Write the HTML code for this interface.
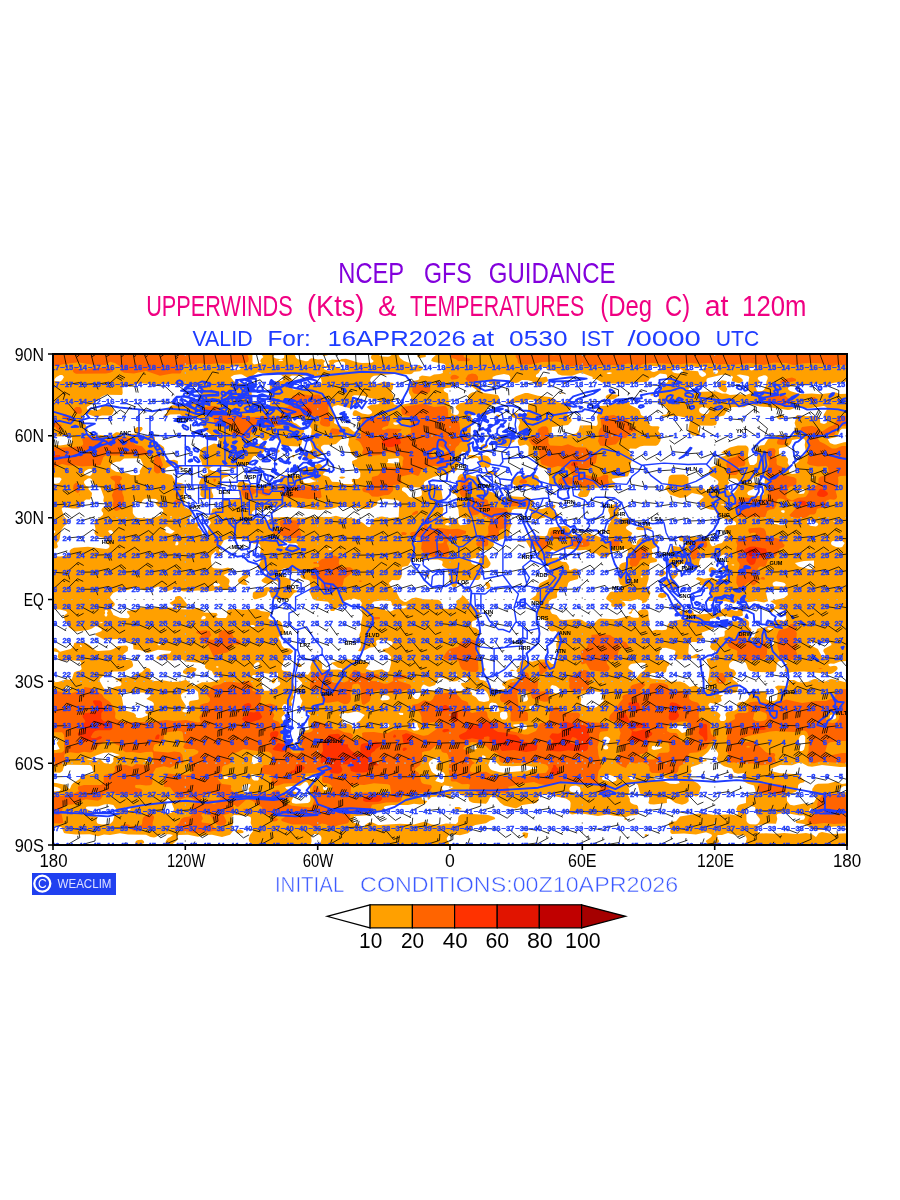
<!DOCTYPE html><html><head><meta charset="utf-8"><title>NCEP GFS GUIDANCE</title><style>html,body{margin:0;padding:0;background:#fff;width:900px;height:1200px;overflow:hidden}svg{display:block}text{font-family:"Liberation Sans",sans-serif}.n text{font-weight:bold}</style></head><body>
<svg width="900" height="1200" viewBox="0 0 900 1200">
<rect width="900" height="1200" fill="#fff"/>
<defs><clipPath id="mc"><rect x="53.0" y="354.0" width="794.0" height="491.0"/></clipPath></defs>
<g clip-path="url(#mc)">
<rect x="53.0" y="354.0" width="794.0" height="491.0" fill="#ffa000"/>
<path fill="#ffffff" d="M254 352l7.8 0 0 3 1.6 2-2.3 2-.9 2 1.1 2-7.3 1.4-1.5-1.4-.1-11 1.6 0zM282 352l2.9 0-.9 5.8-2 1-2 .1-4-.5-2.9-1.4 .9-1.7 6.6-.3 0-3 1.4 0zM296 352l26.4 0 0 3 1.6 .9 4.5-.9 0-3 43.3 0 0 3-1 2 .6 2 2.4 2-1.8 1.7-10 .3-4-.5-12-3.8-4.6 .3-1.4 1.1-8-.6-3.9 1.5 1.8 2-3.9 3.2-2-.5-.1-.7-.3-2 1.7-2-3.3-1.9-4 .3-6-1.2-2 .6-1.9 2.2-2.1 .3-8-2-2-1.6-1.1-2.7 0-3 1.1 0zM380 352l11.6 0 0 3-1.6 1.3-2 .4-6-.2-3.3-1.5 0-3 1.3 0zM400 352l17.6 0-.2 5 2.6 1 5.7-1 .2-5 9.9 0 0 3-3.8 3.6-.8 2.4 2.8 1.1 10 1.6 1.6 1.3-.1 2-2.8 4 .2 2-2.9 1-6 .5-4 2-8-1-2.9 1.5 .2 2-1.3 1.1-6 1.1-3.3 1.8-.9 2 1.1 4 0 4 2.3 4-.7 6-12.5 2.6-4-1.3-1.3-3.3 .9-6-1.9-2-.6-2 1.6-2 .8-6-9.5-1.4-8 2.6-4-1-1.8-2.2 .1-2 1.5-2 2.2-1.3 20-1.7 16 .3 2-.6 2-1.9 6-.6 3-2.2-.6-2-2.4-1.7-2-.3-6 2.4-2-2.4-.2-2-5.8-2.1-4-2.8-1.4-3.1 0-3 1.4 0zM278 360.9l2-1.3 2-.1 1.2 1.5-5.2-.1zM336 362.2l4-1 4 .5 1.1 1.3-.1 2 1 1.2 2.3 .8 .3 2-.6 1.5-2 0-10-3.6-2.6-1.9 .8-2 1.8-.8zM232 366.7l6-.4 3.2 .7-1.2 2.4-6 1.2-3.5-1.6 .5-2 1-.3zM542 367l5 0-.9 2 1.9 1.3 6.6 .7 1.4 .5 2 2.7 4 1.4 10 .2 8-2.7 4 .6 8.6 3.3 .1 2 3.3 .1 6 3.3 4 1.1 22 .2 6-1.1 12-.5 2.1-1.1 1.9-2.5 2-1 2 .1 6-4 6 .6 .8 .8 1.2 6.5-2 2.1-4 0-2 .9-.5 .5 .5 .5 2.9 1.5-1.4 2-5.4 4 1.9 1.3 .8 2.7-.4 6 1.6 1.8 6 1.9 2.1 4.3-.5 2-1.6 1.4-4.5 .6 .5 1.4 16-.4 10 1.9 1.5 1.1 .5 2-1.9 10 1.9 2.7 2 1.3 4 .9 2 0 1.5-.9 .1-2-1.8-4 .4-2 1.8-1.6 12 .4 4-.7 .8-2.1-.6-4 1.5-2 6.3-1.4 4-6.1 2-1.6 2.7-.9 11.3 .3 4-2.1 4-.5 8 1.9 8.1 .4 19.9 2.9 2-.1 8-2.8 10 1.5 16-2.4 2.2 .9 1 2-3.7 6 .6 2 2.2 2 .9 2-.7 2-2.5 1-3.6-1-.6-4-.7-2-1.1-.5-2-.6-10 .3-8.9-1.2-1.5 2 .2 2-1.2 4 1.2 4-2 4 .2 4.5-2 1.9-6-2.6-6-.4-8 3.7-2-.4-2 1.4-3.7 5.9-4.3 .6-3.9 3.4-1 2 2.1 4-.1 6-.6 2-2.5 1.9-4.1 .1-1.4-4-.5-6 .7-6-.7-2-2-1.4-8-.1-8 1.9-6.5 3.6-2.6 2 3.1 .5 2 1.5-2 1.2-4 .5-2 2.4-2 6.5-4.2 1.4-1.8 1.8-1.2 4.2 1.2 2.6 6 3.3 2.2 2.1 .2 2-2.4 3.4-6.3 .6-1.7 3-2 1.6-1.3-2.6-2.7-1.4-10 .5-2-1.9-1.5-3.2-.1-6-4.4-2.6-12 .4-2 .7-1.2 1.5-1.1 8-1.9 2-.7 2 .9 .3 4 5.1 10 3.5 6-.7 6-4.2 9.5 2 2.4 2-4.5 4-.8 2 1.4 2.8 10 3.6 4 .5 1.7 1.1 .4 2 1.9 2.8 7 3.2 5 3.6 1.8-1.6 2.2-.2 2.3 2.2-.5 2-7.8 .6-2 1.3-1.5 2.1 .5 2 2.9 4-.6 2-2.5 2-2.8 4-4 1-4 2.1-2 .2-2-3.1-.7-4.2-1.3-1.7-2-.7-10 .4-14-1.2-2 .8-1.2 2.4 1.1 2 6.1 1 .7 3-.7 1.4-6 .6-8-1.2-2.2 5.2-.1 2 1.5 2 .3 2-3.1 4 .2 2 2 4 3.4 1.2 2-.2 4-3.6 2-.9 2 .1 6 3.8 6 1.2 2.7-1.6 .8-6 1-2 1.5-1 8-.4 6 1.3 6.5-3.9 1.5-.6 2 .7 1.2 1.9-.1 8-4.5 2-1.3 2 4 2 1.7 2-1 4.9-1.3 1.1-8.7 .3-4-1.9-8 1.4-6-1.9-2.3 2.1 4.2 2 .6 4 5.5 1.3 2.9 2.7 2.1 6-3.6 4 1.8 2 16.8 .3 8 2.2 3.3-2.5 2.7-.8 8 2.1 8-1.2 8 1.3 4.6-1.4-.6 0-.6-2-1.3-6 .9-2 3-2.2 2-.4 6 1.2 6-.5 2 1.2 1.8 2.7 0 2-3.8 3-13.9 3 5.9 4-2 3.5-4-.3-2.5 .8 2.5 3.8 2-.4 2-2.9 2-.5 6 .4 2 1.2 2.1 6.4 .1 2-2.2 1.9-6-1.5-10 5-.8 .6 0 2-9.2 1.6-.8 .4-3.1 8-2.1 .6-2.2-.6 .1-4 1.5-2-.2-2-2.4-2 .4-4-.8-2-4.4-3.3-4.9 3.3-7.1 .5-3.6 1.5-1.1 2 1.6 2-1 2-3.3 2 .1 4-.7 1.4-4 .6-8.1 4-1.9 6.1 2 2.7 4 1.2 .3 2-1.5 4-8.5 2 3.4 10-.9 8-1.2 4 1.3 4-.9 4.4-2 .9-4-.6-6-4.2-6.2 1.5-5.1-4-4.7-1.5-10 .2-4-1.8-14-1.2-3.1-1.7 .3-2 2.8-2 6.2 0 1.8-1.4 2 0 2 1.1 2-.6 1-5.1 2.2-2 0-2-1.2-1.1-7.6-2.9-1.6-2 1.8-8 1.4-1.1 4-.1 8 2.1 1.6 1.1-1 4 .7 4 .7 .3 10 .2 6-1.3 6 .1 1.9-1.3-.4-2-1.5-1.1-2 .2-4 2-2.7-1.1-1-2 .6-8 1.1-2 2-.9 6-.1 5.4-3 .2-2-1.9-2-.3-2 .6-.6 12-4.1 .5-1.3-2.5-.4-2.6-1.6 .6-6 14-3.2 8 1.7 10-1.6 1-.9-.5-2 .4-2 7.1-4-2-1.4-4-.4-5.1 1.8-.9 3.3-1 .7-3-.4-6-2.7-2-.1-3.8 1.2-2.2 2.9-2 .8-6-.3-6 1.7-10 .4-2-.6-1.1-2.9-2.9-1-10 1.1-1.3 1.9 1.3 1.5 2 1.5 4.4 1-.4 .4-2.7 1.6-13.3 2.7-2.5 3.3-.7 4-.8 .7-4 .6-6-.6-4 1.4-3.8-6.1 1.4-4-1.1-4 0-4-.5-2.2-2-1.6-4 .2-3.7 1.6-.4 2 1.2 4-1.1 .8-4 0-3-.8-1-1.2-14 3.5-16-.7-2 .9-4 4.1-2 .6-6-1.7-4-2.4-4-1.1-14 1-4-.6-3.5-4.4-4.5-1.3-1.6-2.7 0-2-1.9-6 .5-2 3-2.1 4-.7 1.2-1.2-.4-4 1.3-2 1.9-1.4 6-1.3 1.1-1.3 1.1-4 1.8-1.7 8-2.3 1.2-6-1.2-3.6-2-1-2 .1-4 1.7-1.1-1.2 .3-2-.8-2-1.5-2-.9-.9-4-.3-1.4-.8-2.6-3.6-6 .5-2-.8 0-5.3 2-2.1 6 2.2 .7-.9 7.3-2.3 5.9 .3 6.1 1.4 8-.6 3.4 1.2 .6 2 2 .6 4-.3 4 3.2 6 .8 2-.5 3.8-5.8 6.2 .1 6-2 2.7-.1 1.5 2-1.1 4 .1 4-1.2 3.1-4 .9-2.5 2-1.1 14 1.6 5.2 4.1 2.8-6.1 4.6-2 .6-4-.7-2 .7-3.4 4.8-.5 2 5.4 4-.4 2 .9 1.5 2 .5 10-.5 1.8-1.5-1.8-3-2.6-1 .6-.3 8 .5 8-2.1 4.2 1.9-.2 2.3 4-1.1 2-2.4 2.5-6.8-.7-2-2.7-2-.9-2 2.4-8 .1-4-.8-2 1.6-6-.4-2 1.3-2 5.6-1.1 1.2-.9-.6-2-4.6-2 0-2.9 1.2-1.1-1.2-1.4-.2-2.6 4.2-1.8 2.7-6.2-1.3-2-1.4-.5-14-.6-2 .4-2.8 2.7-.9 4-2.3 .1-2-.9-.7-1.2-.8-6 1.8-4-6-4-.3-2 5.7-4 0-2-3.7-3.1-8 .9-3.2-1.8-.6-2 2-2 .6-6-.8-2.3-2-.7-4.2 1-2.6 2-.9 2 0 2 1.7 4-.6 4 1.7 2-2.7 4-1.1 4-.2 2 2.2 4-.5 2-2.8 2.2-2-.2-8-3.4-10-2.6-8.1 2-5.9 .1-2.2-6.1-1.8-2.1-2-1-2 0-14 1.9-1.1 1.2-1.8 6-1.1 1.2-14-1-2 .6-3.2 3.2-.8 1.8-6-.9-3 1.1 1 1.1 8-.9 4 6.9 7.7 2.9 .9 2-.9 4 2.3 2.2 6 1.8-1.2 2 4.1 4 .6 2-1.7 4 .7 6-8.5 4.3-1.1 1.7-2.9 10.2-5.2 3.8 7.2 3 1.5 3-.6 4-3.2 4 6.3 6 4.8 2 .4 2-1 2 3.8 5.8 2 .7 4-.4 1.3 1.9-1.8 4 2.7 4-1.8 2-.2 2 1.8 14-2 3.6-2 1.3-2 .2-4-3.9-2-.8-6 0-8 2.3-10-1.8-2 2.9-.5 4.2-2.3 2-.9 2 2 2-.1 2-1.1 2-1.1 1.2-6 1.1-7.5 3.7-.3 2 2.9 2 0 2-7.1 1.1-6-1.8-2.3-1.3-3.7-5.3-2-1.2-4-.8-1.7-2.7 2.5-4 3.5-2 1.4-2-3.7-2-.3-2 1-4-2.1-4-1.1-6 .7-8-1.6-6 1.2-6-3.8-3.1-4.1-.9-.5-4 1.3-2 3.3-1 2-1.7 1.7-5.3-1.7-3.4-8-5.8-2-3.3-4-4.2-2-1.2-.4 1.9-5.5 4 .7 4-.8 2.3-4 1.6-8-.2-1.9-1.7-.5-4-1.2-2-2.4-1.2-14-.6-8-1.8-4 .9-6 3.7-2-.2-4-2.7-3.1-6.1-.1-2-.8-.9-2 0-4.2-5.1-.9-2 3.1-2.9 6 .1 2-.7 1.4-2.5 .8-4-.6-4 .8-2 5.6-1.3 4-6.4 2-.7 6 .9 18-.1 4.4 1.6 .3 2-.8 2 1.9 2 4.1 2 .3 4 1.4 4-.2 4 2.6 5.2 2 1.2 2-.7 2.4-5.7 1.6-.8 18-.2 1.6-1 1-2 0-6 1.3-2 6.1-1.2 2.3-2.8 .3-2-4.6-8-6 1.8-1-3.8 1-2 2-.7 6-.2 2-1.2 4.1-3.9-1.2-4 5.1-.6 10-3.5 1.3-1.9 .5-6 1.5-4 0-2-1.5-4 2.2-9 2.3-1 3.7-.3 12 .7 1 1.6-.1 6 3.1 1.9 4 0 8-1.7 10 2.6 2-1.1 .8-3.7-2.8-2.8-2.4-1.2-.1-2 1.8-2 0-2-3.3-.6-2 .5-4 2.8-4 1.4-4 .1-6-1.5 .3-2.7 1.8-2-.2-2-3.9-2.8-2-.8-16-1.1-6 1.5-4.9-.8-5.1-1.9-1.8-2.1-12.2-4.2-1.1-1.8 .5-4-3.4-5.5-2-1.1-4-.5-4-2-4-.4-4 1.1-2.1 2.4-1.9 11.1-4 2.1-.3 .8 1.5 2 2.8 1.9 1.2 2.1 .4 2-1.6 6 2.4 4 .7 8 6.9 1.5 1.3 2.5 .3 2-1.6 1.7-6 .5-1.6-2.2-.4-4-2-.5-6 .4-7.1-1.9-.7-2 1.4-6-2.4-6 1.5-4-1.5-10-3.2-2.5-4-1.1-4-.8-4 .7-2.4-.3 .4-2.4 1.5-1.6 7.8-4 6.7-1.9 7.1-.1 4.9-3.5 4-.6 1.5-1.9-.3-2 2.3-4 .1-4 1.2-2 .4-4 .8-1.6 6 1.4 2-.6 1.2-1.2-1.2-6 .3-4 1-2-.8-6 .4-6 .4-2 2.5-2 .9-2-3.8-4 .8-2 2.3-.6 13.8 .6 2-2-3.6-2 .3-2 3.5-3.5 2-1 6-.6 2-.9-.9-6-1.4-2-13.8-2-3.9-2 2.7-2-2.7-2-.8-2 1-2 3.8-2.8 2-.3 2 .2 .9 .9 0 2 3.1 1.5 4 .2 2-.6 2.1-1.1 .1-2-7.6-2 0-2 3.4-1.6 8-1.5 4.8 1.1 1.5 2-.3 4 2 1.6 4 .5 2-.5 4-2.6 6 .3 4 1 6 5.3 3.2 .4 3.3-4 3.8-2-1.5-4-.8-.3-6 1.1-4-.8 0-2 2.7-2 3.3-6zM563.8 381l.2 2.3 2 .5 1.2-.8 .3-2-1.5-.6-2.2 .6zM593.8 391l.8 0-.8 0zM525 393l-9 3.3-4 2.9-7.4 3.8 17.4-.5 2-.4 2-1.5 4-1 4 .4 2.3 1-2.3 2-4 .4-2 1.5 .1 6.1-2.1 3.4-2 .3-10-1.9-2 .7-.2 3.5 6.2 2.2 1.7 1.8 .1 2-1.4 4 1.3 10-2.1 4 1.1 4 1.3 1 6-1.4 2 1.5 .6 .9-.3 8 1.7 1.8 6 1.6 1.2 2.6 .4 4 2.4 2 5.9 2 2 2 1.4 8-.7 6 1.4 1.2 8 .1 8 1.7 8-1 4 .8 1.9 1.2 .3 2-2.6 4 2.4 2.3 6-.2 2-1.3 2.8-6.8 1.2-.7 8-.9 10 .6 3.9-1 1.8-4-3.2-2-.5-2.3 16-2.5 3-7.2-.9-4 1.6-4 .6-4-.7-2-3.3-4 1.7-2.5 6 .2 4-2.3 4-.7 12 .1 2-1.1 2.4-3.7 .9-6-3.1-4 1.4-4-1.6-.8-6 0-2-.6-1.6-2.6-.4-4.4-7-3.6-1.2-4-1.4-2-8.4-4-.9-4-3.1-.9-6 1.3-4 1.9-8 2.1-8 .6-1.9 1-1.4 2 1.8 4-1.7 4 1 6-.5 2-1.3 1-6-.7-10 .2-1.5 5.5-2.5 2.5-8 1.8-14 1.6-2.4-1.9 .3-8 16.1-1.9 3.7-4.1-.3-2-3.7-4-.8-2 4.1-4-.4-4 1.9-2-.3-2-4.2-.6-6 2.3-2 .1-2-.8-4-3.4-4.5-1.6-11.5-1.2-10-2.9-3 .1zM560.8 393l1.2 .7 2.4-.7-3.6 0zM653.9 393l-4 2 2.1 .7 2.3-.7 1.1-2-1.5 0zM559.1 395l1 0-1 0zM606.9 395l-1.4 2 .5 .9 2 1.5 2 .3 4-.8 6.1-3.9-10.1-1.1-3.1 1.1zM581.4 407l-3 2 3.9 0 1.7-2-2.6 0zM495.7 415l2.1 2 1.9 0-.5-2-1.2-.5-2.3 .5zM779.5 415l-3 2 1.5 2.1 2 .6 2-.6 2.3-2.1-2.3-1.9-2.5-.1zM499.8 435l-2.2 2-3.9 6 6.3 2.5 6 1.2 2-.5 2-2.3 5-2.9-1.7-2-7.3-4.6-6.2 .6zM481.6 445l-1 2 1.4 1 4 .5 1.9-1.5 .1-2.1-4-.8-2.4 .9zM468.9 455l-2 2 3.1 1.2 2 .4 4-1.1 2 .5 1.1 3 .7 6 8.2 .8 2-1.2 1-5.6-.5-2-2.5-2.8-4-.9-6 1.1-4-1.5-5.1 .1zM521.7 457l1.1 0-1.1 0zM487.8 471l-2.7 2 2.9 1.5 8 1.1 1.7-2.6-3.7-2-6.2 0zM531.9 475l-13.9 .8-6.5 3.2 .1 4 4.4 3 4 1.2 18-1.2 .8-1 .2-4-.6-4-2.4-2-2-.6-2.1 .6zM659.9 489l.6 0-.6 0zM504.1 493l4.6 0-.7-.9-3.9 .9zM659.8 497l.2 .7 .5-.7-.7 0zM637.1 527l-1.4 2 2.3 1 8 .2 5.9-1.2-.7-2-5.2-1.3-8.9 1.3zM515.4 543l.8 0-.8 0zM708.9 569l-.3 2 1.4 1.6 2 .8 2-.6 2-1.8 0-2-4-2-2 .5-1.1 1.5zM661.1 571l-2.5 4 1.4 1.6 2 .2 5.2-3.8-3.2-2.6-2-.8-.9 1.4zM425.9 573l-2.7 2 2.5 2 2.3-.3 1.6-1.7-1.3-2-2.4 0zM672 573l-1.2 2-.1 2 1.1 2-9.8 1.3-.5 .7 7.5 8 3 1.2 2 0 2.1-1.2 .9-2 0-2-1-2.4-3.7-3.6 1.7-.3 3.9-3.7 .1-2-2-1-4 1zM485.3 583l.7 2.8 1.7 1.2-2.3 2 2.9 0 2.5-2-1.6-4-1.2-1.1-2 .2-.7 .9zM465.9 589l-.9 2 3.2 0 .1-2-2.4 0zM660 593l-1.8 2-.1 2 3.9 1.2 4-1.2 .6-2-1.7-2-4.9 0zM637.3 605l1.3 0-1.3 0zM672.2 605l-1.5 2 1.3 1.8 2 .9 6 .5 1.6-3.2-.5-2-1.1-.6-4-.4-3.8 1zM752.8 607l5.2 .8 3.9-.8-3.9-.8-5.2 .8zM631.1 609l.6 2-3.3 2 1.6 1.1 1.8-1.1 .4-2 2.2-2-.4-.6-2.9 .6zM509.7 671l5.4 0-3.1-1.6-2.3 1.6zM650 366.5l2-.4 10.4 .9-5.1 4-3.3 1-2-.3-2-1.5-.9-1.2 .1-2 .8-.5zM688 366.8l4-.6 8 1.4 4-.9 4.2 .3-6.1 2 .3 2 3.2 2 .6 2-2.2 1.6-2 .3-2.5-1.9-1.5-3.8-8-.6-2.5-1.6-.1-2 .6-.2zM750 367l4.9 0-.1 2-2.8 1.5-2-.4-.5-1.1 .5-2zM324 368l2-.4 6.1 1.4-2.1 1.8-2-.1-4-1.5 0-1.2zM674 368.3l4-.2 2.8 .9 2.5 2-1.3 2.1-4 .4-4-.7-2.1-1.8 2.1-2.7zM714 369.6l2-.1 2.1 1.5-.4 2-1.7 1.1-2-.7-.9-2.4 .9-1.4zM258 371.9l4 1.3 16 .9 3.1 .9 2.6 2 .1 2-1.8 1.8-10 .9-2.4 1.3 .4 8-1.1 4 .7 6 .8 2-.9 2-1.5 .8-4-.4-6-4-4 .5-2-1-.6-13.9-.4-2-1-1-13.2-1-3.1-2-3.1-4 3.4-2.1 6-.7 2 .2 6 3.6 2 .5 2-.5 1.7-3 4.3-3.1zM608 372.5l2-.2 2.4 .7-2.4 1-2-.1-1.6-.9 1.6-.5zM60 375l2.3 0 1.7 2-2 3.2-2 1.3-5.5-.5 .1-2 1.9-2 3.5-2zM306 374.9l4-1 6 2.8 4 .9 1.2 1.4 .5 4-1.7 1.3-2 .3-6-.9-8 5.1-10 1-1.6-.8-.3-6 1.2-2-1.3-2-2.8-2 2.8-1.5 10 .6 4-1.2zM722 374.7l6 .1 4 1.3 1.2 .9-1.2 2-.1 2 6.1 2.1 2-.2 2.9-1.9-.6-2-5.8-4 3.5-.4 8 1.3 1.3 1.1-1.8 10 1.3 4 1.2 1.6 1.2 .4-5.2 1.9-6-.6-10 .7-4-1.6-4 .1-6-2.3-14 .5-10 1.9-2.2-.6-1.2-2-.1-2 1.5-2.1 12-1.7 4-1.7 .7-4.5 1.3-1.1 14-3.2zM720 381l-1.4 2-.8 4 2.2 2.7 4 2.5 2 .1 1.3-3.3-2-4 1.5-4-4.8-.8-2 .8zM760 376.5l4-1.3 2 .3 1.7 1.5-.1 2-1 2-1 6-1.6 2.8-2 1.2-4 .2-1-.2-1.5-4 1-2 3.4-2-.1-2-2.2-2 .8-2 1.6-.5zM834 382.7l15-1.5 0 12.3-9 .6-4-1.5-2-.1-14 1.8-8-.8-12 .6-9.9-3.1-2.2-2 .6-2 9.5-2.2 18-1.2 10 1.5 8-2.4zM134 384.9l6-1.6 16 1.2 10-.5 16 1.1 10 1.6 6-.3 1.2 .6 1.4 4 0 4-.8 2-1.8 1.8-8 4.3-8 2.4-10-.2-5.9 3.7 1.4 4-3.7 2 2.2 1.4 4-1.8 10-.4 3 2.8 .4 2 2.6 .5 8-.2 4-1.7 2 1.3 2.1 4.1 1.9 6.2 8 6.4 5.4 1.4 1.6 2 1 4.1-2 1.1-4-.6-6 2.7-4 .8-2.9 1.9-.9 2-1.2 6 2.3 4 .9 4 1.8 2 3.5 2 .7 4-6.2 3.3-3 6.7 1.6 8-.3 4 1.4 2 2.3 1.2 6 1 2-.3 1.3-1.9-.1-2-1.7-4 .3-2 8.2-2.3 2.5-1.7-.9-4 .7-2 1.7-1.6 4-1 1.5-1.4-1.7-2-1.8-.5-14-1.7-3-1.8 2.1-2 2.9-1.2 4-.3 10 1.7 6 1.8 4-2.1 10-1.8 4.8-8.1 1.2-1 6-.8 2.6-2.2 2.9-4 .2-2-.8-2-.9-1.4-2-.3-4 .8-4-.2-2.5-2.9 .5-2 2-1.5 6 .5 4 2.7 2-.3 4-2.8 6 .5 3.7 2.9 2 4 2.3 .8 14 .7 3.1-1.5 1.4-6-.1-4 2-4-1.3-2-3.1-2.6-4-2.8-2-.6-2-1.9-.3-2.1 2.3-1.1 8 1.8 6 .4 1.3 .9-.9 2 .4 2 2.9 4-.6 6-1.6 4 2.9 10-2.4 2.8-4 .7-2 1-1.2 1.5 1.5 2 5.7 2.4 6-1.2 4-2.2 3.5-3-.6-2-1.7-2-.3-2 1.1-1.3 2-.9 8-.1 4-.8 7.4-6.9 4.6-.5 1 2.5-.9 6 1.9 3.2 .9 4.8 1.1 1.8 2 1.3 3.3 .9-.1 2-5 2-.2 2 2 3.1 4 2.1 2.4 4.8-.2 4-2.2 1.9-6.2 .1 .2 2.8 1.9 1.2-1.9 1.2-8-.2-6-2-6-.3-3.1-4.7-6.2-2 1.3-2.3 3-1.7-1.2-2-5.8-5.2-2 .2-8 3.1-8 .7-2 1.2-.8 2 1 2-.2 2.1-2 .5-12-.3-4 .8-1.4 .9-.7 2 .1 4-4 2-20 .4-10-2.3-4-2.1-2 .2-1.9 1.8-.7 2 2.5 12-1.9 1.8-2 .5-6 .4-6-1.1-1.4 .4-1.3 2 .2 6-1.5 1.4-6-.1-1.8 .7-.9 4-3.5 6 2.3 2 .8 2-3 4 .7 2-1.9 6-2.7 1.3-2.1-1.3-.3-4-4.2-4 1.8-2 .7-2-1.9-1-4 1.2-2-.1-3.5-2.1 .3-2 2.9-4 .3-2-.6-2-1.4-1.4-5.6-2.6 .1-6-.9-6 .9-10-2.5-1.7-6-1.1-4.2-7.2-5.8-1.2-.9-.8-.4-2 1.3-2.8 2-1.2 10-3.2-.2-2.8-3.8-1.2-8 1-1.2-1.8-.9-4-.1-4 .7-2-.7-2-3.8-2.8-4.6-1.2-.7-6-2.7-1.6-2-.3-8 1.4-3.8-1.5-.2-1.5-14 .8-6-2.1-2 .1-4.1 2.7-5.9 .7-21.3-2.7 2.9-2 0-2-4.9-10-.2-2 1.5-1.7 2-1.2 2 .1 8 2.8 6-1.6 8 0 2-.6 1.9-3.8-.3-2-1.6-1.6-4-1.8-4-.1-2 .8-2 2.9-4 1.4-8-.9-1.1-.7 0-2 9.8-6 4.3-4 3-1.6 2-.6 16 .2 .7-2-.4-6 1.7-1.6 6 1.3 4-1.8zM137 427l-2.3 2-.6 2 1.9 1.8 2 .2 2-.8 2.8-3.2-.9-2-4.9 0zM187.9 433l2.3 0-2.3 0zM273.2 449l-1.2 2 4 1.9 2-.1 2.2-1.8-2.2-1.7-4.8-.3zM292.4 455l.1 2 1.5 .5 .8-2.5-2.4 0zM177.6 467l2.4 1.4 2-.6 .6-.8-2.6-1.2-2 .3-.4 .9zM247.9 473l2.1 .6 1.4-.6-1.4-.7-2.1 .7zM339.3 477l.7 1.2 2 .5 2-.4 1.5-1.3-3.5-.5-2.7 .5zM458 384.8l4-.6 5.3 .8 5.3 2 5.4 3.9 1.7 .1-7.7 1.6-2 1.1-1.6 1.3-.5 2 .6 2-1 2-1.5 1.1-6 1.2-2.7 1.7-1.9 2 .9 2 2.4 2 .2 2-.9 1.5-2 .5-2-.2-2.7-1.8 .4-4-2.7-6-1-9.5-4-2.2-.4-2.3 2.4-1 4-.3 8-2.9zM352 396.5l2-1.2 2-.1 8 .6 6 2.1 8 1.6 1.7 3.5-1.7 1.3-6 .2-5.4 2.5 5 4 .5 2-2.1 1.3-2 .3-6-1-6-3.4-2 .2-1.3 2.6 0 2 1.3 1.1 4-.2 .6 1.1-.4 6 .7 6-.9 1.5-2 1.1-2 .1-6-4.7-6-.6-4.5-1.4-3.5-2 .6-4-2.3-10 .3-2 1.4-1 4-.9 12 3.2 2-.9 .7-2.4 1.3-1.6 4.4-.4 5.5-2-1.9-1.1-8 .2-2-2.2 0-1.4zM700 408l2-1 4 .6 2.8 1.4 .7 2-1.5 2.4-2 .8-4-.4-2-1.2-.9-1.6 .1-2 .8-1zM394 422.2l8.3 .8-6.3 1.9-2-.3-.9-1.6 .9-.8zM842 428.8l7-.2 0 13.4-5 .2-8 2.2-2 .1-4-1.5-2.3-4 8.7-2 1.6-2 2-4.8 2-1.4zM54 436.4l16-.2 2 1.6 0 5.2-2 1.1-10 1.4-9-1.2 0-7.9 3 0zM798 439l4-.6 2.3 .6 1 2-.6 4 1.4 8-2.1 2.7-5.7 1.3 1.2 2-.4 2-4.8 4 .7 2 2.7 2 .3 2-2 2.5-4 .4-2.4-.9-.8-2 1-4-2.1-4 .4-4-2.1-2.7-6.8-1.3-.4-6 1.2-1.1 6-1 3.5-1.9 1.5-2 1-3.1 6-.9zM124 458.6l14-.4 2.6 .8 2.8 6-3.7 6 .3 2.7-2 1.4-7.1-.1-2.9-1.4-12-1.8-4.5-2.8-1.1-2 .5-2 1.7-2 3.4-1.2 4-.2 4-3zM388 459l10-.9 1.2 .9-.4 4-.8 .7-10.9-.7 1.1-2-.2-2zM90 468.8l2 .6 .9 1.6-.9 3.1-2 2-4.8-1.1-1.5-2 1.3-2 3-1.8 2-.4zM754 477l6-.6 4 1.3 1 1.3-1 8 .2 6-1.1 2-5.1 .9-8-.5-1.8-.4-1.1-2 1.6-2 4.7-2 5.8-4-3.2-2.2-2-.4-5.1 .6 5.1-6zM812 476.4l2 .6-2 1.8-1.2-1.8 1.2-.6zM54 477.6l6-.2 1.7 1.6-2.4 4-3.3 .7-5-.3 0-5.8 3 0zM88 478.6l2-.4 1.6 .8 2.4 5.2 6.3 2.8 3.6 10-.6 4 2.4 4-4.1 4 0 2 1.6 2-.3 2-7.5 6-1.2 2 1.3 6-1.1 4 1.6 2.7 11.7 3.3 .2 2-2.1 2 3.5 2 .2 2-1.5 1.5-2 .6-18-2.4-14 1-2.7 1.3-1.9 2 .8 2-.6 2-9.6 1.6-9-.3 0-7.6 5-.2 2-1.4-1.1-4.1 2-2 .8-2 1.1-8 3.2-4.7 4-3.3 .2-2-4.2-4.8-2.4-7.2 .4-.7 2-1.4 8 1.7 6 0 2.9-1.6 3.2-6 1.9-1.4 4 0 1.5-2.6 .5-4.1-3.6-3.9 .4-2-2.8-1-2-3 .3-2 3.7-2.4zM304 477.8l6 .5 4 2.2 2.8 .5-7.6 2-4.7 0-1.5-2-.1-2 1.1-1.2zM728 478.9l4-.7 4 .3 1.1 .5 2.7 4-2.8 6-3 4.2-2 .3-2-.8-2.7-3.7-.6-2 1.3-2.7 1.6-1.3-1.6-2 0-2.1zM404 486.9l4 1.3 6-1 6 .4 1.8 3.4 0 4-1.8 1.4-2.4 .6-5.6 .6-2.9-.6-3.4-4-3.7-2.5 0-2.2 2-1.4zM330 489l-.7 0 .7 0zM804 488.9l1 2.1-1 2.6-4 .4-2-1 2-2.7 2-1.2 2-.2zM146 498.6l9.7 .4 2.6 2-3.1 2 2.8 3.4 4.8 2.6 .6 2-2.5 4-4.9 2.3-6 1.2-12-.5-2-.7-2-2-1.2-2.3-.1-6 1.9-4-.6-2.5 2-.2 1.2 2.7 2.8 .8 1.5-.8 .7-2 1.8-1.9 2-.5zM384 498.7l12 1.1 3.1 1.2 .8 2-.8 4-.4 10-8.7 .9-8-1.5-4 .7-4.4 1.9-1.5 2-2.1 6.1-2.1-.1-4.7-4-9.2-4.7-12-.7-6-1.8-5.3 1.2-20.7-.2-8 1-18-.9-12 .5-4 2.9-2 .2-8-2.2-4 .6-2.2-1.9 .2-4.9 2-1.9 24-3.2 14 .2 28 2.7 10-.8 8-2.1 10 0 18 1.9 4-.1 6.8-3.8 .8-4 6.4-2.3zM846 501.9l3 0 0 1.2-3 0 0-1.2zM722 504.2l2 .1 .5 .7-.5 .5-3.8-.5 1.8-.8zM782 510.3l2-.1 .8 .8-.6 2-2.2-.4-1.2-1.6 1.2-.7zM170 516.6l2 0 0 1.6-2 .3 0-1.9zM808 520.6l2-.4 3.6 .8 4 2 .7 2-2.3 1.5-6-.7-2.8-2.8 .1-2 .7-.4zM834 520.7l1.8 .3-1.8 .8-1.3-.8 1.3-.3zM448 522.7l2 .8 1 1.5-3 .6-3.2-.6 1.2-1.5 2-.8zM772 522.1l6 .8 4-1.5 2 0 1 1.6-.2 2-4.8 .3-4-1.4-4 .6-1.8-1.5 1.8-.9zM166 526.5l2 .2 4 3.3 2.8 1-2.8 2.4-2 .3-4-1.3-2.2-3.4 2.2-2.5zM54 530.3l1.3 .7-.5 2-3.8 .3 0-3 3 0zM108 530.9l2-1 2 .5 1.5 2.6-1.5 .9-2-.2-2-2.8zM228 538.9l16 .4 4 1.2 6 3.2 4-.4 2 1.4 1 4.3-.9 4 .6 8-3.1 6 .9 2 1.5 1.1 4 1.1 4-.7 1.3 .5-3.3 4-.7 2-3.3 2.4-.6 1.6 2.8 2 3.8 1 2-.5 4-3 2.9 .5 1.1 1.5 0 4.6-4 .8-8-.8-6 3.1-6 1.5-1.1 1.3-.3 4 1.4 2.2 2 .1 8-2.6 2.7-1.7 1.3-3.9 2 1.6 1 4.3 2.6 2 12.4 .8 4-1.9 4-4.8 4-1.4 .6-.7-4.6-1.2-2.5-2.8-1-2 .3-4-.8-1.9-6-2-2-2.9-1.2-3.2 1.2-1.8 2-.8 2 .2 6 2.6 6-.5 2 .9 .8 1.4-.4 4 2.7 2 4.9 1 1.7 1 .8 6-1.3 4 3.6 8 3.2 1.5 12 1.2 2.6 3.3 .3 2-.8 2 .6 2 3.3 0 2-2.2 6.7-3.8 1.9-4 1.4-.8 8-1.8 6 1.8 1.9 2.8-1.1 4 1.9 8-1.6 8-.3 8-1.5 4 1.7 10-.4 2-2.6 4 4 .4 8-3.8 5.1-.6 1.6-2-.8-4 2.1-1.3 13.1 1.3 1.8 2-1 2-3.9 3-5 1-.3 2 5.3 2.6 3.3 3.4-.7 2 .6 4-2 8-1.2 1.1-2-.3-4-2.6-10 1.5-6.4-1.7 3-4-.6-2.6-14-2.8-10-.3-2 .1-10.9 3.6 6.9 4.8 4 .8 .5 .4-.5 1-4-.5-14 .3-2-.8 .3-4-1.5-4-2.8-1.8-2-.4-2 .3-1.7 1.9-2 6 .4 4-2.7 3.8-8-1-6 .4-4-2.6-6-.6-2-1-.5-3 3.7-10 6.7-4 1.3-2-3.2-2.4-6-.7-2-2.2-1.5-4.7-1.5-2-.5-2 6.1-4 .2-2-1.6-2-1.6-6-1.6-2-2-.6-6-.2-3.5-1.2 .1-2 1.5-2-.1-2-2-1.1-7-.9-5-2.4-12 1.4-8-1-6 .3-3.4 1.7 1.1 4-1.7 2.9-8 .2-2.2-1.1 1.9-2-1.2-2-12.5-.6-4-3.6-2-.9-8 1.7-14.3-.6 .3-1.1 8 .4 3.7-3.3-5.7-7.5-2-1.5-2-.1-2.9 1.1-.1 2-1 1.2-4.6 2.8 4.6 3.6 1.6 .4-1.6 .8-18-.6-6 1.4-8-1.1-6 2.2-9 1.3 .4 2 1.9 2 .4 2-1.7 1.2-8-.4-6.5-2.8-3-6 4.3-4-.3-2-3.7-4-.8-2 3-4 5-2.1 10-1 8-2.4 2 .2 6 2.5 4 .1 10-3.9 2.3 .6 3.7 4.5 2 .3 8-2.9 10 2.5 14-1 12 .8 6-1 10-.2 3.5-1 1-2-1.9-2 1.1-4-.8-2-5.5-4 8.7-4-.5-2-3.6-1.5-6 1.2-8-.5-2.1-1.2-1.2-8 .9-4 4.4-4 .8 4 1.2 1.4 4.7-1.4-.7-2-3.2-2 1.4-4 3.8-6.7 4-1.4zM243.9 571l-1.1 2 1.2 2-5.4 4-.8 2 1.2 2 3 1.5 4 .8 1.8-.3-2.5-4 .3-2 2.8-2 0-2-4.5-4zM117.3 605l2.7 .5 1.9-.5-1.9-1-2.7 1zM296 663l-.6 2 2.3 2 3.9 0-.3-2-1.3-1.3-2-1.4-2 .7zM284 541l6 2.5 6-.4 2.1 1.9-2.1 1.7-6-.5-6.5 .8-1.6-2 2.1-4zM414 540.6l2-.4 2.1 .8-2.1 1.7-2-1 0-1.1zM834 540.8l8 0 2.7 2.2-2.5 4-2.2 .5-4-.4-4.3-2.1-.8-2 1.1-1.7 2-.5zM176 541.4l2 .4 .5 1.2-.5 2.1-2 .5-.8-.6 .8-3.6zM328 548.9l2-.6 2.3 .7-2.3 1-2-1.1zM454 558.7l3 .3-3 .3 0-.6zM472 558.5l6-.9 2 .6-2 5.9-2 1.2-4-1.4-1.5-2.9 .3-2 1.2-.5zM804 560.9l10-.4-.1 6.5-1.9 1.9-2 .3-10-2.1-2-1.1-3.1-3 9.1-2.1zM732 564.5l2-.1 .3 .6-.3 .6-2-.3-.6-.3 .6-.5zM642 575.6l.8 1.4-.8 .8-1.6-.8 1.6-1.4zM632 578.7l2.1 .3-2.1 .4 0-.7zM214 582.7l4 .1 2.4 2.2-2.4 1.2-4 .1-.8-1.3 .8-2.3zM774 581.9l2-.7 6 1.1 2.5 .7 1.5 2-2 1.5-10-.3-1.3-1.2 0-2 1.3-1.1zM382 600.5l8.6 .5 1.2 2-.1 2 2.3 1.4 12-1 .9 1.6-2.9 1.6-6-.6-8 3.7-2-.4-5.7-2.3-2.3-1.7-2-.5-4 .7-2-.7-.7-1.8 .8-2 1.9-1.4 8-1.1zM804 606.7l0 .5-.6-.2 .6-.3zM54 609.5l6-.1 6 1.6 1.5 2-2.8 2-.9 2 1.3 4 3.2 4 .3 2 5.4 3.9 2 .5 12-1.5 4-1.4 4-2.8 5.6 3.3 .1 2-5.7 2.3-.8 1.7 8.8 4.4 16-.4 6 2.4 4 .4 2.2 1.2 1 2 .2 4 .6 .5 6 .5 8 3 10-3.3 13.4 1.3-1.4 2.5-6 .5-4 1.1-3.4 1.9-.2 2 3.6 1.2 4-.7 8 1.1 10-1 4 1.9 16.1 1.5 3.2 2-.5 2 1.6 2 5.4 2 2.2 4.2 4 .6 2.1 3.2-2.1 1.7-8 1.5-8 0-8 3.7-8-6.2-6 1.7-8 .6-8-1.5-10 .4-4.5-1.9-.1-2 1.1-2 .2-4-.7-2-2-1.1-2 .2-4 3.9-7.2 3-2.8 2.5-6-.3-11.3 1.8 5.3 2.7 1.4 1.3-.1 2-1.3 1-4 .4-4 1.9-6 1.2-2-1.1-1-1.4-3.3-6-.1-2 6.8-6 7.6-1.6 10 .2 8.4-4.6 .8-2-1.2-4.1-2-.9-4 .1-3.1-3.1 0-2 1.1-1.5 3.7-2.5 .5-4-2.2-1.5-8 .5-4.5 3-3.5 1.2-12 .7-2-.3-2-1.3-4-3.8-4-2.5-8-1.1-3.7 1.1-1.3 4-2.4 2-8.6 2.2-2 .5-4-3.4-5 0 0-38.8 3 0zM192 667l-6 1-3 3 0 2 3 1.5 2 .1 7.7-3.6 1-2-.7-.8-4-1.2zM106 609.5l2 1.5-1.1 2 .7 2-1.6 2.1-1.7-2.1 .9-2-.5-2 1.3-1.5zM202 616.8l2-1.1 2 1.3-.9 2-3.1 .6-.9-.6 .9-2.2zM100 622.6l2-.6 .9 1-2.9 .3-1-.3 1-.4zM164 624.6l2-.3 2.8 .7-4.8 .5-1.3-.5 1.3-.4zM252 624.9l2.1 .1 1.1 2-5 0 .6-2 1.2-.1zM768 627.4l4 .3 2 1.3-4 1.2-2.9-1.2 .9-1.6zM770 640.5l4 .3 0 3.5-2 .8-2-1.2-.5-2.9 .5-.5zM158 642.9l3.6 .1-1.6 2.5-2.5-.5 .5-2.1zM808 642.8l2-1.1 4 .9 14-.6 3.1 1 .4 2-7.6 4-.7 2 2.3 4-.6 2-.9 .3-2-.5-4.1-7.8-7.9-4-2-2.2zM80 644.9l1.2 .1 .9 2-2.1-.6 0-1.5zM54 651.5l4 .8 .5 .7-.9 4 2.4 3 2 .8 10-.5 8 .7 1.4 2-.6 2 .9 4-1.7 1.6-4 .8-2 1.1-2 6.2-2 1.1-4-.3-8 2.4-7 .4 0-30.8 3 0zM734 660.7l10 1.1 1.9 1.2 2.2 6 1.9 1.8 4 .9 14 .7 6-.5 2-.9 .8-8 2.3-2 2.9-.1 4.9 2.1-2.4 8 3.5 1.9 4-.8 12-.5 26 2.3 2-.3 3.9-2.6 1.7-2-.3-2-1.3-1.1-2-.2-4 .7-2-1.7 2-1.1 4 .2 6-2.3 9-.7 0 21.4-3 0-14-3.2-2 .2-4 2-4 .6-6-2.7-2-.2-6 2.8-6 .8-4-.5-4-1.9-4-.1-2 1 .5 4-.5 .3-2 .7-8-.6-3.1 1.6 3.1 4-.9 8-1.1 1.2-2 .9-4 .1-4-2.2 1.7-6-1.7-1.1-8-.4-7 1.5-2 2 .2 2-1.2 2-2 1.8-2 1.1-4 .2-2.3 .9-.6 2 .2 4-3.3 1.7-6 .7-2.2 1.6-.5 2 .8 2-.1 2.5-2 1.6-3.4-.1-1.3-2 1.3-4-1.7-2-2.9-1.7-4-.6-2-1.9-1.8-3.8 1.8-2.2 6 1.1 5.7-2.9-.9-4 2.4-2-3.2-.1-4.2-1.9 1.8-2 2.4-.3 2 .3 2 1.6 8 .7 4-.8 1.2-1.5 1.5-6-1.1-2-5.4-4 3.3-4 .7-2-2.2-3.2-4-1.3-1-1.5 0-2 .9-2 2.6-2 1.5-.3zM256 662.7l2-.7 1.8 1-1.8 6-2 .5-2-.4-.6-2.1 .6-2.6 2-1.7zM642 662.6l3.6 .4-.2 6-1.4 1.8-3.5 2.2-4.5 5.5-4 1.1-1.7-.6 .1-2 2.8-4-.6-2-3.8-2-.5-2 1.7-2.2 2-1 10-1.2zM216 666.5l2-.3 .6 .8-.6 .8-2-.5 0-.8zM562 668.9l4.3 .1-4.3-.1zM662 668.9l0 .7 0-.7zM264 672.9l8 1 4-1.2 2 .2 0 5.6-1.6 .5 1.6 .2 .5 1.8 1.9 2-.6 2-9.8 5.7-6 .1-2.6-5.8 .3-4-.6-2-1.1-1.2-6 .5-2.4-1.3 1.2-2 3.1 0 2.1 .8 4-2.6 2-.3zM272.6 679l-1.1 2 .5 2 2 .6 1.7-2.6 .2-2-1.9-1.2-1.4 1.2zM454 673.8l2 .2 1.4 1-1.4 1.1-2-.1-2-1 2-1.2zM294 677.4l2 0 2 1.1 4 4.1 .2 2.4-2.2 2.5-2 .9-2-.7-2-1.9-1.4-4.8 1.4-3.6zM438 678.5l2-1.1 2 .3 4.4 1.3 3 2 4.6 .4 3.1-.4 4.9-3.3 4-.5 2.2 1.8 0 2-2.2 1.4-4.8 .6 .1 2 3.9 4-5.2 2.2-14-2.1-6 1.9-6 0-6-1.1-6 1.5-1.2-.4 .7-4 1.4-2 1.1-.5 4 2 2 .2 5.1-1.7 2.9-6.5zM552 684.9l4 1.1 3.8 3 1.3 2-3.1 2.3-2 .3-4-1.6-1.7-5 1.7-2.1zM66 685.9l4 0 1.3 1.1-.6 2-5.1 0-.9-2 1.3-1.1zM192 688.6l2 .2 4 3.2 .8 7-.8 .7-8.1 1.3-1.2 2 1.4 8-4.1 1.6-2-.4-2-1.2 3.6-4-.1-2-3.9-6-.8-4 1.9-2 5.8-2 3.5-2.4zM468 688.5l4-.2 2.4 .7 1.6 2.7 4-2 4 .6 2 1.3 2 2.8 1.5 4.6-.8 2-4.7 1.1-5.1-1.1-2.9-3.8-4-2.2 .2-2-4.2-3.6-1.4-.4 1.4-.5zM120 692.5l4-.8 8 1.1 10-.3 5.3 .5 2.7 1.3 .8 .7-.8 1.1-3.7 2.9 5.7 2.5 1.6 1.5 .3 2-1.9 3.7-2 1.5-4.4 .8-.2 2 3 2-6.4 2.8-4 .3-2.2-1.1 .2-2-2.1-2-7.9-2.2-2-1.4-2.2-12.4-2.5-4 .7-.5zM282 693l.6 0-.6 0zM294 692.7l4-1.6 2 1.9 .1 4 2.3 4-2.1 6 3.7 3.7 4 2 2.2 2.3-.2 2-1.8 2 .1 6 1.1 4-1.4 1-6 1.1-1.8 1.9-3.2 8 1 2 0 3.9-2 1.7-2-.4-.6-5.2-1.4-1.8-2-1.3-6.2-.9-.5-2 .7-4.7 1.8-3.3-1.8-1.8-1-6.2-1.4-2 .1-2 4-4-3.7-3.9 0-2.3 2-2.7 2 .2 4 2.5 3-1.8-1.5-2-.2-2 3-4-1.5-2 1.2-2.3zM300.9 717l1.1 .8 .9-.8-2 0zM414 692.2l6-.7 .6 1.5-.6 3.1-2 2.9-2.8 0-2.2-2-1-2 .2-2 1.8-.8zM588 693l6-1.7 13.3 1.7-1.3 1.9-4-.8-.2 2.9 1.7 2 .2 2-7.1 6-2.6 .9-5.7-.9-6.3-1.9-1.4-2.1 .7-4-1.4-4 8.1-2zM522 694l4 .2 1 .8 1.1 4-1.1 2-3 .7-2-.7-1-6 1-1zM382 695.9l2-.9 4 .8 1.5 1.2 .1 2-1.6 1.1-6 .3-1.9-1.4 .3-2 1.6-1.1zM492 702.4l4 .9 1.5 1.7 2.1 6-1.6 .8-4 .2-2-.3-2-2-.9-2.7 .2-2 .7-1.7 2-.9zM530 706.1l4-.8 1.6 1.7-.4 2-3.2 1.4-2-.9-.9-2.5 .9-.9zM176 708.5l2 .5-2 .3-.7-.3 .7-.5zM342 712.8l6 .4 8-1.7 4 .9 4.8 2.6-4.8 5.8-3.8 2.2 1.8 1.1 1 2.9-1 1.9-4 .5-.9-.4-1.1-3.3-2-1.3-2-.6-4 .2-2.2-1 .9-2-.5-2-2.9-4 2.7-2.2zM400 712.7l3.2 .3-.1 2-3.1-.1-1.5-1.9 1.5-.3zM502 711.8l4-.4 1.1 1.6 .6 4-1.7 2.6-4-.2-2-2.3 .1-4.1 1.9-1.2zM832 714.4l3.5 .6 .8 2-1 2-3.3 .7-2.3-.7 .3-3.6 2-1zM414 722.2l3.1 .8 1 4 1.5 2-1.6 1.3-4 .5-2.5-1.8 .5-4.5 .6-1.5 1.4-.8zM384 724.2l2-.6 2 .2 1.6 1.2-.7 2-2.9 .7-2.9-.7 0-2 .9-.8zM514 724.6l6-.5 6 .7 .6 .2 .5 2-.5 2-2.6 .7-3.1-.7-6.9-2.9-1.2-1.1 1.2-.4zM680 725l4-.2 2 .7 1.3 3.5-1.3 3.1-4 .9-4-3.7-2-.9-4 .6-1-2 1-1 6-.3 2-.7zM802 734.9l2 .1 1.3 2-.2 8-1.1 4.6-1.8 1.4-2.2 0-1.3-12 1.3-3.1 2-1zM606 736.6l2 .4 2.4 2-2.4 5.2-1.8 .8 2.2 2-.5 2-1.9 .4-2.4-.4-.3-2 2.4-2-1.7-1.2-.7-4.8 .7-1.6 2-.8zM54 737.7l4.4 1.3-.1 2-1.7 2 3.1 6-3.7 1-5 0 0-12.3 3 0zM472 744.8l4 .9 .9 1.3-.2 2-2.7 .8-2.9-.8-1.3-2 2.2-2.2zM714 744.9l1.3 4.1 2.8 4 .1 2-1.4 4 2.1 4 5.1 3.3 8 2.2 2 3.9 4 1.4 6-.8 1.2 2-.4 2-1.7 2-.2 2 5.1 2.7 6 1.8 1.5 5.5-.4 2-1.1 1-6 1.2-1.9 1.8-.2 6-5.9 1.4-2 1.2-1.7 3.4 1.8 4-.9 2-1.2 .5-6-1.2-16 .8-12-2-22 3.3-4 4.9-4 .4-3.1 1.3-.2 2 2.1 4-.6 2 .4 2 1.4 .9 12-.4 12 .9 10-2.2 4 1.5 2.1 1.3-.8 2-5.7 4 2.4 3.7 .1 2.3-258.7 0-.4-4-2.4-4 .8-2 2.6-2.9 10 1.2 8-2.1 2.6-2.2 1.4-4.4 3.4-1.6 10.6-1.7 4-2.5 5.3-1.8-1-2-6.3-1.9-16-1.2-10 .4-2 .7-1.6 2-.4 4.9-2 2.1-10-.5-8 1.7-6-.7-8-2.7-10 2.6-14-.7-20 1.4-2-.2-6-2.7-4 .8-2.9 2-.1 2-3 .4-1.2-.4-.6-2-2.2-1.6-4-.6-1.2-1.8 1.2-4.7 14-1 2-.6 4-3.7 4 .9 4.7-.9 2-2-1-2 2.3-1.1 6-.8 16-.2 6-1.1 6 .7 4-.8 1.9-.7 1.5-2-3.4-.6-2-1.2-.5-2.2 .5-.3 2-.4 3.4 .7 .6 3 3.6-3 12.4-.9 6 2.8 2.2-1.9-1.3-2 1.2-2 3.9-1.7 6 4.3 4 .1 2 1 1.2 4.3 2.8 1.6 2 .3 12 .8 2-2.2 2-4.2 2-.8 2 .2 2 .8 4 5 4 3 12 2.9 6.3-3.4 13.8-2 1.8-2 .9-4 1.2-1.3 2-1 6-.5 8 2.4 10 1.8 3.9 2.6 .7 2-.2 4-1.4 6 3 1.5 8-1.2 18 2.6 10-1.4 6 1.3 12 1.1 4-1.5 6-.3 2-.8 .9-1.3-.9-6.6-1.2-1.4-2.8-.5-3-1.5-1.2-2 .1-2-2.1-4 1.7-4-1-4 .9-2 2.6-1.1 4-.3 2 1.3 2 8.7 9 3.4 .3 2-.9 4 1.6 1.3 4 .2 12.9-1.5 0-4 3.1-.1 5.6 4.1 6.4 1.7 4-1.2 2-1.4 .8-1.1-.5-4 1.7-1.6 2-.3 4 1.5 2-.9 3-8.7-3-3.6-4.4-2.4-.9-2-4-2 3-6-1.1-2 .5-2 6.9-2.2 3.7-1.8 .3-1 4.8-1-.8-2-4 1.6-2.5-1.6 8.5-7.1 4-5.8 2-1.2zM728.3 775l.7 2 1 .4 3.5-.4-.3-2-1.2-1.5-3.7 1.5zM726.9 793l3.3 0-2.2-1.5-1.1 1.5zM454.9 807l-.1 2 1.2 .6 2 .3 3.9-.9-2.5-2-4.5 0zM377.8 817l.2 .5 2-.5-2.2 0zM623.8 819l2.2 1 1-1-1-1.6-2.2 1.6zM522.2 833l1.8 4.3 2 1.3 1.6-1.6 .7-4-4.3-.8-1.8 .8zM644.3 835l1.7 1.7 2.3-1.7-2.3-1-1.7 1zM652 746.3l2-.6 8.4 1.3-2.7 2-5.7 .9-2.4-.9 .4-2.7zM104 752.8l8-.3 8.1 2.5-2.1 .8-2-.1-2 1.1-.9 2.2 .5 2-1.6 2.3-2 .6-5.9-.9-4.1-4-4 1.9-10-1.9 4-.6 6-2.9 8-2.7zM254 755.1l4 .4 1.9 1.5 .5 2-.4 2-2 1.7-4 1.5-2-.6-.2-.6 .5-6 1.7-1.9zM482 755.4l2 .1 2.1 1.5-2.1 1.9-2-.2 0-3.3zM434 758.3l4-1 2.2 1.7-.3 2-3.4 4-.5 4 8 3.7 1.1 2.3-.8 2-.3 4.4-2 1.6-6.8-2 2.8-4-2-2.4-2.8-1.6-1.8-2-2.3-6-.5-2 1.4-2 4-2.7zM490 758.9l4 .2 1 1.9 5 4.8 12 .4 14-.7 10 1.8 1.6 1.7-5.6 0-6 2.3-6-.1-16 1.5-4-.4-8-2.1-2-1.4-1.8-3.8 1.7-4-.4-2 .5-.1zM146 760.1l2.4 .9-3.7 0 1.3-.9zM798 762.9l4 .2 6 3.1 4 .6 10-1.8 18 1.9 9-.3 0 16.3-7 1-6-2.4-8 2-10 .3-3.1 1.2-2.6 4-.1 4 1.8 .9 2.2 3.1-.3 2-1.9 3.1-4 2.8-6-1.5-10 2.2-4-.9-3-3.7-.2-4 1.2-2 2-1.3 6-2 1.8-2.7 .4-4 1.8-1.8 4-1 .8-1.2-6.8-6.7-18-1.1-9.1-2.2-.6-2 9.7-3.9 12 .1 6-2.3zM823.2 773l1.7 0-1.7 0zM68 764.8l22 .2 2.4 2 0 2 1.7 4-2.1 .9-7 1.1-4.6 2-.7 2-6.4 4-1.8 2-1.6 4-1.9-.9-1.9-3.1-10.1-2.1-5-.1 0-10.5 9 .5 2.5-1.8 1.5-4.4 2-1.4 2-.4zM252 774.2l3.8 .8 2.2 1.5 1 2.5-1 1.5-4 0-1.8-1.5-1.6-4 1.4-.8zM606 774.9l4.1 .1 5.2 2 1.7 2-1 1.8-4 1.4-6-2-2 0-2-.9 0-1.3 2-2.2 2-.9zM224 776.5l2-.3 2.6 .8-1.2 2-2.6 0-.8-.3-.5-1.7 .5-.5zM306 776.7l10-1.4 2 .6 .7 1.1-.7 2.3-2 .5-10-1.4-.9-1.4 .9-.3zM630 776l2-.4 2 1 2.4 2.4-2.4 1.1-4-1-1.1-2.1 1.1-1zM652 776.9l10-.5 8 3.2 8 1 .9 .4 .8 2-3.7 1.1-6-.4-6-2.5-8-1.2-4-3.1zM304 782.5l2-.7 1.8 1.2 2.2 5.9-.7 4.1 1.2 6-.5 2.6-2 1.4-12 .7-3.7-.7-.8-2 2.5-5.2 2.2-.8 2.1-2-12-4-1.2-2 6.9-1.1 8-.1 4-3.3zM244 784.8l6-.8 .8 1-2.3 4 .8 2-1 2-2.6 0-3.1-2-.7-2 .2-2 1.9-2.2zM54 786.5l4 1 2.9 1.5-1.3 2-8.6 .7 0-5.2 3 0zM324 786.6l3.4 .4 .6 2.2-2 .9-2-.2-.9-.9 .1-2 .8-.4zM444 785.2l9.5 1.8-7.5 4-2 .1-2.2-2.1 .4-2 1.8-1.8zM570 786.9l2-.9 4-.5 3.7 1.5 1 4-.7 2.8-2 1.3-8-3.9-.7-2.2 .7-2.1zM842 786.9l2-.8 5 .1 0 5.8-7 .2-3.8-1.2 1.8-2.6 2-1.5zM168 798.8l2 .3 4.1 9.9-.8 2-2.1 2-7.2 .4-1.1-2.4 .3-2 1.8-4 .5-4 2.5-2.2zM104 804.6l4-.7 5.3 1.1 4.4 6-3.1 4-1.6 6-3 3.1-8 .5-4-.9-.9-.7-.6-2 .7-4-1.2-.6-4-4.8-5.7-2.6-.3-2 2-.6 10 .1 6-1.9zM126 807l4 .2 .8 1.8-.8 1-2 .4-2-.5-1.5-.9 1.5-2zM750 805.8l5 1.2 1.7 8 3.2 4-.2 2-1.7 2.4-2 1-6-.2-2.2-1.2-1.3-2-.2-10 1.7-4 2-1.2zM810 808l2.3 1 .7 2-3.9 0 .9-3zM234 815l12 .5 4.6 1.5 .5 2-.5 4 2.4 6 .1 2-3.1 4-1.3 4 .3 2 2.5 4 0 2-80.7 0 0-2 1.2-.3 6.4-5.7-1.9-2 1.9-2 9.6-.3 10 2.1 8.6-1.8 5.4-.3 10 2.3 8-2.3 3-3.7-1.1-4 1.3-4-.1-2-1.6-4 2.5-2zM235.8 831l.9 2 1.3 .4 5.2-.4 .3-2-3.5-1.6-2 .3-2.2 1.3zM778 813.7l8-.7 14 2.5 4-.3 1.2 1.8-1.2 2.6-8 1.3 .2 2.1 7.8 .9 8 4.5 4 1.5 10-1 4.5-1.9 3.5-.4 15-.1 0 6.8-17 .6-10-2-3.2 1.1-2.8 4-4-2.7-6-1.3-10 .9-12-.9-8 .8-10-.6-6 .3-2-1.4-1.4-3.1 1.4-3.9 10-1.5 8 .1 1.3-4.7-.8-4 1.5-1.3zM54 826.3l7.4 .7 2.6 6 2 .6 10 1 14-.3 8 2 6-1.7 6 .5 10-1.9 8 1.2 18 .3 4.5 2.3 3.5 .5 2-.5 2.8-2 3.2-.8 8 0 3 .8-2.5 2-2.5 .9-2.2 3.1-.3 2 3 2 0 2-117.5 0 0-20.7 3 0zM135.9 841l-.7 2 .8 1 2 .5 4-.5 2.2-1-.4-2-1.8-1.2-4 .1-2.1 1.1zM728 832.9l10 2.7 6-.3 2 1.2 .8 2.5-1.2 4 .3 4-7.1 0 0-2-2.8-.8-2.1 .8 0 2-17.1 0 0-2 2.5-4-2.7-4 1.1-2 4.3 .1 6-2.2zM314 834.1l4 .1 1.9 .8 1.4 2 .2 2-1.2 4 .3 4-10.2 0 1.2-6-.4-4 .8-2 2-.9z"/>
<path fill="#ff6400" d="M54 352l193.6 0 0 3 1.2 4-.8 3-2 .7-18 1.1-10-.5-10 .9-8-.9-14 1.4-3.5 2.3-1.5 6-1 .6-8 0-12 2.2-14-4.8-12 2.6-10-.9-3.1-1.7-.9-4.8-5.1-3.2-4.9-1.2-4 3.1-14-.1-14-2.6-16 2.3-6 1.6-5 0 0-14.1 3 0zM452 352l11.9 0-.2 5 6.8 2-1.4 2-1.1 .3-9.9-.3-2.1-1.7-4-1.2-1-1.1 .3-5 .7 0zM516 352l34.4 0 0 3 3.6 .6 2.9-.6 0-3 292.1 0 0 13.8-11-1-2.4 .2-3.6 1.7-10-3.2-12-.6-8 .5-8 1.8-8-2.2-12-.5-10 2.5-14-2-16 1.8-8-.8-8 .5-10-1.4-8 .6-10-.6-10 1.1-28-1.2-8 .9-3.1 1.1-.9 2.6-2.9-2.6-9.1-1.5-10 2.2-12-1.3-18 2.1-10-1.2-8 1.3-2-.3-8-4.4-4-.5-14 .5-12 2.9-10-.6-2-1.2-.6-4-1.8-2 .4-5zM486 360.7l1.2 .3-1.2 .2 0-.5zM74 368.4l2-.4 6 2.4 2 0 10-2.8 6 .3 8-.7 2 .5 3.5 3.3-3.5 1.8-4 .7-30 .3-2-1.1-1.3-1.7 1.3-2.6zM638 368.2l.9 .8-1.3 0 .4-.8zM454 374.8l2 .3 3.4 1.9-2.1 2-5.3 .8-1.1-.8-.5-2 1.6-1.7 2-.5zM468 374.7l4-1.2 4 .7 2 2.5 0 3.2-2 1.7-2 .3-4 0-2.5-.9-2.1-2 2.6-4.3zM786 378.8l6-1.2 4 1.4-.2 2-9.7 2-4.1 .2-1.4-.2-.6-2 6-2.2zM438 382.7l3.1 .3-1.1 2.2-2 .7-1.4-.9 .4-2 1-.3zM414 384.6l8-.1 6 1.3 2.2 1.2-.2 4.2-2 1.9-10 1.2-4-.7-1.9-2.6 .5-4 1.4-2.4zM674 388.7l2.6 .3-.5 2-2.1-.3-.6-1.7 .6-.3zM296 394.7l6-.6 8 1.5 6-1.1 4 .3 4 5.5 7 2.7-2.8 4 .6 8 1.7 4-.5 7.1-2 .7-4-.5-3-1.3-1.3-2 1.2-4-.9-2.5-4-.6-12 .8-6-1.3-8-.2-6.7 1.8-.5 2 .6 4-3.4 2.7-10 1-10-.3-6 .6-2 2.5-2.6 7.5-1.4 1.1-4 .2-6-2.6-4 0-2-1.2-1.1-1.5 3-4-3-2-2.9-.6-6 .3-8-3-.8-.7 1.5-2-1.4-2-3.3-3-8-2.5-1.4-2.5 .7-2 2.7-1.7 8-1.2 4 .1 2 .4 2 1.7 2 5.1 5.2 1.6 6.8 .6 8-.5 8 2.1 16-1.2 10 1.3 4-1.2 1.1-1.1 1.2-4 1.7-2.6 2-1.2 2.2-.2 3.8-10.3 2-1.5 2-.5zM770 394.2l4-.7 10 1.3 6 5.1 3.1 1.1-1.7 2-5.4 2.5-8-.3-10-1.7-1.2-.5-.7-2 .4-2 1.5-3 2-1.8zM812 397l3 0 1.2 2-2.2 2.6-2 .4-1.5-1 .1-2 1.4-2zM418 404.5l4-1.1 12 3.5 10-1 2 .4 1.8 2.7 .5 8 1.2 2 6.5 1 2.2 1 1.2 2 .7 6-.4 4 2.3 .3 2-.7 2 .8 1.4 3.6 0 2-1.4 1.9-2 1.2-2-.4-2 .9-1.3 2.4-2.4 2-1.2 2 .2 2-1 2-2.3 2.3-2 3.5-1.3 6.2-.7 .8-4 1.4-10-1.4-4 .6-8 2.4-2.9 6.2-1.1 1-6-1.9-10 2.1-1 .8-.2 2 .8 2-.2 2-3.4 1.6-4.6 .4-.9 2 1 2-.8 2-2.7 3-2 1.1-4 .1-6 1.6-6-.3-3.5-3.5-4.5-1-1.2-1-.7-2 1.9-1.7 4-.1 2-.8 .9-1.4 1.1-8 6-1.6 2.1-2.4 1-4 2.9-1.9 14 .7 3.8-.8 .9-2 0-4 .9-2-.4-2-3.2-1.7-10-3.1-4 .3-6 2.5-10 .8-6.6-.8-1.4-2 1.5-4-1.9-4-1.6-2.8-2-1.7-2-.4-.8-1.1 2.8-.3 2-1.4 1-2.3 1.1-8-.4-4 .9-4 1.4-1.3 6 .1 10-1.3 8 .4 2 2.1-2 6.8-4.2 1.2-1.8 1.3 0 1.2 2 .4 4-1.3 13.8 .4-1.2 2-4 2 5.4 2.1 5.4-.1 3.4-2 0-8 1.1-6-1.9-2.8-6-.9-2-1-.9-5.3 2.9-2.2 14-2.3zM437.5 447l-4.9 4-1.2 2-.5 2 3.1 1.9 4-.8 10.6-5.1-8.6-4.7-2.5 .7zM78 406.9l2 .2 1.5 1.9 .5 2-.5 2-1.5 .9-5-.9-1.3-2 .3-2.3 2-1.6 2-.2zM64 414.5l2-.4 6 3.7 1.2 1.2-.5 2-2.7 .6-6-2.8-2.2-1.8 2.2-2.5zM602 416.6l12-1.5 4 2 8 .8 2 2.2 2.3 4.9 1.7 1.9 4.5 2.1 .3 2-.8 .6-4 .2-6 5.9-4 .7-2 1.4-4 4.4-12 2-4-.8-2-4.4 1-4-.7-4 1.4-4 1.9-2-.9-8 1.3-2.4zM838 416.8l4-1.1 7 .2 0 9.4-11 .9-1.3 .8-1.3 6-1.4 1.9-6 .6-6-1.4-3.5 2.9-.4 2 1.9 2.7 4 1.7 8 5.1 4 .1 6-2.5 7-.1 0 29.7-9 .2-2 1.1 .4 4-.5 4-2.2 6 1.5 6-1.2 1.9-2 .8-4-.5-4.3 1.8 1.6 4-.9 2-8.4 1.4-1.1 .6-1 4-1.9 1.6-4-.1-3.1 2.5-2.9 1-6 .3-6.5-1.3-1.5-.9-.5-1.1 5.7-6 .8-2-.2-2-1.8-3.4-6.8-.6-4.1-2-3.1-.6-2.3 .6-1.1 2 .2 2-.8 3.1-2 2.8-4 .6-2.7 1.5-2.1 6-19.2 .3-6-.4-2-.8-.9-1.1-.1-4-1.7-8 2.8-4 1.9-1.1 4-.4 20 1.9 2.1-.4 1.9-2 .5-4-.7-8 1.3-6-2.5-4-.4-2 .2-2 2.7-6 .1-2-3.4-10 2.2-3.8 2-1 4 0 .8 .8 .9 2-.9 4 1.9 4-.2 4 .8 2 5.2 2 .8 2 .2 2-3.5 2.4-.7 1.6 2.7 .1 2-.9 4 1.9 6 1.1 2.4 1.8 .1 4-1.1 2-1.4 .9-4 .6-2 1.4-1.8 9.1 1.8 1.8 4 1.8 6-2.9 6-.5 2-.8 2.4-3.4 .8-4 6.8-2.9 2.6-3.1-.2-4 1.3-2 6.3-2.1 2-1.9 .7-2-1-4-1.7-1.1-8 .6-8.8-1.5-2.3-2 .9-2 .1-4 1.6-4-1.5-8 .7-4-3.4-8-1.3-1.4-2 .3-1.2-.9-.1-2 1.3-2.1 10-1.1 4 1.4 2.6 1.8 1.4 2 2 .4 7-4.4 5-2.1 4-8.1zM54 418.6l3.8 4.4 3.7 2-.2 4-1.3 2.1-2-.1-2.7-4-4.3-.5 0-7.9 3 0zM554 420.7l-.4 .3 .4-.3zM542 426.5l4-.2 2 1.7 .6 3-.2 12 1.6 2.5 12 .4 6-1.7 8 3.1 10 .1 4 3.6 6.9 2 .3 2-1.4 8-7.8 5.5-6.8 .5-2.4 2 3.2 2.7 14 3.8 3.9-.5 4.1-2.2 3.9 .2 .5 2-.5 2 1 4-.9 1.9-2 .6-12-1.2-10 2.2-8-2.6-10 .9-7.5-1.8-.4-2 1.9-2.9 2-1 6-.4 6 1.2 2.1-.9-4.1-2.2-1.3-3.8-2.7-2.6-2-1-8-1.3-6 1.6-10-3.3-1.2-1.4-2.2-14-1.5-2-5.1-1.9-2.9-4.1 .1-2 1.3-2 1.5-.9 5.8-1.1 .4-2-.8-2 .7-2 3.9-2.5zM332 428.2l6.3 .8 2.6 2 .2 2-3.1 1.8-6-.4-1.9-1.4-.3-2 2.2-2.8zM88 437l12 .3 4.4 1.7 1.6 1.3 4-.5 6-2.5 14 .6 2.1 1.1 1.9 4.5 1.7 1.5 6.3 1.3 4 4.5 2 .5 4-.5 1.5 2.2-1.5 1.1-10 1.3-18-.5-8 .7-10-.3-2.6 1.7-2.8 8-.6 .3-18 1.1-6-.9-8 .1-6-1.6-4 1.5-4 2.6-3 0 0-21.1 9 .7 20-1.1 2.9-1.6 .3-2-1.1-4 1.9-1.4 4-.6zM780 437.9l4-.4 2 1.3 0 4.3-2 1.6-1.5 .3-4.5-.6-1.2-1.4 .5-2 1-2 1.7-1.1zM248 444.8l0 3.8-2.2 .4 2.2-4.2zM740 452.6l2.2 .4 1.8 3 1.4 7-.4 2-1 1-5.8 1-.1 2 .8 2-.6 2-2.3 2-8.1 0-1.5-2 1.1-4-1.3-4 1.4-6 8.4-2.6 4-3.8zM156 455l2 .3 2 1.4 2.9 8.3-2.9 7.7-2 .7-2-.2-2.1-2.2 0-12 2.1-4zM750 470.9l4-.9 2.8 1-4.8 1-2-1.1zM112 475.9l4-.3 4 .5 1.6 .9 .4 2-2.1 2 .5 2 2 2 .4 2-.5 6 1.5 4 .3 6-3.6 6-2.5 1.6-2 .3-2-1.1-1.3-4.8 .8-4-1.7-6 2.9-6-.1-4 .6-2-.8-2-3.1-2-1.2-2 1.9-1.1zM462 476.9l4-.3 3 2.4-.4 6 .9 4-3.5 7.8-2 .5-2-.4-2.5-3.9 1.1-8 0-6 1.4-2.1zM214 478.7l2.1 .3-.4 2-1.7 1.4-.7-3.4 .7-.3zM522 478.8l2.2 .2 3 2-.7 2-4.5 .8-2.5-.8-.3-2 2.8-2.2zM76 482.4l2 .8 2.2 3.8-.2 3.5-2 2.7-2-1.1-2.9-3.1 .5-4 2.4-2.6zM296 484.9l2-.1 6 1.4 14 .9 2.5 1.9 1.1 8-1.6 1.3-2 .4-10 .3-8-1.3-16-.8-2.2-1.9-1.1-6 .4-2 2.9-1.6 8 .2 4-.7zM242 486.9l2-.8 6 .6 8 3.9 5.8-1.6 4.2-.1 3 2.1 .3 2-1.9 2-3.4 .9-10-3.4-3.2 2.5 .1 2-.9 .7-4 1.8-2-.3-2-1-2.5-5.2-.2-4 .7-2.1zM80 494.3l0 .9-1.1-.2 1.1-.7zM176 493.2l2 .6 .5 1.2-.5 2.3-2-.9-.5-1.4 .5-1.8zM468 498.8l6-.7 8 1.2 4-.2 2 1.7 .2 2.2 2.5 4 15.3 1.4 2 3.2 0 3.4-1.3 4 1.2 6-.8 2-1.1 1.1-4.6 .9-2.6 2 .5 4-1.3 1.4-2 .8-6 .4-1.9 1.4 .1 6-2.2 1.5-8 0-1.5-1.5-.3-2 4.5-4 1.1-2 4.2-1.1 2-1.6 .5-1.3-.4-6 2-6-.9-2-5.4-2-1.6-2-.2-5-4 4.4-6 1.3-2-1.3-1-1.4-.7-6-1.1-2 .8-6.2zM481.9 507l.1 .5 .9-.5-1 0zM176 499.6l2-.4 2 1.4 0 2.5-2 1.2-2 .3-2-.7-1-.9 3-3.4zM510 500.3l4-.8 12 .3 2 1 .8 2.2-.8 2.5-2 1-8-.4-8 .5-3.8-1.6 .5-2 3.3-2.7zM420 502.7l-1.7 .3 1.7-.3zM366 503.6l2.1 1.4-3.6 0 1.5-1.4zM416 510.8l2 .2 0 2.3-4 1.9-2.2-.2 .7-2 3.5-2.2zM114 516.7l1.2 .3-1.2 .5-.8-.5 .8-.3zM426 518.6l4-.2 1.4 .6 .1 2-3.5 3.3-1.7 .7 1.7 2 4 1.3 8-.2 10 1.1 8-.5 8.1 2.3-.1 2.4-4 1.7-2 2.3-4 1.1-6-.1-1 .6-2.1 4 2.4 6-.4 4-.9 3-2 1.7-12.5-.7-5.5-1.7-5-.3 .6-2-2.5-4 .8-8-.5-2-1.4-1.6-2-.7-6-.8-1.9-.9 .2-2 1.7-1 8.3-1 3.6-4-.1-2-2.1-2 0-2 2.3-1.8 2-.6zM439.7 539l-1.7 .8-.8 1.2 .7 2 2.1 .5 3.1-.5 .9-2.3-2-1.7-2.3 0zM282 520l4-.6 14.4 1.6 .2 2-2 4 2.9 8-.9 2-4.6 .9-6 .1-6-1.1-6-3.6-4 .9-1.2-1.2 1.2-1.8 4-.6 2-1.6 1-2-1.5-4 .8-2 1.7-1zM750 528.3l10-.8 4 1.1 1.6 2.4 .8 4 1.6 1.9 2 .9 6 .2 3.8 1 2.5 2 .3 2 2 2-.6 2-4.4 2-3.6 7-6 2.8-2.6 2.2-1.4 4.5-2 1.3-4-.2-2 1.7-.9 2.7 .2 2 .9 4 1.7 2-3.1 4-2.8 2.2-2 .1-2-2.7-2 0-4.8 4.4-1.2 2.8-2 .8-1.7-1.6 0-2-2-4 .3-6 3.2-12-.6-2-1.7-2-.4-2 .6-4-.9-2-.3-4 .8-4-1.5-4 2.2-2 8-1.2 2.6-.8 1.4-1.6 4 .5 2-.8-.1-2.1-1.9-.6-2.8 .6-1.2 1.1-1.7-3.1 .2-2 1.5-.7zM552 530.5l14-.7 1.9 3.2 .1 4.4-1.8 1.6-4.2 .9-10-2.3-1.6-2.6-.1-2 1.7-2.5zM402 532.3l2-.3 2.9 1-1 2-3.9 .2-.9-2.2 .9-.7zM540 538.8l6 .9 2.2 1.3 .4 4-.8 2-1.8 1.5-4 .3-7.5-3.8-1.6-2-.9-2 8-2.2zM574 538.8l10-.4 3.2 .6 2.4 4 0 2-1.6 1.2-4 .8-8 0-4-.7-2.2-1.3 0-4 2.2-2 2-.2zM614 538.4l4 .6 1.3 2 .4 4-1.6 2-4.8 0-4.8-2-.1-2 1.4-2 4.2-2.6zM216 539.2l2 .2 0 2.3-1.8 1.3-2.2 .1 .3-2.1 1.7-1.8zM644 541l.3 2-1.8 0 1.5-2zM690 541l2-1.1 12 .4 2.1 .7 1.3 4-1.4 2.8-6-.2-3.8 1.4 1.8 1.1 1.7 2.9-.6 2-3.1 3.5-2 1.2-2-.4-2.2-6.3 .3-2 2.4-2-2.4-4-.1-4zM644 547l2 .6 1.6 3.4 .6 4-.6 2-1.6 1.8-4 .5-2 1.2-2 4-2 2.1-4 0-2-1.5-.6-2.1 2.6-10.7 8-4.4 4-.9zM330 556.3l4-.7 4.4 1.4 1 2-.7 4 1.3 2.8 2 1.8 8-.4 2.8 1.8 .4 2-1.3 2-7.9 5.7-1.2 6.3-2.8 3.6-2 1.2-10 .6-4-.4-2-1.2-.8-1.8 .2-6-3.4-1.8-4.4-.2-2.1-2-.3-6 .8-2 2-1.7 4.8-.3 .7-2-1.5-1.5-4 .2-.9-.7 .9-.9 4-.2 4-2.9 4-.9 4-1.8zM842 564.9l2.6 .1-2.6-.1zM764 576.9l1.2 2.1-1.2 .8-3.8-.8 1.8-2 2-.1zM360 580.6l2.5 .4-2.5 1.1-1.3-1.1 1.3-.4zM374 616.9l5.8 .1 .2 2-10 .9-.5-.9 4.5-2.1zM790 624.5l4-1.1 2.4 1.6-1.3 4 1.7 4-.5 6 .5 6-.8 6 1.4 4-.2 2-1.2 1.5-2 1-4 .5-11.1-3 .5-4-1.8-6 .1-6-1.3-4 2.1-6 1.5-1.2 6-1.4 2.6-1.4 1.4-2.5zM198 630.9l8-.7 4 .8 .2 2 1.2 2-3.5 4 2.1 .8 6-.1 2.1-.7 1-6 2-2 2.9-.7 6 .2 1.4 .5 1.4 2-.4 2 1.6 2.8 6 2.9 1.2 2.3-3.2 1.9-4-.8-1.2 .9-4.8 7.2-10 2.3-1.2 .5-.4 2-2.4 .5-6-12.4-9.2-6.1 1.2-2.2 2.2-1.8-5.8-2 .6-2 1-.1zM740 632l4 .3 2.5 6.7 1.5 1.5 2 .7 6 .7 6-1.8 2 .1 2 2.3 1.5 4.5-.7 8-.8 2.1-2 1.8-2 .6-6-.1-6 1.3-9.2-1.7-4-2 .6-6-1.4-1.1-6-1.9-2-2.3-.5-2.7 .4-2 2.1-1.5 4-.3 2-.9 2.1-3.3 .4-2 1.5-1zM592 634.8l8-.6 10 .8 2.8 2 13.2 5.3 3 4.7-.3 2-.7 .2-2.5-.2-3.5-1.7-2 .6-2 5.1 0 5.2-2 1.3-6 .3-2.5 1.2-.8 2 2.8 4 .1 2-1.6 2.1-4 .8-14-2-4-6.7-4 1.4-1.1-1.6 .7-6-1-6 5.4-2.5 1.2-1.5 1.8-6 2.6-4-.2-2 .6-.2zM618.6 645l1.4 1.4 2 0 1.5-1.4-1.5-1.3-3.4 1.3zM462 640.7l8-1.4 6.3 1.7 .7 2-1.2 8 2.2 11 .5 7-.8 2-1.7 1-6-.2-8-2.4-2-3.4-1.3-5-2.7-.9-8 .3-3.8-1.4-1.2-2 4.4-6 2.6-2.3 8-1.9 1.4-1.8 .6-2.4 2-1.9zM540 662.8l2-.6 4 .4 2 2.4-1.1 6-3.6 2-1.3 1.8-2-.5-.8-1.3 .4-4-1.2-4 1.6-2.2zM118 663.9l2.2 1.1-3.6 0 1.4-1.1zM820 668l3 1-4.8 0 1.8-1zM354 670.1l2-.1 6 3.2 8 0 8 1.2 1.1 .6 .4 2-1.5 1.4-4-.2-3 .8 .3 2 6.7 .3 6 2.4 4-.1 5.2-2.6-.2-4 1-.6 8-1.7 3.8 .3 1.1 2-.9 .8-4 1.2-4.6 0 1.3 2 11.3 3.4 1.3 2.6-1.3 2-6 1.2-6 3.6-4 .1-10-4.5-2-.1-10 2.9-1.1 .8-.6 2 .4 2-1 4-5.7 4-2-1.1-1.3-6.9 .5-6-1.5-6-1.7-1.4-4 .4-1.6 1-.5 4-1.5 4 .7 6-1.1 2.8-2 1.9-4 .5-6-2.9-10 1.4-4-.2-2.4-1.5 .2-6-1.4-4-2.4-1.1-6-.1-2-2.6-.1-2.2 2.3-10 1.8-1.9 2-.5 12 .6 2.9 1.8 .4 6 .7 .8 2 1.2 2 .1 4-1.3 4 .6 4.1-1.4 1.9-6 4-4.9zM580 670.5l2-.7 4 .5 2.1 .7 1.3 2 .7 6-.9 2-.3 6-.7 2-2.2 1.1-10 1.6-4-.2-2-2.4-.8-2.1 .3-4-.9-4 1.4-2.4 6-3 4-3.1zM524 672.6l2-.4 2 .9 2 5.8 2 2.1 6.2 0-.7 8-.9 2 3.4 .6 6-.3 2 2.1 1.5 5.6-1.5 2.6-4 .2-10-2.8-2-1.1-1.5-4.9-2.5-1.8-6-.8-2.6 .6-2.3 2 2 16 2.6 2 4.3 .6 1.9 1.4 .1 6.4-.6 1.6-1.4 .3-14 .1-1.2-.4-.4-2 .4-6-1.2-4-3.5-6-4.1-1-1.2-1-.9-2 .5-4 1.6-1.9 6-1 1.2-1.1 .5-2-.6-4 .9-1.9 8-1.4 4-7.7 2-1.4zM720 672.7l3.1 .3 2.7 6-.1 2-1.4 2-2.3 .8-4-.3-1.6-2.5 .1-2 3.5-6.3zM286 675.4l2.1 1.6-2.1 2.7-.9-.7-.2-2 1.1-1.6zM246 680.9l2-.2 2.8 2.3 2.5 4-.9 2 .3 2 5.3 .9 2.7 3.1 .7 2-1.3 6 1.9 1.9 2 .2 6-1.5 5.1 1.4 .8 2-3.8 4 2.3 4-1.7 4 1.3 1.2 4 1.2 1.6 1.6 1.6 10-.3 6 1.1 2.1 7.8 1.9 1 2-.1 6 1.3 1.6 4 .9 4-.8 1-1.7 .7-4-.5-6 1.2-6 1.6-2.1 6-.6 2.4-1.3 .5-2-.9-4.8 2-2.7 2-.4 4 .9 4 1.8 4-.2 2 .7 1.7 4.7 2.3 1.1 4-1 6 3.2 6.2 .7 3.1 2-.9 2 .1 2 1.5 1.1 4-.8 4.4-2.3-.4-4 2-.7 10-.4 10 1.6 4-.8 6-2.7 12 .1 8 3.2 8 2.2 2 .3 4-.9 8.7-5.9 1.8-2 1.7-4-2.2-1.2-8 1-2 .6-2 1.8-2 .3-2.5-4.5 0-4-1.5-4.3-2-1.9-5.2-1.8-1-4 6.2-1.2 6-3.5 6 1.3 3-2.6 1-2.8 1.1-1.2 10.9-2.3 6 .1 4 1.2 1.6 1 4.4 5 4 1.2 2 1.3 2 9.6 2 .9 10-2 4 .3 1.2 1.7 .5 4 2.3 2.9 2 .6 4-.4 4 2 6.2 .9 1.8 2 1.2 4 1.5 2 7.3 1.4 6 2.2 4-.2 8-3.4 4-7.8 6-.8 3-1.4 .2-6 .8-2.9 6-5.8 1.5 .7 2.5 3.7 2 .7 8 1.2 8-.2 1.1 .6 1.1 2-1.1 4 2.9 1.5 10 1.8 14 .9 2 .8 .7 1-.9 6-5.8 .5-2 .8-1 2.7 0 6-1.4 6 .9 8 2.9 10-.1 2-2.8 4-1.1 8 .6 2.4 2 2.9 3.8 .7 4.2 2 1.7 4 .1 2-1.8 1.6-2 .5-6-1.2-1.5-.9 .3-2 1.8-2-.2-2-2.4-1.9-2-.6-34-3.2-2 .2-1.6 1.5-2.4 .9-10 1-6-.6-6-2.3-12 1.5-14.2 3.5 1.7 2 .2 2-3.7 1.9-12-.9-8 2.3-6 .2-2.9-1.5-1.3-2-1.8-.9-4-.3-1.1-.8 1.1-4.2-2-.9-6 .3-6-2.6-4 0-1-.6-2.2-10 .6-10-1.5-6-1.4-2-2.5-.2-2-.9-2.5-4.9-1.5-1.3-2-.2-6 5.1-6 1-2 1 .3 4.4-2.1 8-5.5 4 .9 2 2.4 1.3 1.8 2.7 1.1 6 1.1 1.9 2 1 7 1.1 .9 2-1.9 4.1-2 1-6 .7-14 4-4-1.1-2 .1-.9 5.2-3.1 1.2-12 .2-6 1.4-8 .9-1.5 4.3-2.5 2.9-4 .7-12-.4-1.3 .8-1.4 8-1.3 2.2-8.9 1.8-5.1 2-4-.6-4-2.1-4-.9-4.1 1.6-1.9 3.6-5.7-3.6-2.3-.6-16 .1-10.3-3.5-.5-2 3.8-2 .2-2-1.2-.5-5.4 .5-4.6 1.8-4-1.8-9.3-2-1.4-2 2.7-2-.2-2-5.8-3.2-3.1-2.8-4.9-1.8-2 .6-8 7.3-2-.6-1.1-1.5-3.3 0 2.2 2 .1 2-3.9 4-2 1.1-4.6 .9 3 6-.3 2-2.1 2.4-4 .4-4-1.9-6-8.9-6-1.3-2 .2-.8 1.1 1.3 2 .3 2-1.5 2 .7 1.5 8 1.1 2 1.2 3.7 4.2 .3 1.5 6-1.4 2 .7 .4 1.2-4.4 .8-6-1-6 1.5-10 .9-4-.1-6-1.5-12-.5-1.1-2.1 .5-2 3.7-4 2.1-4 2.8-1.8 6-.7 1.5-1.5-.2-8 .7-1.9 3.4-2.1 1.5-2-6.9-3.8-4 .4-6 2-2-.6-1.9-2-.2-2-5.9-7.8-6.1-.2 .1-9.4 2-3.2 2-.9 8 1.1 10 .4 4-.8 1.5-1.2 .5-2-3-10 .3-2 1.5-2 7.2-3.8 .5-2.2-4.5-1.9-8-.1-2-.8-.8-1.2 1.8-4-1.2-2-1-8-.8-1.6-4-.7-12 1.8-2 3-.8 5.5-1.2 1.8-6 1.1-1.8 1.1-1.1 4 .9 2.3 14 1.2 6-.9 6 .6 2.3 2.8 1.2 8-7.5 1.8-6 3-6-1.5-8 1.8-4.2 6.9-.2 2 1 4-.6 3.3-2 .9-4 .3-6-.8-4.6 .3-.4 2 1 1 4 .6 2 1.1 .6 1.3-2.6 2.2-8 1.4-14-.2-6-2.5-4-.7-3.3 1.8-3.8 6-2.9 1.7-12-1.4-5.8 1.7-1.9 2-4.3 1.3-9.1 .7-1.8 2-1.8 6 2.2 10-3.5 .6-9-.5 0-27.8 11 .7 4-1.4 8-1.2 5-2.4-1.2-2 .2-2.5 6-1.4 16-.1 2-.6 1.8-3.4-.2-4 .9-2 8.6-2 1.5-2 .5-2-.6-2 1.5-1.4 10-.7 6 1.8 4-2.7 10 1.1 4-.4 2-.5 1.3-1.2 .2-2-.6-8-.9-1.2-6 .1-6 1.2-8-1-6 .1-2.4-1.2-3.6-5-4-1.5-4-3.3-4-.5-4 1.3-7.4 5-.6 2-4 3.1-2 .4-6-.8-6 1.6-8-1-4 .8-1.7 1.9 .1 2 1.6 3.5 1 .5-7.3 4-8.7 .9 0-12.5 11-.9 1.8-1.5 .7-2-.5-4.8 .7-3.2-.7-6-2-2.7-11-.1 0-43 3 0 2.8 1.8 9.2 2.5 4 .3 6-2 6 0 1.3-.8 1.2-4 7.5 1.3 10 5.9 2 3.6 6 4.1 3.2 5.1 2.3 6-.5 4 .9 2 8.1 2.9 26 .3 16-2.1 8 .8 12-1 12 2.5 2-.4 .5-1-1.1-4 4.2-6-4.3-4 .9-2 3.8-1.6 4-.7 1.8-1.7 .2-2.7-3-3.3-.3-2 3.3-2.5 1.5-3.5 2.5-1.5 6-1.1 4-2.1 6-.5 10 1 6-1.9zM571.5 717l.5 .6 .6-.6-.6-.6-.5 .6zM203.2 723l.8 1.4 2 .7 1.2-2.1-4 0zM468.9 743l-4.9 4-.8 2 4.9 2 1.1 2 .6 4 2.2 4.1 3 1.9-3 1.4-2 4-.2 2.6 2.2 1.5 14-.8 6 3.1 4 .9 10 0 8 1.1 8-.8 6 .5 6-2.5 12-1.2 2.6-3.8-.6-2.8-2-1.8-10-2.1-10 1-24-.6-2.4-1.7-1.1-6-1.2-2-7.3-2.7-4-4.4-10-3.5-4-.3-3.1 .9zM243.5 749l-5.5 2.9-6 1.5-2.4 1.6-.5 2 1.3 2 0 4-2.4 1.4-4 1-1.7 1.6-.5 4-4.1 8 4.3 5 8.8 1 .5 2-.6 2 1.5 2 1.8 1.3 6 2.3 4 3.1 4 .8 .7-1.5 3.3-2 4-1.2 14 .3 4-3.4 4-.9 1.2 1.2 .3 2 2.5 1.7 6 .7 .9 1.6-.9 2-3.7 2 1 2 6.7 2.7 18 1.7 2-1.2 2-5.2-1.8-8 .9-6 .9-2 2 .4 2 1.4 2.1 4.2 1.9 2.1 2 .8 5.8-.9 1.9-2 .3-4-1-2-3-1.6-4.7-.4-1.5-2 .5-4-.4-2-1.9-1.8-2-.7-14 1-2 .8-1.6 2.7 .3 4-2.7 2.1-14 .4-6 2.1-6 .4-1.6-1 1.4-6-1-4-8.8-1.5-1.5-2.5 .3-2 3.1-4 4.1-.1 2-.6 .8-1.3 1.3-8-1.1-2-3-1.4-6 .1-18.5-2.7zM352.8 785l-1.7 2-.4 4 .6 2 2.7 1.4 4 0 6-1.8 12 0 12 2.4 2-.3 1.1-1.7-1.1-7.7-2-1-14-1.1-10 1.9-8-.7-3.2 .6zM203.9 795l-1.9 1.5-1.1 2.5 .1 2 1 .2 8-1.2 8 .2 2.1-1.2 .5-2-2.6-2.3-4-1.2-10.1 1.5zM209.8 803l4.2 1.3 2.8-1.3-.8-.9-2-.3-4.2 1.2zM640 682.8l4.1 .2 1.3 2-5.9 6 2.5 .8 3.9-.8 3.2-4 .9-2.7 2-.9 8-.3 4 .4 3.6 1.5 1.2 4 1.2 .8 16 1.7 2 1.1 1 2.4 .2 4 2.8 2.1 6 1.6 1.5 2.3 .3 2-1.1 8 .1 2 1 2 2.2 1 4 .1 2 .7 2.4 4.2-.2 4 .8 4 1 1.9 4.3 2.1-.6 2-3.7 1.4-2 1.9-4 6.3-4 1.3-4 2.3-8.2 .8-1.4 2-.4 2.7-2.2 5.3-5.8 2.7-1.2 1.3-.8 4.8-2 1.5-6 .8-6-1-12-.2-2.4-1.9-.2-4-1.4-2.4-6-2.7-6 1.7-6-1.2-2.7 2.6-1.3 2.9-4-1.4-5.3-3.5-.1-2 4.1-10 .2-2-1.5-4 .1-8 1.1-4-3.8-10-.8-.9-6-1.6-.8-1.5 .1-2 .8-2 3.9-4 .6-2 1.4-.8 4-6.2 2.9-3-.8-2 1.6-2 4.3-1.6 3.6-2.4-1.4-4 2-2 7.8-2.2zM671.4 723l-3.3 2-1 2-.2 4 3.1 1.7 6.3 .3 1.6 2 2.1 5.2 2 1.5 4 .3 2-1.1 1.6-1.9 .5-2-.8-4 .9-4-.8-4-1.4-2.6-2-.8-4-.2-10.6 1.6zM662.7 733l1.3 .5 1-.5-2.3 0zM649.6 743l-1.8 4 .2 4-2 2-6 1.2-.9 .8 .9 2.6 10 2 4-.2 2-1.4 1.4-3 2-2 8.6-.4 1.6-1.6-.3-6-1.3-2.5-16-.9-2.4 1.4zM846 688.9l3 0 0 52.1-7-.1-12 1.4-2 1.2-.8 1.5-1.9 6 .7 2.2 4 2.2 12-2.5 7 0 0 10.8-29-2.2-6 1.7-4.6-.2-1.6-2-.5-6 1.3-4 .2-14-1.4-4-1.4-1.8-2-.6-10 1.4-18-.9-6 .5-22 4.4-7 3-.4 2 3.4 1.5 10.1-1.5 3.1 2 1.2 2 7.6 7.2 2 .7 6.1 .1 1.3 2-1 2 1.3 4-.5 2-1.2 .6-12 1.7-4-.2-6-1.9-10 1.2-8-2.2-4 .7-2-.8-.8-1.1 .2-2 1.8-2-.1-2-2.9-4 .2-2 1.9-4-1.6-6 .6-4-1.2-2 1.2-4-.8-4 1.5-2.2 7.1-3.8-.6-4 3.2-2 8.3 0 2-1.1 .6-.9-1.4-6 1.5-2 1.3-.7 6-.7 18 1.6 6-1.2 6-2.4 16 3.3 14-1.8 10 0 4-1.9 4-.2 1.4-4 2.6-3.2 4-2.3 4-.6zM755.8 711l-1.5 2-1.3 6 1 1 2 1.1 4 .2 4-.6 2.7-1.7 .2-4-1.3-2-5.6-2.1-4.2 .1zM825.6 713l.6 2-.5 4 2.3 3.3 4 .8 4-.7 3.1-3.4 .4-4-1.5-2-2-1.1-8-.6-2.4 1.7zM745.6 747l2.4 .8 3.4-.8-3.4-1.3-2.4 1.3zM162 690.6l2-.3 2.8 .7-.8 1.7-5.2-1.7 1.2-.4zM364 706.4l.5 2.6-1.6 0 1.1-2.6zM760 783.8l20 .5 4 1.5 1.1 1.2 1 4-2.1 2.4-6 1.2-18-1.6-1.4-2-.9-4 .7-2 1.6-1.2zM824 794.5l8-.7 17 1.3 0 28.1-15 .7-10-.9-10 1.2-5.6-1.2-1-2 2.6-4.3 6.6-3.7 1-2-.6-6 1-3.9 4-5.9 2-.7zM244 808.7l6 .2 3.5 2.1-1.5 .5-5.8-.5-3.7-2 1.5-.3zM148 814.3l2-.9 2 .4 2.2 3.2-1.6 6 .2 4-.8 .6-2 .6-6-.3-6 3-3.9 .1-2.1-1-2-2.7-4.4-.3-2.7-2 3.1-1 3.6 1 .4 1.4 10-.9 2-1.3 .6-5.2 .9-2 4.5-2.7zM274 817.4l4.4 1.6-1.5 2-2.9 .6-1.3-.6-.2-2 1.5-1.6z"/>
<path fill="#ff3200" d="M754 358.4l1.5 .6-3.2 0 1.7-.6zM304 407.9l4-.4 2 1 2 2.5-.5 2-3.5 1-5.1-1-1.3-2 .9-2 1.5-1.1zM384 438.7l12-1.5 3.9 1.8 1.2 4-2.7 2-6.4 2.1-4 .2-4-1.7-1.8-2.6-.2-2 2-2.3zM56 454.9l4 .1 0 2-4 1.1-5-.1 0-2 3 0 2-1.1zM572 462.8l4-.7 1.5 .9 0 2-3.5 1.2-2-.4-1.2-.8 1.2-2.2zM820 488.7l2 .1 4 2.1 1.9 2.1-.3 2-3.6 1.9-4-.2-2-.8-.9-.9 .1-2 2.8-4.3zM800 500.6l5.2 .4 1 2-.2 2-2 .8-3.2-.8-1.6-2 .1-2 .7-.4zM750 546.8l4-.4 12 2.4 1.8 6.2-1.8 2.4-8 .3-1.8 1.3-1.1 4-1.1 1.2-2 .8-2-.2-3.3-3.8-.7-6.6-1.9-3.4 .8-2 5.1-2.2zM94 700.3l6 .3 2 1.9 .3 4.5 1.3 2-.5 2-1.8 2 0 6 2.7 2.4 6 .4 1.9 1.2 .8 2-.4 4-2.3 1.2-12 .1-3 .7-2.1 2-2.2 4 1.3 1 4 .1 4-2.1 2.1 1-1.2 2-6.4 2-10.5 .4-.9-.4-1.6-4-3.5-2-.2-2 4.2-2.5 1-5.5 2.4-4-2.8-4 .1-2 2.8-2 6.5-.5 4-1.5-.1-4-2.5-4-.4-2 1-.7zM630 702.2l6-.1 2.7 .9 1.8 6-2.5 2.4-5-.4-1.7-2-.6-2-2.2-2 0-2 1.5-.8zM672 702.2l4 .8 6 3.7 4-.3 1.2 2.6-1.2 .8-2-.6-2-1.6-5.1 1.4 .1 2 2.1 4-.5 2-2.6 2.8-4 .7-2-.4-1.1-1.1-.2-2 .7-4-.5-2 1.3-4-.7-2 .8-2 1.7-.8zM244 704.4l4-1.4 2 .5 1.2 1.5 .1 2-3.3 2.9-5.1-2.9 1.1-2.6zM442 707l2-1.9 2 0 2.9 1.9 .2 2-2.4 2-4.7 .5-.9-.5 .9-4zM250 711.9l4 .7 4-1.3 2 1.2 2.3 4.5-2.3 2.6-8 2.3-4 .2-4-.9-2-2.2 1.4-2 4.4-2 .8-2 1.4-1.1zM452 712.5l4-1 2 .8 0 8.9-2 .5-2-.4-2.5-2.3-1.3-2-.2-2 2-2.5zM622 712.7l2.3 .3 1.7 1.2 4 7.3 8 1.3 9.3 .2 1.1 2-2.4 2.6-2 .6-8-.4-4 3.2 4 .5 8-2.2 2 0 3.7 1.7 2.6 2-.4 2-2.8 2-3.1 4.3-14 .8-2.8-1.1-.2-2 2.3-4 .7-4-2.2-2-.7-6-1.1-.8-6-1-1.7-2.2-.8-2 .4-2 2.1-2.3zM482 722.6l4-.3 10 2.3 .5 .4-1.1 2-2.5 2 5.1 2.9 8 .8 4 1.6 6 .7 2.7 2 3.3 4.3 8 2 6 .5 1.5 1.2-.6 4-.9 1.5-10 1.6-12-2.1-12 1.1-1.8-2.1 .1-2-2.3-2.7-6-1-2.8-2.3 .4-4-1.6-.8-4 .8-.2 2-3.8 .8-8-1.6-8 1.7-3.5-.9-1.5-2 .3-2 6.7-3.2 4-6.3 2-1.6 1.2 1.1 2.8 .8 6-3.2zM562 722.4l2-.9 2 .2 6 1.7 10.9 1.6 3.1 1.1 2 1.9 1.9 11-1.4 4-.5 6.1-2 1.6-4 1.1-14-1.6-8 1.3-10-.6-1.6-1.9-.3-2 .9-2 4.7-4-3.7-3.2-.5-.8 .5-1.3 2-2.4 6 .4 2.3-.7 1.2-2 0-8 .5-.6zM572.9 737l-.9 .4-2 3.4 0 2.2 4 .9 3-.9 1.7-2-2.7-3.1-3.1-.9zM700 724.2l4-.5 2 .3 1 1 .5 14-1.5 2.4-1.3-.4-1.7-4-3-2-1.3-2 .9-4-.6-4 1-.8zM750 726.9l12-1.4 2 .5 1.9 3-1.9 .8-10 .4-4.3-1.2 .3-2.1zM444 729l4.4 0 1 2-5.4 1.4-2-1.4 2-2zM276 730.9l2 .7 .6 1.4-.6 2.6-1.2 1.4 .8 4-1.6 1.2-4.1-1.2-2-6 .4-2 1.7-1.3 4-.8zM158 734.3l1.7 .7-.7 4-3 .6-1-.6 .5-2 .5-1.2 2-1.5zM330 734.4l8-.7 2 1 .8 2.3-.6 4 1.8 2 2 1.1 4 .4 .1 2.5 3.4 4 6.5 3.7 2-.7 .6-1-.4-4 .7-4 1.1-1.1 2-.7 6-.1 6-1.7 5.3 1.6 0 2-1.3 1.6-4.1 2.4-1.2 2-3.3 2-.9 4 .6 2 2.9 3.3 3.5 .7 1 2-.5 .6-6-.1-3 1.5 1.6 2-.4 2-2.2 .8-4 .7-8 0-5.1-1.5-1.6-6-1.3-.7-6 0-1.7 .7 2 4-.2 2-1.6 2-2.5 .8-6.9-.8-1.9-2 1.6-4-.5-2-2.3-1.2-6-.3-1-.5-.5-2 .6-4-.7-2 2.6-4-.5-8 1.5-3 3.5-3 .9-2 1.6-.6zM394 734.5l1.7 .5 .5 2-2.2 .8-1-.8 1-2.5zM402 735l4-1.8 2 .2 3.4 1.6 .8 2-4.2 6.9-2 .2-2.5-1.1-1.5-8zM278 743l10 2 0 2.6-4 3.8-2 .3-8-1.5-1.6-1.2 5.6-6zM404 747.5l2 .2 1.2 1.3-2.9 2-1.1 0-.7-2 1.5-1.5zM460 760.9l2.3 .1-2.3 2 0-2.1zM290 764.8l-1.6 .2 1.6-.2zM298 764.2l2 0 4.6 2.8-.3 2-7.6 4-6.5 0 .2-2 3.6-.9 1-1.1 1-3.9 2-.9zM554 764.7l2 .8 .4 1.5 1.6 1.3 1.4 2.7-1.4 2.5-2 .8-4 .2-1.6-1.5 1.6-4.6 1.2-1.4-.1-2 .9-.3zM482 776.5l4.2 .5-2.2 1.4-2-.4-.8-1 .8-.5zM366 796.8l6-1.3 6-.2 3.7 1.7 .5 2-1.6 2-2.6 .7-12 .3-2.7-1-.2-2 .9-1.8 2-.4z"/>
<path fill="#e11400" d="M752 548.9l4 .6 1.2 1.5 .3 2-.9 2-4.6 1.3-2-.1-1-1.2-1-4 2-1.6 2-.5z"/>
<path d="M53.0 435.8H847.0M53.0 517.7H847.0M53.0 599.5H847.0M53.0 681.3H847.0M53.0 763.2H847.0M185.3 354.0V845.0M317.7 354.0V845.0M450.0 354.0V845.0M582.3 354.0V845.0M714.7 354.0V845.0" stroke="#aaaaaa" stroke-width="1.2" stroke-dasharray="2 7" fill="none"/>
<path d="M178.7 465.8 240.0 465.8 240.0 464.7 252.6 468.6 263.6 472.7 268.0 475.9 268.0 483.6 275.8 482.2 281.3 479.5 285.2 476.8 292.3 476.8 295.6 472.7 297.8 470.2 300.5 471.0 300.5 475.9 302.2 477.3M139.0 409.4 139.0 435.0 147.8 438.6 152.2 436.7 156.7 445.4 163.3 449.5M191.7 510.8 197.0 510.3 205.2 514.1 211.4 514.1 215.1 512.8 219.5 518.8 222.8 520.4 226.4 518.2 230.5 524.5 235.6 528.9M191.9 465.8 191.9 474.0 176.5 473.5M191.9 474.0 191.9 484.9 175.8 484.9M185.3 484.9 185.3 493.1 197.2 504.0M191.9 484.9 205.2 484.9 205.2 487.7 220.6 487.7M198.6 465.8 198.6 476.8 205.2 478.1 205.2 484.9M198.6 484.9 198.6 504.0M205.2 476.8 220.6 476.8M205.2 487.7 205.2 498.6 198.6 498.6M209.6 487.7 209.6 514.1M220.6 465.8 220.6 487.7 225.0 487.7 225.0 490.4 239.8 490.4M222.8 487.7 222.8 512.2 214.9 512.2M209.6 498.6 241.4 498.6M222.8 499.9 229.4 499.9 229.4 505.4M220.6 474.3 237.2 474.3M220.6 482.2 237.2 482.2 237.2 465.8M237.2 480.8 248.9 480.8 250.4 483.6 257.0 483.6M239.8 490.4 241.4 499.9 241.8 507.8 242.7 518.5M241.8 507.8 249.3 509.5 249.3 499.9 252.6 499.9 269.1 499.7 282.8 499.7M249.3 509.5 249.3 514.9 252.6 514.9 255.9 516.3M255.9 504.0 255.9 516.3M262.5 504.0 262.5 514.9 257.0 514.9 257.0 516.6M262.5 514.9 269.1 516.0 270.2 515.8M255.9 504.0 268.0 504.0 271.4 505.4 275.8 507.0M264.1 504.0 271.4 499.7M257.0 485.8 263.0 485.8 272.5 484.9M272.5 484.9 272.5 491.2 282.8 491.2M274.0 484.9 284.6 484.9 287.9 487.7M263.0 485.8 263.0 492.8 269.1 494.5 272.5 490.4M257.0 485.8 257.0 496.4 255.5 497.2M250.4 483.6 249.3 489.0 252.6 499.9M247.1 472.1 246.4 474.0 249.3 480.8M287.9 476.8 288.3 484.9 291.6 486.8M292.3 476.8 293.8 482.2 293.4 483.0 288.3 483.0M185.3 435.8 185.3 465.8M207.4 435.8 207.4 465.8M225.0 435.8 225.0 465.8M240.0 435.8 253.7 444.6M150.0 435.8 240.0 435.8M150.0 435.8 150.0 415.4M225.0 435.8 225.0 424.9 207.4 422.2 185.3 414.0M274.7 459.0 274.7 472.7 282.4 475.4 285.7 476.8M308.8 435.0 304.4 449.5 308.8 452.2 317.7 457.7 324.3 459.0M247.1 550.4 248.4 552.6 250.4 550.9 253.3 550.9 253.3 556.1M253.0 559.9 255.9 561.6 262.5 558.9 266.5 558.6M261.0 569.2 265.4 569.8M267.2 573.3 267.8 576.9M279.7 578.0 278.2 579.9M291.2 566.8 290.1 579.0 301.1 583.1 301.1 594.0 311.1 588.6 317.7 585.9 317.7 576.3M317.7 585.9 324.3 594.0 330.9 593.5 336.4 587.8M324.3 583.1 326.5 594.0M330.9 584.0 330.5 594.0M301.1 594.0 295.6 596.8 295.6 610.4 289.0 613.1 289.0 624.0 295.6 629.5 297.8 629.5M272.9 609.0 278.0 607.7 284.6 602.2 289.0 605.0 295.6 610.4M275.8 595.4 280.2 598.1 284.6 600.0M297.8 629.5 306.6 626.8 313.3 637.7 317.7 643.1 322.1 648.6 322.1 654.1 312.2 659.5 303.3 659.5 300.0 656.8 297.8 650.0 297.8 640.4 297.8 629.5M294.7 649.7 297.8 650.0M298.9 659.5 295.6 673.2 295.6 689.5 292.3 708.6 292.3 725.0 290.1 733.2 292.3 741.3M312.2 659.5 322.1 674.5 329.8 669.1 328.7 663.6 322.1 654.1M329.8 669.1 323.2 681.3 333.1 691.7M323.2 681.3 321.0 692.2M505.1 513.3 505.1 539.5 531.6 539.5M472.1 517.7 476.5 535.4 483.1 536.8 502.9 546.3 505.1 539.5M430.8 523.9 430.8 528.6 439.4 531.3 452.2 542.2 458.8 547.1 463.2 546.3 476.5 535.4M446.5 504.0 446.7 512.2 430.8 521.8 421.3 523.9M468.7 498.8 468.3 508.1 472.1 517.7M412.5 541.4 421.3 541.4 421.3 536.8 430.8 525.0M439.4 531.3 436.8 542.2 437.9 557.2 423.5 559.9 423.1 565.4M458.8 547.1 458.8 557.2 452.2 558.6 437.9 557.2M458.8 557.2 480.9 564.0 484.2 579.0 502.9 575.0 511.8 587.2 527.2 585.9M483.1 536.8 483.1 564.0 480.9 564.0M502.9 546.3 502.9 575.0M531.6 539.5 530.5 560.5 522.8 566.8 525.0 576.3 527.2 585.9M527.2 585.9 540.4 588.6 540.4 603.6M476.5 613.1 485.3 613.1 489.7 621.3 498.5 629.5 502.9 629.5 509.5 632.2 516.2 621.3 514.0 607.7 518.4 594.0 511.8 587.2M485.3 594.0 489.7 590.0 498.5 587.2 510.7 585.9M485.3 594.0 471.6 593.5M480.9 594.0 480.9 611.8M474.7 593.5 475.4 606.3 480.9 605.0M516.2 602.2 525.0 602.2 533.8 610.4 536.7 612.3M516.2 621.3 527.2 630.9 539.3 628.1M498.5 648.6 505.1 647.2 522.8 645.9M494.1 659.5 494.1 675.9 505.1 669.1 514.0 659.5 520.6 659.5M476.0 646.4 494.1 648.6 502.9 647.2M494.1 659.5 494.1 648.6M486.4 677.5 494.1 675.9M522.8 645.9 522.8 659.5 520.6 672.6M514.0 659.5 522.8 659.5M505.1 647.2 511.8 643.1 516.2 641.8 522.8 637.7 522.8 625.4M527.2 630.9 527.2 639.1 522.8 637.7M423.5 565.4 432.4 572.2 443.4 569.5 454.4 569.5 458.2 568.1 458.8 562.7M431.3 587.2 432.4 576.3 439.0 571.4M443.4 585.9 443.8 569.5M452.2 583.1 451.1 569.5M456.0 582.3 458.2 568.1M469.9 587.2 482.0 565.4M424.6 580.4 426.8 575.0 420.7 574.4M416.9 569.5 419.8 564.9 412.9 564.0M544.8 569.5 555.9 577.7 549.2 585.9 540.4 588.6M530.5 560.5 544.2 565.4M522.8 566.8 529.4 577.7 525.0 587.2M514.0 607.7 517.3 606.3 517.9 602.2M446.7 481.1 456.6 483.6M455.5 460.1 463.2 464.5 467.6 465.8 466.5 469.9 463.2 473.2 465.4 479.5M481.3 452.5 482.2 460.4 477.6 462.3 480.4 466.4 472.1 469.9 466.5 469.7M463.2 458.2 463.2 464.5M465.4 453.6 465.4 458.2 463.2 458.2M501.8 452.2 502.9 461.7 499.6 465.8 491.5 464.5 483.1 460.9M499.6 465.8 508.7 467.7 511.8 475.4M499.6 468.6 494.1 474.0 499.6 478.7 512.9 480.3M499.6 478.7 500.7 484.9 499.6 487.7M507.3 485.5 511.8 484.9M485.3 466.7 487.5 472.7 491.9 474.6M480.2 472.7 486.4 472.7M465.4 479.5 465.4 474.3 473.2 472.7 477.6 471.3 480.2 472.7M477.6 438.6 477.6 431.7 480.9 423.6 485.3 414.0 494.1 411.3M503.4 420.0 501.8 412.6 496.3 410.7M511.8 434.5 516.2 430.4 515.1 424.9 516.2 416.7 512.9 412.6 513.5 408.6M496.3 446.5 508.4 447.6 510.7 442.7 511.8 437.2M501.8 452.2 508.4 447.6 518.4 446.7 519.9 457.4 501.8 459.0M519.9 457.4 527.2 456.8 538.2 464.2 534.3 471.0M430.1 484.9 434.6 484.9 434.6 493.1 433.5 498.0M491.9 467.2 499.6 468.6M483.1 460.9 477.6 462.3M492.8 484.9 496.3 483.6 499.6 487.7 495.2 488.2M491.9 474.6 492.8 484.9M485.3 476.2 491.9 476.8M493.0 482.2 486.4 475.4M558.1 472.7 562.5 468.6 571.3 460.4 584.5 460.9 602.2 448.7 617.6 452.2 641.9 465.3M641.9 465.3 663.9 463.1 688.2 464.5 706.9 463.7 714.7 454.1 730.1 463.1 738.9 469.4 747.3 467.7 743.3 476.8 738.9 483.6M643.6 465.6 650.7 475.4 661.7 483.6 681.6 486.3 695.9 481.4 713.6 471.3 705.8 463.7M641.9 465.3 638.6 471.3 632.0 476.2 626.9 484.4M573.1 486.8 573.5 476.8 579.0 475.4M584.5 478.1 593.4 480.8 600.0 487.7 605.5 484.9 614.3 483.6 626.9 484.4M565.8 485.5 572.4 487.1 573.5 495.6 584.5 499.9 587.8 503.5 595.6 497.2 605.5 497.2 615.4 498.0M584.5 499.9 583.7 508.1 584.5 518.2 587.8 519.6 589.6 525.9 585.6 531.0M615.4 498.6 607.7 500.8 604.4 506.8 602.8 513.6 596.7 518.2 587.8 519.6M615.4 498.6 621.6 502.7 614.3 510.8 614.3 516.3 606.6 523.1 603.5 533.5 600.6 535.1M621.6 502.7 624.2 509.5 628.6 517.7 635.3 521.8 644.1 524.5 646.3 522.6 652.9 523.7 663.9 522.3M626.4 520.9 635.3 525.0 644.1 527.2M644.5 527.8 646.3 539.5M652.9 531.3 654.0 542.2M646.3 528.6 652.9 531.3M663.9 522.3 666.1 532.7 669.5 539.5 672.8 540.3 675.0 538.4 681.6 536.2 688.2 540.9M670.6 543.9 667.2 554.5 668.8 571.7M679.4 544.9 686.0 555.9 687.1 559.9 683.8 568.1M671.7 543.9 673.2 551.8 680.5 551.8 682.7 560.8 676.1 561.3 675.4 566.2M671.4 581.8 673.9 583.7 675.0 582.6M529.4 499.9 543.3 498.3 548.8 498.0 548.1 491.2 545.9 487.4 541.5 486.3M548.8 498.0 550.4 506.8 554.8 510.8 557.0 517.7M529.4 509.5 536.0 511.7 542.6 514.7 553.7 520.1 555.9 519.6M543.3 498.3 540.4 505.7 536.0 511.7M527.0 519.0 529.4 519.6 531.6 513.6 536.0 511.7M545.3 552.3 553.7 553.1 564.7 547.7 572.6 544.9 571.3 537.6 564.7 534.0M565.1 556.9 564.7 547.7M538.2 480.8 552.6 485.2 558.7 485.2M724.2 490.7 727.9 486.3 732.3 484.9 737.8 483.6M729.0 496.4 733.4 494.5M548.1 491.2 552.6 493.4 555.9 494.5M563.8 529.1 562.5 532.7M573.5 528.0 573.5 534.0M761.0 606.6 761.0 624.3M708.0 587.8 704.7 588.6 701.4 595.4 694.8 596.8 692.6 594.6" stroke="#1e3cff" stroke-width="1.4" fill="none" stroke-linejoin="round"/>
<path d="M86.1 414.0 90.5 408.6 105.9 405.0 119.2 407.5 139.0 409.4 152.2 411.3 167.7 408.6 185.3 409.9 196.4 414.0 211.8 414.0 229.4 414.6 240.5 412.6 251.5 411.8 262.5 409.9 269.1 418.1 260.3 424.9 251.5 426.3 242.7 435.8 242.7 439.4 246.0 444.0 255.9 446.7 269.1 449.5 269.1 456.3 275.8 459.0 276.9 449.5 280.2 441.3 278.0 435.8 278.0 429.6 286.8 429.6 295.6 433.1 297.8 439.9 306.6 435.8 313.3 442.7 315.5 448.1 324.3 454.9 326.5 459.0 317.7 462.6 303.3 462.6 293.4 471.8 306.6 466.7 307.7 474.0 315.5 475.4 304.4 478.1 295.6 480.8 294.5 485.5 286.8 489.0 282.4 495.8 282.4 504.0 278.0 506.8 271.4 513.6 273.6 525.9 272.7 530.8 269.6 528.6 267.4 523.1 264.7 517.7 255.9 516.6 252.6 519.8 249.3 519.6 242.7 518.8 235.6 523.9 235.0 531.3 234.3 538.1 238.3 547.7 241.6 549.9 249.3 548.5 250.4 542.2 258.1 540.9 255.9 549.0 254.8 555.9 264.7 556.4 266.3 566.8 265.8 569.5 270.2 575.0 274.7 573.6 279.1 576.0 282.4 573.6 283.5 570.3 289.0 568.7 292.3 565.7 295.6 568.1 300.0 570.6 308.8 570.3 315.5 571.9 317.7 576.3 324.3 583.1 333.1 584.5 337.5 588.6 339.7 594.6 343.0 602.2 351.9 606.3 361.8 607.1 368.4 612.6 372.8 617.2 372.8 624.0 367.3 632.2 364.0 647.2 360.7 655.4 357.4 662.2 350.8 664.4 343.0 670.4 342.4 677.2 337.5 684.1 333.1 691.7 328.7 694.4 323.2 693.6 321.0 692.2 324.3 699.1 323.2 703.7 313.3 705.9 312.8 710.8 306.6 711.3 306.6 715.4 308.8 716.2 305.5 722.2 301.1 726.3 304.4 730.4 298.9 737.3 298.9 742.2 295.6 743.5 298.9 748.2 303.3 749.5 293.4 749.5 285.7 743.5 283.5 731.8 286.8 725.0 287.2 716.8 287.9 708.6 287.9 700.4 292.3 689.5 292.5 678.6 294.5 667.7 295.4 650.0 292.3 647.2 281.9 637.7 278.0 628.1 274.0 618.6 270.9 615.9 272.9 609.0 272.9 602.2 273.6 598.1 276.2 595.4 279.1 588.6 279.5 580.4 277.3 576.9 274.7 579.6 272.5 579.0 269.1 577.1 265.6 575.5 261.0 571.7 261.0 569.2 257.0 564.0 248.2 561.3 242.7 555.9 237.2 556.7 231.7 554.2 226.1 550.9 217.3 544.9 218.0 540.6 216.2 536.8 210.7 530.5 205.2 523.1 201.2 514.1 196.8 513.6 198.6 519.0 203.0 525.9 207.4 534.0 208.5 536.5 206.7 535.9 203.0 531.3 198.6 524.5 196.4 519.0 193.1 513.0 191.5 510.6 188.6 506.8 184.0 505.1 181.1 499.7 179.8 496.4 177.0 491.8 175.8 484.9 176.5 473.5 175.0 467.5 178.7 466.4 174.3 463.1 168.8 460.9 163.3 452.2 156.7 442.7 150.0 439.9 141.2 436.4 132.4 435.8 124.7 433.7 115.9 438.0 110.3 442.7 101.5 445.4 92.7 449.5 87.2 450.8 97.1 445.4 103.7 439.9 92.7 439.4 87.2 434.5 85.2 429.0 87.2 427.1 94.9 423.6 83.9 423.3 79.5 420.6 89.4 417.8 86.1 414.0ZM289.0 386.7 304.4 378.6 328.7 375.0 361.8 371.7 394.9 373.1 405.9 375.8 410.3 381.3 408.1 389.5 403.7 397.6 401.5 404.5 394.9 408.6 379.4 414.0 366.2 420.8 359.6 427.6 354.1 435.8 344.1 433.1 338.6 424.9 335.3 416.7 332.0 409.9 328.7 403.1 322.1 393.6 313.3 390.8 302.2 389.5 289.0 386.7ZM313.3 417.8 308.8 426.3 300.0 429.0 290.1 423.6 280.2 421.4 287.9 414.0 295.6 411.8 284.6 408.6 273.6 407.2 253.7 405.8 266.9 399.0 284.6 401.7 295.6 404.5 308.8 414.0 313.3 417.8ZM189.7 405.8 203.0 412.6 227.2 413.2 219.5 408.6 227.2 407.2 218.4 400.4 207.4 400.4 189.7 400.9 189.7 405.8ZM255.9 390.8 273.6 391.4 284.6 385.4 291.2 384.0 306.6 379.9 313.3 375.8 295.6 373.1 262.5 374.5 247.1 378.6 240.5 381.3 255.9 390.8ZM273.6 396.3 249.3 396.3 247.1 391.6 273.6 391.4 273.6 396.3ZM174.3 403.4 185.3 404.5 194.2 399.0 183.1 396.3 176.5 397.6 174.3 403.4ZM194.2 396.3 218.4 395.5 218.4 392.2 200.8 390.8 191.9 392.2 194.2 396.3ZM227.2 403.1 238.3 403.1 240.5 398.2 229.4 398.2 227.2 403.1ZM240.5 403.1 251.5 403.1 251.5 397.6 240.5 397.6 240.5 403.1ZM236.1 386.7 255.9 386.7 255.9 378.6 236.1 379.9 236.1 386.7ZM258.1 424.9 273.6 426.3 269.1 420.8 258.1 420.8 258.1 424.9ZM319.2 469.7 326.5 464.2 327.6 459.0 333.1 465.3 333.8 469.9 331.6 472.1 327.6 470.7 319.2 469.7ZM167.0 460.9 174.3 466.9 178.1 467.5 174.3 463.1 167.0 460.9ZM262.5 539.8 268.0 537.6 273.6 536.5 280.2 540.3 286.3 544.4 279.1 545.2 276.9 540.9 270.2 540.6 262.5 539.8ZM289.4 545.2 295.8 546.0 299.1 548.8 292.5 551.5 285.9 549.3 289.4 545.2ZM277.3 549.3 281.7 549.9 280.6 550.7 277.3 549.3ZM301.8 549.0 305.3 549.3 304.9 550.4 301.8 550.4 301.8 549.0ZM314.8 739.4 322.5 740.0 321.0 741.9 315.5 741.6 314.8 739.4ZM401.5 424.9 397.1 420.8 401.5 418.4 414.7 418.1 419.1 420.8 418.0 423.8 410.3 426.6 401.5 424.9ZM437.4 463.1 443.4 461.5 452.9 460.1 453.7 455.7 450.7 454.1 448.9 450.8 446.5 447.8 445.1 445.4 446.0 442.4 442.7 439.7 439.0 439.7 437.6 442.7 437.2 447.3 439.4 450.0 442.9 451.9 443.4 454.1 440.1 455.5 440.1 458.5 443.4 459.0 437.4 463.1ZM436.8 457.4 436.8 452.5 437.9 448.9 433.5 448.7 431.3 450.6 427.9 451.7 428.2 457.7 431.3 458.7 436.8 457.4ZM474.3 385.4 485.3 390.8 498.5 388.1 509.5 381.3 494.1 380.2 474.3 382.1 474.3 385.4ZM564.7 404.5 573.5 406.9 576.8 406.6 569.1 400.4 573.5 396.3 586.7 392.2 600.0 389.5 593.4 393.6 577.9 399.0 573.5 403.1 564.7 404.5ZM659.5 384.0 670.6 385.4 681.6 382.6 670.6 378.6 659.5 379.9 659.5 384.0ZM752.2 394.9 763.2 397.6 778.6 394.9 763.2 392.2 752.2 394.9ZM549.2 381.3 571.3 381.3 586.7 378.6 571.3 377.2 549.2 379.9 549.2 381.3ZM763.2 474.0 766.5 465.8 765.4 457.7 765.4 452.2 764.3 451.4 762.5 457.7 763.2 465.8 763.2 474.0ZM758.8 486.3 762.1 483.6 766.1 484.9 770.9 481.4 762.7 475.7 759.4 481.7 758.8 486.3ZM738.7 506.8 742.2 502.9 748.9 502.4 751.7 498.0 755.5 497.2 758.8 491.8 758.8 487.1 762.1 486.8 763.2 491.8 761.0 495.8 760.5 501.3 758.3 504.0 755.9 505.1 752.2 505.1 748.2 507.6 747.8 505.1 742.2 506.2 738.7 506.8ZM736.1 508.7 738.9 507.0 741.1 509.5 739.4 514.1 737.2 514.1 736.1 508.7ZM742.2 509.5 746.6 507.3 746.0 505.9 743.3 506.5 742.2 509.5ZM714.9 536.8 716.9 530.8 719.1 531.3 718.0 536.8 716.4 539.8 714.9 536.8ZM689.5 547.1 693.7 544.7 694.8 546.0 691.5 549.9 689.5 547.1ZM714.7 555.9 715.8 549.0 719.5 549.0 719.7 554.5 718.2 556.1 719.1 561.3 723.5 561.6 723.5 565.4 718.0 561.9 716.0 559.9 714.7 555.9ZM719.1 579.6 722.4 577.7 725.3 575.0 729.0 574.1 729.0 582.3 726.6 584.0 723.5 581.8 719.1 579.6ZM719.1 569.5 723.5 565.9 727.9 569.5 724.6 572.2 721.3 574.4 719.1 569.5ZM690.4 595.4 691.5 602.2 693.1 607.7 702.5 610.1 706.9 609.0 705.8 602.2 709.2 597.6 712.0 596.8 709.8 593.5 712.9 585.0 708.9 580.7 705.8 582.3 703.6 585.9 700.3 590.8 695.9 592.4 691.7 594.0 690.4 595.4ZM660.2 584.2 665.0 585.3 671.2 593.5 678.7 602.2 683.8 607.7 683.3 615.6 680.5 615.6 675.6 610.4 671.2 602.2 667.7 594.9 661.7 589.7 660.2 584.2ZM682.0 618.0 684.9 615.9 689.3 617.5 694.8 617.0 698.8 618.3 702.5 620.5 702.3 623.2 694.8 621.9 688.2 620.8 682.7 618.6 682.0 618.0ZM703.6 621.9 714.7 622.1 725.7 622.1 730.1 622.4 725.7 624.9 714.7 626.8 705.8 624.0 703.6 621.9ZM713.6 614.5 713.6 607.7 712.2 606.6 714.2 599.5 715.1 597.6 721.3 597.0 724.8 595.1 725.7 596.0 722.2 599.0 716.9 598.1 715.8 602.2 718.2 602.2 722.2 602.0 719.1 605.0 720.2 611.8 718.0 612.0 715.5 607.1 715.5 614.5 713.6 614.5ZM731.2 594.6 733.4 595.4 732.3 599.5 733.4 601.7 731.2 600.9 731.2 594.6ZM738.9 603.0 745.5 601.7 748.9 608.5 754.4 604.1 761.0 606.6 768.7 609.9 772.0 614.5 775.8 616.7 774.7 620.0 778.0 625.4 781.9 628.1 775.3 627.1 772.0 621.9 767.6 620.5 766.1 624.6 761.0 624.3 756.6 621.6 754.4 622.4 753.7 614.0 746.6 610.4 742.9 610.4 741.1 607.1 743.3 605.8 738.9 603.0ZM777.5 614.5 780.8 613.1 785.2 611.0 785.2 614.5 780.8 616.4 777.5 614.5ZM626.0 577.7 626.9 572.8 630.4 579.0 629.1 582.6 626.4 583.1 626.0 577.7ZM558.7 632.2 561.4 641.2 559.6 645.9 557.0 655.4 553.9 667.4 549.7 669.1 546.4 663.6 545.5 658.1 547.9 652.7 547.0 645.9 551.5 642.6 555.9 636.3 558.7 632.2ZM700.3 659.5 701.4 670.4 703.6 681.3 703.6 690.9 706.9 695.0 710.3 695.0 722.4 691.7 727.9 687.6 734.5 685.7 739.4 685.4 745.5 689.0 749.3 694.4 753.9 690.1 753.9 696.6 757.7 697.2 759.9 703.2 766.5 705.3 772.7 706.2 776.4 702.6 780.8 701.8 783.0 693.1 786.3 687.3 788.6 677.2 787.5 669.1 782.6 660.9 779.1 658.1 772.7 651.3 770.5 643.1 769.8 639.1 766.5 637.7 764.3 628.7 762.3 635.0 762.1 643.1 760.3 647.2 757.2 646.7 752.2 642.6 748.6 639.9 751.7 633.1 748.9 632.0 742.5 630.9 738.9 632.8 735.6 639.9 732.3 640.1 729.0 637.4 725.7 641.8 722.4 645.6 719.5 648.1 716.9 652.7 712.0 654.9 707.6 655.7 702.8 659.0 700.3 659.5ZM769.1 710.5 777.1 711.1 776.4 717.3 774.0 718.4 770.5 714.9 769.1 710.5ZM830.9 693.3 834.9 699.1 837.7 701.8 843.7 702.3 840.4 706.7 839.7 709.2 836.4 713.0 835.1 711.9 836.4 709.4 833.3 706.4 835.1 705.3 835.5 702.6 833.8 699.1 830.9 693.3ZM830.9 710.0 834.2 713.2 831.8 718.2 827.6 720.9 826.3 724.7 823.4 726.6 817.2 725.0 818.3 722.2 821.2 719.5 826.9 715.4 829.6 711.3 830.9 710.0ZM521.2 514.4 516.2 514.1 505.1 513.3 494.1 514.9 491.9 516.8 484.2 513.6 475.4 508.9 472.1 506.2 474.3 503.5 472.5 498.0 468.7 498.8 456.6 499.1 447.8 502.7 437.0 501.8 435.0 506.8 428.6 516.3 424.6 523.1 420.9 525.9 416.9 532.7 413.6 539.5 412.5 543.6 414.3 547.7 413.6 554.5 411.4 559.4 412.9 564.0 416.9 569.5 420.7 574.4 424.6 580.4 432.4 587.2 439.0 585.6 445.6 586.4 452.2 583.1 456.6 582.3 461.0 584.5 464.3 587.8 468.7 587.2 471.4 591.3 471.0 596.8 470.5 603.6 476.0 611.8 477.1 615.9 479.3 624.0 480.2 632.2 476.5 641.8 476.0 648.6 482.0 660.9 483.5 673.2 486.4 677.5 490.1 686.8 490.6 692.2 494.1 694.4 499.6 692.2 506.5 692.2 510.7 690.1 516.2 684.1 521.7 677.2 522.6 670.4 528.3 665.0 527.9 658.1 526.5 653.5 530.5 650.0 538.2 643.1 539.5 633.6 538.9 628.1 536.7 621.3 536.7 613.1 539.3 606.3 542.6 601.7 547.0 594.6 553.7 587.2 559.2 579.0 562.9 570.9 562.9 567.3 558.1 568.7 549.2 571.1 545.7 568.1 543.7 564.0 540.9 559.7 537.1 557.2 534.9 550.4 532.0 542.2 528.5 534.3 526.1 528.6 523.9 523.7 521.9 517.9 521.2 514.4ZM525.4 514.1 527.2 509.5 529.2 504.0 529.4 499.9 526.1 499.1 521.7 501.0 517.3 500.5 512.9 499.7 510.7 498.6 508.4 495.3 507.8 491.8 508.4 489.8 507.3 488.2 502.9 488.2 499.6 489.0 502.9 495.3 500.7 495.8 499.6 499.9 496.3 494.5 492.8 490.4 493.0 486.3 490.8 483.6 486.4 480.8 483.1 478.1 480.0 475.1 477.1 475.7 477.6 478.9 480.9 483.6 485.3 486.3 490.8 490.1 487.7 489.0 487.5 493.1 485.3 495.8 484.4 490.4 480.9 487.7 476.5 484.9 472.5 479.8 468.7 478.4 464.3 481.9 459.9 480.8 456.6 481.7 457.1 485.2 450.4 490.4 450.0 494.5 445.6 499.4 437.9 501.3 436.8 500.8 430.6 498.6 429.0 493.7 430.6 486.3 429.0 481.7 432.4 480.3 441.2 481.1 446.7 481.1 447.4 474.0 444.5 470.5 439.6 468.0 446.7 466.7 447.1 463.9 450.4 464.5 453.3 462.6 455.5 460.1 458.8 459.0 460.6 454.9 465.4 453.6 468.7 452.5 469.0 448.1 468.1 444.6 473.2 442.1 472.7 446.2 474.0 450.8 477.6 451.1 481.3 452.5 486.4 450.8 491.2 450.8 496.3 448.1 496.3 444.6 501.8 444.0 503.6 440.5 501.8 438.0 511.8 437.2 515.7 435.8 508.4 434.7 500.3 436.1 497.0 433.7 497.4 429.0 505.1 422.2 506.0 420.8 499.6 420.0 496.3 423.6 491.9 426.3 488.6 429.0 487.9 433.1 490.8 435.8 486.4 441.8 486.0 445.4 481.3 448.4 478.2 447.8 477.6 445.4 475.6 440.5 473.2 437.2 468.1 441.0 463.2 440.7 461.0 437.2 461.0 431.7 463.2 429.0 468.7 426.3 473.2 423.6 478.7 418.1 483.1 413.5 487.5 411.3 494.1 408.6 502.9 405.8 511.8 405.6 518.4 407.7 522.8 410.5 529.4 411.0 540.4 415.4 540.9 418.6 533.8 419.5 526.1 418.1 522.8 418.1 526.8 423.6 532.7 424.9 538.2 423.0 547.0 418.9 547.0 413.2 551.5 414.0 553.7 415.1 568.0 412.6 575.7 412.1 582.3 411.3 584.5 409.1 591.2 410.5 597.8 412.6 601.1 413.5 602.2 409.9 597.8 407.2 597.3 404.5 602.2 400.4 609.9 400.9 609.9 404.5 615.4 402.3 614.3 400.6 619.8 402.0 626.4 402.3 628.6 398.5 641.9 398.2 640.8 395.2 648.5 393.6 659.5 392.2 670.6 390.8 680.5 387.6 683.8 388.6 686.0 390.8 697.0 391.1 700.3 393.6 698.6 397.6 710.3 399.0 721.3 400.4 730.1 399.0 734.5 402.3 738.9 406.4 747.8 404.2 758.8 401.7 772.0 402.3 780.8 404.2 785.2 406.1 796.3 405.8 802.9 407.7 807.3 409.6 820.5 408.8 827.1 408.6 838.2 409.4 847.0 411.6 847.0 422.2 842.6 423.6 838.2 429.0 831.6 431.7 824.9 435.8 816.1 435.8 810.6 436.4 807.3 441.3 809.5 445.4 807.3 450.0 802.9 454.9 799.6 457.7 795.6 460.4 794.1 454.9 793.0 446.7 795.2 442.7 798.5 441.3 802.9 437.2 806.2 434.5 800.7 431.2 794.1 431.7 789.7 437.2 783.0 438.6 776.4 437.7 765.4 437.7 759.9 441.3 752.2 449.5 753.3 452.2 759.9 453.6 761.6 457.7 759.9 463.1 758.8 468.6 755.5 471.8 750.0 479.5 743.3 482.8 740.0 483.0 738.3 484.1 736.1 487.7 732.3 490.9 731.2 492.3 735.4 498.6 735.2 503.5 730.1 505.1 728.6 504.8 729.0 499.1 728.3 496.7 725.7 496.1 725.0 491.5 719.1 493.1 718.0 487.9 713.6 490.9 710.3 492.6 709.4 494.2 712.2 497.5 716.2 496.4 720.2 498.6 715.3 501.3 712.9 504.0 716.4 510.8 718.6 513.6 717.5 516.8 719.1 518.2 718.0 522.3 713.6 529.9 710.3 532.7 706.9 537.0 701.4 538.7 694.8 541.1 693.3 544.1 691.9 540.9 688.2 540.9 684.9 544.1 683.1 548.2 685.1 551.8 690.0 557.8 691.1 565.4 690.4 568.4 685.3 571.1 681.6 576.0 681.1 571.4 677.2 569.5 675.4 566.2 672.5 562.7 669.9 564.0 668.8 571.7 671.4 579.0 673.4 580.7 678.1 586.4 678.1 591.9 680.0 595.7 678.3 596.0 673.4 591.9 671.2 585.9 666.8 577.7 667.0 565.4 665.3 554.5 660.2 556.4 657.8 555.6 658.4 547.7 653.8 543.0 652.5 538.7 649.6 539.5 646.1 540.6 641.7 542.8 637.5 546.9 631.3 553.9 626.9 557.8 627.1 564.0 626.0 571.4 622.5 575.2 620.9 577.7 618.9 575.2 617.2 568.1 614.8 564.0 612.1 555.9 610.6 547.7 610.6 542.2 609.9 541.7 605.5 542.8 602.2 538.7 605.1 537.0 600.6 535.1 598.4 531.9 596.7 530.2 591.2 530.5 585.6 531.0 579.0 529.7 576.4 529.1 574.4 525.6 570.6 527.2 564.7 523.7 560.7 517.1 557.6 516.8 555.9 517.9 556.7 521.8 558.7 525.9 560.7 528.0 562.0 532.1 563.8 533.2 563.8 529.1 563.8 533.5 566.0 533.5 569.3 533.8 573.5 528.0 574.4 531.6 576.6 534.3 579.7 535.4 581.9 538.7 579.0 543.6 577.3 547.7 574.6 550.4 572.0 552.6 565.1 556.9 559.2 559.7 555.6 561.3 550.6 563.2 547.0 565.1 545.5 564.9 544.4 559.1 544.0 554.5 540.9 548.2 536.2 541.4 534.9 534.9 532.7 531.3 527.4 522.8 527.0 519.0 525.4 514.1ZM53.0 411.6 64.0 414.8 75.1 418.9 70.6 423.6 59.6 420.8 53.0 422.2ZM511.8 487.1 514.0 487.4 518.8 487.4 523.9 484.9 527.6 484.9 534.5 487.9 541.5 486.3 541.8 483.3 537.1 479.5 532.7 477.6 534.3 472.1 530.7 475.7 528.3 475.9 523.9 478.1 521.7 475.7 523.9 474.0 519.9 472.4 517.9 472.7 515.3 475.7 513.1 478.7 511.5 483.0 511.8 487.1ZM560.3 472.7 566.9 471.3 567.3 475.9 562.9 478.1 566.5 484.9 569.1 488.2 567.6 491.8 568.9 497.8 562.5 499.4 558.1 496.9 557.6 493.7 558.7 489.6 560.9 489.6 558.1 486.3 554.8 482.2 554.3 478.1 553.0 477.3 557.0 473.2 560.3 472.7ZM579.0 472.7 584.5 472.7 584.5 478.1 579.0 479.5 579.0 472.7ZM612.1 472.7 624.2 473.5 624.2 475.4 613.2 474.0 612.1 472.7ZM679.4 458.5 683.8 456.3 689.3 450.8 691.5 448.1 690.4 447.6 684.9 454.9 679.4 458.5ZM247.1 472.1 255.9 467.2 263.6 471.8 258.1 472.7 247.1 472.1ZM257.0 485.8 257.7 475.4 261.4 474.6 259.2 482.2 257.0 485.8ZM263.6 474.0 273.6 476.8 269.8 481.7 265.8 479.5 263.6 474.0ZM265.8 485.8 275.8 482.8 273.6 483.6 266.9 484.9 265.8 485.8ZM274.0 481.4 282.4 479.5 281.3 481.4 274.0 481.4ZM231.7 461.7 236.1 452.2 237.2 453.6 236.1 461.7 231.7 461.7ZM174.3 420.8 189.7 416.7 185.3 422.2 174.3 420.8ZM191.9 433.1 207.4 429.0 198.6 430.4 191.9 433.1ZM520.6 600.0 525.0 599.0 525.0 605.0 520.6 606.3 519.9 602.2 520.6 600.0ZM53.0 812.3 86.1 813.6 108.1 812.3 119.2 809.5 141.2 805.4 163.3 802.7 185.3 800.8 207.4 802.7 229.4 800.0 251.5 798.1 273.6 798.6 284.6 793.2 300.0 782.3 313.3 775.4 324.3 772.2 317.7 776.8 313.3 782.3 306.6 790.4 315.5 798.6 317.7 804.1 339.7 812.3 361.8 813.6 383.8 810.9 394.9 806.8 405.9 800.0 427.9 794.5 450.0 790.4 472.1 790.4 494.1 790.4 516.2 789.1 538.2 787.7 560.3 782.3 582.3 783.6 604.4 785.0 615.4 789.1 626.4 783.6 648.5 781.4 670.6 779.5 692.6 780.4 714.7 781.7 736.7 780.1 758.8 781.7 780.8 786.4 802.9 790.4 824.9 794.5 824.9 809.5 847.0 812.3M173.2 403.4 178.7 405.8 185.3 404.7 190.8 401.7 194.2 398.7 187.5 396.8 176.5 396.8 173.2 400.4 173.2 403.4ZM189.7 407.2 196.4 409.9 205.2 410.5 216.2 411.6 225.0 411.8 227.2 409.1 223.9 407.2 227.2 405.8 222.8 401.7 217.3 399.8 211.8 399.0 207.4 400.9 200.8 400.6 197.5 399.6 190.8 400.9 187.5 404.2 189.7 407.2ZM180.9 390.8 190.8 391.6 194.2 388.9 187.5 388.4 180.9 390.8ZM193.1 395.5 203.0 395.5 209.6 394.9 216.2 394.4 217.3 392.2 211.8 390.8 205.2 391.6 198.6 390.8 191.9 391.6 189.7 393.6 193.1 395.5ZM227.2 393.6 236.1 393.3 235.0 390.6 229.4 390.6 227.2 393.6ZM238.3 396.0 244.9 395.7 243.8 394.1 238.3 394.1 238.3 396.0ZM246.0 395.5 262.5 396.3 273.6 396.0 273.6 392.7 262.5 390.8 251.5 390.6 246.0 392.7 246.0 395.5ZM251.5 390.8 264.7 391.4 275.8 389.5 282.4 385.9 289.0 382.6 300.0 379.9 313.3 375.8 306.6 373.6 295.6 373.1 278.0 373.1 262.5 374.5 249.3 377.2 244.9 379.9 251.5 382.6 255.9 385.4 253.7 388.1 251.5 390.8ZM236.1 386.7 247.1 385.4 251.5 381.3 247.1 378.6 238.3 379.9 236.1 382.6 236.1 386.7ZM239.4 403.1 244.9 403.4 250.4 401.7 251.5 398.7 244.9 397.6 239.4 399.0 239.4 403.1ZM226.1 403.6 233.9 404.2 237.2 401.7 236.1 397.9 229.4 398.2 225.0 400.4 226.1 403.6ZM230.5 411.8 238.3 411.6 239.4 409.4 235.0 408.8 230.5 411.8ZM314.4 417.8 311.1 422.2 305.5 424.4 307.7 427.6 303.3 429.0 298.9 428.2 293.4 426.8 289.0 424.4 284.6 423.8 278.0 423.6 279.1 421.1 286.8 420.6 287.9 417.6 290.1 415.4 285.7 413.5 281.3 411.8 276.9 408.6 271.4 408.0 262.5 408.0 255.9 406.6 252.6 404.5 259.2 402.6 262.5 399.8 271.4 398.5 280.2 400.9 284.6 402.3 291.2 404.5 294.5 406.9 300.0 408.3 302.2 411.0 304.4 414.0 309.9 415.9 314.4 417.8ZM259.2 425.7 263.6 427.1 271.4 425.5 271.4 423.6 266.9 421.6 261.4 419.5 258.1 421.4 259.2 425.7ZM266.9 429.8 270.2 429.0 268.0 427.6 266.9 429.8ZM273.6 429.8 275.8 429.3 274.7 431.5 273.6 429.8ZM206.3 438.0 216.2 437.7 216.2 439.7 207.4 439.1 206.3 438.0ZM223.9 443.2 225.0 440.5 226.1 443.5 223.9 443.2ZM229.4 456.3 230.5 453.6 229.0 457.7 229.4 456.3ZM232.3 462.3 233.9 459.6 233.2 462.6 232.3 462.3ZM254.1 464.2 255.5 462.6 254.8 464.7 254.1 464.2ZM286.8 460.4 289.0 458.7 288.1 460.9 286.8 460.4ZM293.4 418.1 297.8 417.3 294.5 419.7 293.4 418.1ZM226.1 427.6 228.3 426.0 227.7 428.2 226.1 427.6ZM175.4 419.5 183.1 416.7 189.7 418.1 185.3 421.4 178.7 422.2 175.4 419.5ZM191.9 433.1 198.6 431.5 206.3 428.7 205.2 430.4 198.6 432.8 191.9 433.1ZM282.4 445.4 285.7 448.1 291.2 450.6 287.9 446.7 282.4 445.4ZM303.3 453.6 307.7 452.2 306.6 456.0 303.3 453.6ZM298.9 457.7 300.9 456.6 300.0 459.0 298.9 457.7ZM97.1 439.1 112.5 437.2 114.8 442.4 109.2 444.3 105.9 441.3 97.1 439.1ZM110.3 441.8 114.1 441.3 114.1 443.2 110.3 443.5 110.3 441.8ZM150.0 442.7 153.4 440.7 154.5 445.4 151.1 446.7 150.0 442.7ZM154.9 447.3 158.9 445.4 160.0 448.9 156.7 450.0 154.9 447.3ZM157.1 452.2 159.7 453.0 159.3 455.7 157.1 452.2ZM75.1 425.5 78.1 426.8 71.7 427.1 75.1 425.5ZM83.9 435.0 86.1 434.2 82.1 436.1 83.9 435.0ZM59.6 457.7 66.2 457.1 75.1 456.0 86.1 452.2 88.3 450.6 79.5 453.8 70.6 456.8 59.6 457.7ZM53.0 458.7 57.4 458.2 61.8 457.9 55.2 459.3 53.0 458.7ZM829.4 455.2 836.0 456.6 842.6 458.5 847.0 459.0 838.2 457.7 829.4 455.2ZM350.8 408.6 357.4 403.1 361.8 408.6 366.2 401.7 353.0 397.6 350.8 408.6ZM494.1 411.8 502.9 408.8 489.7 409.9 494.1 411.8ZM505.1 430.4 511.8 431.7 514.0 429.0 509.5 427.6 505.1 430.4ZM511.8 433.1 516.2 431.7 514.0 434.2 511.8 433.1ZM502.9 431.7 507.3 432.3 506.2 429.6 502.9 431.7ZM518.4 433.1 522.8 430.9 527.2 428.5 528.3 431.7 522.8 433.9 518.4 433.1ZM526.1 430.4 529.4 429.6 528.3 433.1 526.1 430.4ZM478.7 438.6 483.1 438.0 480.9 439.9 478.7 438.6ZM480.9 441.3 483.1 439.9 482.0 441.8 480.9 441.3ZM580.1 408.6 582.3 407.2 579.0 406.4 580.1 408.6ZM615.4 399.8 626.4 399.0 622.0 401.7 615.4 399.8ZM754.4 392.2 763.2 393.6 758.8 396.3 754.4 392.2ZM780.8 394.4 785.2 393.6 780.8 395.5 780.8 394.4ZM758.8 397.6 765.4 399.0 761.0 400.4 758.8 397.6ZM794.1 461.7 796.3 460.4 793.0 463.1 794.1 461.7ZM780.8 474.0 785.2 471.3 789.7 467.2 791.9 465.0 787.5 468.6 783.0 472.7 780.8 474.0ZM769.8 479.5 774.2 476.8 778.6 474.8 775.3 478.1 769.8 479.5ZM293.4 745.4 295.6 747.3 291.2 748.2 287.9 744.6 293.4 745.4ZM286.8 733.2 284.6 737.3 286.1 740.0 283.5 738.6 284.6 733.2 286.8 733.2ZM286.8 725.0 284.6 729.1 286.8 730.4 283.5 731.8 285.7 722.2 286.8 725.0ZM287.9 714.1 286.3 718.2 287.9 717.9 289.0 714.9 287.9 714.1ZM317.7 768.6 326.5 765.9 330.9 768.6 322.1 771.3 317.7 768.6ZM350.8 764.5 353.0 765.3 348.5 765.6 350.8 764.5ZM366.2 746.8 370.6 747.3 368.4 749.0 366.2 746.8ZM300.0 790.4 295.6 795.9 289.0 793.2 295.6 787.7 300.0 790.4ZM284.6 798.6 273.6 800.0 251.5 798.6 229.4 797.3 240.5 795.9 273.6 798.1 284.6 798.6ZM328.7 809.5 350.8 811.7 372.8 809.5 350.8 808.2 328.7 809.5ZM284.6 812.3 306.6 813.6 317.7 815.0 295.6 816.4 273.6 815.0 284.6 812.3ZM813.9 810.9 824.9 809.5 836.0 813.6 820.5 813.6 813.9 810.9ZM86.1 815.0 108.1 816.4 119.2 813.6 97.1 813.1 86.1 815.0ZM608.8 790.4 615.4 793.2 604.4 795.9 600.0 793.2 608.8 790.4ZM709.2 622.7 712.5 623.5 710.3 624.3 709.2 622.7ZM713.6 626.2 716.4 626.8 713.6 625.4 713.6 626.2ZM723.5 624.9 730.1 622.4 725.7 626.8 723.5 624.9ZM727.9 608.2 730.1 609.0 727.9 609.9 727.9 608.2ZM732.3 608.2 737.8 607.7 734.5 609.0 732.3 608.2ZM746.6 614.5 747.8 618.0 745.5 617.2 746.6 614.5ZM737.8 601.7 739.6 602.5 737.4 603.0 737.8 601.7ZM716.9 618.0 719.1 619.1 718.0 617.2 716.9 618.0ZM719.1 572.2 721.3 570.9 721.9 574.4 719.1 572.2ZM710.3 575.0 713.6 570.9 714.7 572.2 711.4 576.3 710.3 575.0ZM725.7 568.1 727.2 565.7 726.8 571.4 725.7 568.1ZM716.9 565.4 718.0 562.7 717.3 566.2 716.9 565.4ZM791.9 615.9 793.6 618.0 792.5 618.3 791.9 615.9ZM800.7 621.3 805.1 624.6 804.0 625.7 800.7 621.3ZM813.9 656.8 818.3 660.3 817.2 660.9 812.2 654.9 813.9 656.8ZM818.3 640.4 819.4 644.5 820.5 641.8 818.3 640.4ZM841.5 647.2 843.7 646.7 842.6 649.1 841.5 647.2ZM502.9 498.6 505.1 497.2 507.3 503.5 502.9 503.2 502.9 498.6ZM501.8 503.2 508.0 503.8 504.0 504.3 501.8 503.2ZM521.2 504.0 525.0 502.7 523.9 505.1 521.2 504.0ZM468.7 487.7 471.4 487.1 471.0 493.1 468.5 493.1 468.7 487.7ZM469.0 483.6 471.0 482.2 470.7 486.6 469.0 483.6ZM477.3 495.8 484.4 495.3 483.1 499.4 477.3 495.8ZM455.3 491.5 457.5 490.9 457.1 492.3 455.3 491.5ZM473.6 447.8 477.6 446.7 476.9 449.5 473.6 447.8ZM489.7 444.0 491.9 441.6 491.2 444.3 489.7 444.0ZM498.5 440.5 500.7 439.7 499.6 441.3 498.5 440.5ZM761.0 475.7 761.6 478.1 760.5 476.8 761.0 475.7ZM727.9 508.1 729.9 508.1 729.0 508.9 727.9 508.1ZM307.7 463.1 314.4 463.7 312.2 465.6 307.7 463.1ZM309.9 472.7 313.3 472.9 309.7 473.5 309.9 472.7ZM314.4 471.3 317.7 471.3 317.7 475.1 314.6 475.1 314.4 471.3ZM279.1 532.7 278.4 530.8 279.5 531.3 279.1 532.7ZM276.9 526.7 278.4 526.9 276.4 527.2 276.9 526.7ZM314.8 570.0 313.5 570.9 315.5 571.9 314.8 570.0ZM243.2 395.6 240.1 394.5 235.9 393.9 231.6 394.9 231.2 396.7 236.2 397.1 240.4 396.9 243.2 395.6ZM191.9 383.5 189.2 384.6 185.5 387.4 183.8 389.6 184.4 390.0 186.4 389.1 189.1 386.5 191.9 383.5ZM203.2 406.3 202.2 404.8 200.3 404.2 198.9 405.1 198.6 406.8 200.2 407.8 201.8 407.4 203.2 406.3ZM317.4 382.7 316.1 380.7 312.3 379.5 307.7 378.8 308.3 381.1 311.1 383.6 315.7 383.9 317.4 382.7ZM309.2 385.1 308.3 384.2 306.6 385.4 306.0 386.7 306.0 387.9 307.5 387.9 308.7 386.4 309.2 385.1ZM191.0 405.9 189.5 403.4 186.1 401.0 181.3 398.7 182.2 401.5 184.4 404.5 189.0 406.7 191.0 405.9ZM203.0 391.4 202.5 389.5 201.0 388.1 198.7 387.5 198.0 389.6 199.7 391.4 201.8 392.9 203.0 391.4ZM209.7 405.0 206.7 401.5 203.3 398.9 199.0 397.0 199.3 399.3 201.9 402.1 205.4 403.8 209.7 405.0ZM189.7 395.5 189.4 393.4 186.4 392.8 184.2 393.5 183.5 395.4 186.1 396.5 188.2 396.5 189.7 395.5ZM304.1 385.9 301.9 385.9 299.4 386.0 297.2 387.7 297.9 388.8 300.2 388.6 302.1 387.5 304.1 385.9ZM183.0 383.7 182.0 381.4 179.6 380.4 177.7 380.9 176.6 382.5 178.8 383.9 180.9 384.5 183.0 383.7ZM255.3 383.9 253.5 384.1 250.8 385.5 248.3 387.9 249.5 388.4 251.8 387.6 254.7 385.5 255.3 383.9ZM257.0 407.2 254.8 406.2 252.0 408.0 251.3 410.6 252.2 412.0 254.2 411.7 257.1 410.0 257.0 407.2ZM274.1 382.6 272.9 381.0 271.2 379.9 270.3 381.7 269.8 383.4 271.1 384.8 273.3 384.5 274.1 382.6ZM282.3 392.2 280.9 389.4 275.8 387.6 272.5 388.9 271.2 391.1 274.9 393.7 279.7 393.8 282.3 392.2ZM265.2 404.3 264.9 401.8 261.1 398.7 257.7 398.0 257.6 400.0 259.3 402.8 263.0 404.7 265.2 404.3ZM237.6 388.2 237.5 386.0 236.0 384.6 234.0 384.1 233.3 386.0 234.0 388.2 236.1 389.6 237.6 388.2ZM212.3 414.8 212.7 412.7 209.8 411.1 207.5 411.6 206.2 413.2 208.7 415.2 211.4 416.3 212.3 414.8ZM206.3 397.2 204.2 396.1 200.1 398.4 198.1 401.2 198.1 403.5 201.7 403.4 206.2 400.0 206.3 397.2ZM275.9 383.1 274.8 382.2 272.5 381.7 270.2 382.1 270.3 383.2 272.4 384.0 275.4 384.2 275.9 383.1ZM312.3 398.3 311.9 397.6 309.9 398.6 308.9 399.9 308.8 400.9 310.7 400.1 312.0 399.1 312.3 398.3ZM241.2 415.3 241.1 414.0 236.9 411.4 233.0 410.0 232.6 411.1 235.7 413.9 240.8 416.6 241.2 415.3ZM272.6 410.1 272.2 408.4 269.3 406.1 267.0 405.0 266.5 405.7 268.0 408.0 271.0 410.0 272.6 410.1ZM262.2 387.6 261.2 385.6 257.9 387.5 257.1 390.0 257.3 392.0 259.9 392.0 263.0 389.7 262.2 387.6ZM231.3 392.0 229.0 391.3 224.9 394.3 221.4 397.9 222.1 400.1 226.6 398.4 230.8 394.8 231.3 392.0ZM210.8 384.2 207.2 382.4 202.2 381.4 197.5 383.5 199.0 385.9 203.0 386.7 207.6 386.4 210.8 384.2ZM253.6 387.5 253.2 386.7 249.9 388.5 247.6 390.0 247.1 391.2 250.3 389.9 252.8 388.5 253.6 387.5ZM250.7 386.9 248.8 385.9 244.6 389.5 242.2 392.2 242.2 394.3 246.0 392.7 250.1 389.6 250.7 386.9ZM268.0 398.3 267.3 396.2 262.1 394.2 259.2 395.0 257.3 396.3 261.2 398.8 266.1 399.4 268.0 398.3ZM257.0 406.9 257.0 405.1 252.8 405.8 250.3 407.2 249.7 409.0 253.2 409.5 256.6 408.5 257.0 406.9ZM274.7 408.6 271.8 409.4 268.8 411.0 267.5 413.3 267.5 414.8 270.2 414.2 273.7 411.2 274.7 408.6ZM242.5 402.3 241.5 400.8 239.5 402.6 238.4 404.2 239.0 405.6 240.8 406.0 242.5 404.0 242.5 402.3ZM225.9 395.0 225.4 393.0 223.9 391.8 222.0 391.6 221.4 393.4 222.5 395.3 224.4 396.0 225.9 395.0ZM250.7 408.2 249.7 406.4 246.9 406.8 244.7 408.3 245.8 410.0 247.5 411.2 250.1 410.3 250.7 408.2ZM303.6 405.4 302.7 402.3 299.7 401.5 297.6 401.7 296.3 403.5 298.5 405.5 300.8 405.9 303.6 405.4ZM295.6 401.0 292.4 399.9 289.1 399.1 284.9 398.9 284.2 400.0 288.4 401.4 292.4 401.3 295.6 401.0ZM247.5 390.6 246.8 388.8 244.4 387.4 241.4 386.6 240.9 388.4 243.0 390.9 246.1 391.4 247.5 390.6ZM203.6 404.8 201.5 404.3 197.3 405.3 195.3 409.2 195.7 411.9 200.0 410.1 203.7 407.2 203.6 404.8ZM256.9 443.3 254.9 443.5 252.8 443.9 250.6 444.9 251.1 445.3 253.1 445.0 255.1 444.3 256.9 443.3ZM257.5 461.1 255.3 460.4 252.1 461.2 249.6 462.8 250.0 464.1 252.5 464.7 256.1 463.1 257.5 461.1ZM222.5 421.9 221.4 420.8 218.1 422.0 216.2 424.1 216.6 425.6 219.3 425.4 221.7 423.5 222.5 421.9ZM282.7 461.5 282.7 460.2 281.1 458.6 279.7 458.5 278.6 458.8 279.9 460.7 281.6 461.6 282.7 461.5ZM275.1 436.2 273.8 436.1 271.5 437.7 269.8 439.9 271.3 439.9 272.6 439.7 274.7 437.7 275.1 436.2ZM220.4 445.8 220.2 445.2 219.0 444.5 218.0 445.0 217.9 445.7 218.8 446.5 220.2 446.5 220.4 445.8ZM321.0 434.7 318.6 434.6 316.0 434.6 314.4 435.4 314.0 436.0 316.4 435.9 319.2 435.5 321.0 434.7ZM270.3 460.4 268.4 459.6 265.4 459.6 262.4 460.2 262.6 461.2 265.5 461.6 268.9 461.4 270.3 460.4ZM226.6 463.6 225.7 462.6 224.3 461.5 222.8 461.2 223.2 462.0 223.7 463.0 225.7 463.9 226.6 463.6ZM196.9 422.2 196.0 421.7 193.9 422.8 192.7 424.8 193.4 425.5 195.1 425.3 197.1 423.3 196.9 422.2ZM267.4 459.1 267.3 458.0 265.0 457.0 262.9 456.5 262.3 457.3 264.3 458.9 266.5 459.6 267.4 459.1ZM265.9 441.8 263.9 442.2 261.3 444.4 260.1 446.1 259.6 447.9 262.3 446.6 264.8 444.1 265.9 441.8ZM236.2 450.8 235.0 449.8 232.2 450.3 230.4 451.1 229.4 452.5 232.1 452.9 235.3 452.2 236.2 450.8ZM192.2 460.2 191.8 459.3 190.1 459.7 189.1 460.3 188.6 461.4 190.2 461.7 192.0 461.2 192.2 460.2ZM236.9 441.4 235.5 441.3 234.2 441.6 232.7 442.4 233.1 443.3 234.5 443.5 235.8 442.5 236.9 441.4ZM245.8 450.8 243.3 450.6 240.5 451.0 237.9 452.1 237.8 453.3 240.9 453.0 243.6 452.2 245.8 450.8ZM199.7 424.8 199.2 424.2 197.8 424.3 196.6 424.7 197.1 425.3 197.9 425.5 199.3 425.4 199.7 424.8ZM198.7 450.7 198.2 449.4 195.7 448.0 193.6 448.4 193.8 449.6 195.0 451.1 197.9 451.7 198.7 450.7ZM310.1 420.6 308.6 420.4 305.8 421.4 302.8 423.4 303.2 424.5 306.5 423.3 309.2 421.9 310.1 420.6ZM236.0 448.4 235.6 447.1 233.5 446.0 231.5 445.6 231.5 446.7 233.0 447.9 235.0 448.9 236.0 448.4ZM303.4 450.7 302.9 449.5 301.5 449.5 300.4 450.3 301.0 451.3 301.6 452.1 303.0 451.9 303.4 450.7ZM199.6 461.6 198.4 459.6 196.5 457.4 193.9 456.9 193.9 458.6 195.3 460.4 197.9 462.3 199.6 461.6ZM256.6 428.0 255.3 428.1 253.4 429.2 252.1 430.9 252.5 431.7 254.3 431.2 255.9 429.5 256.6 428.0ZM298.7 431.9 296.8 431.2 293.3 432.9 291.4 435.0 291.6 436.5 294.4 436.2 297.1 434.1 298.7 431.9ZM243.7 457.2 242.9 455.8 240.5 454.9 238.4 455.5 237.2 457.0 240.2 458.0 242.7 458.4 243.7 457.2ZM203.4 436.9 202.7 435.6 200.1 433.4 198.6 433.1 198.3 433.6 199.7 435.0 201.9 436.4 203.4 436.9ZM218.9 433.0 218.1 432.0 216.1 430.5 214.4 430.4 213.8 430.9 215.5 432.4 218.0 433.3 218.9 433.0ZM224.5 424.0 222.1 423.4 219.0 423.6 217.2 424.2 215.6 425.2 218.9 425.6 222.1 425.0 224.5 424.0ZM256.9 440.2 255.9 439.3 254.4 439.0 253.3 440.3 253.2 442.0 255.0 442.7 256.7 441.8 256.9 440.2ZM208.2 455.1 207.2 454.8 205.2 455.5 204.4 456.9 204.5 457.7 206.0 457.2 207.9 456.2 208.2 455.1ZM188.3 429.1 188.3 427.5 185.4 425.8 183.0 424.7 182.4 426.0 183.9 428.4 187.1 429.8 188.3 429.1ZM301.2 448.3 300.6 447.4 297.9 449.4 295.8 451.3 296.2 452.2 298.6 451.0 301.4 449.3 301.2 448.3ZM228.3 449.6 227.5 448.9 226.2 448.5 225.5 449.2 225.2 449.9 226.2 450.5 227.7 450.6 228.3 449.6ZM296.3 434.2 295.8 433.4 294.6 433.7 294.2 434.5 293.7 435.6 295.0 435.9 296.0 435.0 296.3 434.2ZM268.9 451.1 268.4 449.9 266.6 448.9 265.2 449.4 265.0 450.4 266.0 451.6 268.0 451.7 268.9 451.1ZM312.8 437.3 311.7 437.2 309.6 438.1 307.3 439.6 307.5 440.6 310.1 439.6 312.4 438.3 312.8 437.3ZM297.2 437.9 297.2 437.1 296.1 436.5 294.6 435.9 294.7 436.9 295.5 437.9 296.8 438.5 297.2 437.9ZM288.6 427.5 288.3 426.7 286.3 426.1 284.2 426.4 284.3 427.5 286.2 428.3 288.3 428.3 288.6 427.5ZM189.7 449.9 189.5 448.5 187.9 446.9 185.9 446.7 185.6 448.0 187.0 449.5 188.7 450.7 189.7 449.9ZM307.1 440.5 306.9 439.0 304.8 437.8 302.9 437.5 302.4 438.5 304.1 439.9 306.0 441.2 307.1 440.5ZM270.0 454.3 269.2 453.7 267.8 453.4 267.0 454.3 267.0 455.0 268.1 455.2 269.6 455.2 270.0 454.3ZM205.7 423.4 205.3 422.2 202.4 422.1 200.3 423.3 200.7 424.5 202.8 424.7 205.4 424.7 205.7 423.4ZM225.1 423.2 224.4 422.4 222.9 423.2 222.1 424.2 222.3 425.1 223.5 425.7 225.3 424.4 225.1 423.2ZM275.7 450.3 274.9 448.7 272.1 448.5 270.2 448.7 269.6 449.8 271.8 450.8 274.2 451.1 275.7 450.3ZM263.2 455.3 262.5 454.6 260.2 454.9 258.0 455.4 258.7 456.1 260.0 456.8 262.5 456.1 263.2 455.3ZM250.8 443.9 249.0 443.4 246.3 443.7 244.3 445.6 244.6 447.1 247.2 446.7 249.5 445.5 250.8 443.9ZM263.6 423.9 261.8 422.9 259.8 422.6 257.5 422.7 257.2 424.0 259.5 424.9 262.0 424.8 263.6 423.9ZM287.4 451.3 286.7 450.3 284.5 448.9 283.1 448.5 282.1 448.5 284.0 450.1 286.1 451.1 287.4 451.3ZM228.0 444.4 226.8 444.5 225.1 445.4 224.3 446.6 224.2 447.4 225.8 446.6 227.3 445.6 228.0 444.4ZM261.8 424.6 262.0 423.0 260.5 422.5 259.4 422.5 259.0 423.5 259.5 424.8 260.7 425.0 261.8 424.6ZM521.7 414.9 521.1 414.5 519.7 414.2 518.7 415.0 518.6 415.7 519.8 416.2 521.8 415.7 521.7 414.9ZM493.6 435.9 492.9 434.8 491.5 435.7 490.7 437.0 491.4 437.9 492.5 438.5 494.0 437.2 493.6 435.9ZM475.4 422.3 475.8 421.2 474.7 420.3 473.3 419.9 472.7 421.2 473.4 422.7 474.6 422.8 475.4 422.3ZM508.8 411.5 508.5 410.9 506.8 410.2 505.7 410.0 505.5 410.3 506.5 411.1 508.3 411.8 508.8 411.5ZM488.3 421.6 488.2 420.5 485.3 419.1 483.5 419.2 482.7 419.9 484.9 421.1 487.7 422.5 488.3 421.6ZM492.1 425.0 491.3 424.8 489.5 424.8 488.6 425.3 488.4 425.7 489.7 425.9 491.4 425.4 492.1 425.0ZM480.4 423.8 479.7 423.1 478.5 423.5 478.2 424.9 478.5 426.3 479.9 426.0 480.5 424.9 480.4 423.8ZM499.6 420.4 498.7 419.8 497.0 420.1 495.9 421.4 496.4 422.3 497.7 422.7 498.9 421.5 499.6 420.4ZM515.4 438.4 514.4 437.7 512.0 437.3 510.7 437.7 510.4 438.3 512.1 438.7 514.2 438.9 515.4 438.4ZM496.9 442.5 495.2 441.8 493.5 441.8 492.4 442.5 491.9 443.5 493.6 444.0 495.6 443.5 496.9 442.5ZM479.6 415.6 479.2 414.3 478.1 414.5 477.5 415.3 477.5 416.4 478.3 416.8 479.2 416.7 479.6 415.6ZM503.8 426.5 503.1 425.2 502.2 424.4 501.2 424.3 500.5 424.9 501.3 426.3 502.8 426.9 503.8 426.5ZM466.3 428.5 465.8 428.2 464.3 429.1 463.1 430.5 464.0 430.6 465.0 430.3 466.4 429.1 466.3 428.5ZM466.4 435.9 465.5 435.3 463.1 434.9 461.6 434.9 460.1 435.3 462.8 436.0 465.7 436.4 466.4 435.9ZM479.1 435.2 477.6 434.6 475.8 434.4 473.7 434.5 474.0 435.2 475.8 435.6 477.6 435.7 479.1 435.2ZM505.7 440.9 504.9 440.2 503.3 441.1 502.5 442.3 502.5 443.5 504.1 443.2 505.6 442.3 505.7 440.9ZM476.4 432.3 476.2 431.4 475.3 430.6 474.3 430.8 474.0 431.5 474.5 432.7 475.9 433.0 476.4 432.3ZM519.8 436.3 519.1 436.1 517.7 436.5 516.7 437.0 516.7 437.4 517.8 437.4 519.6 436.9 519.8 436.3ZM509.8 433.4 509.3 433.2 507.7 434.2 506.5 435.5 507.4 435.4 508.3 435.2 509.5 434.2 509.8 433.4ZM467.9 412.7 467.6 411.7 466.2 411.6 465.3 412.3 465.2 413.2 466.1 414.1 467.4 413.5 467.9 412.7ZM483.6 428.4 483.1 428.0 481.0 428.5 480.0 429.3 480.1 429.7 481.4 429.6 483.3 429.0 483.6 428.4ZM490.5 431.2 489.5 430.3 487.5 429.6 485.9 429.5 484.9 429.7 487.0 430.8 489.9 431.6 490.5 431.2ZM528.3 434.6 527.6 433.0 525.4 431.5 523.2 431.6 523.5 433.1 524.6 434.6 526.5 434.8 528.3 434.6ZM490.4 430.4 490.0 429.7 489.2 429.4 488.4 429.5 488.3 430.2 489.0 430.7 490.0 431.0 490.4 430.4ZM478.6 441.7 478.3 440.6 476.8 439.7 475.4 439.4 475.7 440.4 476.3 441.3 477.6 441.9 478.6 441.7ZM466.3 429.5 465.8 428.9 464.9 428.9 464.4 429.4 464.3 430.2 465.0 430.9 466.0 430.4 466.3 429.5ZM480.1 420.0 479.1 419.5 477.9 419.4 476.7 420.1 476.9 421.1 478.1 421.4 479.4 421.0 480.1 420.0ZM489.6 428.4 488.9 427.4 487.6 428.5 487.0 429.5 487.1 430.6 488.3 430.5 489.4 429.7 489.6 428.4ZM526.9 438.4 526.3 438.1 525.2 438.1 524.4 438.7 524.6 439.3 525.5 439.5 526.7 439.0 526.9 438.4ZM499.1 420.5 498.0 420.2 496.1 420.9 495.5 422.7 495.6 424.0 497.4 423.5 499.1 421.8 499.1 420.5ZM526.2 414.8 525.6 414.0 524.5 413.8 523.4 414.2 523.5 415.3 524.5 415.7 525.5 415.6 526.2 414.8ZM484.0 438.8 483.6 438.1 482.3 436.8 481.2 436.5 480.7 436.7 481.8 437.9 483.5 439.0 484.0 438.8ZM474.7 414.4 474.0 413.6 471.3 412.6 468.9 412.0 469.5 412.6 470.9 413.6 473.3 414.3 474.7 414.4ZM486.0 416.8 485.1 415.7 482.3 415.7 479.9 416.7 480.1 418.1 482.7 418.2 484.9 417.9 486.0 416.8ZM507.1 435.6 506.4 435.2 505.0 435.5 503.9 435.8 504.1 436.2 505.0 436.4 506.2 436.1 507.1 435.6ZM152.7 433.8 152.8 432.9 152.2 431.9 151.1 432.0 151.1 433.3 151.4 434.2 152.2 434.3 152.7 433.8ZM126.5 442.0 125.2 442.0 123.8 442.5 122.6 443.4 122.7 444.2 124.2 444.1 125.6 443.0 126.5 442.0ZM137.2 442.9 137.3 442.3 134.7 441.0 132.8 440.3 133.1 441.0 134.4 442.0 136.2 442.7 137.2 442.9ZM128.3 450.4 127.5 449.5 125.7 448.6 124.5 448.5 124.3 449.0 125.2 450.0 127.2 450.5 128.3 450.4ZM94.0 449.8 93.2 448.2 91.6 447.2 89.7 447.0 89.7 448.5 90.9 449.6 92.5 450.5 94.0 449.8ZM134.3 439.2 133.0 438.8 131.5 439.0 130.7 440.5 131.5 441.4 132.6 441.4 133.5 440.7 134.3 439.2ZM96.3 451.3 95.4 450.3 94.3 449.6 92.6 449.5 93.2 450.8 93.8 451.9 95.6 452.3 96.3 451.3ZM144.0 437.1 143.0 436.2 141.4 437.4 139.8 438.5 140.6 439.5 142.0 439.7 143.3 438.5 144.0 437.1ZM152.5 452.1 151.9 451.4 149.8 450.8 148.4 451.1 148.0 451.7 149.7 452.3 151.5 452.5 152.5 452.1ZM151.0 445.7 150.6 445.1 149.5 445.4 148.7 446.1 149.2 446.7 149.9 446.8 150.7 446.3 151.0 445.7ZM111.7 444.1 111.5 443.3 110.6 442.7 110.1 443.5 109.7 444.3 110.5 444.8 111.4 445.0 111.7 444.1ZM95.5 434.1 95.4 432.7 93.7 432.0 92.4 432.1 91.7 433.2 92.7 434.8 94.5 434.8 95.5 434.1ZM102.1 444.8 101.2 444.4 98.3 445.0 95.9 445.7 95.5 446.4 98.3 446.3 101.3 445.5 102.1 444.8ZM122.9 441.0 122.3 440.0 121.2 440.2 120.6 441.1 120.8 442.1 121.7 442.8 122.7 442.2 122.9 441.0ZM722.6 407.3 721.4 406.0 717.9 406.8 715.3 407.7 714.5 409.2 717.9 409.6 720.9 408.6 722.6 407.3ZM780.8 389.0 779.6 386.5 777.4 385.0 774.8 384.3 774.3 386.3 775.7 388.8 778.6 389.9 780.8 389.0ZM798.5 394.4 795.7 395.4 791.9 397.2 789.3 399.4 789.4 400.2 792.6 399.0 796.0 396.5 798.5 394.4ZM658.1 393.7 657.0 393.0 655.4 393.0 654.2 394.6 654.7 396.1 656.4 396.2 658.1 395.4 658.1 393.7ZM795.5 407.0 795.4 405.9 793.0 403.8 791.6 403.6 791.2 404.1 792.3 405.6 794.7 407.4 795.5 407.0ZM747.6 389.7 747.6 387.5 745.9 386.3 744.5 387.5 743.6 389.1 744.7 390.7 746.1 390.5 747.6 389.7ZM676.4 401.0 674.1 400.6 671.4 400.8 668.4 401.7 668.9 402.7 671.6 402.7 674.2 402.1 676.4 401.0ZM834.0 393.1 832.6 393.1 830.5 394.8 829.3 396.5 829.6 397.3 831.3 396.3 833.4 394.7 834.0 393.1ZM698.5 390.6 696.5 389.6 694.0 389.1 692.4 390.1 691.9 391.4 694.1 391.9 697.0 392.0 698.5 390.6ZM661.4 387.6 660.0 387.1 656.7 389.2 654.9 391.5 656.0 392.0 658.0 391.6 660.5 389.5 661.4 387.6ZM701.3 387.1 700.3 386.0 698.3 386.4 696.0 387.5 697.1 388.9 698.8 389.6 700.7 388.6 701.3 387.1ZM803.4 392.5 801.5 390.1 799.4 388.3 797.0 387.7 795.9 388.6 798.1 391.0 800.9 392.2 803.4 392.5ZM821.6 387.9 821.1 386.5 819.7 386.3 818.3 386.9 818.3 388.6 819.4 390.0 821.3 389.6 821.6 387.9ZM850.5 398.3 846.9 398.3 843.8 398.6 841.2 400.3 841.0 402.0 844.5 401.6 848.8 400.6 850.5 398.3ZM639.4 399.9 638.6 399.2 636.9 399.3 635.6 400.6 635.8 401.9 637.6 401.8 639.6 401.1 639.4 399.9ZM777.8 393.3 777.8 391.5 776.1 389.8 774.8 390.3 774.1 391.0 774.7 392.6 776.3 393.5 777.8 393.3ZM614.3 392.8 613.3 391.2 611.8 390.0 609.8 389.4 609.6 390.7 610.5 392.5 612.7 393.1 614.3 392.8ZM694.2 407.2 693.6 405.9 691.4 406.3 689.3 406.8 690.1 408.0 691.3 409.2 693.5 408.4 694.2 407.2ZM693.3 395.6 692.3 394.0 688.9 392.5 685.4 393.5 685.3 395.7 688.9 396.9 692.6 397.4 693.3 395.6ZM593.0 405.5 591.0 404.5 589.0 404.2 587.9 405.8 587.9 407.4 589.7 408.0 592.2 407.9 593.0 405.5ZM672.8 395.4 670.7 394.9 667.4 396.4 666.2 399.2 667.0 400.6 669.5 400.5 671.8 397.8 672.8 395.4ZM682.9 399.5 681.3 398.6 678.9 397.6 677.5 398.5 676.7 399.5 678.9 400.4 681.6 400.4 682.9 399.5ZM643.8 406.5 643.3 405.3 640.6 405.1 639.3 405.9 638.8 406.9 640.4 407.9 642.6 407.2 643.8 406.5ZM741.9 388.1 741.4 386.6 738.9 385.7 737.1 386.5 736.7 387.8 738.5 389.1 741.2 389.5 741.9 388.1ZM598.6 405.5 597.8 404.7 595.6 405.7 594.4 407.0 594.2 408.1 596.2 407.6 598.6 406.8 598.6 405.5ZM744.0 599.0 742.7 598.6 741.1 598.4 740.6 600.0 740.5 601.4 742.1 601.6 743.9 600.7 744.0 599.0ZM725.7 624.6 725.5 623.3 722.0 623.6 719.1 624.7 718.7 626.3 722.0 626.9 724.8 625.6 725.7 624.6ZM740.2 591.0 738.7 590.2 736.5 589.8 733.8 590.0 734.8 590.9 736.5 591.5 739.4 591.8 740.2 591.0ZM727.3 582.4 726.6 581.7 725.4 581.1 724.7 581.4 724.5 581.9 725.2 582.4 726.5 582.8 727.3 582.4ZM674.0 555.5 673.4 555.0 671.2 554.6 669.6 554.8 669.4 555.3 671.2 555.7 673.5 555.9 674.0 555.5ZM671.3 566.6 670.9 565.6 670.0 564.8 668.8 564.9 668.5 566.0 669.3 567.0 670.6 567.4 671.3 566.6ZM745.2 595.8 744.3 595.4 742.3 597.0 741.1 598.6 741.0 599.8 743.1 598.9 744.7 597.1 745.2 595.8ZM668.2 559.5 667.3 558.2 665.4 557.4 663.6 558.3 664.0 559.7 665.3 560.6 667.0 560.4 668.2 559.5ZM736.1 619.8 735.9 618.1 734.6 616.7 733.2 616.8 732.8 618.0 733.0 619.7 734.8 620.6 736.1 619.8ZM742.7 620.3 741.8 619.2 739.1 618.0 736.4 616.9 736.4 617.7 738.4 619.2 741.7 620.6 742.7 620.3ZM732.4 598.4 730.8 596.6 727.5 595.5 725.1 595.5 725.3 596.6 726.8 598.1 729.8 598.6 732.4 598.4ZM689.8 606.5 689.5 605.6 688.6 604.9 687.3 605.0 687.5 606.1 688.0 607.2 689.4 607.5 689.8 606.5ZM723.9 581.4 722.1 580.7 719.2 581.4 717.8 582.4 716.6 583.8 719.5 583.5 722.4 582.8 723.9 581.4ZM684.5 588.4 683.4 587.8 681.8 588.8 681.1 590.3 681.0 591.9 682.8 590.9 684.7 589.9 684.5 588.4ZM727.7 620.6 727.6 620.0 724.0 620.4 720.7 621.0 722.2 621.4 723.9 621.6 726.6 621.1 727.7 620.6ZM666.6 577.7 664.4 577.8 661.5 579.4 659.0 581.3 659.9 582.1 662.1 581.8 664.9 579.8 666.6 577.7ZM711.5 610.7 711.0 609.8 708.3 609.5 705.5 610.0 706.1 611.0 708.5 611.4 710.8 611.4 711.5 610.7ZM696.9 566.3 694.6 566.1 691.0 568.1 690.4 570.5 690.2 572.2 692.8 571.5 695.7 569.0 696.9 566.3ZM725.1 576.5 722.1 576.2 719.7 576.2 716.2 576.4 716.1 577.0 719.7 577.0 722.1 576.9 725.1 576.5ZM744.7 569.3 742.8 569.3 741.2 569.7 739.2 570.8 739.3 572.2 741.6 572.1 743.6 570.8 744.7 569.3ZM693.9 598.8 693.7 597.5 692.9 597.0 692.0 597.3 691.8 598.7 692.3 599.6 693.3 600.1 693.9 598.8ZM678.5 613.8 677.7 613.4 676.2 613.6 675.5 614.7 675.6 615.6 676.9 615.6 678.5 615.0 678.5 613.8ZM679.9 607.1 679.0 606.5 677.2 607.0 676.5 607.9 676.0 608.9 677.7 608.7 679.0 608.0 679.9 607.1ZM703.0 544.2 701.5 544.4 700.0 545.3 698.5 546.6 698.9 547.5 700.6 546.8 702.3 545.7 703.0 544.2ZM700.5 603.4 698.5 602.5 696.6 601.8 694.8 602.6 695.2 603.7 696.4 605.0 698.6 604.3 700.5 603.4ZM684.6 556.0 682.0 554.3 679.3 552.8 675.8 553.0 676.9 554.9 679.0 556.1 682.3 557.0 684.6 556.0ZM750.2 567.9 749.3 567.0 746.2 565.8 744.5 566.5 744.2 567.2 746.2 568.2 748.9 568.3 750.2 567.9ZM691.4 611.7 690.9 610.7 689.6 610.6 688.4 611.3 689.0 612.3 689.8 612.8 690.7 612.5 691.4 611.7ZM693.4 566.2 692.8 564.9 689.9 563.2 686.8 562.1 686.1 563.0 689.1 565.2 692.2 566.6 693.4 566.2ZM744.5 587.9 743.7 586.6 742.5 587.6 742.3 589.0 742.8 590.0 743.9 590.1 745.1 589.3 744.5 587.9ZM285.7 748.8 285.1 748.0 284.0 747.9 283.3 748.5 283.1 749.3 284.0 749.6 285.0 749.6 285.7 748.8ZM289.5 736.9 289.3 735.9 287.6 735.4 286.4 735.6 286.1 736.4 287.3 737.2 288.7 737.4 289.5 736.9ZM292.3 740.1 291.6 739.6 289.3 740.4 288.4 742.0 288.9 742.7 290.3 742.7 291.9 741.2 292.3 740.1ZM290.0 745.6 289.0 744.4 287.3 743.0 285.6 742.3 284.9 742.6 286.8 744.2 288.7 745.3 290.0 745.6ZM283.8 731.6 283.0 731.2 282.0 731.1 281.1 731.8 281.1 732.6 282.1 733.1 283.3 732.4 283.8 731.6ZM288.8 745.2 287.3 745.5 285.5 746.1 284.2 747.3 284.5 747.7 286.0 747.4 288.1 746.2 288.8 745.2ZM288.1 732.4 287.5 731.7 286.4 731.5 285.1 731.9 285.1 733.0 286.3 733.8 287.8 733.5 288.1 732.4ZM290.1 720.5 289.6 719.6 287.7 720.5 286.7 721.6 286.3 722.9 288.3 722.2 290.0 721.5 290.1 720.5ZM287.3 720.1 286.0 720.2 284.5 720.7 284.0 722.0 283.7 723.4 285.5 723.0 286.7 721.5 287.3 720.1ZM285.8 724.6 285.5 723.6 283.5 724.1 281.5 724.7 281.8 725.9 283.6 726.4 285.8 725.7 285.8 724.6ZM289.3 716.4 288.4 715.7 287.1 715.3 285.3 715.3 285.8 716.1 286.8 716.9 288.8 717.1 289.3 716.4ZM290.0 732.0 289.7 731.2 288.4 730.3 287.4 730.4 286.8 730.8 287.9 731.8 289.2 732.1 290.0 732.0ZM293.0 728.1 292.5 727.1 290.4 726.4 289.1 726.8 287.9 727.4 290.0 728.5 292.2 728.8 293.0 728.1ZM290.1 741.1 289.7 740.4 288.9 739.9 288.0 739.9 287.7 740.6 288.3 741.6 289.6 741.7 290.1 741.1ZM292.8 469.9 292.3 469.5 291.2 470.1 290.4 471.2 290.9 471.8 291.9 471.6 293.1 470.6 292.8 469.9ZM315.0 473.9 314.7 472.8 313.0 473.1 312.0 473.6 311.6 474.6 313.0 475.1 314.7 475.0 315.0 473.9ZM307.8 471.8 306.8 471.4 305.1 471.9 303.6 472.7 303.2 473.8 305.2 473.8 306.8 472.7 307.8 471.8ZM278.6 474.7 278.2 473.8 276.5 472.5 275.1 472.3 274.7 472.8 275.9 474.1 277.8 475.0 278.6 474.7ZM276.5 464.0 276.2 463.7 275.4 463.5 274.5 463.7 274.7 464.1 275.3 464.6 276.5 464.5 276.5 464.0ZM296.3 467.4 296.0 466.4 295.2 465.1 294.0 465.4 293.7 466.4 294.3 467.5 295.6 468.3 296.3 467.4ZM287.0 462.6 286.3 461.9 284.6 461.4 282.9 461.4 283.0 462.2 284.4 462.8 286.4 463.2 287.0 462.6ZM296.6 469.7 295.6 468.7 293.1 468.1 291.6 468.4 291.2 469.1 292.9 469.9 294.9 470.0 296.6 469.7ZM307.8 459.0 306.7 458.2 305.0 457.6 303.6 458.1 303.1 459.1 305.0 459.6 306.9 459.7 307.8 459.0ZM276.2 470.1 275.6 469.7 273.6 469.7 272.5 470.4 271.8 471.2 274.0 471.0 275.8 470.7 276.2 470.1ZM311.6 460.6 310.7 460.0 309.2 460.4 308.5 461.3 308.3 462.2 309.6 462.2 311.0 461.6 311.6 460.6ZM319.9 475.5 318.2 475.6 316.4 476.0 315.0 476.9 315.2 477.5 316.8 477.2 318.7 476.6 319.9 475.5ZM314.2 465.1 314.0 464.2 312.7 463.9 311.6 464.4 311.2 465.4 312.5 466.1 314.0 466.2 314.2 465.1ZM290.3 462.6 289.8 462.1 288.8 462.4 288.2 462.9 288.2 463.5 289.0 463.7 289.7 463.2 290.3 462.6ZM346.6 404.5 345.7 404.6 344.8 405.0 344.3 405.6 344.5 406.0 345.2 406.2 346.2 405.4 346.6 404.5ZM344.7 412.0 343.3 412.3 341.7 412.9 340.2 413.9 340.7 414.2 341.9 413.9 343.5 412.9 344.7 412.0ZM349.7 421.1 349.1 420.1 347.5 420.4 346.5 421.0 346.2 422.0 347.6 422.2 349.3 422.2 349.7 421.1ZM346.0 414.3 344.8 414.3 343.6 414.8 342.6 416.0 343.3 416.6 344.4 416.8 345.9 415.6 346.0 414.3ZM342.6 419.9 342.1 418.8 341.5 417.7 340.4 417.7 340.0 418.5 340.8 419.5 341.6 419.9 342.6 419.9ZM346.0 391.2 345.7 390.2 344.7 388.8 343.5 388.9 343.1 389.6 343.7 390.9 345.5 391.9 346.0 391.2ZM345.2 414.5 344.7 413.7 343.7 413.3 342.7 413.6 342.8 414.2 343.4 414.9 344.7 415.1 345.2 414.5ZM344.6 430.6 344.2 429.8 341.8 429.7 340.1 430.3 340.1 431.0 341.8 431.5 343.9 431.2 344.6 430.6ZM348.1 417.7 347.6 416.9 345.7 416.8 344.8 417.5 345.0 418.1 345.9 418.5 347.1 418.2 348.1 417.7ZM358.0 406.1 357.1 406.1 355.8 406.7 354.9 407.6 355.3 408.0 356.3 407.7 357.4 407.0 358.0 406.1Z" stroke="#1e3cff" stroke-width="1.9" fill="none" stroke-linejoin="round"/>
<path d="M53.0 367.6 L48.1 353.4M48.1 353.4 l5.0 -4.0M48.8 355.3 l2.0 -1.8M66.8 367.6 L63.7 353.0M63.7 353.0 l5.4 -3.4M80.6 367.6 L74.9 353.8M74.9 353.8 l4.7 -4.3M75.7 355.6 l4.7 -4.3M76.4 357.5 l4.7 -4.3M94.4 367.6 L90.8 353.1M90.8 353.1 l5.3 -3.6M91.3 355.0 l5.3 -3.6M91.7 357.0 l5.3 -3.6M108.1 367.6 L105.3 352.9M105.3 352.9 l5.5 -3.3M105.7 354.9 l5.5 -3.3M106.1 356.8 l5.5 -3.3M121.9 367.6 L120.9 352.7M120.9 352.7 l5.8 -2.6M121.0 354.7 l5.8 -2.6M121.2 356.7 l2.4 -1.2M135.7 367.6 L133.1 352.9M133.1 352.9 l5.5 -3.2M133.5 354.8 l5.5 -3.2M133.8 356.8 l2.3 -1.4M149.5 367.6 L144.1 353.6M144.1 353.6 l4.8 -4.2M144.8 355.5 l4.8 -4.2M145.6 357.4 l2.0 -1.8M163.3 367.6 L159.2 353.2M159.2 353.2 l5.2 -3.8M159.7 355.1 l5.2 -3.8M160.3 357.1 l5.2 -3.8M177.1 367.6 L174.8 352.8M174.8 352.8 l5.6 -3.1M175.1 354.8 l5.6 -3.1M175.4 356.8 l5.6 -3.1M175.7 358.7 l2.3 -1.4M190.8 367.6 L188.7 352.8M188.7 352.8 l5.6 -3.0M189.0 354.8 l5.6 -3.0M204.6 367.6 L203.7 352.7M203.7 352.7 l5.8 -2.6M203.8 354.7 l2.4 -1.2M218.4 367.6 L214.5 353.2M214.5 353.2 l5.2 -3.7M215.0 355.1 l2.2 -1.6M232.2 367.6 L230.5 352.7M230.5 352.7 l5.7 -2.9M230.7 354.7 l2.4 -1.3M246.0 367.6 L242.2 353.1M242.2 353.1 l5.2 -3.7M242.7 355.1 l2.2 -1.6M259.8 367.6 L256.1 353.1M256.1 353.1 l5.3 -3.6M273.6 367.6 L272.8 352.7M272.8 352.7 l5.9 -2.5M272.9 354.7 l2.4 -1.1M287.3 367.6 L286.2 352.7M286.2 352.7 l5.8 -2.6M301.1 367.6 L298.8 352.8M298.8 352.8 l5.6 -3.1M299.1 354.8 l2.3 -1.4M314.9 367.6 L312.7 352.8M312.7 352.8 l5.6 -3.1M328.7 367.6 L323.2 353.7M323.2 353.7 l4.8 -4.2M342.5 367.6 L335.6 354.3M335.6 354.3 l4.3 -4.7M336.5 356.1 l1.8 -2.0M356.3 367.6 L355.5 352.7M355.5 352.7 l5.9 -2.5M355.6 354.7 l5.9 -2.5M370.0 367.6 L368.2 352.7M368.2 352.7 l5.7 -2.9M368.5 354.7 l5.7 -2.9M383.8 367.6 L380.8 353.0M380.8 353.0 l5.4 -3.4M397.6 367.6 L395.4 352.8M395.4 352.8 l5.6 -3.1M395.7 354.8 l5.6 -3.1M411.4 367.6 L407.6 353.1M407.6 353.1 l5.2 -3.7M425.2 367.6 L417.7 354.6M418.6 356.2 l1.7 -2.1M439.0 367.6 L438.6 352.6M438.6 354.4 l2.5 -1.1M452.8 367.6 L449.7 352.9M449.7 352.9 l5.4 -3.4M450.1 354.9 l2.2 -1.5M466.5 367.6 L466.4 352.6M466.4 352.6 l6.0 -2.3M480.3 367.6 L480.0 352.6M480.0 352.6 l6.0 -2.3M480.0 354.6 l2.5 -1.1M494.1 367.6 L489.3 353.4M489.3 353.4 l5.0 -4.0M489.9 355.3 l5.0 -4.0M507.9 367.6 L505.1 352.9M505.1 352.9 l5.5 -3.3M505.5 354.9 l5.5 -3.3M521.7 367.6 L518.7 352.9M518.7 352.9 l5.4 -3.3M535.5 367.6 L531.1 353.3M531.1 353.3 l5.1 -3.9M531.7 355.2 l2.1 -1.7M549.2 367.6 L548.8 352.6M548.8 352.6 l5.9 -2.4M563.0 367.6 L559.3 353.1M559.3 353.1 l5.3 -3.6M559.8 355.0 l2.2 -1.6M576.8 367.6 L575.2 352.7M575.2 352.7 l5.7 -2.8M590.6 367.6 L583.2 354.6M583.2 354.6 l4.1 -4.9M584.2 356.3 l1.7 -2.1M604.4 367.6 L597.3 354.4M597.3 354.4 l4.2 -4.8M598.2 356.2 l1.7 -2.1M618.2 367.6 L613.2 353.5M613.2 353.5 l4.9 -4.1M613.9 355.4 l4.9 -4.1M632.0 367.6 L629.9 352.8M629.9 352.8 l5.6 -3.0M630.2 354.8 l2.3 -1.3M645.7 367.6 L645.4 352.6M645.4 352.6 l5.9 -2.3M659.5 367.6 L653.8 353.8M653.8 353.8 l4.7 -4.3M673.3 367.6 L667.0 354.0M667.0 354.0 l4.5 -4.5M687.1 367.6 L685.9 352.7M685.9 352.7 l5.8 -2.7M700.9 367.6 L694.1 354.3M694.1 354.3 l4.4 -4.7M695.0 356.0 l1.8 -2.0M714.7 367.6 L709.4 353.6M709.4 353.6 l4.8 -4.2M728.5 367.6 L722.6 353.8M722.6 353.8 l4.7 -4.4M723.4 355.7 l1.9 -1.9M742.2 367.6 L739.5 352.9M739.5 352.9 l5.5 -3.3M739.9 354.9 l5.5 -3.3M756.0 367.6 L755.6 352.6M755.6 352.6 l5.9 -2.4M769.8 367.6 L765.5 353.3M765.5 353.3 l5.1 -3.8M766.0 355.2 l2.1 -1.7M783.6 367.6 L776.6 354.3M776.6 354.3 l4.3 -4.7M777.6 356.1 l1.8 -2.0M797.4 367.6 L796.5 352.7M796.5 352.7 l5.9 -2.6M796.6 354.7 l2.4 -1.1M811.2 367.6 L809.5 352.7M809.5 352.7 l5.7 -2.9M809.7 354.7 l2.4 -1.3M824.9 367.6 L819.7 353.6M819.7 353.6 l4.8 -4.2M820.4 355.5 l2.0 -1.8M838.7 367.6 L837.7 352.7M837.7 352.7 l5.8 -2.6M837.8 354.7 l2.4 -1.2M53.0 384.7 L65.0 393.7M65.0 393.7 l-1.8 6.1M66.8 384.7 L81.6 382.2M81.6 382.2 l3.2 5.6M79.6 382.6 l1.4 2.3M80.6 384.7 L95.5 383.6M95.5 383.6 l2.6 5.8M93.5 383.7 l1.2 2.4M94.4 384.7 L109.1 382.2M109.1 382.2 l3.2 5.5M107.2 382.5 l3.2 5.5M105.2 382.8 l1.4 2.3M108.1 384.7 L119.4 374.8M119.4 374.8 l5.6 3.1M117.9 376.1 l5.6 3.1M116.4 377.4 l5.6 3.1M121.9 384.7 L136.8 386.5M136.8 386.5 l1.4 6.2M134.8 386.3 l1.4 6.2M135.7 384.7 L144.1 372.2M143.1 373.7 l2.6 0.6M149.5 384.7 L164.4 386.1M162.6 385.9 l0.8 2.6M163.3 384.7 L174.3 394.9M172.9 393.7 l-1.0 2.5M177.1 384.7 L189.0 393.8M187.6 392.7 l-0.7 2.6M190.8 384.7 L201.0 395.8M201.0 395.8 l-2.9 5.7M204.6 384.7 L212.5 371.9M212.5 371.9 l6.3 1.3M218.4 384.7 L233.4 384.8M233.4 384.8 l2.2 6.0M231.4 384.8 l1.0 2.5M232.2 384.7 L247.2 385.5M247.2 385.5 l1.9 6.1M246.0 384.7 L260.2 379.8M260.2 379.8 l4.0 5.0M259.8 384.7 L271.7 393.8M271.7 393.8 l-1.9 6.1M270.1 392.6 l-0.7 2.6M273.6 384.7 L285.6 375.8M285.6 375.8 l5.3 3.5M284.0 377.0 l5.3 3.5M282.4 378.2 l2.3 1.4M287.3 384.7 L298.9 375.2M298.9 375.2 l5.5 3.2M301.1 384.7 L312.8 394.1M312.8 394.1 l-2.0 6.1M314.9 384.7 L323.7 372.6M323.7 372.6 l6.1 1.7M322.5 374.2 l6.1 1.7M328.7 384.7 L343.2 388.4M343.2 388.4 l0.7 6.4M341.3 387.9 l0.4 2.7M342.5 384.7 L357.5 383.8M357.5 383.8 l2.5 5.9M356.3 384.7 L367.3 394.9M367.3 394.9 l-2.5 5.9M370.0 384.7 L380.6 374.1M380.6 374.1 l5.8 2.7M383.8 384.7 L394.9 394.8M394.9 394.8 l-2.4 5.9M397.6 384.7 L411.5 379.0M411.5 379.0 l4.3 4.7M409.7 379.8 l1.9 1.9M411.4 384.7 L426.0 381.1M426.0 381.1 l3.6 5.3M424.0 381.6 l3.6 5.3M422.1 382.1 l3.6 5.3M425.2 384.7 L439.6 380.4M439.6 380.4 l3.8 5.1M437.6 381.0 l3.8 5.1M435.7 381.5 l3.8 5.1M439.0 384.7 L453.8 382.5M453.8 382.5 l3.1 5.6M451.8 382.8 l3.1 5.6M449.8 383.1 l1.4 2.3M452.8 384.7 L466.2 391.2M464.6 390.5 l-0.2 2.7M466.5 384.7 L481.4 386.8M479.6 386.5 l0.6 2.6M480.3 384.7 L495.0 387.9M495.0 387.9 l0.8 6.3M493.0 387.5 l0.4 2.7M494.1 384.7 L508.5 388.9M508.5 388.9 l0.4 6.4M506.6 388.4 l0.3 2.7M507.9 384.7 L516.8 372.6M516.8 372.6 l6.1 1.8M521.7 384.7 L536.5 382.2M534.7 382.5 l1.4 2.3M535.5 384.7 L543.4 372.0M543.4 372.0 l6.3 1.3M549.2 384.7 L563.0 390.6M561.4 389.9 l-0.1 2.7M563.0 384.7 L575.6 376.5M575.6 376.5 l5.1 3.8M573.9 377.6 l2.2 1.5M576.8 384.7 L586.0 396.6M584.9 395.1 l-1.4 2.3M590.6 384.7 L601.1 374.0M599.9 375.3 l2.5 1.0M604.4 384.7 L618.5 389.8M618.5 389.8 l0.0 6.4M618.2 384.7 L630.1 393.8M628.7 392.7 l-0.7 2.6M632.0 384.7 L643.0 374.5M643.0 374.5 l5.7 2.9M645.7 384.7 L660.7 385.5M658.9 385.4 l0.9 2.6M659.5 384.7 L671.3 375.3M671.3 375.3 l5.5 3.3M669.7 376.6 l2.3 1.3M673.3 384.7 L681.5 372.1M681.5 372.1 l6.2 1.4M680.4 373.8 l6.2 1.4M687.1 384.7 L698.5 394.4M698.5 394.4 l-2.2 6.0M697.0 393.1 l-2.2 6.0M700.9 384.7 L713.0 393.5M713.0 393.5 l-1.7 6.2M714.7 384.7 L724.9 373.7M724.9 373.7 l5.9 2.5M728.5 384.7 L743.4 386.3M741.6 386.1 l0.7 2.6M742.2 384.7 L753.8 394.2M752.4 393.1 l-0.8 2.6M756.0 384.7 L770.3 389.2M770.3 389.2 l0.3 6.4M769.8 384.7 L782.8 377.3M782.8 377.3 l4.9 4.1M781.1 378.3 l4.9 4.1M783.6 384.7 L798.5 386.5M798.5 386.5 l1.5 6.2M796.5 386.2 l0.7 2.6M797.4 384.7 L812.4 384.7M812.4 384.7 l2.2 6.0M811.2 384.7 L822.4 394.6M822.4 394.6 l-2.3 6.0M824.9 384.7 L838.8 390.5M838.8 390.5 l-0.3 6.4M838.7 384.7 L850.0 374.8M850.0 374.8 l5.6 3.1M53.0 401.7 L64.4 392.0M64.4 392.0 l5.6 3.1M62.9 393.3 l2.4 1.3M66.8 401.7 L76.4 413.2M76.4 413.2 l-3.2 5.5M75.1 411.7 l-3.2 5.5M80.6 401.7 L95.3 404.4M95.3 404.4 l1.1 6.3M93.4 404.1 l1.1 6.3M94.4 401.7 L107.6 394.7M107.6 394.7 l4.8 4.3M108.1 401.7 L117.3 413.6M116.2 412.2 l-1.4 2.3M121.9 401.7 L136.0 407.0M134.3 406.4 l0.1 2.7M135.7 401.7 L146.0 412.7M144.8 411.3 l-1.1 2.4M149.5 401.7 L164.5 401.1M162.7 401.2 l1.1 2.5M163.3 401.7 L178.1 403.9M178.1 403.9 l1.3 6.3M177.1 401.7 L189.7 409.9M189.7 409.9 l-1.4 6.2M188.0 408.8 l-0.5 2.6M190.8 401.7 L204.5 407.9M204.5 407.9 l-0.5 6.4M202.7 407.1 l-0.1 2.7M204.6 401.7 L219.6 401.1M219.6 401.1 l2.4 5.9M218.4 401.7 L230.9 410.1M230.9 410.1 l-1.5 6.2M229.2 409.0 l-1.5 6.2M232.2 401.7 L247.2 400.7M247.2 400.7 l2.6 5.8M246.0 401.7 L260.3 406.3M260.3 406.3 l0.3 6.4M258.4 405.7 l0.2 2.7M259.8 401.7 L268.4 414.0M267.3 412.6 l-1.5 2.3M273.6 401.7 L283.8 412.7M283.8 412.7 l-2.9 5.7M282.5 411.2 l-1.1 2.4M287.3 401.7 L299.2 392.6M299.2 392.6 l5.4 3.4M297.6 393.8 l2.3 1.4M301.1 401.7 L311.2 412.9M311.2 412.9 l-3.0 5.7M309.8 411.4 l-3.0 5.7M308.5 409.9 l-1.2 2.4M314.9 401.7 L328.8 396.0M328.8 396.0 l4.3 4.7M326.9 396.8 l4.3 4.7M325.1 397.5 l1.9 1.9M328.7 401.7 L339.1 391.0M339.1 391.0 l5.8 2.6M337.8 392.4 l5.8 2.6M342.5 401.7 L350.9 389.3M350.9 389.3 l6.2 1.6M349.8 391.0 l2.6 0.6M356.3 401.7 L364.0 388.9M364.0 388.9 l6.3 1.2M370.0 401.7 L384.6 398.0M384.6 398.0 l3.6 5.3M382.6 398.5 l1.6 2.2M383.8 401.7 L398.4 398.3M398.4 398.3 l3.5 5.3M396.5 398.8 l3.5 5.3M397.6 401.7 L408.0 412.5M406.8 411.2 l-1.1 2.5M411.4 401.7 L421.7 390.9M421.7 390.9 l5.9 2.5M420.4 392.3 l5.9 2.5M425.2 401.7 L435.2 390.5M435.2 390.5 l5.9 2.3M433.8 392.0 l2.5 0.9M439.0 401.7 L452.9 407.2M452.9 407.2 l-0.1 6.4M451.1 406.5 l0.0 2.7M452.8 401.7 L466.4 395.5M466.4 395.5 l4.5 4.5M466.5 401.7 L476.7 390.7M476.7 390.7 l5.9 2.5M480.3 401.7 L494.4 407.0M494.4 407.0 l-0.1 6.4M492.5 406.3 l0.0 2.7M494.1 401.7 L508.2 406.9M508.2 406.9 l0.0 6.4M507.9 401.7 L521.4 408.4M519.7 407.6 l-0.2 2.7M521.7 401.7 L536.0 406.2M536.0 406.2 l0.3 6.4M535.5 401.7 L547.2 392.4M547.2 392.4 l5.5 3.3M549.2 401.7 L559.8 391.1M559.8 391.1 l5.8 2.7M558.4 392.5 l2.5 1.1M563.0 401.7 L572.6 413.3M572.6 413.3 l-3.2 5.5M576.8 401.7 L591.7 403.5M591.7 403.5 l1.5 6.2M589.7 403.2 l0.7 2.6M590.6 401.7 L605.6 401.2M605.6 401.2 l2.4 5.9M604.4 401.7 L614.6 390.7M613.4 392.1 l2.5 1.0M618.2 401.7 L632.5 397.4M632.5 397.4 l3.8 5.1M630.6 398.0 l1.7 2.1M632.0 401.7 L640.9 389.7M640.9 389.7 l6.1 1.8M639.7 391.3 l2.6 0.7M645.7 401.7 L660.7 401.9M660.7 401.9 l2.1 6.0M658.7 401.9 l1.0 2.5M659.5 401.7 L670.1 412.3M670.1 412.3 l-2.7 5.8M668.7 410.9 l-1.1 2.5M673.3 401.7 L688.3 403.0M688.3 403.0 l1.7 6.2M686.3 402.9 l1.7 6.2M687.1 401.7 L702.1 401.7M702.1 401.7 l2.2 6.0M700.1 401.7 l1.0 2.5M700.9 401.7 L714.2 394.8M714.2 394.8 l4.7 4.3M712.4 395.7 l2.0 1.8M714.7 401.7 L729.5 403.8M729.5 403.8 l1.4 6.2M728.5 401.7 L740.3 392.5M740.3 392.5 l5.4 3.4M742.2 401.7 L756.3 407.0M756.3 407.0 l-0.0 6.4M754.4 406.3 l-0.0 6.4M756.0 401.7 L770.7 404.6M770.7 404.6 l1.0 6.3M768.8 404.2 l0.5 2.6M769.8 401.7 L782.0 410.5M782.0 410.5 l-1.7 6.2M780.4 409.3 l-1.7 6.2M778.7 408.2 l-1.7 6.2M777.1 407.0 l-0.7 2.6M783.6 401.7 L798.4 403.9M798.4 403.9 l1.3 6.3M796.5 403.6 l1.3 6.3M794.5 403.3 l1.3 6.3M797.4 401.7 L811.8 397.7M811.8 397.7 l3.7 5.2M809.9 398.2 l3.7 5.2M808.0 398.8 l1.6 2.1M811.2 401.7 L821.4 412.7M821.4 412.7 l-2.9 5.7M820.0 411.2 l-2.9 5.7M818.7 409.8 l-2.9 5.7M824.9 401.7 L838.8 396.1M838.8 396.1 l4.3 4.7M837.0 396.8 l4.3 4.7M838.7 401.7 L853.1 405.9M853.1 405.9 l0.5 6.4M851.2 405.3 l0.3 2.7M53.0 418.8 L63.1 429.8M63.1 429.8 l-2.9 5.7M61.8 428.4 l-2.9 5.7M60.4 426.9 l-1.2 2.4M66.8 418.8 L81.4 421.9M81.4 421.9 l0.9 6.3M79.5 421.5 l0.9 6.3M80.6 418.8 L90.8 407.8M90.8 407.8 l5.9 2.5M94.4 418.8 L109.4 418.5M109.4 418.5 l2.3 6.0M108.1 418.8 L120.3 409.9M120.3 409.9 l5.3 3.5M121.9 418.8 L130.4 406.4M129.4 407.9 l2.6 0.6M135.7 418.8 L146.0 407.9M146.0 407.9 l5.9 2.5M149.5 418.8 L160.3 408.4M159.0 409.7 l2.5 1.1M163.3 418.8 L171.5 406.2M170.5 407.7 l2.6 0.5M177.1 418.8 L192.1 418.7M190.3 418.7 l1.0 2.5M190.8 418.8 L204.8 413.4M203.2 414.0 l1.8 2.0M204.6 418.8 L214.2 407.2M214.2 407.2 l6.0 2.1M212.9 408.8 l2.6 0.8M218.4 418.8 L231.9 425.3M231.9 425.3 l-0.6 6.4M230.1 424.5 l-0.6 6.4M232.2 418.8 L239.8 431.7M239.8 431.7 l-4.1 4.9M238.8 430.0 l-4.1 4.9M237.7 428.3 l-4.1 4.9M246.0 418.8 L256.9 429.1M256.9 429.1 l-2.5 5.9M255.4 427.7 l-2.5 5.9M254.0 426.3 l-1.0 2.5M259.8 418.8 L274.8 418.3M274.8 418.3 l2.4 5.9M272.8 418.4 l2.4 5.9M270.8 418.4 l2.4 5.9M273.6 418.8 L288.3 415.9M288.3 415.9 l3.3 5.5M286.3 416.3 l3.3 5.5M284.4 416.7 l1.5 2.3M287.3 418.8 L302.0 415.4M302.0 415.4 l3.5 5.4M300.0 415.9 l3.5 5.4M298.1 416.3 l1.5 2.2M301.1 418.8 L316.1 420.0M314.3 419.8 l0.8 2.6M314.9 418.8 L328.7 412.8M328.7 412.8 l4.4 4.6M326.8 413.6 l4.4 4.6M328.7 418.8 L343.6 416.9M343.6 416.9 l3.0 5.7M341.6 417.1 l3.0 5.7M339.6 417.4 l3.0 5.7M337.6 417.6 l1.3 2.4M342.5 418.8 L355.9 425.4M354.3 424.6 l-0.2 2.7M356.3 418.8 L371.2 417.1M371.2 417.1 l2.8 5.7M370.0 418.8 L382.6 410.6M382.6 410.6 l5.1 3.8M380.9 411.7 l5.1 3.8M379.3 412.8 l5.1 3.8M377.6 413.9 l2.2 1.5M383.8 418.8 L397.0 411.5M397.0 411.5 l4.8 4.2M395.2 412.5 l4.8 4.2M393.5 413.5 l4.8 4.2M397.6 418.8 L412.6 419.8M412.6 419.8 l1.8 6.1M410.6 419.7 l0.8 2.6M411.4 418.8 L423.0 409.2M423.0 409.2 l5.5 3.2M421.4 410.5 l5.5 3.2M419.9 411.8 l2.4 1.3M425.2 418.8 L439.6 423.0M439.6 423.0 l0.4 6.4M437.7 422.5 l0.4 6.4M435.7 421.9 l0.4 6.4M439.0 418.8 L453.9 417.0M453.9 417.0 l2.9 5.7M451.9 417.2 l2.9 5.7M449.9 417.5 l2.9 5.7M452.8 418.8 L467.4 415.8M467.4 415.8 l3.4 5.4M465.5 416.2 l3.4 5.4M463.5 416.6 l1.5 2.2M466.5 418.8 L480.2 425.0M480.2 425.0 l-0.5 6.4M480.3 418.8 L488.9 406.5M488.9 406.5 l6.2 1.6M487.7 408.1 l2.6 0.6M494.1 418.8 L507.0 411.1M507.0 411.1 l5.0 4.0M507.9 418.8 L519.3 409.1M519.3 409.1 l5.6 3.2M521.7 418.8 L531.4 430.2M531.4 430.2 l-3.1 5.6M530.1 428.7 l-1.3 2.4M535.5 418.8 L548.8 412.0M548.8 412.0 l4.7 4.3M547.0 412.9 l2.0 1.8M549.2 418.8 L561.6 427.3M561.6 427.3 l-1.6 6.2M559.9 426.2 l-1.6 6.2M563.0 418.8 L576.0 411.3M576.0 411.3 l4.9 4.1M574.3 412.3 l4.9 4.1M576.8 418.8 L591.3 422.8M591.3 422.8 l0.5 6.4M590.6 418.8 L599.6 406.8M598.5 408.2 l2.6 0.7M604.4 418.8 L619.1 421.7M619.1 421.7 l1.0 6.3M617.1 421.3 l1.0 6.3M615.2 420.9 l0.5 2.6M618.2 418.8 L632.1 424.3M632.1 424.3 l-0.2 6.4M630.3 423.6 l-0.2 6.4M628.4 422.9 l0.0 2.7M632.0 418.8 L646.9 418.2M646.9 418.2 l2.4 5.9M645.7 418.8 L657.9 410.0M657.9 410.0 l5.3 3.6M656.3 411.2 l2.3 1.4M659.5 418.8 L673.7 413.9M673.7 413.9 l4.1 4.9M673.3 418.8 L682.4 430.7M681.3 429.3 l-1.4 2.3M687.1 418.8 L700.1 426.3M700.1 426.3 l-1.1 6.3M700.9 418.8 L710.6 407.4M710.6 407.4 l6.0 2.2M709.3 408.9 l6.0 2.2M714.7 418.8 L725.0 408.0M725.0 408.0 l5.9 2.6M723.7 409.4 l5.9 2.6M728.5 418.8 L743.4 419.9M741.6 419.8 l0.8 2.6M742.2 418.8 L753.9 409.3M753.9 409.3 l5.5 3.3M756.0 418.8 L767.5 428.5M767.5 428.5 l-2.2 6.0M769.8 418.8 L784.2 414.5M782.5 415.0 l1.7 2.1M783.6 418.8 L798.5 417.0M798.5 417.0 l2.9 5.7M797.4 418.8 L810.7 411.8M810.7 411.8 l4.7 4.3M808.9 412.7 l2.0 1.7M811.2 418.8 L820.0 430.9M820.0 430.9 l-3.6 5.3M818.8 429.3 l-3.6 5.3M824.9 418.8 L838.5 425.2M838.5 425.2 l-0.6 6.4M838.7 418.8 L848.6 407.5M848.6 407.5 l6.0 2.3M847.3 409.0 l6.0 2.3M846.0 410.5 l6.0 2.3M844.6 412.0 l2.5 0.9M53.0 435.8 L38.4 439.1M38.4 439.1 l-3.5 -5.4M40.3 438.7 l-3.5 -5.4M66.8 435.8 L53.4 429.1M53.4 429.1 l0.7 -6.4M80.6 435.8 L65.6 436.4M65.6 436.4 l-2.4 -5.9M67.6 436.4 l-2.4 -5.9M94.4 435.8 L82.0 427.3M82.0 427.3 l1.6 -6.2M108.1 435.8 L93.3 437.7M93.3 437.7 l-2.9 -5.7M121.9 435.8 L107.2 438.8M109.0 438.4 l-1.5 -2.3M135.7 435.8 L122.6 443.2M122.6 443.2 l-4.9 -4.2M124.4 442.2 l-2.1 -1.7M149.5 435.8 L134.9 432.4M134.9 432.4 l-0.8 -6.3M163.3 435.8 L148.4 434.3M150.1 434.5 l-0.7 -2.6M177.1 435.8 L162.6 439.7M164.3 439.2 l-1.6 -2.2M190.8 435.8 L175.8 435.7M175.8 435.7 l-2.2 -6.0M177.8 435.8 l-1.0 -2.5M204.6 435.8 L190.6 430.7M190.6 430.7 l0.0 -6.4M218.4 435.8 L203.4 436.4M203.4 436.4 l-2.4 -5.9M205.4 436.3 l-1.1 -2.5M232.2 435.8 L218.4 430.0M218.4 430.0 l0.3 -6.4M220.2 430.8 l0.3 -6.4M246.0 435.8 L232.4 429.5M232.4 429.5 l0.6 -6.4M234.2 430.3 l0.6 -6.4M236.0 431.2 l0.2 -2.7M259.8 435.8 L246.7 443.1M246.7 443.1 l-4.8 -4.2M248.4 442.1 l-2.1 -1.7M273.6 435.8 L259.7 430.0M259.7 430.0 l0.3 -6.4M261.6 430.8 l0.0 -2.7M287.3 435.8 L272.6 433.2M272.6 433.2 l-1.1 -6.3M301.1 435.8 L286.2 437.6M286.2 437.6 l-2.9 -5.7M288.2 437.4 l-1.3 -2.4M314.9 435.8 L300.4 439.6M300.4 439.6 l-3.6 -5.3M328.7 435.8 L314.8 430.2M314.8 430.2 l0.2 -6.4M316.6 431.0 l0.2 -6.4M342.5 435.8 L327.5 436.5M327.5 436.5 l-2.5 -5.9M356.3 435.8 L341.5 438.7M343.3 438.4 l-1.5 -2.3M370.0 435.8 L357.0 428.4M357.0 428.4 l1.1 -6.3M358.8 429.4 l1.1 -6.3M360.5 430.4 l0.4 -2.7M383.8 435.8 L368.9 437.2M368.9 437.2 l-2.8 -5.8M370.9 437.1 l-2.8 -5.8M372.9 436.9 l-1.2 -2.4M397.6 435.8 L383.3 440.3M383.3 440.3 l-3.9 -5.1M385.2 439.7 l-3.9 -5.1M387.1 439.1 l-1.7 -2.1M411.4 435.8 L396.7 438.8M396.7 438.8 l-3.4 -5.4M398.7 438.4 l-3.4 -5.4M400.6 438.0 l-1.5 -2.2M425.2 435.8 L410.9 440.3M410.9 440.3 l-3.9 -5.1M412.8 439.7 l-3.9 -5.1M414.7 439.1 l-1.7 -2.1M439.0 435.8 L424.5 431.7M424.5 431.7 l-0.5 -6.4M426.5 432.3 l-0.5 -6.4M428.4 432.8 l-0.5 -6.4M452.8 435.8 L439.8 428.3M439.8 428.3 l1.1 -6.3M441.5 429.3 l1.1 -6.3M443.2 430.3 l1.1 -6.3M445.0 431.3 l0.4 -2.7M466.5 435.8 L451.7 438.2M451.7 438.2 l-3.1 -5.6M453.7 437.9 l-3.1 -5.6M455.7 437.6 l-3.1 -5.6M480.3 435.8 L465.3 436.1M465.3 436.1 l-2.3 -6.0M467.3 436.1 l-1.0 -2.5M494.1 435.8 L479.1 436.4M479.1 436.4 l-2.4 -5.9M507.9 435.8 L493.4 439.6M495.1 439.2 l-1.6 -2.2M521.7 435.8 L508.4 428.9M508.4 428.9 l0.8 -6.3M510.1 429.8 l0.3 -2.7M535.5 435.8 L520.9 439.6M520.9 439.6 l-3.6 -5.3M522.9 439.1 l-1.6 -2.2M549.2 435.8 L536.6 443.8M536.6 443.8 l-5.1 -3.9M538.2 442.8 l-5.1 -3.9M539.9 441.7 l-5.1 -3.9M541.6 440.6 l-2.2 -1.6M563.0 435.8 L548.0 436.0M549.8 436.0 l-1.0 -2.5M576.8 435.8 L562.5 431.5M562.5 431.5 l-0.4 -6.4M564.4 432.0 l-0.2 -2.7M590.6 435.8 L577.0 442.2M577.0 442.2 l-4.5 -4.5M578.8 441.3 l-2.0 -1.8M604.4 435.8 L589.4 436.9M589.4 436.9 l-2.6 -5.8M591.4 436.7 l-2.6 -5.8M593.4 436.6 l-2.6 -5.8M595.4 436.5 l-1.2 -2.4M618.2 435.8 L603.9 431.1M603.9 431.1 l-0.2 -6.4M605.8 431.7 l-0.2 -6.4M607.7 432.4 l-0.2 -6.4M609.6 433.0 l-0.2 -2.7M632.0 435.8 L619.5 427.5M619.5 427.5 l1.5 -6.2M621.1 428.6 l1.5 -6.2M622.8 429.7 l1.5 -6.2M645.7 435.8 L632.9 428.1M632.9 428.1 l1.2 -6.3M634.6 429.1 l0.4 -2.7M659.5 435.8 L644.5 436.3M644.5 436.3 l-2.4 -5.9M646.5 436.2 l-1.1 -2.5M673.3 435.8 L658.5 438.4M658.5 438.4 l-3.2 -5.5M687.1 435.8 L674.5 444.0M674.5 444.0 l-5.1 -3.8M700.9 435.8 L686.9 430.3M686.9 430.3 l0.2 -6.4M714.7 435.8 L701.7 428.3M703.2 429.2 l0.4 -2.7M728.5 435.8 L714.9 442.4M716.6 441.6 l-2.0 -1.8M742.2 435.8 L728.5 441.8M730.1 441.1 l-1.9 -1.9M756.0 435.8 L743.6 427.5M745.1 428.5 l0.6 -2.6M769.8 435.8 L757.3 427.5M758.8 428.5 l0.5 -2.6M783.6 435.8 L768.6 436.0M770.4 436.0 l-1.0 -2.5M797.4 435.8 L782.4 437.1M782.4 437.1 l-2.7 -5.8M784.4 436.9 l-2.7 -5.8M786.4 436.7 l-1.2 -2.4M811.2 435.8 L796.3 433.9M796.3 433.9 l-1.4 -6.2M798.3 434.2 l-1.4 -6.2M800.2 434.4 l-0.7 -2.6M824.9 435.8 L810.3 439.3M810.3 439.3 l-3.5 -5.3M812.3 438.8 l-3.5 -5.3M814.2 438.3 l-3.5 -5.3M838.7 435.8 L823.8 437.3M823.8 437.3 l-2.8 -5.8M825.8 437.1 l-1.2 -2.4M53.0 452.9 L40.4 461.0M40.4 461.0 l-5.1 -3.8M42.1 460.0 l-5.1 -3.8M43.8 458.9 l-2.2 -1.6M66.8 452.9 L53.7 445.6M53.7 445.6 l1.0 -6.3M55.4 446.6 l1.0 -6.3M57.2 447.6 l1.0 -6.3M80.6 452.9 L67.8 445.0M67.8 445.0 l1.3 -6.3M69.5 446.0 l1.3 -6.3M71.2 447.1 l1.3 -6.3M94.4 452.9 L79.4 452.7M79.4 452.7 l-2.1 -6.0M81.4 452.7 l-2.1 -6.0M83.4 452.8 l-2.1 -6.0M85.4 452.8 l-1.0 -2.5M108.1 452.9 L93.7 456.9M93.7 456.9 l-3.7 -5.2M95.6 456.3 l-3.7 -5.2M97.5 455.8 l-3.7 -5.2M121.9 452.9 L106.9 453.1M106.9 453.1 l-2.3 -6.0M108.9 453.1 l-2.3 -6.0M110.9 453.1 l-1.0 -2.5M135.7 452.9 L120.7 453.5M120.7 453.5 l-2.4 -5.9M122.7 453.4 l-2.4 -5.9M124.7 453.3 l-2.4 -5.9M126.7 453.2 l-1.1 -2.5M149.5 452.9 L134.7 455.2M134.7 455.2 l-3.1 -5.6M136.7 454.9 l-3.1 -5.6M138.6 454.6 l-3.1 -5.6M163.3 452.9 L149.4 458.5M149.4 458.5 l-4.3 -4.7M177.1 452.9 L162.2 454.6M163.9 454.4 l-1.3 -2.4M190.8 452.9 L176.4 456.9M176.4 456.9 l-3.7 -5.2M204.6 452.9 L191.9 444.9M191.9 444.9 l1.3 -6.3M193.6 446.0 l0.5 -2.6M218.4 452.9 L204.8 459.3M204.8 459.3 l-4.5 -4.5M206.7 458.4 l-2.0 -1.8M232.2 452.9 L218.6 446.6M218.6 446.6 l0.5 -6.4M220.4 447.5 l0.5 -6.4M246.0 452.9 L233.4 461.0M233.4 461.0 l-5.1 -3.8M235.1 459.9 l-5.1 -3.8M236.7 458.9 l-2.2 -1.6M259.8 452.9 L244.8 453.1M244.8 453.1 l-2.3 -6.0M273.6 452.9 L260.3 459.9M260.3 459.9 l-4.7 -4.3M287.3 452.9 L274.7 461.0M274.7 461.0 l-5.1 -3.9M301.1 452.9 L287.2 458.3M287.2 458.3 l-4.2 -4.8M289.0 457.6 l-1.8 -2.0M314.9 452.9 L300.2 450.1M300.2 450.1 l-1.0 -6.3M302.1 450.5 l-0.5 -2.6M328.7 452.9 L314.1 456.2M314.1 456.2 l-3.5 -5.4M342.5 452.9 L329.6 445.1M331.2 446.1 l0.4 -2.7M356.3 452.9 L341.3 451.9M341.3 451.9 l-1.8 -6.1M343.3 452.0 l-1.8 -6.1M370.0 452.9 L355.7 457.4M355.7 457.4 l-3.9 -5.1M357.6 456.8 l-3.9 -5.1M359.6 456.2 l-3.9 -5.1M361.5 455.6 l-1.7 -2.1M383.8 452.9 L368.8 453.0M368.8 453.0 l-2.2 -6.0M370.8 453.0 l-2.2 -6.0M372.8 452.9 l-1.0 -2.5M397.6 452.9 L383.1 449.3M383.1 449.3 l-0.7 -6.4M385.0 449.8 l-0.7 -6.4M386.9 450.2 l-0.4 -2.7M411.4 452.9 L396.6 450.5M396.6 450.5 l-1.2 -6.3M398.6 450.8 l-1.2 -6.3M400.5 451.1 l-0.6 -2.6M425.2 452.9 L412.3 445.2M412.3 445.2 l1.2 -6.3M414.0 446.2 l1.2 -6.3M415.8 447.2 l0.4 -2.7M439.0 452.9 L424.0 454.1M424.0 454.1 l-2.7 -5.8M426.0 454.0 l-2.7 -5.8M452.8 452.9 L438.4 457.1M438.4 457.1 l-3.8 -5.1M440.3 456.5 l-3.8 -5.1M442.2 456.0 l-3.8 -5.1M466.5 452.9 L452.7 458.7M454.4 458.0 l-1.9 -1.9M480.3 452.9 L466.7 459.2M466.7 459.2 l-4.5 -4.5M494.1 452.9 L479.5 449.4M481.3 449.8 l-0.4 -2.7M507.9 452.9 L493.1 450.2M493.1 450.2 l-1.1 -6.3M495.1 450.6 l-0.5 -2.6M521.7 452.9 L507.8 458.6M509.5 457.9 l-1.9 -1.9M535.5 452.9 L521.5 458.4M521.5 458.4 l-4.3 -4.8M523.4 457.7 l-4.3 -4.8M525.2 457.0 l-1.9 -2.0M549.2 452.9 L536.5 460.7M536.5 460.7 l-5.0 -4.0M538.2 459.7 l-5.0 -4.0M539.9 458.6 l-5.0 -4.0M563.0 452.9 L548.2 455.0M548.2 455.0 l-3.0 -5.6M550.2 454.7 l-3.0 -5.6M552.1 454.5 l-3.0 -5.6M576.8 452.9 L562.9 458.6M562.9 458.6 l-4.3 -4.7M564.8 457.8 l-4.3 -4.7M566.6 457.1 l-4.3 -4.7M568.5 456.3 l-1.9 -1.9M590.6 452.9 L577.1 459.4M577.1 459.4 l-4.6 -4.4M578.9 458.5 l-4.6 -4.4M604.4 452.9 L589.5 455.0M589.5 455.0 l-3.0 -5.6M591.5 454.7 l-1.3 -2.3M618.2 452.9 L605.2 445.3M605.2 445.3 l1.1 -6.3M632.0 452.9 L619.6 444.3M619.6 444.3 l1.6 -6.2M645.7 452.9 L632.8 460.5M634.4 459.6 l-2.1 -1.6M659.5 452.9 L646.3 459.9M646.3 459.9 l-4.7 -4.3M673.3 452.9 L660.8 461.2M660.8 461.2 l-5.1 -3.8M687.1 452.9 L672.2 451.6M672.2 451.6 l-1.7 -6.2M700.9 452.9 L685.9 453.9M687.7 453.8 l-1.2 -2.4M714.7 452.9 L700.7 458.2M700.7 458.2 l-4.2 -4.8M728.5 452.9 L713.9 456.5M713.9 456.5 l-3.6 -5.3M715.8 456.0 l-1.6 -2.2M742.2 452.9 L727.6 456.2M727.6 456.2 l-3.5 -5.4M729.6 455.8 l-3.5 -5.4M731.5 455.3 l-1.5 -2.2M756.0 452.9 L743.2 460.7M743.2 460.7 l-5.0 -4.0M769.8 452.9 L755.0 450.8M755.0 450.8 l-1.3 -6.2M756.9 451.1 l-1.3 -6.2M758.9 451.3 l-1.3 -6.2M760.9 451.6 l-0.6 -2.6M783.6 452.9 L769.9 459.0M771.5 458.2 l-1.9 -1.9M797.4 452.9 L785.0 444.4M785.0 444.4 l1.6 -6.2M786.6 445.5 l0.6 -2.6M811.2 452.9 L798.0 460.0M798.0 460.0 l-4.8 -4.2M799.7 459.1 l-4.8 -4.2M801.5 458.1 l-4.8 -4.2M824.9 452.9 L810.3 456.0M810.3 456.0 l-3.4 -5.4M812.2 455.6 l-3.4 -5.4M814.2 455.2 l-3.4 -5.4M816.1 454.8 l-1.5 -2.2M838.7 452.9 L824.1 456.1M824.1 456.1 l-3.4 -5.4M826.0 455.7 l-3.4 -5.4M828.0 455.2 l-3.4 -5.4M53.0 469.9 L38.2 467.4M38.2 467.4 l-1.2 -6.3M40.2 467.8 l-1.2 -6.3M42.2 468.1 l-0.6 -2.6M66.8 469.9 L53.2 463.5M53.2 463.5 l0.6 -6.4M55.0 464.4 l0.2 -2.7M80.6 469.9 L68.0 461.7M68.0 461.7 l1.5 -6.2M69.7 462.8 l0.5 -2.6M94.4 469.9 L80.9 476.6M80.9 476.6 l-4.6 -4.4M82.7 475.7 l-2.0 -1.8M108.1 469.9 L93.7 465.8M93.7 465.8 l-0.5 -6.4M95.6 466.3 l-0.3 -2.7M121.9 469.9 L109.3 461.8M109.3 461.8 l1.4 -6.2M111.0 462.9 l0.5 -2.6M135.7 469.9 L121.0 472.9M121.0 472.9 l-3.4 -5.4M123.0 472.5 l-1.5 -2.2M149.5 469.9 L137.1 461.5M137.1 461.5 l1.5 -6.2M138.7 462.7 l0.6 -2.6M163.3 469.9 L150.9 461.4M150.9 461.4 l1.6 -6.2M152.6 462.5 l0.6 -2.6M177.1 469.9 L162.1 471.3M162.1 471.3 l-2.7 -5.8M164.1 471.1 l-1.2 -2.4M190.8 469.9 L178.0 477.6M178.0 477.6 l-5.0 -4.0M204.6 469.9 L190.6 475.1M190.6 475.1 l-4.1 -4.9M192.4 474.4 l-1.8 -2.0M218.4 469.9 L205.6 477.7M205.6 477.7 l-5.0 -4.0M232.2 469.9 L217.3 471.2M219.0 471.0 l-1.2 -2.4M246.0 469.9 L233.6 478.4M233.6 478.4 l-5.2 -3.7M259.8 469.9 L244.9 471.8M244.9 471.8 l-2.9 -5.7M273.6 469.9 L258.6 468.4M260.4 468.6 l-0.7 -2.6M287.3 469.9 L275.1 478.5M275.1 478.5 l-5.2 -3.7M301.1 469.9 L287.6 476.3M289.2 475.6 l-2.0 -1.8M314.9 469.9 L300.0 471.1M300.0 471.1 l-2.7 -5.8M302.0 471.0 l-1.2 -2.4M328.7 469.9 L313.7 469.2M315.5 469.3 l-0.9 -2.5M342.5 469.9 L328.1 465.6M328.1 465.6 l-0.4 -6.4M356.3 469.9 L341.3 471.0M341.3 471.0 l-2.6 -5.8M370.0 469.9 L355.0 469.8M355.0 469.8 l-2.1 -6.0M383.8 469.9 L368.8 470.4M368.8 470.4 l-2.4 -5.9M370.8 470.3 l-2.4 -5.9M372.8 470.3 l-2.4 -5.9M397.6 469.9 L382.6 469.0M382.6 469.0 l-1.8 -6.1M384.6 469.1 l-1.8 -6.1M386.6 469.2 l-1.8 -6.1M411.4 469.9 L396.5 468.1M396.5 468.1 l-1.5 -6.2M398.5 468.4 l-1.5 -6.2M400.5 468.6 l-1.5 -6.2M425.2 469.9 L411.2 464.6M411.2 464.6 l0.1 -6.4M439.0 469.9 L425.2 464.0M425.2 464.0 l0.3 -6.4M427.0 464.8 l0.3 -6.4M452.8 469.9 L439.2 476.3M439.2 476.3 l-4.5 -4.5M466.5 469.9 L451.6 468.4M451.6 468.4 l-1.6 -6.2M453.6 468.6 l-0.7 -2.6M480.3 469.9 L465.4 471.1M465.4 471.1 l-2.7 -5.8M494.1 469.9 L481.2 477.5M482.7 476.6 l-2.1 -1.6M507.9 469.9 L495.0 477.5M496.5 476.6 l-2.1 -1.7M521.7 469.9 L508.5 462.7M508.5 462.7 l1.0 -6.3M535.5 469.9 L521.6 464.1M523.3 464.8 l0.0 -2.7M549.2 469.9 L535.9 463.2M535.9 463.2 l0.7 -6.3M537.6 464.1 l0.2 -2.7M563.0 469.9 L549.0 475.3M549.0 475.3 l-4.2 -4.8M550.9 474.6 l-1.8 -2.0M576.8 469.9 L564.0 477.7M564.0 477.7 l-5.0 -4.0M565.7 476.7 l-5.0 -4.0M567.4 475.7 l-2.2 -1.6M590.6 469.9 L575.7 468.6M575.7 468.6 l-1.7 -6.2M577.7 468.8 l-0.8 -2.6M604.4 469.9 L590.5 464.2M590.5 464.2 l0.3 -6.4M592.4 465.0 l0.0 -2.7M618.2 469.9 L603.7 473.8M603.7 473.8 l-3.7 -5.2M605.6 473.3 l-3.7 -5.2M632.0 469.9 L617.9 475.3M617.9 475.3 l-4.2 -4.8M645.7 469.9 L630.8 468.4M630.8 468.4 l-1.6 -6.2M659.5 469.9 L644.9 473.3M646.7 472.9 l-1.5 -2.2M673.3 469.9 L658.3 470.9M660.1 470.8 l-1.2 -2.4M687.1 469.9 L672.3 467.6M674.1 467.8 l-0.6 -2.6M700.9 469.9 L687.0 475.6M688.7 474.9 l-1.9 -1.9M714.7 469.9 L701.3 476.7M701.3 476.7 l-4.7 -4.4M703.0 475.8 l-4.7 -4.4M728.5 469.9 L714.7 463.8M714.7 463.8 l0.4 -6.4M716.6 464.7 l0.4 -6.4M718.4 465.5 l0.4 -6.4M720.2 466.3 l0.1 -2.7M742.2 469.9 L727.6 473.1M727.6 473.1 l-3.4 -5.4M756.0 469.9 L741.8 474.7M741.8 474.7 l-4.0 -5.0M769.8 469.9 L756.0 475.7M756.0 475.7 l-4.3 -4.7M757.8 474.9 l-4.3 -4.7M759.6 474.2 l-4.3 -4.7M783.6 469.9 L770.8 477.7M770.8 477.7 l-5.0 -4.0M772.5 476.7 l-5.0 -4.0M774.2 475.6 l-2.2 -1.6M797.4 469.9 L783.3 475.2M783.3 475.2 l-4.2 -4.9M811.2 469.9 L796.2 468.7M796.2 468.7 l-1.7 -6.2M824.9 469.9 L810.8 475.0M810.8 475.0 l-4.1 -4.9M812.7 474.4 l-1.8 -2.0M838.7 469.9 L824.9 475.7M824.9 475.7 l-4.3 -4.7M826.7 474.9 l-4.3 -4.7M828.6 474.2 l-4.3 -4.7M53.0 487.0 L38.1 485.2M38.1 485.2 l-1.5 -6.2M40.1 485.4 l-0.7 -2.6M66.8 487.0 L52.0 484.6M52.0 484.6 l-1.2 -6.3M53.9 485.0 l-0.6 -2.6M80.6 487.0 L67.5 494.4M67.5 494.4 l-4.9 -4.1M69.3 493.4 l-4.9 -4.1M94.4 487.0 L79.4 487.2M79.4 487.2 l-2.3 -6.0M81.4 487.1 l-1.0 -2.5M108.1 487.0 L93.1 486.6M93.1 486.6 l-2.1 -6.1M95.1 486.7 l-2.1 -6.1M97.1 486.7 l-0.9 -2.5M121.9 487.0 L107.8 492.0M107.8 492.0 l-4.1 -4.9M109.7 491.3 l-4.1 -4.9M111.6 490.6 l-4.1 -4.9M113.4 490.0 l-1.8 -2.0M135.7 487.0 L121.0 489.8M121.0 489.8 l-3.3 -5.5M122.9 489.4 l-3.3 -5.5M149.5 487.0 L135.2 482.3M135.2 482.3 l-0.2 -6.4M137.1 482.9 l-0.2 -2.7M163.3 487.0 L148.6 489.9M148.6 489.9 l-3.3 -5.5M150.5 489.5 l-3.3 -5.5M177.1 487.0 L163.8 493.9M163.8 493.9 l-4.7 -4.3M190.8 487.0 L175.9 487.4M175.9 487.4 l-2.4 -5.9M204.6 487.0 L189.8 489.3M189.8 489.3 l-3.1 -5.6M191.8 489.0 l-3.1 -5.6M218.4 487.0 L204.6 481.2M204.6 481.2 l0.3 -6.4M206.4 482.0 l0.3 -6.4M208.3 482.7 l0.0 -2.7M232.2 487.0 L217.7 483.3M219.4 483.8 l-0.4 -2.7M246.0 487.0 L231.1 485.4M231.1 485.4 l-1.6 -6.2M259.8 487.0 L244.8 486.2M244.8 486.2 l-1.9 -6.1M273.6 487.0 L260.5 479.6M260.5 479.6 l1.1 -6.3M287.3 487.0 L272.4 488.4M272.4 488.4 l-2.8 -5.8M274.4 488.2 l-1.2 -2.4M301.1 487.0 L286.8 491.5M286.8 491.5 l-3.9 -5.1M288.7 490.9 l-1.7 -2.1M314.9 487.0 L300.4 483.1M300.4 483.1 l-0.6 -6.4M302.3 483.6 l-0.3 -2.7M328.7 487.0 L314.1 490.3M314.1 490.3 l-3.5 -5.4M316.0 489.8 l-1.5 -2.2M342.5 487.0 L327.5 486.2M327.5 486.2 l-1.9 -6.1M356.3 487.0 L341.3 486.0M341.3 486.0 l-1.8 -6.1M343.3 486.1 l-0.8 -2.6M370.0 487.0 L355.2 485.0M355.2 485.0 l-1.4 -6.2M383.8 487.0 L368.8 486.9M368.8 486.9 l-2.2 -6.0M370.8 486.9 l-2.2 -6.0M372.8 486.9 l-2.2 -6.0M397.6 487.0 L382.6 486.0M382.6 486.0 l-1.8 -6.1M384.6 486.2 l-1.8 -6.1M386.6 486.3 l-0.8 -2.6M411.4 487.0 L397.9 480.5M397.9 480.5 l0.6 -6.4M399.7 481.3 l0.6 -6.4M425.2 487.0 L410.8 491.1M410.8 491.1 l-3.8 -5.2M412.7 490.5 l-1.6 -2.1M439.0 487.0 L424.8 491.8M424.8 491.8 l-4.0 -5.0M452.8 487.0 L439.9 479.2M439.9 479.2 l1.2 -6.3M466.5 487.0 L452.9 493.2M452.9 493.2 l-4.5 -4.5M454.7 492.4 l-4.5 -4.5M456.5 491.6 l-4.5 -4.5M458.4 490.7 l-2.0 -1.9M480.3 487.0 L465.9 491.2M465.9 491.2 l-3.8 -5.1M494.1 487.0 L479.4 483.9M479.4 483.9 l-0.9 -6.3M507.9 487.0 L493.8 481.8M495.5 482.4 l-0.1 -2.7M521.7 487.0 L508.4 494.0M508.4 494.0 l-4.8 -4.3M510.2 493.1 l-4.8 -4.3M535.5 487.0 L521.3 491.9M521.3 491.9 l-4.1 -4.9M549.2 487.0 L534.6 490.1M536.3 489.8 l-1.5 -2.2M563.0 487.0 L550.3 494.9M550.3 494.9 l-5.0 -3.9M552.0 493.9 l-5.0 -3.9M553.7 492.8 l-5.0 -3.9M576.8 487.0 L562.0 489.3M562.0 489.3 l-3.1 -5.6M564.0 489.0 l-3.1 -5.6M566.0 488.7 l-1.4 -2.3M590.6 487.0 L575.6 486.9M575.6 486.9 l-2.2 -6.0M577.6 486.9 l-2.2 -6.0M579.6 486.9 l-2.2 -6.0M581.6 486.9 l-1.0 -2.5M604.4 487.0 L591.9 478.7M591.9 478.7 l1.5 -6.2M593.5 479.8 l1.5 -6.2M595.2 480.9 l1.5 -6.2M596.9 482.0 l0.5 -2.6M618.2 487.0 L603.2 486.2M603.2 486.2 l-1.9 -6.1M632.0 487.0 L618.3 493.1M618.3 493.1 l-4.5 -4.6M645.7 487.0 L631.0 484.4M631.0 484.4 l-1.1 -6.3M659.5 487.0 L644.5 486.9M644.5 486.9 l-2.2 -6.0M673.3 487.0 L659.0 491.4M659.0 491.4 l-3.9 -5.1M660.9 490.8 l-1.7 -2.1M687.1 487.0 L673.1 492.3M673.1 492.3 l-4.2 -4.8M674.9 491.6 l-1.8 -2.0M700.9 487.0 L685.9 487.3M687.7 487.2 l-1.0 -2.5M714.7 487.0 L701.3 493.7M701.3 493.7 l-4.7 -4.4M728.5 487.0 L714.1 491.3M714.1 491.3 l-3.8 -5.1M742.2 487.0 L728.9 480.2M728.9 480.2 l0.8 -6.3M756.0 487.0 L741.5 483.4M743.2 483.8 l-0.4 -2.7M769.8 487.0 L755.3 483.2M755.3 483.2 l-0.6 -6.4M757.2 483.7 l-0.6 -6.4M759.2 484.2 l-0.6 -6.4M761.1 484.7 l-0.3 -2.7M783.6 487.0 L769.2 491.3M769.2 491.3 l-3.8 -5.1M771.1 490.7 l-3.8 -5.1M773.0 490.1 l-3.8 -5.1M775.0 489.5 l-1.7 -2.1M797.4 487.0 L784.4 494.5M784.4 494.5 l-4.9 -4.1M811.2 487.0 L797.4 492.9M797.4 492.9 l-4.4 -4.7M799.2 492.1 l-1.9 -1.9M824.9 487.0 L811.2 481.0M811.2 481.0 l0.4 -6.4M813.0 481.8 l0.4 -6.4M814.8 482.6 l0.4 -6.4M838.7 487.0 L824.7 481.6M824.7 481.6 l0.1 -6.4M53.0 504.0 L40.1 496.4M40.1 496.4 l1.1 -6.3M41.8 497.4 l1.1 -6.3M66.8 504.0 L51.8 505.1M51.8 505.1 l-2.6 -5.8M53.8 505.0 l-1.2 -2.4M80.6 504.0 L65.8 506.8M65.8 506.8 l-3.3 -5.5M94.4 504.0 L79.5 506.0M79.5 506.0 l-3.0 -5.7M108.1 504.0 L93.2 503.2M93.2 503.2 l-1.9 -6.1M121.9 504.0 L108.7 511.1M108.7 511.1 l-4.8 -4.2M110.5 510.2 l-4.8 -4.2M112.2 509.2 l-4.8 -4.2M135.7 504.0 L121.6 509.0M121.6 509.0 l-4.1 -4.9M149.5 504.0 L134.7 501.5M134.7 501.5 l-1.1 -6.3M163.3 504.0 L148.6 501.1M148.6 501.1 l-1.0 -6.3M150.5 501.5 l-1.0 -6.3M177.1 504.0 L162.3 501.5M162.3 501.5 l-1.2 -6.3M164.2 501.9 l-1.2 -6.3M166.2 502.2 l-1.2 -6.3M190.8 504.0 L176.8 498.7M176.8 498.7 l0.1 -6.4M204.6 504.0 L190.2 507.9M191.9 507.5 l-1.6 -2.2M218.4 504.0 L203.5 505.2M203.5 505.2 l-2.6 -5.8M232.2 504.0 L218.0 509.0M218.0 509.0 l-4.0 -4.9M219.9 508.3 l-1.8 -2.0M246.0 504.0 L232.6 510.7M232.6 510.7 l-4.6 -4.4M234.3 509.8 l-2.0 -1.8M259.8 504.0 L245.8 498.6M245.8 498.6 l0.1 -6.4M247.6 499.3 l0.1 -6.4M273.6 504.0 L261.1 512.3M261.1 512.3 l-5.2 -3.8M262.7 511.2 l-5.2 -3.8M287.3 504.0 L274.5 511.7M274.5 511.7 l-5.0 -4.0M301.1 504.0 L287.9 496.9M287.9 496.9 l0.9 -6.3M289.7 497.8 l0.9 -6.3M314.9 504.0 L300.3 507.6M300.3 507.6 l-3.6 -5.3M302.3 507.1 l-1.6 -2.2M328.7 504.0 L314.6 499.0M314.6 499.0 l-0.1 -6.4M316.4 499.7 l-0.1 -2.7M342.5 504.0 L327.7 501.7M327.7 501.7 l-1.3 -6.3M329.6 502.0 l-0.6 -2.6M356.3 504.0 L342.9 510.8M342.9 510.8 l-4.7 -4.3M370.0 504.0 L356.9 511.3M356.9 511.3 l-4.8 -4.2M358.7 510.4 l-2.1 -1.7M383.8 504.0 L369.0 501.6M370.8 501.9 l-0.6 -2.6M397.6 504.0 L382.6 503.8M382.6 503.8 l-2.1 -6.0M411.4 504.0 L396.4 504.1M396.4 504.1 l-2.2 -6.0M425.2 504.0 L412.2 496.6M412.2 496.6 l1.1 -6.3M413.9 497.6 l1.1 -6.3M439.0 504.0 L424.0 502.9M424.0 502.9 l-1.8 -6.1M426.0 503.1 l-0.8 -2.6M452.8 504.0 L438.0 506.9M438.0 506.9 l-3.3 -5.5M440.0 506.5 l-1.5 -2.3M466.5 504.0 L452.0 507.6M452.0 507.6 l-3.5 -5.3M453.9 507.1 l-1.6 -2.2M480.3 504.0 L466.2 498.9M466.2 498.9 l-0.0 -6.4M468.1 499.6 l-0.0 -6.4M470.0 500.3 l-0.0 -6.4M494.1 504.0 L479.3 506.6M479.3 506.6 l-3.2 -5.5M481.3 506.3 l-1.4 -2.3M507.9 504.0 L495.2 496.1M495.2 496.1 l1.3 -6.3M496.9 497.1 l1.3 -6.3M521.7 504.0 L507.2 500.0M507.2 500.0 l-0.5 -6.4M509.1 500.6 l-0.5 -6.4M511.1 501.1 l-0.5 -6.4M535.5 504.0 L523.2 495.5M523.2 495.5 l1.6 -6.2M549.2 504.0 L535.0 508.7M535.0 508.7 l-4.0 -5.0M563.0 504.0 L548.3 501.2M550.1 501.6 l-0.5 -2.6M576.8 504.0 L562.5 508.4M562.5 508.4 l-3.9 -5.1M590.6 504.0 L575.8 506.3M577.6 506.0 l-1.4 -2.3M604.4 504.0 L590.0 499.8M591.7 500.3 l-0.3 -2.7M618.2 504.0 L605.0 496.9M605.0 496.9 l0.9 -6.3M632.0 504.0 L618.4 510.4M620.0 509.7 l-2.0 -1.8M645.7 504.0 L631.0 501.4M632.7 501.7 l-0.6 -2.6M659.5 504.0 L644.6 502.1M646.4 502.3 l-0.7 -2.6M673.3 504.0 L658.5 506.2M658.5 506.2 l-3.1 -5.6M687.1 504.0 L672.2 502.0M672.2 502.0 l-1.4 -6.2M700.9 504.0 L686.1 501.4M686.1 501.4 l-1.1 -6.3M714.7 504.0 L700.7 509.5M700.7 509.5 l-4.2 -4.8M728.5 504.0 L716.0 495.7M716.0 495.7 l1.5 -6.2M717.6 496.8 l1.5 -6.2M742.2 504.0 L728.8 510.7M728.8 510.7 l-4.6 -4.4M730.6 509.8 l-4.6 -4.4M732.4 508.9 l-2.0 -1.8M756.0 504.0 L741.0 503.1M741.0 503.1 l-1.8 -6.1M743.0 503.2 l-1.8 -6.1M745.0 503.4 l-1.8 -6.1M769.8 504.0 L754.9 505.2M754.9 505.2 l-2.7 -5.8M756.8 505.1 l-2.7 -5.8M758.8 504.9 l-2.7 -5.8M760.8 504.7 l-1.2 -2.4M783.6 504.0 L769.0 500.6M769.0 500.6 l-0.8 -6.3M770.9 501.0 l-0.8 -6.3M772.9 501.5 l-0.4 -2.7M797.4 504.0 L782.8 507.4M782.8 507.4 l-3.5 -5.4M784.7 506.9 l-3.5 -5.4M786.7 506.5 l-3.5 -5.4M788.6 506.0 l-3.5 -5.4M790.6 505.6 l-3.5 -5.4M811.2 504.0 L796.8 508.5M796.8 508.5 l-3.9 -5.1M798.7 507.9 l-3.9 -5.1M800.7 507.3 l-1.7 -2.1M824.9 504.0 L810.3 507.4M810.3 507.4 l-3.5 -5.4M812.3 506.9 l-3.5 -5.4M814.2 506.5 l-3.5 -5.4M838.7 504.0 L824.3 508.0M824.3 508.0 l-3.7 -5.2M53.0 521.1 L65.6 512.9M65.6 512.9 l5.1 3.9M63.9 514.0 l5.1 3.9M66.8 521.1 L79.3 512.8M79.3 512.8 l5.1 3.8M80.6 521.1 L94.9 516.7M93.2 517.2 l1.7 2.1M94.4 521.1 L108.7 516.7M108.7 516.7 l3.9 5.1M108.1 521.1 L123.1 520.0M123.1 520.0 l2.6 5.8M121.1 520.1 l1.2 2.4M121.9 521.1 L136.8 519.2M136.8 519.2 l2.9 5.7M134.8 519.4 l1.3 2.4M135.7 521.1 L150.6 519.7M150.6 519.7 l2.8 5.8M149.5 521.1 L161.4 512.0M161.4 512.0 l5.4 3.4M159.8 513.2 l2.3 1.4M163.3 521.1 L178.3 521.3M178.3 521.3 l2.1 6.0M177.1 521.1 L190.9 515.4M190.9 515.4 l4.3 4.7M190.8 521.1 L203.6 513.2M203.6 513.2 l5.0 3.9M201.9 514.2 l5.0 3.9M204.6 521.1 L218.5 515.3M218.5 515.3 l4.3 4.7M218.4 521.1 L233.1 518.0M233.1 518.0 l3.4 5.4M231.1 518.4 l1.5 2.2M232.2 521.1 L247.0 518.7M247.0 518.7 l3.1 5.6M245.0 519.0 l3.1 5.6M246.0 521.1 L258.6 513.0M258.6 513.0 l5.1 3.9M257.0 514.1 l2.2 1.6M259.8 521.1 L270.6 510.7M269.3 511.9 l2.5 1.1M273.6 521.1 L288.0 517.2M288.0 517.2 l3.7 5.2M286.1 517.7 l1.6 2.2M287.3 521.1 L298.9 511.6M298.9 511.6 l5.5 3.2M297.4 512.8 l5.5 3.2M295.9 514.1 l2.4 1.3M301.1 521.1 L314.8 514.8M314.8 514.8 l4.5 4.5M312.9 515.7 l4.5 4.5M311.1 516.5 l2.0 1.9M314.9 521.1 L325.7 510.7M325.7 510.7 l5.8 2.8M324.3 512.0 l2.5 1.1M328.7 521.1 L343.6 522.4M343.6 522.4 l1.7 6.2M341.6 522.2 l1.7 6.2M342.5 521.1 L354.1 511.6M354.1 511.6 l5.5 3.3M356.3 521.1 L369.1 513.3M369.1 513.3 l5.0 4.0M367.4 514.4 l2.1 1.6M370.0 521.1 L385.0 520.4M385.0 520.4 l2.5 5.9M383.8 521.1 L398.6 518.4M398.6 518.4 l3.2 5.5M396.6 518.8 l1.4 2.3M397.6 521.1 L411.6 515.7M411.6 515.7 l4.2 4.8M409.8 516.4 l1.8 2.0M411.4 521.1 L422.1 510.6M422.1 510.6 l5.8 2.7M420.7 512.0 l5.8 2.7M425.2 521.1 L437.4 512.3M437.4 512.3 l5.3 3.6M435.7 513.5 l5.3 3.6M434.1 514.7 l2.3 1.4M439.0 521.1 L453.6 518.0M453.6 518.0 l3.4 5.4M452.8 521.1 L465.8 513.7M465.8 513.7 l4.9 4.2M464.1 514.7 l2.1 1.7M466.5 521.1 L481.5 520.3M479.7 520.4 l1.1 2.4M480.3 521.1 L495.3 522.1M495.3 522.1 l1.8 6.1M494.1 521.1 L506.1 512.1M506.1 512.1 l5.4 3.5M504.5 513.3 l5.4 3.5M502.9 514.5 l5.4 3.5M501.3 515.7 l2.3 1.4M507.9 521.1 L521.2 514.1M521.2 514.1 l4.7 4.3M519.4 515.1 l4.7 4.3M517.6 516.0 l4.7 4.3M515.9 516.9 l2.0 1.8M521.7 521.1 L536.6 522.4M534.8 522.2 l0.8 2.6M535.5 521.1 L547.0 511.5M545.6 512.7 l2.4 1.3M549.2 521.1 L561.5 512.5M560.1 513.5 l2.3 1.5M563.0 521.1 L577.7 518.0M576.0 518.4 l1.5 2.2M576.8 521.1 L587.9 510.9M586.5 512.2 l2.4 1.2M590.6 521.1 L604.7 516.1M603.0 516.7 l1.8 2.0M604.4 521.1 L617.5 513.9M616.0 514.7 l2.1 1.7M618.2 521.1 L633.1 519.3M633.1 519.3 l2.9 5.7M631.1 519.6 l1.3 2.4M632.0 521.1 L646.9 520.6M645.2 520.6 l1.1 2.5M645.7 521.1 L658.2 512.7M656.7 513.7 l2.2 1.5M659.5 521.1 L674.3 518.5M672.5 518.8 l1.4 2.3M673.3 521.1 L688.0 518.1M688.0 518.1 l3.4 5.4M687.1 521.1 L702.1 520.5M700.3 520.6 l1.1 2.5M700.9 521.1 L715.8 519.2M714.0 519.5 l1.3 2.4M714.7 521.1 L728.5 515.2M728.5 515.2 l4.4 4.7M728.5 521.1 L741.4 513.5M741.4 513.5 l4.9 4.1M742.2 521.1 L755.2 513.5M755.2 513.5 l4.9 4.1M753.5 514.5 l2.1 1.7M756.0 521.1 L770.9 518.9M770.9 518.9 l3.1 5.6M768.9 519.2 l3.1 5.6M769.8 521.1 L784.8 521.9M784.8 521.9 l1.9 6.1M782.8 521.8 l0.9 2.6M783.6 521.1 L798.6 521.4M798.6 521.4 l2.1 6.0M797.4 521.1 L811.9 517.2M811.9 517.2 l3.7 5.2M811.2 521.1 L825.8 517.8M824.0 518.2 l1.5 2.2M824.9 521.1 L839.5 517.4M839.5 517.4 l3.6 5.3M838.7 521.1 L853.6 519.5M853.6 519.5 l2.8 5.7M851.7 519.7 l2.8 5.7M53.0 538.1 L64.4 528.4M64.4 528.4 l5.6 3.1M66.8 538.1 L81.7 536.6M81.7 536.6 l2.8 5.7M79.7 536.8 l1.3 2.4M80.6 538.1 L92.9 529.5M92.9 529.5 l5.2 3.7M94.4 538.1 L109.3 538.9M107.5 538.8 l0.9 2.5M108.1 538.1 L118.8 527.5M118.8 527.5 l5.8 2.7M121.9 538.1 L136.5 534.6M136.5 534.6 l3.6 5.3M134.6 535.0 l1.6 2.2M135.7 538.1 L148.6 530.5M148.6 530.5 l4.9 4.1M149.5 538.1 L160.1 527.5M160.1 527.5 l5.8 2.7M163.3 538.1 L177.8 534.2M177.8 534.2 l3.7 5.2M175.8 534.7 l3.7 5.2M177.1 538.1 L192.0 536.6M192.0 536.6 l2.8 5.7M190.0 536.8 l1.2 2.4M190.8 538.1 L205.3 534.1M205.3 534.1 l3.7 5.2M203.4 534.6 l3.7 5.2M204.6 538.1 L217.9 531.1M217.9 531.1 l4.7 4.3M216.1 532.1 l4.7 4.3M218.4 538.1 L231.8 531.4M231.8 531.4 l4.7 4.4M230.0 532.3 l4.7 4.4M232.2 538.1 L247.2 537.1M247.2 537.1 l2.6 5.8M246.0 538.1 L257.9 529.1M257.9 529.1 l5.4 3.5M256.4 530.3 l2.3 1.4M259.8 538.1 L274.2 534.0M274.2 534.0 l3.8 5.2M272.3 534.5 l1.6 2.1M273.6 538.1 L284.3 527.6M284.3 527.6 l5.8 2.7M287.3 538.1 L299.2 528.9M299.2 528.9 l5.4 3.4M301.1 538.1 L314.4 531.2M314.4 531.2 l4.7 4.3M314.9 538.1 L329.3 534.0M329.3 534.0 l3.8 5.2M327.4 534.5 l1.7 2.1M328.7 538.1 L343.4 535.1M343.4 535.1 l3.4 5.4M341.4 535.5 l3.4 5.4M342.5 538.1 L357.5 538.4M357.5 538.4 l2.1 6.0M355.5 538.4 l2.1 6.0M356.3 538.1 L371.2 539.1M371.2 539.1 l1.8 6.1M370.0 538.1 L383.4 531.4M383.4 531.4 l4.7 4.4M381.7 532.3 l2.0 1.8M383.8 538.1 L397.5 531.9M397.5 531.9 l4.5 4.5M397.6 538.1 L412.5 536.3M412.5 536.3 l2.9 5.7M410.5 536.5 l2.9 5.7M411.4 538.1 L422.4 527.9M422.4 527.9 l5.7 2.9M420.9 529.3 l2.4 1.2M425.2 538.1 L437.4 529.3M437.4 529.3 l5.3 3.6M435.7 530.5 l5.3 3.6M434.1 531.7 l5.3 3.6M439.0 538.1 L454.0 537.9M454.0 537.9 l2.3 6.0M452.0 537.9 l2.3 6.0M450.0 537.9 l2.3 6.0M452.8 538.1 L467.5 535.5M467.5 535.5 l3.2 5.5M465.6 535.8 l1.4 2.3M466.5 538.1 L481.4 536.1M481.4 536.1 l3.0 5.7M479.4 536.4 l1.3 2.3M480.3 538.1 L495.1 535.4M495.1 535.4 l3.2 5.5M493.1 535.8 l3.2 5.5M491.1 536.2 l3.2 5.5M494.1 538.1 L506.6 529.8M506.6 529.8 l5.2 3.8M507.9 538.1 L520.5 530.0M519.0 531.0 l2.2 1.6M521.7 538.1 L533.9 529.5M533.9 529.5 l5.3 3.6M535.5 538.1 L550.4 539.2M550.4 539.2 l1.8 6.1M548.4 539.0 l1.8 6.1M546.4 538.9 l1.8 6.1M549.2 538.1 L564.2 537.9M564.2 537.9 l2.3 6.0M562.2 537.9 l2.3 6.0M560.2 538.0 l2.3 6.0M558.2 538.0 l1.0 2.5M563.0 538.1 L578.0 537.3M578.0 537.3 l2.5 5.9M576.0 537.4 l2.5 5.9M576.8 538.1 L588.2 528.4M588.2 528.4 l5.6 3.1M586.7 529.7 l5.6 3.1M585.2 531.0 l5.6 3.1M583.7 532.3 l2.4 1.3M590.6 538.1 L603.0 529.6M603.0 529.6 l5.2 3.7M604.4 538.1 L619.4 537.2M619.4 537.2 l2.6 5.8M617.4 537.3 l1.2 2.4M618.2 538.1 L633.2 537.3M633.2 537.3 l2.5 5.9M631.2 537.5 l2.5 5.9M629.2 537.6 l2.5 5.9M632.0 538.1 L646.6 534.8M646.6 534.8 l3.5 5.4M644.6 535.3 l1.5 2.2M645.7 538.1 L660.4 534.8M660.4 534.8 l3.5 5.4M658.4 535.2 l3.5 5.4M656.5 535.7 l1.5 2.2M659.5 538.1 L674.5 539.2M674.5 539.2 l1.7 6.1M673.3 538.1 L688.1 535.9M688.1 535.9 l3.1 5.6M687.1 538.1 L701.7 534.9M701.7 534.9 l3.4 5.4M699.8 535.3 l1.5 2.2M700.9 538.1 L715.1 533.3M715.1 533.3 l4.0 5.0M713.2 533.9 l4.0 5.0M711.3 534.6 l4.0 5.0M714.7 538.1 L728.5 532.4M728.5 532.4 l4.3 4.7M728.5 538.1 L743.4 539.2M743.4 539.2 l1.8 6.1M742.2 538.1 L756.9 535.0M756.9 535.0 l3.4 5.4M754.9 535.4 l3.4 5.4M753.0 535.8 l1.5 2.2M756.0 538.1 L771.0 538.8M771.0 538.8 l1.9 6.1M769.0 538.7 l1.9 6.1M767.0 538.6 l0.9 2.5M769.8 538.1 L782.9 530.8M782.9 530.8 l4.9 4.1M781.1 531.7 l4.9 4.1M779.4 532.7 l4.9 4.1M783.6 538.1 L796.3 530.2M796.3 530.2 l5.1 3.9M794.6 531.2 l5.1 3.9M792.9 532.3 l2.2 1.6M797.4 538.1 L812.3 536.4M812.3 536.4 l2.9 5.7M810.3 536.6 l2.9 5.7M811.2 538.1 L825.4 533.3M825.4 533.3 l4.0 5.0M823.5 533.9 l1.8 2.0M824.9 538.1 L836.3 528.3M836.3 528.3 l5.6 3.1M834.8 529.6 l5.6 3.1M838.7 538.1 L853.7 539.3M851.9 539.1 l0.8 2.6M53.0 555.2 L67.3 550.8M65.6 551.3 l1.7 2.1M66.8 555.2 L81.4 551.6M79.6 552.0 l1.6 2.2M80.6 555.2 L93.9 548.3M93.9 548.3 l4.7 4.3M92.1 549.2 l2.0 1.8M94.4 555.2 L109.3 554.6M109.3 554.6 l2.4 5.9M107.3 554.7 l2.4 5.9M108.1 555.2 L119.4 545.2M119.4 545.2 l5.6 3.0M117.9 546.6 l2.4 1.2M121.9 555.2 L134.7 547.3M134.7 547.3 l5.0 3.9M135.7 555.2 L150.2 551.2M150.2 551.2 l3.7 5.2M148.2 551.7 l1.6 2.1M149.5 555.2 L163.9 551.0M163.9 551.0 l3.8 5.2M162.0 551.6 l1.7 2.1M163.3 555.2 L178.3 554.7M178.3 554.7 l2.4 5.9M176.3 554.8 l1.1 2.5M177.1 555.2 L192.0 556.1M192.0 556.1 l1.8 6.1M190.8 555.2 L205.4 551.6M205.4 551.6 l3.6 5.3M203.5 552.1 l1.6 2.2M204.6 555.2 L216.9 546.6M216.9 546.6 l5.2 3.7M218.4 555.2 L230.5 546.2M229.0 547.3 l2.3 1.4M232.2 555.2 L243.0 544.8M243.0 544.8 l5.7 2.8M241.6 546.2 l2.5 1.1M246.0 555.2 L258.3 546.6M258.3 546.6 l5.2 3.7M259.8 555.2 L274.7 553.6M274.7 553.6 l2.8 5.7M272.7 553.8 l1.3 2.4M273.6 555.2 L288.3 552.6M288.3 552.6 l3.2 5.5M287.3 555.2 L302.0 552.2M302.0 552.2 l3.3 5.5M300.1 552.6 l1.5 2.3M301.1 555.2 L315.0 549.4M315.0 549.4 l4.4 4.7M313.1 550.1 l1.9 1.9M314.9 555.2 L326.2 545.3M326.2 545.3 l5.6 3.0M324.7 546.6 l2.4 1.2M328.7 555.2 L340.5 546.0M340.5 546.0 l5.4 3.4M339.0 547.2 l2.3 1.4M342.5 555.2 L355.3 547.4M355.3 547.4 l5.0 4.0M353.6 548.5 l5.0 4.0M356.3 555.2 L371.3 555.0M371.3 555.0 l2.3 6.0M370.0 555.2 L385.0 554.2M385.0 554.2 l2.6 5.8M383.0 554.3 l1.2 2.4M383.8 555.2 L398.5 551.8M398.5 551.8 l3.5 5.4M397.6 555.2 L411.5 549.4M411.5 549.4 l4.3 4.7M411.4 555.2 L426.4 554.9M426.4 554.9 l2.3 6.0M424.4 554.9 l1.0 2.5M425.2 555.2 L439.5 550.7M439.5 550.7 l3.9 5.1M437.6 551.3 l3.9 5.1M435.7 551.9 l1.7 2.1M439.0 555.2 L453.3 550.8M453.3 550.8 l3.9 5.1M451.4 551.3 l3.9 5.1M449.5 551.9 l3.9 5.1M452.8 555.2 L465.7 547.6M465.7 547.6 l4.9 4.1M466.5 555.2 L479.1 547.0M479.1 547.0 l5.1 3.8M477.4 548.1 l5.1 3.8M480.3 555.2 L492.8 546.9M492.8 546.9 l5.2 3.8M494.1 555.2 L505.6 545.5M505.6 545.5 l5.5 3.2M507.9 555.2 L518.7 544.8M518.7 544.8 l5.7 2.8M521.7 555.2 L536.0 550.6M534.2 551.1 l1.7 2.1M535.5 555.2 L546.9 545.4M546.9 545.4 l5.6 3.1M549.2 555.2 L564.2 554.0M564.2 554.0 l2.7 5.8M562.2 554.2 l2.7 5.8M563.0 555.2 L578.0 554.1M578.0 554.1 l2.6 5.8M576.8 555.2 L590.8 549.7M589.1 550.3 l1.8 2.0M590.6 555.2 L601.9 545.3M601.9 545.3 l5.6 3.1M604.4 555.2 L618.9 551.2M618.9 551.2 l3.7 5.2M616.9 551.7 l1.6 2.1M618.2 555.2 L631.3 547.9M631.3 547.9 l4.8 4.2M632.0 555.2 L643.6 545.7M643.6 545.7 l5.5 3.3M642.1 547.0 l5.5 3.3M640.5 548.2 l5.5 3.3M645.7 555.2 L660.3 551.7M660.3 551.7 l3.5 5.3M658.4 552.2 l3.5 5.3M656.4 552.6 l3.5 5.3M654.5 553.1 l1.6 2.2M659.5 555.2 L674.3 552.8M674.3 552.8 l3.1 5.6M672.4 553.1 l1.4 2.3M673.3 555.2 L686.6 548.2M686.6 548.2 l4.7 4.3M684.8 549.1 l2.1 1.7M687.1 555.2 L699.4 546.6M699.4 546.6 l5.2 3.7M697.8 547.8 l2.2 1.5M700.9 555.2 L715.8 553.6M715.8 553.6 l2.8 5.7M713.8 553.8 l1.3 2.4M714.7 555.2 L726.6 546.1M726.6 546.1 l5.4 3.4M725.0 547.3 l2.3 1.4M728.5 555.2 L742.5 549.9M742.5 549.9 l4.2 4.8M740.6 550.6 l1.8 2.0M742.2 555.2 L755.8 548.7M755.8 548.7 l4.6 4.5M754.0 549.6 l4.6 4.5M752.2 550.4 l2.0 1.8M756.0 555.2 L770.8 552.3M770.8 552.3 l3.3 5.5M768.8 552.7 l3.3 5.5M766.8 553.1 l3.3 5.5M764.9 553.5 l3.3 5.5M762.9 553.9 l3.3 5.5M760.9 554.2 l3.3 5.5M769.8 555.2 L783.7 549.6M783.7 549.6 l4.3 4.8M781.9 550.3 l4.3 4.8M780.0 551.1 l4.3 4.8M778.2 551.8 l1.9 1.9M783.6 555.2 L798.5 553.8M798.5 553.8 l2.7 5.8M796.5 554.0 l1.2 2.4M797.4 555.2 L809.3 546.1M809.3 546.1 l5.4 3.4M807.7 547.3 l2.3 1.4M811.2 555.2 L823.7 547.0M823.7 547.0 l5.1 3.8M824.9 555.2 L838.4 548.5M838.4 548.5 l4.6 4.4M836.6 549.4 l4.6 4.4M838.7 555.2 L853.6 553.1M853.6 553.1 l3.0 5.6M851.6 553.4 l3.0 5.6M53.0 572.2 L68.0 573.3M68.0 573.3 l1.7 6.1M66.0 573.2 l0.8 2.6M66.8 572.2 L78.1 562.4M78.1 562.4 l5.6 3.1M76.6 563.7 l2.4 1.2M80.6 572.2 L95.6 572.0M95.6 572.0 l2.3 6.0M93.6 572.0 l1.0 2.5M94.4 572.2 L108.9 568.5M108.9 568.5 l3.6 5.3M106.9 569.0 l3.6 5.3M108.1 572.2 L121.1 564.7M121.1 564.7 l4.9 4.1M119.4 565.7 l4.9 4.1M121.9 572.2 L136.9 571.4M136.9 571.4 l2.5 5.9M134.9 571.5 l2.5 5.9M135.7 572.2 L147.7 563.2M147.7 563.2 l5.4 3.5M146.1 564.4 l5.4 3.5M149.5 572.2 L164.3 569.8M164.3 569.8 l3.1 5.6M162.3 570.1 l3.1 5.6M163.3 572.2 L176.3 564.7M176.3 564.7 l4.9 4.1M174.5 565.7 l4.9 4.1M177.1 572.2 L191.8 569.3M191.8 569.3 l3.3 5.5M189.8 569.7 l1.5 2.3M190.8 572.2 L205.3 568.2M205.3 568.2 l3.7 5.2M203.4 568.8 l1.6 2.1M204.6 572.2 L215.6 562.0M215.6 562.0 l5.7 2.9M218.4 572.2 L232.9 568.5M232.9 568.5 l3.6 5.3M231.0 569.0 l3.6 5.3M232.2 572.2 L247.1 570.7M247.1 570.7 l2.8 5.7M245.1 570.9 l1.2 2.4M246.0 572.2 L259.4 565.6M257.8 566.4 l2.0 1.8M259.8 572.2 L271.3 562.6M271.3 562.6 l5.5 3.2M269.8 563.9 l2.4 1.3M273.6 572.2 L288.2 568.9M288.2 568.9 l3.5 5.4M286.2 569.3 l1.5 2.2M287.3 572.2 L302.3 572.3M302.3 572.3 l2.2 6.0M301.1 572.2 L315.7 568.7M315.7 568.7 l3.6 5.3M314.9 572.2 L329.6 569.0M329.6 569.0 l3.5 5.4M327.6 569.4 l3.5 5.4M325.6 569.8 l1.5 2.2M328.7 572.2 L341.9 565.1M341.9 565.1 l4.8 4.2M340.1 566.0 l4.8 4.2M338.4 567.0 l4.8 4.2M336.6 567.9 l2.1 1.7M342.5 572.2 L357.3 569.8M357.3 569.8 l3.1 5.6M355.3 570.1 l3.1 5.6M353.3 570.4 l3.1 5.6M351.4 570.8 l1.4 2.3M356.3 572.2 L371.3 572.0M371.3 572.0 l2.3 6.0M370.0 572.2 L381.4 562.4M381.4 562.4 l5.6 3.1M383.8 572.2 L395.1 562.3M395.1 562.3 l5.6 3.0M393.6 563.6 l5.6 3.0M397.6 572.2 L411.1 565.6M411.1 565.6 l4.6 4.4M411.4 572.2 L426.4 572.5M426.4 572.5 l2.1 6.0M425.2 572.2 L439.9 569.2M439.9 569.2 l3.4 5.4M439.0 572.2 L453.9 570.4M453.9 570.4 l2.9 5.7M451.9 570.6 l1.3 2.4M452.8 572.2 L467.8 571.8M467.8 571.8 l2.4 5.9M466.5 572.2 L479.2 564.1M479.2 564.1 l5.1 3.9M480.3 572.2 L495.3 570.8M495.3 570.8 l2.8 5.8M493.3 571.0 l1.2 2.4M494.1 572.2 L509.1 572.8M507.3 572.8 l0.9 2.5M507.9 572.2 L522.6 569.0M522.6 569.0 l3.4 5.4M521.7 572.2 L533.8 563.3M533.8 563.3 l5.3 3.5M532.2 564.5 l2.3 1.4M535.5 572.2 L547.5 563.3M546.1 564.4 l2.3 1.4M549.2 572.2 L562.7 565.6M561.1 566.4 l2.0 1.8M563.0 572.2 L578.0 572.3M578.0 572.3 l2.2 6.0M576.8 572.2 L590.1 565.2M590.1 565.2 l4.8 4.3M590.6 572.2 L602.0 562.5M600.7 563.7 l2.4 1.3M604.4 572.2 L618.7 567.8M618.7 567.8 l3.9 5.1M618.2 572.2 L632.3 567.1M630.6 567.7 l1.8 2.0M632.0 572.2 L643.5 562.6M643.5 562.6 l5.5 3.2M641.9 563.9 l2.4 1.3M645.7 572.2 L658.4 564.2M658.4 564.2 l5.1 3.9M659.5 572.2 L671.6 563.3M671.6 563.3 l5.3 3.5M673.3 572.2 L688.1 569.7M686.3 570.0 l1.4 2.3M687.1 572.2 L700.4 565.2M698.8 566.1 l2.1 1.7M700.9 572.2 L712.2 562.3M710.8 563.5 l2.4 1.2M714.7 572.2 L729.5 569.9M729.5 569.9 l3.1 5.6M727.5 570.2 l1.4 2.3M728.5 572.2 L743.4 572.6M743.4 572.6 l2.0 6.1M741.4 572.6 l0.9 2.5M742.2 572.2 L757.2 573.5M757.2 573.5 l1.7 6.2M755.2 573.3 l1.7 6.2M753.2 573.1 l1.7 6.2M751.2 573.0 l0.8 2.6M756.0 572.2 L769.2 565.1M769.2 565.1 l4.8 4.3M767.5 566.1 l4.8 4.3M765.7 567.0 l4.8 4.3M769.8 572.2 L784.8 571.7M784.8 571.7 l2.4 5.9M783.6 572.2 L798.4 569.6M798.4 569.6 l3.2 5.5M796.4 569.9 l1.4 2.3M797.4 572.2 L809.9 563.9M809.9 563.9 l5.2 3.8M808.2 565.0 l5.2 3.8M811.2 572.2 L825.9 569.5M825.9 569.5 l3.2 5.5M823.9 569.9 l1.4 2.3M824.9 572.2 L838.9 566.8M838.9 566.8 l4.2 4.8M838.7 572.2 L853.4 569.3M853.4 569.3 l3.3 5.5M851.5 569.7 l3.3 5.5M53.0 589.3 L64.1 579.1M64.1 579.1 l5.7 2.9M62.6 580.5 l2.4 1.2M66.8 589.3 L77.4 578.7M77.4 578.7 l5.8 2.7M76.0 580.1 l2.5 1.1M80.6 589.3 L95.6 589.2M95.6 589.2 l2.2 6.0M93.6 589.2 l1.0 2.5M94.4 589.3 L109.1 586.4M109.1 586.4 l3.3 5.5M107.1 586.8 l3.3 5.5M108.1 589.3 L122.3 584.4M122.3 584.4 l4.0 5.0M121.9 589.3 L136.7 586.7M134.9 587.0 l1.4 2.3M135.7 589.3 L150.7 589.2M150.7 589.2 l2.2 6.0M149.5 589.3 L162.0 581.0M162.0 581.0 l5.1 3.8M163.3 589.3 L176.0 581.3M174.4 582.2 l2.2 1.6M177.1 589.3 L192.0 588.6M190.2 588.6 l1.1 2.4M190.8 589.3 L204.7 583.4M204.7 583.4 l4.4 4.7M204.6 589.3 L217.0 580.8M215.5 581.8 l2.2 1.5M218.4 589.3 L233.4 589.3M231.6 589.3 l1.0 2.5M232.2 589.3 L243.6 579.5M243.6 579.5 l5.6 3.1M246.0 589.3 L260.8 587.0M259.0 587.2 l1.4 2.3M259.8 589.3 L272.4 581.1M272.4 581.1 l5.1 3.8M270.7 582.2 l2.2 1.6M273.6 589.3 L288.3 586.7M288.3 586.7 l3.2 5.5M286.4 587.0 l3.2 5.5M287.3 589.3 L298.0 578.8M298.0 578.8 l5.8 2.7M296.6 580.2 l2.5 1.1M301.1 589.3 L314.0 581.6M314.0 581.6 l5.0 4.0M314.9 589.3 L329.9 589.3M329.9 589.3 l2.2 6.0M327.9 589.3 l1.0 2.5M328.7 589.3 L343.5 587.2M343.5 587.2 l3.0 5.6M341.6 587.5 l1.3 2.3M342.5 589.3 L357.0 585.5M357.0 585.5 l3.6 5.3M355.1 586.0 l1.6 2.2M356.3 589.3 L370.1 583.4M370.1 583.4 l4.4 4.7M370.0 589.3 L382.6 581.1M382.6 581.1 l5.1 3.8M381.0 582.2 l5.1 3.8M383.8 589.3 L398.0 584.3M398.0 584.3 l4.1 4.9M396.1 585.0 l1.8 2.0M397.6 589.3 L412.0 584.9M412.0 584.9 l3.9 5.1M411.4 589.3 L425.9 585.4M425.9 585.4 l3.7 5.2M425.2 589.3 L440.1 587.3M438.3 587.5 l1.3 2.3M439.0 589.3 L451.0 580.3M449.6 581.4 l2.3 1.4M452.8 589.3 L466.1 582.3M464.5 583.2 l2.0 1.8M466.5 589.3 L480.8 584.5M480.8 584.5 l4.0 5.0M478.9 585.2 l1.7 2.1M480.3 589.3 L491.2 578.9M489.9 580.2 l2.4 1.1M494.1 589.3 L509.0 587.5M509.0 587.5 l2.9 5.7M507.9 589.3 L521.7 583.5M520.1 584.2 l1.9 1.9M521.7 589.3 L533.0 579.5M533.0 579.5 l5.6 3.1M531.5 580.8 l2.4 1.2M535.5 589.3 L548.8 582.4M547.2 583.3 l2.0 1.8M549.2 589.3 L564.2 589.8M564.2 589.8 l2.0 6.1M562.2 589.7 l0.9 2.5M563.0 589.3 L578.0 589.0M576.2 589.0 l1.0 2.5M576.8 589.3 L588.0 579.3M586.7 580.5 l2.4 1.2M590.6 589.3 L605.1 585.4M605.1 585.4 l3.7 5.2M604.4 589.3 L619.2 586.6M619.2 586.6 l3.2 5.5M618.2 589.3 L632.1 583.6M632.1 583.6 l4.3 4.7M630.2 584.3 l1.9 1.9M632.0 589.3 L646.9 588.4M646.9 588.4 l2.5 5.9M645.7 589.3 L657.9 580.5M657.9 580.5 l5.3 3.6M659.5 589.3 L672.8 582.3M672.8 582.3 l4.7 4.3M673.3 589.3 L687.4 584.2M687.4 584.2 l4.1 4.9M687.1 589.3 L700.4 582.4M698.8 583.2 l2.0 1.8M700.9 589.3 L711.6 578.7M711.6 578.7 l5.8 2.7M714.7 589.3 L726.1 579.5M726.1 579.5 l5.6 3.1M724.5 580.8 l2.4 1.2M728.5 589.3 L743.4 588.4M743.4 588.4 l2.6 5.9M741.4 588.5 l1.2 2.4M742.2 589.3 L754.0 579.9M754.0 579.9 l5.5 3.3M756.0 589.3 L771.0 588.3M771.0 588.3 l2.6 5.8M769.0 588.4 l1.2 2.4M769.8 589.3 L784.8 589.4M783.0 589.4 l1.0 2.5M783.6 589.3 L797.9 584.8M796.2 585.4 l1.7 2.1M797.4 589.3 L810.4 581.8M810.4 581.8 l4.9 4.1M808.7 582.8 l4.9 4.1M811.2 589.3 L825.6 585.3M825.6 585.3 l3.7 5.2M823.7 585.8 l1.6 2.1M824.9 589.3 L839.7 586.5M839.7 586.5 l3.3 5.5M837.7 586.9 l1.4 2.3M838.7 589.3 L852.2 582.6M852.2 582.6 l4.6 4.4M850.4 583.5 l2.0 1.8M53.0 606.3 L62.6 617.8M62.6 617.8 l6.0 -2.2M61.3 616.3 l2.6 -0.8M66.8 606.3 L78.0 616.3M78.0 616.3 l5.6 -3.0M76.5 615.0 l2.4 -1.2M80.6 606.3 L93.8 613.4M93.8 613.4 l4.8 -4.2M92.0 612.5 l2.1 -1.7M94.4 606.3 L109.2 608.7M109.2 608.7 l3.1 -5.6M108.1 606.3 L121.4 613.3M121.4 613.3 l4.7 -4.3M119.7 612.3 l2.0 -1.8M121.9 606.3 L135.7 612.1M135.7 612.1 l4.4 -4.7M135.7 606.3 L150.6 608.0M148.8 607.8 l1.3 -2.4M149.5 606.3 L164.4 608.3M162.6 608.0 l1.3 -2.3M163.3 606.3 L177.0 612.3M177.0 612.3 l4.4 -4.6M177.1 606.3 L192.0 607.7M192.0 607.7 l2.7 -5.8M190.8 606.3 L204.9 611.6M204.9 611.6 l4.2 -4.8M204.6 606.3 L214.1 618.0M213.0 616.6 l2.6 -0.8M218.4 606.3 L230.7 614.9M229.2 613.9 l2.3 -1.5M232.2 606.3 L243.0 616.7M241.7 615.5 l2.5 -1.1M246.0 606.3 L255.2 618.2M255.2 618.2 l6.1 -1.9M259.8 606.3 L272.7 613.9M271.2 612.9 l2.1 -1.7M273.6 606.3 L288.3 609.3M286.5 608.9 l1.5 -2.3M287.3 606.3 L298.5 616.3M297.2 615.1 l2.4 -1.2M301.1 606.3 L314.1 613.9M312.5 613.0 l2.1 -1.6M314.9 606.3 L328.4 612.9M326.8 612.1 l2.0 -1.8M328.7 606.3 L342.8 611.3M342.8 611.3 l4.1 -4.9M340.9 610.7 l1.8 -2.0M342.5 606.3 L352.2 617.7M351.0 616.4 l2.6 -0.9M356.3 606.3 L367.4 616.4M367.4 616.4 l5.7 -3.0M370.0 606.3 L384.7 609.4M384.7 609.4 l3.4 -5.4M382.8 609.0 l3.4 -5.4M383.8 606.3 L394.3 617.1M393.0 615.8 l2.5 -1.0M397.6 606.3 L407.1 617.9M407.1 617.9 l6.0 -2.1M405.8 616.4 l2.6 -0.8M411.4 606.3 L423.7 614.9M423.7 614.9 l5.2 -3.7M425.2 606.3 L437.3 615.2M437.3 615.2 l5.3 -3.5M435.6 614.0 l2.3 -1.4M439.0 606.3 L450.6 615.8M450.6 615.8 l5.5 -3.3M449.1 614.5 l2.4 -1.3M452.8 606.3 L465.9 613.5M464.3 612.7 l2.1 -1.7M466.5 606.3 L475.9 618.1M475.9 618.1 l6.1 -2.0M474.6 616.5 l6.1 -2.0M480.3 606.3 L490.8 617.1M489.5 615.8 l2.5 -1.0M494.1 606.3 L508.1 611.8M506.4 611.2 l1.9 -2.0M507.9 606.3 L520.2 614.9M520.2 614.9 l5.2 -3.7M521.7 606.3 L535.9 611.2M534.2 610.6 l1.8 -2.0M535.5 606.3 L550.2 609.1M550.2 609.1 l3.3 -5.5M549.2 606.3 L563.0 612.3M563.0 612.3 l4.4 -4.6M561.2 611.5 l1.9 -1.9M563.0 606.3 L573.6 616.9M572.4 615.7 l2.5 -1.1M576.8 606.3 L589.6 614.2M588.1 613.2 l2.2 -1.6M590.6 606.3 L601.5 616.6M600.2 615.4 l2.4 -1.1M604.4 606.3 L617.1 614.3M617.1 614.3 l5.0 -3.9M618.2 606.3 L626.8 618.6M625.7 617.1 l2.6 -0.6M632.0 606.3 L642.1 617.4M642.1 617.4 l5.9 -2.4M640.7 615.9 l2.5 -1.0M645.7 606.3 L659.5 612.2M659.5 612.2 l4.4 -4.6M659.5 606.3 L674.4 608.6M674.4 608.6 l3.1 -5.6M673.3 606.3 L687.0 612.4M687.0 612.4 l4.4 -4.6M685.2 611.6 l1.9 -1.9M687.1 606.3 L700.3 613.5M700.3 613.5 l4.8 -4.2M698.5 612.6 l2.1 -1.7M700.9 606.3 L712.2 616.2M712.2 616.2 l5.6 -3.1M714.7 606.3 L725.5 616.7M724.2 615.5 l2.5 -1.1M728.5 606.3 L742.9 610.3M741.2 609.8 l1.6 -2.1M742.2 606.3 L756.5 611.1M756.5 611.1 l4.0 -5.0M756.0 606.3 L769.9 612.0M769.9 612.0 l4.3 -4.7M769.8 606.3 L781.6 615.6M781.6 615.6 l5.4 -3.4M780.0 614.4 l2.3 -1.3M783.6 606.3 L792.6 618.3M792.6 618.3 l6.1 -1.8M791.4 616.7 l6.1 -1.8M797.4 606.3 L808.4 616.5M808.4 616.5 l5.7 -2.9M811.2 606.3 L822.7 616.0M822.7 616.0 l5.5 -3.2M821.1 614.7 l5.5 -3.2M824.9 606.3 L839.8 608.6M839.8 608.6 l3.1 -5.6M838.7 606.3 L853.5 608.9M853.5 608.9 l3.2 -5.5M53.0 623.4 L66.1 630.8M64.5 629.9 l2.1 -1.7M66.8 623.4 L77.3 634.1M77.3 634.1 l5.8 -2.6M80.6 623.4 L89.4 635.5M89.4 635.5 l6.1 -1.7M94.4 623.4 L107.1 631.4M107.1 631.4 l5.1 -3.9M105.4 630.3 l2.2 -1.6M108.1 623.4 L119.5 633.2M119.5 633.2 l5.6 -3.1M121.9 623.4 L136.9 624.8M135.1 624.6 l1.2 -2.4M135.7 623.4 L149.5 629.3M149.5 629.3 l4.4 -4.6M147.6 628.5 l4.4 -4.6M149.5 623.4 L161.0 633.0M161.0 633.0 l5.5 -3.2M159.5 631.7 l5.5 -3.2M163.3 623.4 L174.7 633.1M174.7 633.1 l5.6 -3.1M173.2 631.8 l2.4 -1.3M177.1 623.4 L191.3 628.1M191.3 628.1 l4.0 -5.0M189.4 627.4 l1.7 -2.1M190.8 623.4 L201.1 634.3M201.1 634.3 l5.9 -2.5M204.6 623.4 L215.9 633.3M215.9 633.3 l5.6 -3.0M214.4 632.0 l5.6 -3.0M218.4 623.4 L228.9 634.1M228.9 634.1 l5.8 -2.6M227.5 632.6 l5.8 -2.6M232.2 623.4 L243.7 633.0M243.7 633.0 l5.5 -3.2M242.1 631.7 l2.4 -1.3M246.0 623.4 L258.2 632.1M258.2 632.1 l5.3 -3.6M259.8 623.4 L274.6 625.7M274.6 625.7 l3.1 -5.6M273.6 623.4 L288.0 627.4M288.0 627.4 l3.7 -5.2M286.1 626.9 l1.6 -2.1M287.3 623.4 L298.0 633.9M296.7 632.6 l2.5 -1.1M301.1 623.4 L311.3 634.4M310.1 633.0 l2.5 -1.0M314.9 623.4 L327.6 631.3M326.1 630.3 l2.2 -1.6M328.7 623.4 L337.4 635.6M336.3 634.1 l2.6 -0.6M342.5 623.4 L356.2 629.5M354.5 628.8 l1.9 -1.9M356.3 623.4 L370.7 627.6M370.7 627.6 l3.8 -5.1M368.7 627.0 l1.7 -2.1M370.0 623.4 L381.8 632.7M381.8 632.7 l5.4 -3.3M380.3 631.4 l5.4 -3.3M378.7 630.2 l2.3 -1.3M383.8 623.4 L397.1 630.4M397.1 630.4 l4.7 -4.3M395.3 629.4 l2.1 -1.7M397.6 623.4 L406.3 635.6M406.3 635.6 l6.2 -1.7M405.1 634.0 l2.6 -0.6M411.4 623.4 L425.0 629.7M425.0 629.7 l4.5 -4.5M425.2 623.4 L435.3 634.5M435.3 634.5 l5.9 -2.4M439.0 623.4 L453.9 625.0M453.9 625.0 l2.8 -5.7M451.9 624.8 l1.3 -2.4M452.8 623.4 L467.3 627.0M467.3 627.0 l3.6 -5.3M465.4 626.5 l1.6 -2.2M466.5 623.4 L475.5 635.4M475.5 635.4 l6.1 -1.8M474.3 633.8 l2.6 -0.7M480.3 623.4 L494.7 627.8M494.7 627.8 l3.9 -5.1M494.1 623.4 L508.8 626.3M507.1 625.9 l1.5 -2.3M507.9 623.4 L517.0 635.3M515.9 633.9 l2.6 -0.7M521.7 623.4 L532.0 634.3M530.7 633.0 l2.5 -1.0M535.5 623.4 L548.5 630.7M547.0 629.8 l2.1 -1.7M549.2 623.4 L562.9 629.6M562.9 629.6 l4.5 -4.5M563.0 623.4 L577.3 628.0M577.3 628.0 l3.9 -5.0M575.4 627.4 l1.7 -2.1M576.8 623.4 L590.9 628.4M590.9 628.4 l4.1 -4.9M589.1 627.8 l4.1 -4.9M590.6 623.4 L599.5 635.4M599.5 635.4 l6.1 -1.8M598.3 633.8 l2.6 -0.7M604.4 623.4 L619.1 626.2M619.1 626.2 l3.3 -5.5M617.2 625.8 l1.5 -2.3M618.2 623.4 L631.1 631.0M631.1 631.0 l5.0 -4.0M632.0 623.4 L641.4 635.1M641.4 635.1 l6.1 -2.0M640.1 633.5 l6.1 -2.0M645.7 623.4 L654.4 635.6M654.4 635.6 l6.2 -1.7M653.3 634.0 l2.6 -0.6M659.5 623.4 L673.6 628.6M671.9 628.0 l1.8 -2.0M673.3 623.4 L682.3 635.4M682.3 635.4 l6.1 -1.8M681.1 633.8 l2.6 -0.7M687.1 623.4 L695.9 635.5M695.9 635.5 l6.2 -1.7M700.9 623.4 L713.4 631.6M713.4 631.6 l5.1 -3.8M711.7 630.5 l2.2 -1.5M714.7 623.4 L728.4 629.4M728.4 629.4 l4.4 -4.6M728.5 623.4 L742.3 629.1M740.6 628.4 l1.9 -1.9M742.2 623.4 L752.7 634.1M752.7 634.1 l5.8 -2.6M751.3 632.6 l2.5 -1.0M756.0 623.4 L768.1 632.3M768.1 632.3 l5.3 -3.5M769.8 623.4 L784.6 625.7M784.6 625.7 l3.1 -5.6M783.6 623.4 L796.9 630.3M796.9 630.3 l4.7 -4.3M795.1 629.4 l2.0 -1.7M797.4 623.4 L812.1 626.0M812.1 626.0 l3.2 -5.5M810.2 625.6 l3.2 -5.5M811.2 623.4 L825.3 628.2M825.3 628.2 l4.0 -5.0M824.9 623.4 L837.3 631.9M837.3 631.9 l5.2 -3.7M835.6 630.8 l5.2 -3.7M838.7 623.4 L850.3 632.9M850.3 632.9 l5.5 -3.2M53.0 640.4 L66.2 647.5M66.2 647.5 l4.8 -4.3M66.8 640.4 L76.9 651.5M75.7 650.2 l2.5 -0.9M80.6 640.4 L92.8 649.1M92.8 649.1 l5.3 -3.6M94.4 640.4 L107.3 648.0M105.8 647.1 l2.1 -1.7M108.1 640.4 L119.7 650.0M118.3 648.9 l2.4 -1.3M121.9 640.4 L136.3 644.7M134.6 644.2 l1.7 -2.1M135.7 640.4 L145.0 652.2M145.0 652.2 l6.1 -2.0M143.8 650.6 l6.1 -2.0M149.5 640.4 L163.9 644.7M163.9 644.7 l3.8 -5.1M162.0 644.1 l1.7 -2.1M163.3 640.4 L177.4 645.5M177.4 645.5 l4.1 -4.9M175.5 644.8 l1.8 -2.0M177.1 640.4 L191.2 645.4M191.2 645.4 l4.1 -4.9M189.3 644.7 l1.8 -2.0M190.8 640.4 L203.7 648.1M203.7 648.1 l5.0 -4.0M202.0 647.1 l2.1 -1.6M204.6 640.4 L218.4 646.5M218.4 646.5 l4.4 -4.6M216.5 645.7 l4.4 -4.6M214.7 644.8 l4.4 -4.6M218.4 640.4 L229.7 650.3M229.7 650.3 l5.6 -3.1M228.2 649.0 l5.6 -3.1M226.7 647.7 l5.6 -3.1M232.2 640.4 L246.0 646.3M246.0 646.3 l4.4 -4.7M244.2 645.5 l4.4 -4.7M242.3 644.7 l1.9 -1.9M246.0 640.4 L259.8 646.2M259.8 646.2 l4.3 -4.7M258.0 645.4 l1.9 -1.9M259.8 640.4 L274.1 645.0M274.1 645.0 l3.9 -5.0M273.6 640.4 L282.5 652.5M282.5 652.5 l6.1 -1.8M281.3 650.9 l6.1 -1.8M287.3 640.4 L302.0 643.6M302.0 643.6 l3.4 -5.4M301.1 640.4 L311.2 651.5M310.0 650.2 l2.5 -0.9M314.9 640.4 L329.0 645.6M327.3 645.0 l1.8 -2.0M328.7 640.4 L339.3 651.0M338.1 649.7 l2.5 -1.1M342.5 640.4 L357.4 642.3M357.4 642.3 l2.9 -5.7M356.3 640.4 L370.2 646.0M368.5 645.3 l1.9 -2.0M370.0 640.4 L379.2 652.3M379.2 652.3 l6.1 -1.9M378.0 650.7 l2.6 -0.7M383.8 640.4 L395.9 649.4M395.9 649.4 l5.4 -3.5M397.6 640.4 L406.7 652.3M406.7 652.3 l6.1 -1.9M405.5 650.8 l2.6 -0.7M411.4 640.4 L421.1 651.9M421.1 651.9 l6.0 -2.2M419.8 650.4 l2.6 -0.8M425.2 640.4 L437.1 649.5M437.1 649.5 l5.4 -3.4M435.5 648.3 l5.4 -3.4M439.0 640.4 L452.9 646.0M452.9 646.0 l4.3 -4.7M451.0 645.3 l1.9 -1.9M452.8 640.4 L465.9 647.6M465.9 647.6 l4.8 -4.2M464.2 646.6 l4.8 -4.2M462.4 645.7 l4.8 -4.2M466.5 640.4 L480.2 646.6M480.2 646.6 l4.5 -4.6M478.4 645.8 l4.5 -4.6M476.6 645.0 l4.5 -4.6M480.3 640.4 L492.6 649.0M491.2 648.0 l2.3 -1.5M494.1 640.4 L502.7 652.7M501.7 651.2 l2.6 -0.6M507.9 640.4 L522.3 644.6M520.6 644.1 l1.7 -2.1M521.7 640.4 L535.7 645.6M535.7 645.6 l4.1 -4.9M535.5 640.4 L546.0 651.1M544.7 649.8 l2.5 -1.0M549.2 640.4 L564.1 642.6M562.3 642.3 l1.3 -2.3M563.0 640.4 L574.4 650.2M574.4 650.2 l5.6 -3.1M572.9 648.9 l2.4 -1.2M576.8 640.4 L587.5 651.0M587.5 651.0 l5.8 -2.7M586.1 649.6 l2.5 -1.1M590.6 640.4 L601.1 651.2M601.1 651.2 l5.8 -2.6M599.7 649.7 l5.8 -2.6M598.3 648.3 l5.8 -2.6M596.9 646.9 l2.5 -1.0M604.4 640.4 L615.6 650.4M615.6 650.4 l5.6 -3.0M614.1 649.0 l5.6 -3.0M612.6 647.7 l5.6 -3.0M618.2 640.4 L627.2 652.4M627.2 652.4 l6.1 -1.9M626.0 650.8 l6.1 -1.9M624.8 649.2 l6.1 -1.9M632.0 640.4 L644.2 649.0M644.2 649.0 l5.2 -3.7M642.6 647.9 l2.3 -1.5M645.7 640.4 L656.1 651.2M656.1 651.2 l5.8 -2.6M654.8 649.8 l5.8 -2.6M659.5 640.4 L674.2 643.3M674.2 643.3 l3.3 -5.5M672.3 642.9 l1.5 -2.3M673.3 640.4 L688.1 642.8M688.1 642.8 l3.1 -5.6M686.2 642.4 l1.4 -2.3M687.1 640.4 L696.9 651.8M696.9 651.8 l6.0 -2.3M695.6 650.2 l2.5 -0.9M700.9 640.4 L715.8 642.3M714.0 642.1 l1.3 -2.4M714.7 640.4 L724.4 651.8M724.4 651.8 l6.0 -2.2M728.5 640.4 L741.1 648.5M741.1 648.5 l5.1 -3.9M739.4 647.4 l5.1 -3.9M737.7 646.3 l5.1 -3.9M736.0 645.2 l2.2 -1.6M742.2 640.4 L756.9 643.6M756.9 643.6 l3.4 -5.4M754.9 643.1 l3.4 -5.4M753.0 642.7 l3.4 -5.4M756.0 640.4 L768.8 648.3M768.8 648.3 l5.0 -3.9M767.1 647.3 l5.0 -3.9M765.4 646.2 l5.0 -3.9M763.7 645.2 l2.2 -1.6M769.8 640.4 L784.1 645.0M784.1 645.0 l3.9 -5.0M783.6 640.4 L795.2 649.9M795.2 649.9 l5.5 -3.3M793.7 648.6 l5.5 -3.3M792.1 647.3 l5.5 -3.3M797.4 640.4 L810.4 647.9M810.4 647.9 l4.9 -4.1M808.7 646.9 l2.1 -1.7M811.2 640.4 L825.0 646.2M825.0 646.2 l4.3 -4.7M824.9 640.4 L839.7 642.9M839.7 642.9 l3.2 -5.6M837.8 642.6 l1.4 -2.3M838.7 640.4 L852.0 647.4M852.0 647.4 l4.7 -4.3M53.0 657.5 L67.2 662.2M67.2 662.2 l4.0 -5.0M66.8 657.5 L79.4 665.6M79.4 665.6 l5.1 -3.8M77.7 664.5 l2.2 -1.6M80.6 657.5 L95.4 659.7M95.4 659.7 l3.1 -5.6M93.4 659.4 l1.4 -2.3M94.4 657.5 L108.9 661.1M108.9 661.1 l3.6 -5.3M108.1 657.5 L118.1 668.7M118.1 668.7 l6.0 -2.3M116.7 667.2 l2.5 -0.9M121.9 657.5 L136.6 660.5M136.6 660.5 l3.4 -5.4M134.7 660.1 l3.4 -5.4M132.7 659.7 l1.5 -2.2M135.7 657.5 L144.8 669.4M143.7 668.0 l2.6 -0.7M149.5 657.5 L162.2 665.5M162.2 665.5 l5.1 -3.9M163.3 657.5 L174.6 667.3M174.6 667.3 l5.6 -3.1M177.1 657.5 L188.0 667.7M188.0 667.7 l5.7 -2.9M186.5 666.4 l2.4 -1.1M190.8 657.5 L204.2 664.2M204.2 664.2 l4.7 -4.4M202.5 663.3 l2.0 -1.8M204.6 657.5 L219.5 659.4M219.5 659.4 l2.9 -5.7M218.4 657.5 L232.2 663.5M232.2 663.5 l4.4 -4.6M230.3 662.7 l4.4 -4.6M228.5 661.9 l1.9 -1.9M232.2 657.5 L244.4 666.3M244.4 666.3 l5.3 -3.6M246.0 657.5 L255.8 668.8M255.8 668.8 l6.0 -2.3M254.5 667.3 l6.0 -2.3M259.8 657.5 L269.9 668.6M269.9 668.6 l5.9 -2.4M273.6 657.5 L285.3 666.8M285.3 666.8 l5.5 -3.3M283.7 665.6 l5.5 -3.3M287.3 657.5 L299.3 666.5M299.3 666.5 l5.4 -3.5M297.7 665.3 l2.3 -1.4M301.1 657.5 L315.7 661.2M313.9 660.7 l1.6 -2.2M314.9 657.5 L326.6 666.9M326.6 666.9 l5.5 -3.3M328.7 657.5 L342.5 663.4M342.5 663.4 l4.4 -4.6M340.6 662.6 l1.9 -1.9M342.5 657.5 L355.0 665.7M355.0 665.7 l5.1 -3.8M353.3 664.6 l2.2 -1.5M356.3 657.5 L369.7 664.1M368.1 663.3 l2.0 -1.8M370.0 657.5 L383.0 665.0M383.0 665.0 l4.9 -4.1M383.8 657.5 L397.9 662.6M397.9 662.6 l4.1 -4.9M396.0 661.9 l1.8 -2.0M397.6 657.5 L409.8 666.2M409.8 666.2 l5.3 -3.6M408.2 665.0 l2.3 -1.5M411.4 657.5 L420.6 669.3M420.6 669.3 l6.1 -1.9M419.3 667.8 l2.6 -0.7M425.2 657.5 L437.7 665.7M437.7 665.7 l5.1 -3.8M436.1 664.6 l2.2 -1.5M439.0 657.5 L452.0 664.9M452.0 664.9 l4.9 -4.1M450.3 663.9 l2.1 -1.7M452.8 657.5 L467.3 661.3M467.3 661.3 l3.7 -5.2M465.3 660.8 l3.7 -5.2M463.4 660.3 l1.6 -2.2M466.5 657.5 L481.2 660.7M481.2 660.7 l3.4 -5.4M479.2 660.3 l3.4 -5.4M477.3 659.8 l3.4 -5.4M475.3 659.4 l1.5 -2.2M480.3 657.5 L494.8 661.3M493.1 660.8 l1.6 -2.2M494.1 657.5 L504.8 668.0M503.5 666.7 l2.5 -1.1M507.9 657.5 L518.0 668.6M516.8 667.2 l2.5 -0.9M521.7 657.5 L533.4 666.8M533.4 666.8 l5.5 -3.3M535.5 657.5 L545.3 668.8M544.1 667.5 l2.5 -0.9M549.2 657.5 L563.9 660.9M562.1 660.5 l1.5 -2.2M563.0 657.5 L576.0 665.1M576.0 665.1 l4.9 -4.1M574.2 664.1 l2.1 -1.6M576.8 657.5 L591.5 660.3M591.5 660.3 l3.3 -5.5M590.6 657.5 L605.3 660.5M605.3 660.5 l3.4 -5.4M603.3 660.1 l3.4 -5.4M601.4 659.7 l3.4 -5.4M604.4 657.5 L615.7 667.3M615.7 667.3 l5.6 -3.1M614.2 666.0 l5.6 -3.1M612.7 664.6 l5.6 -3.1M611.2 663.3 l2.4 -1.2M618.2 657.5 L632.9 660.3M632.9 660.3 l3.3 -5.5M630.9 659.9 l3.3 -5.5M629.0 659.5 l3.3 -5.5M627.0 659.2 l1.5 -2.3M632.0 657.5 L642.2 668.4M642.2 668.4 l5.9 -2.5M640.9 666.9 l5.9 -2.5M645.7 657.5 L658.9 664.8M658.9 664.8 l4.8 -4.2M657.1 663.8 l2.1 -1.7M659.5 657.5 L672.2 665.4M670.7 664.5 l2.2 -1.6M673.3 657.5 L684.7 667.2M684.7 667.2 l5.6 -3.1M687.1 657.5 L698.4 667.4M698.4 667.4 l5.6 -3.1M700.9 657.5 L711.1 668.5M711.1 668.5 l5.9 -2.5M714.7 657.5 L729.5 659.8M729.5 659.8 l3.1 -5.6M728.5 657.5 L742.3 663.3M742.3 663.3 l4.4 -4.7M740.4 662.5 l4.4 -4.7M742.2 657.5 L755.0 665.3M755.0 665.3 l5.0 -4.0M753.3 664.3 l5.0 -4.0M751.6 663.2 l5.0 -4.0M756.0 657.5 L769.8 663.3M769.8 663.3 l4.4 -4.7M768.0 662.6 l4.4 -4.7M766.1 661.8 l4.4 -4.7M764.3 661.0 l1.9 -1.9M769.8 657.5 L781.2 667.3M781.2 667.3 l5.6 -3.1M783.6 657.5 L796.9 664.3M796.9 664.3 l4.7 -4.3M795.1 663.4 l4.7 -4.3M793.4 662.5 l2.0 -1.8M797.4 657.5 L812.0 660.6M812.0 660.6 l3.4 -5.4M810.1 660.2 l3.4 -5.4M811.2 657.5 L824.4 664.5M824.4 664.5 l4.8 -4.3M824.9 657.5 L839.9 659.1M839.9 659.1 l2.9 -5.7M838.7 657.5 L848.5 668.8M848.5 668.8 l6.0 -2.3M847.2 667.3 l2.5 -0.9M53.0 674.5 L67.2 679.2M65.5 678.7 l1.7 -2.1M66.8 674.5 L75.8 686.5M75.8 686.5 l6.1 -1.9M80.6 674.5 L94.0 681.1M94.0 681.1 l4.6 -4.4M94.4 674.5 L109.3 675.9M109.3 675.9 l2.8 -5.8M108.1 674.5 L121.7 681.0M120.0 680.2 l2.0 -1.8M121.9 674.5 L136.2 679.2M136.2 679.2 l4.0 -5.0M135.7 674.5 L150.0 679.1M150.0 679.1 l3.9 -5.0M149.5 674.5 L162.4 682.2M160.8 681.3 l2.1 -1.6M163.3 674.5 L177.0 680.5M175.4 679.8 l1.9 -1.9M177.1 674.5 L191.6 678.2M191.6 678.2 l3.6 -5.3M190.8 674.5 L205.8 676.2M205.8 676.2 l2.9 -5.7M204.6 674.5 L217.4 682.4M215.9 681.5 l2.2 -1.6M218.4 674.5 L233.3 676.4M231.5 676.2 l1.3 -2.4M232.2 674.5 L243.6 684.2M243.6 684.2 l5.6 -3.1M242.1 682.9 l2.4 -1.3M246.0 674.5 L259.3 681.4M259.3 681.4 l4.7 -4.3M257.5 680.5 l4.7 -4.3M259.8 674.5 L273.0 681.7M273.0 681.7 l4.8 -4.2M273.6 674.5 L286.7 681.8M286.7 681.8 l4.8 -4.2M287.3 674.5 L302.0 677.7M302.0 677.7 l3.4 -5.4M300.0 677.3 l3.4 -5.4M298.1 676.9 l1.5 -2.2M301.1 674.5 L313.7 682.8M312.1 681.8 l2.2 -1.5M314.9 674.5 L325.3 685.3M325.3 685.3 l5.9 -2.6M323.9 683.9 l5.9 -2.6M322.5 682.4 l5.9 -2.6M328.7 674.5 L343.5 677.2M343.5 677.2 l3.2 -5.5M341.5 676.8 l3.2 -5.5M339.5 676.5 l3.2 -5.5M337.6 676.1 l1.4 -2.3M342.5 674.5 L355.7 681.6M355.7 681.6 l4.8 -4.3M354.0 680.6 l4.8 -4.3M356.3 674.5 L370.1 680.4M370.1 680.4 l4.4 -4.7M368.2 679.6 l4.4 -4.7M366.4 678.8 l4.4 -4.7M370.0 674.5 L383.8 680.5M383.8 680.5 l4.4 -4.6M382.0 679.7 l4.4 -4.6M380.2 678.9 l4.4 -4.6M383.8 674.5 L398.8 675.9M398.8 675.9 l2.7 -5.8M396.8 675.7 l2.7 -5.8M397.6 674.5 L411.7 679.7M411.7 679.7 l4.1 -4.9M409.8 679.0 l4.1 -4.9M407.9 678.3 l1.8 -2.0M411.4 674.5 L426.3 676.0M426.3 676.0 l2.8 -5.8M425.2 674.5 L437.5 683.1M437.5 683.1 l5.2 -3.7M435.8 682.0 l2.3 -1.5M439.0 674.5 L452.7 680.6M452.7 680.6 l4.4 -4.6M450.9 679.8 l1.9 -1.9M452.8 674.5 L465.7 682.2M465.7 682.2 l5.0 -4.0M466.5 674.5 L476.8 685.4M476.8 685.4 l5.9 -2.5M480.3 674.5 L493.7 681.2M493.7 681.2 l4.6 -4.4M494.1 674.5 L505.5 684.3M504.1 683.2 l2.4 -1.2M507.9 674.5 L521.9 679.8M521.9 679.8 l4.2 -4.8M521.7 674.5 L534.3 682.6M534.3 682.6 l5.1 -3.8M532.6 681.6 l5.1 -3.8M530.9 680.5 l5.1 -3.8M529.2 679.4 l2.2 -1.6M535.5 674.5 L550.3 676.5M550.3 676.5 l3.0 -5.7M548.3 676.2 l1.3 -2.3M549.2 674.5 L563.2 680.1M563.2 680.1 l4.3 -4.7M561.3 679.4 l4.3 -4.7M563.0 674.5 L577.8 677.4M577.8 677.4 l3.3 -5.5M575.8 677.0 l1.5 -2.3M576.8 674.5 L587.9 684.6M587.9 684.6 l5.7 -2.9M586.4 683.3 l5.7 -2.9M584.9 681.9 l2.4 -1.2M590.6 674.5 L600.2 686.0M600.2 686.0 l6.0 -2.1M598.9 684.5 l2.6 -0.8M604.4 674.5 L618.9 678.4M618.9 678.4 l3.7 -5.2M617.0 677.8 l1.6 -2.2M618.2 674.5 L632.0 680.4M632.0 680.4 l4.4 -4.7M630.1 679.6 l4.4 -4.7M632.0 674.5 L643.2 684.4M641.9 683.2 l2.4 -1.2M645.7 674.5 L660.3 677.9M660.3 677.9 l3.5 -5.3M658.4 677.5 l1.5 -2.2M659.5 674.5 L671.7 683.3M671.7 683.3 l5.3 -3.6M673.3 674.5 L687.7 678.9M687.7 678.9 l3.8 -5.1M687.1 674.5 L696.0 686.6M694.9 685.1 l2.6 -0.7M700.9 674.5 L710.3 686.1M710.3 686.1 l6.0 -2.1M714.7 674.5 L725.3 685.1M725.3 685.1 l5.8 -2.7M728.5 674.5 L741.9 681.2M741.9 681.2 l4.6 -4.4M742.2 674.5 L756.1 680.3M756.1 680.3 l4.4 -4.7M756.0 674.5 L766.0 685.7M764.8 684.4 l2.5 -0.9M769.8 674.5 L784.6 676.8M782.9 676.5 l1.4 -2.3M783.6 674.5 L794.1 685.2M792.9 683.9 l2.5 -1.0M797.4 674.5 L806.1 686.7M806.1 686.7 l6.2 -1.7M811.2 674.5 L823.8 682.7M822.2 681.7 l2.2 -1.6M824.9 674.5 L839.0 679.9M837.3 679.2 l1.8 -2.0M838.7 674.5 L850.3 684.1M848.9 682.9 l2.4 -1.3M53.0 691.6 L38.1 693.4M38.1 693.4 l-1.5 6.2M40.1 693.1 l-1.5 6.2M42.1 692.9 l-1.5 6.2M66.8 691.6 L52.9 686.0M52.9 686.0 l-4.3 4.7M54.7 686.7 l-4.3 4.7M56.6 687.5 l-1.9 1.9M80.6 691.6 L66.7 685.8M66.7 685.8 l-4.3 4.7M68.6 686.6 l-4.3 4.7M70.4 687.4 l-4.3 4.7M72.2 688.1 l-1.9 1.9M94.4 691.6 L79.9 695.6M79.9 695.6 l-0.5 6.4M81.8 695.1 l-0.5 6.4M83.8 694.5 l-0.3 2.7M108.1 691.6 L93.7 687.5M93.7 687.5 l-3.7 5.2M121.9 691.6 L107.6 687.1M109.3 687.7 l-1.7 2.1M135.7 691.6 L121.0 694.3M122.7 694.0 l-0.5 2.6M149.5 691.6 L135.1 687.2M135.1 687.2 l-3.9 5.1M163.3 691.6 L148.7 688.2M148.7 688.2 l-3.5 5.4M150.6 688.7 l-3.5 5.4M152.6 689.1 l-1.5 2.2M177.1 691.6 L162.1 692.1M163.9 692.0 l-0.9 2.5M190.8 691.6 L176.3 687.9M176.3 687.9 l-3.6 5.3M204.6 691.6 L192.2 683.1M192.2 683.1 l-5.2 3.7M193.9 684.3 l-2.2 1.5M218.4 691.6 L204.8 685.3M204.8 685.3 l-4.5 4.5M206.6 686.2 l-4.5 4.5M208.4 687.0 l-4.5 4.5M232.2 691.6 L217.2 691.3M217.2 691.3 l-2.3 6.0M219.2 691.3 l-2.3 6.0M221.2 691.4 l-2.3 6.0M246.0 691.6 L232.5 685.0M232.5 685.0 l-4.6 4.4M234.3 685.9 l-4.6 4.4M236.1 686.8 l-2.0 1.8M259.8 691.6 L246.5 684.5M246.5 684.5 l-4.8 4.3M248.3 685.5 l-4.8 4.3M250.1 686.4 l-2.1 1.7M273.6 691.6 L261.3 683.0M261.3 683.0 l-5.2 3.7M262.9 684.1 l-2.3 1.5M287.3 691.6 L273.4 697.2M275.1 696.5 l0.0 2.7M301.1 691.6 L286.3 689.2M288.1 689.5 l-1.4 2.3M314.9 691.6 L301.5 684.9M301.5 684.9 l-4.6 4.4M303.3 685.8 l-2.0 1.8M328.7 691.6 L315.0 685.5M315.0 685.5 l-4.4 4.6M316.8 686.3 l-4.4 4.6M318.6 687.1 l-1.9 1.9M342.5 691.6 L327.7 689.2M327.7 689.2 l-3.1 5.6M329.6 689.5 l-3.1 5.6M331.6 689.8 l-3.1 5.6M333.6 690.1 l-1.4 2.3M356.3 691.6 L341.4 689.5M341.4 689.5 l-3.0 5.6M343.4 689.8 l-1.3 2.3M370.0 691.6 L355.6 695.4M355.6 695.4 l-0.6 6.4M357.5 694.9 l-0.6 6.4M359.4 694.4 l-0.6 6.4M383.8 691.6 L369.0 693.6M370.8 693.4 l-0.6 2.6M397.6 691.6 L382.6 692.4M382.6 692.4 l-1.9 6.1M384.6 692.3 l-0.9 2.6M411.4 691.6 L396.5 693.5M396.5 693.5 l-1.4 6.2M425.2 691.6 L410.2 692.9M410.2 692.9 l-1.7 6.2M412.2 692.7 l-1.7 6.2M414.2 692.5 l-0.8 2.6M439.0 691.6 L424.0 690.1M424.0 690.1 l-2.8 5.8M426.0 690.3 l-2.8 5.8M428.0 690.5 l-1.2 2.4M452.8 691.6 L438.3 687.7M438.3 687.7 l-3.7 5.2M440.2 688.2 l-3.7 5.2M442.1 688.7 l-3.7 5.2M466.5 691.6 L451.6 692.6M451.6 692.6 l-1.8 6.1M480.3 691.6 L465.9 687.5M467.6 688.0 l-1.6 2.1M494.1 691.6 L481.2 683.9M481.2 683.9 l-5.0 4.0M482.9 684.9 l-5.0 4.0M507.9 691.6 L493.0 690.2M493.0 690.2 l-2.7 5.8M494.9 690.4 l-2.7 5.8M496.9 690.6 l-2.7 5.8M521.7 691.6 L507.9 685.7M509.5 686.4 l-1.9 1.9M535.5 691.6 L521.1 695.8M521.1 695.8 l-0.4 6.4M523.0 695.2 l-0.4 6.4M524.9 694.7 l-0.3 2.7M549.2 691.6 L535.7 697.9M535.7 697.9 l0.5 6.4M537.5 697.1 l0.5 6.4M539.3 696.2 l0.1 2.7M563.0 691.6 L549.1 697.1M549.1 697.1 l0.2 6.4M550.9 696.3 l-0.0 2.7M576.8 691.6 L561.8 691.4M561.8 691.4 l-2.3 6.0M563.8 691.4 l-2.3 6.0M590.6 691.6 L576.8 697.3M578.4 696.6 l0.0 2.7M604.4 691.6 L590.1 686.9M590.1 686.9 l-4.0 5.0M592.0 687.5 l-1.7 2.1M618.2 691.6 L603.3 693.5M603.3 693.5 l-1.4 6.2M605.3 693.2 l-1.4 6.2M632.0 691.6 L617.0 692.9M617.0 692.9 l-1.7 6.2M619.0 692.7 l-1.7 6.2M621.0 692.5 l-1.7 6.2M645.7 691.6 L632.1 697.7M632.1 697.7 l0.5 6.4M633.9 696.9 l0.5 6.4M635.7 696.1 l0.5 6.4M659.5 691.6 L644.8 694.5M644.8 694.5 l-1.0 6.3M646.8 694.1 l-1.0 6.3M648.7 693.7 l-1.0 6.3M650.7 693.3 l-0.5 2.6M673.3 691.6 L659.7 685.2M659.7 685.2 l-4.5 4.5M661.5 686.1 l-4.5 4.5M663.3 686.9 l-4.5 4.5M687.1 691.6 L672.1 692.6M672.1 692.6 l-1.8 6.1M674.1 692.4 l-1.8 6.1M676.1 692.3 l-0.8 2.6M700.9 691.6 L685.9 691.8M685.9 691.8 l-2.1 6.0M687.9 691.8 l-2.1 6.0M714.7 691.6 L700.3 687.1M700.3 687.1 l-3.9 5.1M702.3 687.7 l-3.9 5.1M728.5 691.6 L713.5 691.8M715.3 691.8 l-1.0 2.5M742.2 691.6 L727.3 690.7M729.1 690.8 l-1.1 2.4M756.0 691.6 L741.1 693.5M741.1 693.5 l-1.4 6.2M769.8 691.6 L754.8 692.2M754.8 692.2 l-1.9 6.1M783.6 691.6 L769.5 696.8M769.5 696.8 l0.0 6.4M771.4 696.1 l0.0 6.4M797.4 691.6 L782.6 694.2M782.6 694.2 l-1.1 6.3M784.6 693.8 l-0.5 2.6M811.2 691.6 L797.1 686.3M797.1 686.3 l-4.2 4.8M824.9 691.6 L810.5 687.6M810.5 687.6 l-3.7 5.2M812.4 688.1 l-1.6 2.1M838.7 691.6 L823.8 693.4M823.8 693.4 l-1.4 6.2M825.8 693.2 l-1.4 6.2M827.8 692.9 l-1.4 6.2M53.0 708.6 L39.2 702.8M39.2 702.8 l-4.3 4.7M41.0 703.6 l-4.3 4.7M42.9 704.4 l-4.3 4.7M44.7 705.1 l-1.9 1.9M66.8 708.6 L52.0 711.1M52.0 711.1 l-1.2 6.3M54.0 710.8 l-1.2 6.3M55.9 710.4 l-0.6 2.6M80.6 708.6 L66.6 703.2M66.6 703.2 l-4.2 4.8M68.5 703.9 l-4.2 4.8M70.3 704.6 l-4.2 4.8M72.2 705.3 l-1.8 2.0M94.4 708.6 L79.4 708.8M79.4 708.8 l-2.1 6.0M81.4 708.8 l-2.1 6.0M83.4 708.7 l-2.1 6.0M85.4 708.7 l-2.1 6.0M87.4 708.7 l-1.0 2.5M108.1 708.6 L93.1 708.1M93.1 708.1 l-2.4 5.9M95.1 708.1 l-2.4 5.9M97.1 708.2 l-2.4 5.9M99.1 708.3 l-1.1 2.5M121.9 708.6 L107.4 704.8M107.4 704.8 l-3.6 5.2M135.7 708.6 L120.8 706.8M122.6 707.0 l-1.3 2.4M149.5 708.6 L135.7 702.6M137.4 703.4 l-1.9 1.9M163.3 708.6 L148.9 712.8M148.9 712.8 l-0.5 6.4M150.8 712.2 l-0.3 2.7M177.1 708.6 L162.1 707.4M163.9 707.6 l-1.2 2.4M190.8 708.6 L175.9 707.2M177.7 707.4 l-1.2 2.4M204.6 708.6 L189.7 707.7M189.7 707.7 l-2.6 5.9M191.7 707.8 l-2.6 5.9M193.7 707.9 l-1.2 2.4M218.4 708.6 L203.6 710.9M203.6 710.9 l-1.3 6.3M205.6 710.6 l-1.3 6.3M207.5 710.3 l-1.3 6.3M209.5 710.0 l-0.6 2.6M232.2 708.6 L217.8 712.9M217.8 712.9 l-0.4 6.4M219.7 712.3 l-0.4 6.4M221.7 711.7 l-0.4 6.4M246.0 708.6 L231.2 711.0M231.2 711.0 l-1.2 6.3M233.2 710.7 l-1.2 6.3M235.1 710.4 l-1.2 6.3M237.1 710.1 l-1.2 6.3M239.1 709.7 l-0.6 2.6M259.8 708.6 L244.8 710.1M244.8 710.1 l-1.6 6.2M246.8 709.9 l-1.6 6.2M248.8 709.7 l-1.6 6.2M273.6 708.6 L259.6 703.1M259.6 703.1 l-4.3 4.8M261.5 703.8 l-1.9 2.0M287.3 708.6 L272.3 709.0M272.3 709.0 l-2.0 6.1M301.1 708.6 L286.8 712.9M288.5 712.4 l-0.2 2.7M314.9 708.6 L300.0 707.5M300.0 707.5 l-2.6 5.8M301.9 707.6 l-2.6 5.8M328.7 708.6 L313.7 709.0M313.7 709.0 l-2.0 6.1M315.7 709.0 l-2.0 6.1M342.5 708.6 L328.1 712.8M328.1 712.8 l-0.4 6.4M330.0 712.2 l-0.4 6.4M331.9 711.7 l-0.3 2.7M356.3 708.6 L341.6 711.7M341.6 711.7 l-0.9 6.3M343.5 711.3 l-0.5 2.7M370.0 708.6 L355.6 704.7M355.6 704.7 l-3.7 5.2M357.5 705.3 l-3.7 5.2M359.4 705.8 l-1.6 2.2M383.8 708.6 L369.3 712.2M369.3 712.2 l-0.7 6.4M371.2 711.8 l-0.4 2.7M397.6 708.6 L383.7 703.1M383.7 703.1 l-4.2 4.8M411.4 708.6 L398.2 701.4M398.2 701.4 l-4.8 4.2M400.0 702.4 l-4.8 4.2M401.7 703.3 l-2.1 1.7M425.2 708.6 L410.5 711.7M410.5 711.7 l-0.9 6.3M412.5 711.3 l-0.9 6.3M414.4 710.9 l-0.9 6.3M439.0 708.6 L425.5 702.1M425.5 702.1 l-4.6 4.4M427.3 703.0 l-4.6 4.4M429.1 703.8 l-2.0 1.8M452.8 708.6 L437.8 710.2M437.8 710.2 l-1.6 6.2M439.8 710.0 l-1.6 6.2M441.8 709.7 l-1.6 6.2M466.5 708.6 L452.2 713.1M452.2 713.1 l-0.3 6.4M454.1 712.5 l-0.3 6.4M456.0 711.9 l-0.3 6.4M480.3 708.6 L465.4 710.3M465.4 710.3 l-1.5 6.2M494.1 708.6 L479.1 708.2M480.9 708.3 l-1.1 2.5M507.9 708.6 L493.2 705.6M493.2 705.6 l-3.3 5.4M495.2 706.0 l-1.5 2.3M521.7 708.6 L509.1 700.4M509.1 700.4 l-5.1 3.8M510.8 701.5 l-5.1 3.8M535.5 708.6 L520.7 711.5M520.7 711.5 l-1.0 6.3M522.7 711.1 l-0.5 2.6M549.2 708.6 L535.0 704.1M535.0 704.1 l-3.9 5.1M536.9 704.7 l-1.7 2.1M563.0 708.6 L548.0 709.1M548.0 709.1 l-2.0 6.1M550.0 709.0 l-0.9 2.5M576.8 708.6 L563.1 714.8M563.1 714.8 l0.5 6.4M565.0 713.9 l0.1 2.7M590.6 708.6 L576.7 703.0M576.7 703.0 l-4.3 4.8M604.4 708.6 L591.6 700.8M591.6 700.8 l-5.0 4.0M593.3 701.9 l-2.2 1.6M618.2 708.6 L605.4 700.8M605.4 700.8 l-5.0 4.0M607.1 701.8 l-5.0 4.0M608.8 702.9 l-5.0 4.0M632.0 708.6 L617.6 713.1M617.6 713.1 l-0.3 6.4M619.5 712.5 l-0.3 6.4M621.5 711.9 l-0.3 6.4M623.4 711.3 l-0.3 6.4M625.3 710.7 l-0.2 2.7M645.7 708.6 L631.0 711.4M631.0 711.4 l-1.0 6.3M633.0 711.0 l-1.0 6.3M634.9 710.7 l-1.0 6.3M636.9 710.3 l-0.5 2.6M659.5 708.6 L646.8 700.6M646.8 700.6 l-5.1 3.9M648.5 701.7 l-5.1 3.9M650.2 702.7 l-5.1 3.9M673.3 708.6 L658.4 706.6M658.4 706.6 l-3.0 5.7M660.4 706.9 l-3.0 5.7M662.4 707.1 l-3.0 5.7M664.4 707.4 l-3.0 5.7M666.4 707.7 l-1.3 2.3M687.1 708.6 L672.3 706.3M672.3 706.3 l-3.1 5.6M674.3 706.6 l-3.1 5.6M676.2 706.9 l-3.1 5.6M678.2 707.2 l-3.1 5.6M680.2 707.5 l-1.4 2.3M700.9 708.6 L686.3 712.1M686.3 712.1 l-0.7 6.3M688.2 711.6 l-0.4 2.7M714.7 708.6 L699.7 709.2M701.5 709.1 l-0.9 2.5M728.5 708.6 L714.7 702.7M716.3 703.4 l-1.9 1.9M742.2 708.6 L729.5 700.7M729.5 700.7 l-5.0 3.9M756.0 708.6 L742.5 702.2M742.5 702.2 l-4.6 4.5M744.3 703.0 l-4.6 4.5M746.1 703.9 l-4.6 4.5M747.9 704.7 l-2.0 1.8M769.8 708.6 L755.0 706.0M755.0 706.0 l-3.2 5.5M757.0 706.3 l-3.2 5.5M759.0 706.7 l-3.2 5.5M783.6 708.6 L769.9 702.4M769.9 702.4 l-4.5 4.6M771.7 703.2 l-4.5 4.6M773.6 704.1 l-4.5 4.6M797.4 708.6 L783.3 713.7M783.3 713.7 l-0.0 6.4M785.1 713.0 l-0.0 6.4M787.0 712.3 l-0.0 6.4M811.2 708.6 L796.5 711.9M796.5 711.9 l-0.8 6.3M798.5 711.5 l-0.8 6.3M800.4 711.0 l-0.8 6.3M824.9 708.6 L811.2 702.6M811.2 702.6 l-4.4 4.6M813.0 703.4 l-4.4 4.6M814.9 704.2 l-4.4 4.6M816.7 705.0 l-1.9 1.9M838.7 708.6 L824.0 711.5M824.0 711.5 l-1.0 6.3M826.0 711.1 l-1.0 6.3M827.9 710.7 l-1.0 6.3M829.9 710.4 l-0.5 2.6M53.0 725.7 L38.6 721.3M38.6 721.3 l-3.8 5.1M40.5 721.9 l-3.8 5.1M42.5 722.5 l-3.8 5.1M66.8 725.7 L51.8 726.0M51.8 726.0 l-2.1 6.1M53.8 726.0 l-2.1 6.1M55.8 725.9 l-0.9 2.5M80.6 725.7 L66.4 730.6M66.4 730.6 l-0.1 6.4M68.3 729.9 l-0.1 6.4M70.2 729.3 l-0.1 6.4M94.4 725.7 L79.8 729.2M79.8 729.2 l-0.7 6.3M81.7 728.7 l-0.7 6.3M83.7 728.2 l-0.7 6.3M85.6 727.8 l-0.7 6.3M108.1 725.7 L93.8 721.3M93.8 721.3 l-3.8 5.1M95.7 721.9 l-3.8 5.1M97.6 722.5 l-3.8 5.1M99.5 723.1 l-3.8 5.1M101.4 723.6 l-1.7 2.1M121.9 725.7 L107.7 720.9M107.7 720.9 l-4.0 5.0M109.6 721.5 l-4.0 5.0M111.5 722.1 l-1.7 2.0M135.7 725.7 L122.0 719.5M122.0 719.5 l-4.5 4.6M123.8 720.3 l-4.5 4.6M125.7 721.2 l-4.5 4.6M127.5 722.0 l-1.9 1.9M149.5 725.7 L134.8 722.6M134.8 722.6 l-3.4 5.4M136.8 723.0 l-3.4 5.4M138.7 723.4 l-3.4 5.4M140.7 723.8 l-1.5 2.2M163.3 725.7 L150.6 717.7M150.6 717.7 l-5.0 3.9M152.2 718.8 l-5.0 3.9M153.9 719.8 l-5.0 3.9M155.6 720.9 l-2.2 1.6M177.1 725.7 L162.5 729.2M162.5 729.2 l-0.7 6.4M164.4 728.7 l-0.7 6.4M166.4 728.3 l-0.7 6.4M190.8 725.7 L175.9 725.3M175.9 725.3 l-2.3 6.0M177.9 725.4 l-2.3 6.0M179.8 725.4 l-1.1 2.5M204.6 725.7 L189.7 724.9M189.7 724.9 l-2.5 5.9M191.6 725.0 l-2.5 5.9M193.6 725.1 l-2.5 5.9M195.6 725.2 l-1.1 2.4M218.4 725.7 L204.3 720.7M204.3 720.7 l-4.1 4.9M206.1 721.4 l-4.1 4.9M208.0 722.0 l-4.1 4.9M209.9 722.7 l-1.8 2.0M232.2 725.7 L218.0 730.5M218.0 730.5 l-0.2 6.4M219.9 729.8 l-0.2 6.4M221.8 729.2 l-0.2 6.4M246.0 725.7 L231.0 724.6M231.0 724.6 l-2.6 5.8M233.0 724.8 l-2.6 5.8M235.0 724.9 l-2.6 5.8M259.8 725.7 L245.3 721.7M245.3 721.7 l-3.7 5.2M247.2 722.2 l-3.7 5.2M249.2 722.7 l-3.7 5.2M273.6 725.7 L259.3 730.3M259.3 730.3 l-0.2 6.4M261.2 729.7 l-0.2 6.4M263.1 729.1 l-0.2 6.4M265.0 728.5 l-0.2 2.7M287.3 725.7 L272.5 728.2M274.3 727.9 l-0.6 2.6M301.1 725.7 L288.6 717.4M290.1 718.4 l-2.2 1.5M314.9 725.7 L300.3 729.0M300.3 729.0 l-0.8 6.3M302.2 728.6 l-0.8 6.3M304.2 728.1 l-0.8 6.3M328.7 725.7 L314.2 721.7M314.2 721.7 l-3.7 5.2M316.2 722.2 l-3.7 5.2M318.1 722.7 l-3.7 5.2M320.0 723.3 l-1.6 2.1M342.5 725.7 L328.1 721.3M328.1 721.3 l-3.8 5.1M356.3 725.7 L342.5 719.8M342.5 719.8 l-4.4 4.7M344.3 720.6 l-1.9 1.9M370.0 725.7 L355.1 727.3M355.1 727.3 l-1.5 6.2M383.8 725.7 L369.1 722.6M369.1 722.6 l-3.4 5.4M397.6 725.7 L383.9 731.7M383.9 731.7 l0.4 6.4M385.7 730.9 l0.1 2.7M411.4 725.7 L396.4 726.7M398.2 726.6 l-0.8 2.6M425.2 725.7 L411.9 718.8M411.9 718.8 l-4.7 4.3M413.6 719.7 l-2.0 1.8M439.0 725.7 L424.1 723.7M424.1 723.7 l-3.0 5.7M426.1 723.9 l-3.0 5.7M428.1 724.2 l-1.3 2.3M452.8 725.7 L439.3 719.1M439.3 719.1 l-4.6 4.4M441.1 720.0 l-4.6 4.4M442.9 720.9 l-4.6 4.4M466.5 725.7 L454.1 717.2M454.1 717.2 l-5.2 3.7M455.8 718.3 l-5.2 3.7M457.5 719.5 l-5.2 3.7M480.3 725.7 L465.8 722.1M465.8 722.1 l-3.6 5.3M467.7 722.5 l-3.6 5.3M469.6 723.0 l-3.6 5.3M471.6 723.5 l-3.6 5.3M473.5 724.0 l-3.6 5.3M494.1 725.7 L481.6 717.4M481.6 717.4 l-5.1 3.8M483.3 718.5 l-5.1 3.8M484.9 719.6 l-5.1 3.8M486.6 720.7 l-5.1 3.8M507.9 725.7 L494.4 719.0M494.4 719.0 l-4.6 4.4M496.2 719.9 l-4.6 4.4M498.0 720.8 l-4.6 4.4M521.7 725.7 L507.3 729.8M507.3 729.8 l-0.5 6.4M509.2 729.2 l-0.3 2.7M535.5 725.7 L520.5 726.6M520.5 726.6 l-1.8 6.1M522.5 726.5 l-1.8 6.1M549.2 725.7 L536.5 717.8M536.5 717.8 l-5.0 4.0M538.2 718.9 l-5.0 4.0M539.9 719.9 l-2.2 1.6M563.0 725.7 L548.9 720.7M548.9 720.7 l-4.0 4.9M550.8 721.4 l-4.0 4.9M552.6 722.0 l-4.0 4.9M554.5 722.7 l-4.0 4.9M556.4 723.4 l-1.8 2.0M576.8 725.7 L562.7 730.8M562.7 730.8 l-0.0 6.4M564.6 730.1 l-0.0 6.4M566.5 729.4 l-0.0 6.4M568.4 728.7 l-0.0 6.4M570.2 728.0 l-0.1 2.7M590.6 725.7 L577.2 718.8M577.2 718.8 l-4.7 4.3M579.0 719.7 l-4.7 4.3M580.8 720.7 l-2.0 1.8M604.4 725.7 L589.4 726.9M589.4 726.9 l-1.7 6.2M591.4 726.8 l-1.7 6.2M593.4 726.6 l-1.7 6.2M618.2 725.7 L605.1 718.4M605.1 718.4 l-4.8 4.2M606.8 719.3 l-2.1 1.7M632.0 725.7 L618.5 719.0M618.5 719.0 l-4.6 4.4M620.3 719.9 l-4.6 4.4M622.1 720.8 l-4.6 4.4M623.9 721.7 l-4.6 4.4M625.7 722.6 l-4.6 4.4M645.7 725.7 L631.5 720.9M631.5 720.9 l-4.0 5.0M633.4 721.5 l-4.0 5.0M635.3 722.2 l-4.0 5.0M637.2 722.8 l-4.0 5.0M639.1 723.4 l-1.7 2.1M659.5 725.7 L645.8 731.7M645.8 731.7 l0.4 6.4M647.6 730.9 l0.4 6.4M649.5 730.1 l0.1 2.7M673.3 725.7 L658.5 723.1M658.5 723.1 l-3.2 5.5M687.1 725.7 L672.2 724.4M673.9 724.6 l-1.2 2.4M700.9 725.7 L686.5 730.0M686.5 730.0 l-0.4 6.4M688.4 729.4 l-0.4 6.4M690.4 728.9 l-0.4 6.4M692.3 728.3 l-0.4 6.4M694.2 727.7 l-0.2 2.7M714.7 725.7 L701.8 718.0M701.8 718.0 l-5.0 4.0M703.5 719.0 l-2.1 1.6M728.5 725.7 L714.1 730.1M714.1 730.1 l-0.3 6.4M716.0 729.5 l-0.3 6.4M717.9 728.9 l-0.3 6.4M742.2 725.7 L727.5 728.2M727.5 728.2 l-1.1 6.3M729.4 727.9 l-1.1 6.3M731.4 727.5 l-1.1 6.3M756.0 725.7 L741.4 729.1M741.4 729.1 l-0.8 6.3M743.4 728.7 l-0.8 6.3M745.3 728.2 l-0.8 6.3M747.3 727.7 l-0.8 6.3M769.8 725.7 L754.9 727.6M754.9 727.6 l-1.4 6.2M756.9 727.3 l-1.4 6.2M758.9 727.1 l-1.4 6.2M783.6 725.7 L769.7 719.9M769.7 719.9 l-4.3 4.7M771.6 720.7 l-4.3 4.7M773.4 721.5 l-4.3 4.7M797.4 725.7 L782.4 725.4M782.4 725.4 l-2.3 6.0M784.4 725.4 l-2.3 6.0M786.4 725.5 l-2.3 6.0M788.4 725.5 l-1.0 2.5M811.2 725.7 L796.5 728.9M796.5 728.9 l-0.9 6.3M798.5 728.4 l-0.9 6.3M800.4 728.0 l-0.9 6.3M802.4 727.6 l-0.4 2.7M824.9 725.7 L811.7 718.5M811.7 718.5 l-4.8 4.2M813.5 719.5 l-4.8 4.2M815.3 720.4 l-4.8 4.2M838.7 725.7 L823.8 727.4M823.8 727.4 l-1.5 6.2M825.8 727.2 l-1.5 6.2M827.8 727.0 l-1.5 6.2M53.0 742.7 L38.3 739.6M38.3 739.6 l-3.4 5.4M66.8 742.7 L53.4 736.0M53.4 736.0 l-4.6 4.4M55.2 736.9 l-4.6 4.4M56.9 737.8 l-4.6 4.4M58.7 738.7 l-2.0 1.8M80.6 742.7 L66.2 747.0M66.2 747.0 l-0.4 6.4M68.1 746.4 l-0.4 6.4M70.0 745.9 l-0.2 2.7M94.4 742.7 L80.6 736.8M80.6 736.8 l-4.4 4.7M82.4 737.6 l-4.4 4.7M84.2 738.4 l-4.4 4.7M86.1 739.2 l-4.4 4.7M87.9 740.0 l-1.9 1.9M108.1 742.7 L93.2 743.6M93.2 743.6 l-1.8 6.1M95.2 743.5 l-1.8 6.1M97.2 743.4 l-1.8 6.1M121.9 742.7 L106.9 742.9M106.9 742.9 l-2.1 6.0M108.9 742.8 l-2.1 6.0M110.9 742.8 l-1.0 2.5M135.7 742.7 L120.8 744.5M120.8 744.5 l-1.5 6.2M122.8 744.3 l-1.5 6.2M124.8 744.0 l-0.7 2.6M149.5 742.7 L134.6 744.1M134.6 744.1 l-1.7 6.2M136.5 743.9 l-1.7 6.2M138.5 743.7 l-1.7 6.2M163.3 742.7 L148.5 740.4M148.5 740.4 l-3.1 5.6M150.4 740.7 l-1.4 2.3M177.1 742.7 L162.2 740.4M162.2 740.4 l-3.1 5.6M190.8 742.7 L176.0 740.8M176.0 740.8 l-2.9 5.7M178.0 741.1 l-2.9 5.7M179.9 741.3 l-2.9 5.7M204.6 742.7 L190.7 737.1M190.7 737.1 l-4.3 4.7M192.6 737.9 l-4.3 4.7M194.4 738.6 l-4.3 4.7M196.3 739.4 l-1.9 1.9M218.4 742.7 L205.1 735.9M205.1 735.9 l-4.7 4.3M206.8 736.8 l-4.7 4.3M208.6 737.7 l-4.7 4.3M232.2 742.7 L217.9 738.2M217.9 738.2 l-3.9 5.1M219.8 738.8 l-3.9 5.1M221.7 739.4 l-3.9 5.1M246.0 742.7 L233.1 735.0M233.1 735.0 l-5.0 4.0M234.8 736.0 l-5.0 4.0M236.6 737.0 l-5.0 4.0M238.3 738.1 l-2.1 1.6M259.8 742.7 L246.0 736.7M246.0 736.7 l-4.4 4.6M247.9 737.5 l-4.4 4.6M249.7 738.3 l-1.9 1.9M273.6 742.7 L259.2 747.0M259.2 747.0 l-0.4 6.4M261.1 746.4 l-0.4 6.4M263.0 745.9 l-0.4 6.4M264.9 745.3 l-0.4 6.4M287.3 742.7 L273.4 737.1M273.4 737.1 l-4.3 4.7M275.3 737.9 l-1.9 1.9M301.1 742.7 L286.5 746.0M286.5 746.0 l-0.8 6.3M288.4 745.5 l-0.4 2.7M314.9 742.7 L301.8 735.3M301.8 735.3 l-4.9 4.1M303.6 736.3 l-4.9 4.1M305.3 737.3 l-4.9 4.1M328.7 742.7 L313.7 741.8M313.7 741.8 l-2.6 5.8M315.7 741.9 l-2.6 5.8M317.7 742.0 l-2.6 5.8M319.7 742.1 l-2.6 5.8M342.5 742.7 L329.0 736.2M329.0 736.2 l-4.6 4.4M330.8 737.0 l-4.6 4.4M332.6 737.9 l-4.6 4.4M334.4 738.8 l-2.0 1.8M356.3 742.7 L343.5 734.9M343.5 734.9 l-5.0 4.0M345.2 735.9 l-5.0 4.0M370.0 742.7 L357.0 735.3M357.0 735.3 l-4.9 4.1M358.7 736.3 l-4.9 4.1M360.5 737.3 l-2.1 1.7M383.8 742.7 L368.9 743.9M368.9 743.9 l-1.7 6.2M370.9 743.8 l-1.7 6.2M372.9 743.6 l-0.8 2.6M397.6 742.7 L382.6 743.3M382.6 743.3 l-2.0 6.1M384.6 743.2 l-2.0 6.1M386.6 743.1 l-2.0 6.1M388.6 743.1 l-2.0 6.1M390.6 743.0 l-2.0 6.1M411.4 742.7 L396.5 744.6M396.5 744.6 l-1.4 6.2M398.5 744.4 l-1.4 6.2M400.5 744.1 l-1.4 6.2M425.2 742.7 L411.9 735.7M411.9 735.7 l-4.7 4.3M413.7 736.6 l-4.7 4.3M439.0 742.7 L424.0 741.9M424.0 741.9 l-2.5 5.9M426.0 742.0 l-2.5 5.9M428.0 742.1 l-2.5 5.9M430.0 742.2 l-1.1 2.4M452.8 742.7 L437.8 743.2M437.8 743.2 l-2.0 6.1M439.8 743.2 l-2.0 6.1M441.8 743.1 l-2.0 6.1M466.5 742.7 L451.5 743.0M451.5 743.0 l-2.1 6.0M453.5 743.0 l-2.1 6.0M455.5 742.9 l-2.1 6.0M457.5 742.9 l-2.1 6.0M459.5 742.8 l-2.1 6.0M480.3 742.7 L466.3 748.1M466.3 748.1 l0.1 6.4M468.2 747.3 l0.1 6.4M470.0 746.6 l0.1 6.4M471.9 745.9 l0.1 6.4M473.8 745.2 l0.1 6.4M494.1 742.7 L479.1 742.0M479.1 742.0 l-2.5 5.9M481.1 742.1 l-2.5 5.9M483.1 742.2 l-2.5 5.9M485.1 742.3 l-2.5 5.9M507.9 742.7 L493.0 744.7M493.0 744.7 l-1.4 6.2M495.0 744.4 l-1.4 6.2M497.0 744.2 l-1.4 6.2M499.0 743.9 l-1.4 6.2M501.0 743.6 l-0.7 2.6M521.7 742.7 L507.0 739.6M507.0 739.6 l-3.4 5.4M509.0 740.0 l-3.4 5.4M510.9 740.4 l-3.4 5.4M512.9 740.8 l-1.5 2.2M535.5 742.7 L520.6 744.6M520.6 744.6 l-1.4 6.2M522.6 744.3 l-1.4 6.2M524.6 744.1 l-1.4 6.2M526.5 743.8 l-0.7 2.6M549.2 742.7 L534.8 738.6M534.8 738.6 l-3.8 5.2M536.7 739.1 l-3.8 5.2M538.7 739.7 l-3.8 5.2M540.6 740.2 l-1.6 2.1M563.0 742.7 L548.2 744.6M548.2 744.6 l-1.4 6.2M550.1 744.3 l-1.4 6.2M552.1 744.1 l-1.4 6.2M554.1 743.8 l-1.4 6.2M556.1 743.6 l-0.7 2.6M576.8 742.7 L562.2 739.3M562.2 739.3 l-3.5 5.3M564.2 739.7 l-3.5 5.3M566.1 740.2 l-3.5 5.3M568.1 740.7 l-3.5 5.3M570.0 741.1 l-1.5 2.2M590.6 742.7 L575.7 744.8M575.7 744.8 l-1.4 6.2M577.7 744.5 l-1.4 6.2M579.7 744.2 l-1.4 6.2M604.4 742.7 L590.5 737.1M590.5 737.1 l-4.3 4.7M592.3 737.9 l-1.9 1.9M618.2 742.7 L603.2 744.2M603.2 744.2 l-1.6 6.2M632.0 742.7 L617.5 746.6M617.5 746.6 l-0.6 6.4M619.4 746.1 l-0.6 6.4M621.3 745.6 l-0.6 6.4M623.3 745.1 l-0.6 6.4M625.2 744.5 l-0.6 6.4M645.7 742.7 L632.1 736.4M632.1 736.4 l-4.5 4.5M633.9 737.3 l-4.5 4.5M635.7 738.1 l-4.5 4.5M637.6 739.0 l-4.5 4.5M639.4 739.8 l-4.5 4.5M659.5 742.7 L644.6 741.1M644.6 741.1 l-2.8 5.7M646.6 741.3 l-2.8 5.7M648.6 741.5 l-2.8 5.7M673.3 742.7 L658.4 740.8M658.4 740.8 l-2.9 5.7M660.4 741.1 l-2.9 5.7M662.4 741.3 l-1.3 2.4M687.1 742.7 L673.9 735.6M673.9 735.6 l-4.8 4.3M700.9 742.7 L686.9 737.2M686.9 737.2 l-4.3 4.8M688.8 737.9 l-4.3 4.8M690.7 738.7 l-4.3 4.8M692.5 739.4 l-4.3 4.8M694.4 740.1 l-4.3 4.8M714.7 742.7 L699.7 744.3M699.7 744.3 l-1.6 6.2M701.7 744.1 l-1.6 6.2M703.7 743.9 l-0.7 2.6M728.5 742.7 L713.5 743.6M713.5 743.6 l-1.8 6.1M715.5 743.5 l-1.8 6.1M717.5 743.4 l-1.8 6.1M742.2 742.7 L727.5 745.4M727.5 745.4 l-1.1 6.3M729.4 745.0 l-1.1 6.3M731.4 744.7 l-1.1 6.3M756.0 742.7 L741.6 738.4M741.6 738.4 l-3.8 5.1M743.6 739.0 l-3.8 5.1M745.5 739.6 l-3.8 5.1M769.8 742.7 L755.0 745.2M755.0 745.2 l-1.2 6.3M783.6 742.7 L769.7 748.4M769.7 748.4 l0.2 6.4M797.4 742.7 L783.0 746.9M783.0 746.9 l-0.4 6.4M811.2 742.7 L796.3 744.4M796.3 744.4 l-1.5 6.2M798.2 744.2 l-1.5 6.2M800.2 744.0 l-1.5 6.2M824.9 742.7 L812.2 734.8M812.2 734.8 l-5.0 3.9M813.9 735.8 l-5.0 3.9M815.6 736.9 l-5.0 3.9M838.7 742.7 L825.9 734.9M825.9 734.9 l-5.0 4.0M827.6 735.9 l-5.0 4.0M829.4 737.0 l-2.2 1.6M53.0 759.8 L39.5 753.2M39.5 753.2 l-4.6 4.4M41.3 754.0 l-4.6 4.4M43.1 754.9 l-4.6 4.4M44.9 755.8 l-2.0 1.8M66.8 759.8 L53.1 765.9M53.1 765.9 l0.5 6.4M54.9 765.1 l0.5 6.4M56.8 764.3 l0.1 2.7M80.6 759.8 L65.6 760.1M65.6 760.1 l-2.1 6.0M67.6 760.0 l-2.1 6.0M69.6 760.0 l-0.9 2.5M94.4 759.8 L80.3 754.6M80.3 754.6 l-4.1 4.9M108.1 759.8 L93.2 758.4M95.0 758.5 l-1.2 2.4M121.9 759.8 L108.2 753.7M108.2 753.7 l-4.4 4.6M135.7 759.8 L120.9 757.7M120.9 757.7 l-3.0 5.6M122.8 758.0 l-1.3 2.3M149.5 759.8 L134.6 757.8M134.6 757.8 l-3.0 5.7M163.3 759.8 L148.3 758.6M148.3 758.6 l-2.6 5.8M150.3 758.8 l-2.6 5.8M152.3 758.9 l-2.6 5.8M177.1 759.8 L162.6 755.8M162.6 755.8 l-3.7 5.2M164.5 756.3 l-3.7 5.2M166.5 756.8 l-3.7 5.2M190.8 759.8 L176.1 762.5M176.1 762.5 l-1.0 6.3M178.1 762.2 l-1.0 6.3M204.6 759.8 L190.7 765.4M190.7 765.4 l0.2 6.4M192.6 764.7 l0.2 6.4M194.4 763.9 l0.0 2.7M218.4 759.8 L204.9 753.2M204.9 753.2 l-4.6 4.4M206.7 754.0 l-4.6 4.4M208.5 754.9 l-4.6 4.4M232.2 759.8 L217.7 755.8M217.7 755.8 l-3.7 5.2M219.7 756.3 l-3.7 5.2M246.0 759.8 L232.7 752.8M232.7 752.8 l-4.7 4.3M259.8 759.8 L246.9 752.1M246.9 752.1 l-5.0 4.0M248.6 753.1 l-2.1 1.6M273.6 759.8 L260.6 752.2M260.6 752.2 l-4.9 4.1M262.3 753.2 l-4.9 4.1M264.1 754.2 l-4.9 4.1M287.3 759.8 L272.4 759.1M272.4 759.1 l-2.5 5.9M274.4 759.2 l-2.5 5.9M276.4 759.3 l-2.5 5.9M301.1 759.8 L288.0 752.5M288.0 752.5 l-4.8 4.2M289.7 753.5 l-4.8 4.2M291.5 754.4 l-4.8 4.2M293.2 755.4 l-2.1 1.7M314.9 759.8 L301.4 753.3M301.4 753.3 l-4.6 4.5M303.2 754.2 l-4.6 4.5M305.0 755.0 l-4.6 4.5M328.7 759.8 L316.1 751.6M316.1 751.6 l-5.1 3.8M317.8 752.7 l-5.1 3.8M319.5 753.8 l-5.1 3.8M321.1 754.9 l-5.1 3.8M322.8 756.0 l-2.2 1.6M342.5 759.8 L327.5 758.4M327.5 758.4 l-2.7 5.8M329.5 758.6 l-2.7 5.8M331.5 758.7 l-2.7 5.8M333.5 758.9 l-2.7 5.8M335.5 759.1 l-1.2 2.4M356.3 759.8 L343.0 752.7M343.0 752.7 l-4.8 4.2M344.8 753.6 l-4.8 4.2M346.6 754.6 l-4.8 4.2M348.3 755.5 l-4.8 4.2M350.1 756.5 l-4.8 4.2M370.0 759.8 L357.7 751.2M357.7 751.2 l-5.2 3.7M359.3 752.4 l-5.2 3.7M361.0 753.5 l-5.2 3.7M362.6 754.7 l-5.2 3.7M364.3 755.8 l-2.2 1.5M383.8 759.8 L369.4 763.7M369.4 763.7 l-0.6 6.4M371.3 763.1 l-0.6 6.4M373.2 762.6 l-0.6 6.4M375.1 762.1 l-0.3 2.7M397.6 759.8 L384.1 753.2M384.1 753.2 l-4.6 4.4M385.9 754.1 l-4.6 4.4M387.7 755.0 l-4.6 4.4M411.4 759.8 L397.6 753.9M397.6 753.9 l-4.4 4.7M399.4 754.7 l-4.4 4.7M401.3 755.5 l-4.4 4.7M425.2 759.8 L411.1 764.9M411.1 764.9 l0.0 6.4M413.0 764.2 l-0.1 2.7M439.0 759.8 L424.7 755.2M424.7 755.2 l-3.9 5.1M452.8 759.8 L438.4 764.2M438.4 764.2 l-0.3 6.4M440.3 763.6 l-0.3 6.4M442.3 763.0 l-0.3 6.4M466.5 759.8 L452.6 765.4M452.6 765.4 l0.2 6.4M454.5 764.6 l0.2 6.4M456.3 763.9 l0.2 6.4M480.3 759.8 L465.5 757.8M465.5 757.8 l-3.0 5.7M494.1 759.8 L479.2 757.8M479.2 757.8 l-2.9 5.7M507.9 759.8 L494.1 753.8M494.1 753.8 l-4.4 4.6M496.0 754.6 l-4.4 4.6M497.8 755.4 l-1.9 1.9M521.7 759.8 L506.9 757.2M506.9 757.2 l-3.2 5.5M508.9 757.6 l-3.2 5.5M510.8 757.9 l-3.2 5.5M512.8 758.2 l-1.4 2.3M535.5 759.8 L521.7 765.7M521.7 765.7 l0.4 6.4M523.5 764.9 l0.4 6.4M525.4 764.1 l0.4 6.4M549.2 759.8 L535.0 755.0M535.0 755.0 l-4.0 5.0M536.9 755.7 l-4.0 5.0M538.8 756.3 l-4.0 5.0M540.7 756.9 l-1.7 2.1M563.0 759.8 L549.1 754.3M549.1 754.3 l-4.2 4.8M550.9 755.0 l-4.2 4.8M552.8 755.7 l-4.2 4.8M554.7 756.5 l-1.8 2.0M576.8 759.8 L562.6 754.9M562.6 754.9 l-4.0 5.0M564.5 755.6 l-4.0 5.0M566.4 756.2 l-1.7 2.0M590.6 759.8 L577.1 753.3M577.1 753.3 l-4.6 4.5M578.9 754.1 l-4.6 4.5M580.7 755.0 l-4.6 4.5M604.4 759.8 L589.5 761.3M589.5 761.3 l-1.6 6.2M591.5 761.1 l-0.7 2.6M618.2 759.8 L603.2 758.6M603.2 758.6 l-2.7 5.8M605.2 758.8 l-2.7 5.8M632.0 759.8 L617.7 755.2M617.7 755.2 l-3.9 5.0M619.6 755.8 l-3.9 5.0M621.5 756.4 l-3.9 5.0M645.7 759.8 L632.8 752.2M632.8 752.2 l-4.9 4.1M634.5 753.2 l-4.9 4.1M636.3 754.2 l-2.1 1.7M659.5 759.8 L646.4 752.4M646.4 752.4 l-4.8 4.2M648.2 753.4 l-4.8 4.2M649.9 754.4 l-4.8 4.2M673.3 759.8 L658.9 764.0M658.9 764.0 l-0.4 6.4M660.8 763.4 l-0.4 6.4M662.8 762.8 l-0.4 6.4M687.1 759.8 L672.1 760.3M672.1 760.3 l-2.0 6.1M674.1 760.3 l-2.0 6.1M676.1 760.2 l-2.0 6.1M700.9 759.8 L686.4 756.0M686.4 756.0 l-3.6 5.3M688.3 756.5 l-1.6 2.2M714.7 759.8 L699.8 758.1M701.5 758.3 l-1.3 2.4M728.5 759.8 L714.0 763.7M714.0 763.7 l-0.5 6.4M715.9 763.2 l-0.5 6.4M717.8 762.7 l-0.5 6.4M742.2 759.8 L727.9 755.3M727.9 755.3 l-3.9 5.1M729.8 755.9 l-3.9 5.1M731.7 756.5 l-3.9 5.1M756.0 759.8 L741.1 761.7M741.1 761.7 l-1.4 6.2M743.1 761.4 l-1.4 6.2M745.1 761.2 l-0.7 2.6M769.8 759.8 L755.1 762.7M755.1 762.7 l-1.0 6.3M757.1 762.3 l-1.0 6.3M759.0 761.9 l-1.0 6.3M783.6 759.8 L769.6 765.1M769.6 765.1 l0.1 6.4M797.4 759.8 L783.5 754.0M783.5 754.0 l-4.3 4.7M785.4 754.7 l-1.9 1.9M811.2 759.8 L798.6 751.6M798.6 751.6 l-5.1 3.8M800.2 752.7 l-5.1 3.8M801.9 753.8 l-5.1 3.8M824.9 759.8 L812.3 751.7M812.3 751.7 l-5.1 3.9M814.0 752.7 l-5.1 3.9M815.7 753.8 l-5.1 3.9M838.7 759.8 L825.7 752.4M825.7 752.4 l-4.9 4.1M827.4 753.3 l-4.9 4.1M829.2 754.3 l-4.9 4.1M830.9 755.3 l-2.1 1.7M53.0 776.8 L68.0 776.5M68.0 776.5 l2.1 -6.0M66.8 776.8 L79.5 784.8M78.0 783.8 l2.2 -1.6M80.6 776.8 L94.6 771.5M94.6 771.5 l-0.1 -6.4M94.4 776.8 L106.5 785.7M106.5 785.7 l5.3 -3.5M108.1 776.8 L121.5 770.0M121.5 770.0 l-0.8 -6.3M119.7 770.9 l-0.8 -6.3M117.9 771.8 l-0.8 -6.3M121.9 776.8 L136.8 774.6M136.8 774.6 l1.3 -6.3M134.8 774.9 l1.3 -6.3M132.8 775.2 l1.3 -6.3M135.7 776.8 L149.1 770.0M149.1 770.0 l-0.7 -6.3M147.3 770.9 l-0.7 -6.3M145.5 771.8 l-0.7 -6.3M149.5 776.8 L162.1 784.9M162.1 784.9 l5.1 -3.9M160.4 783.8 l5.1 -3.9M158.8 782.7 l5.1 -3.9M163.3 776.8 L178.1 779.2M178.1 779.2 l3.1 -5.6M176.1 778.9 l3.1 -5.6M174.1 778.5 l3.1 -5.6M177.1 776.8 L190.1 769.4M190.1 769.4 l-1.1 -6.3M188.4 770.4 l-1.1 -6.3M186.6 771.4 l-1.1 -6.3M190.8 776.8 L205.0 781.9M205.0 781.9 l4.1 -4.9M203.1 781.2 l4.1 -4.9M201.2 780.6 l4.1 -4.9M199.3 779.9 l1.8 -2.0M204.6 776.8 L219.0 772.4M219.0 772.4 l0.3 -6.4M217.1 773.0 l0.3 -6.4M215.1 773.6 l0.2 -2.7M218.4 776.8 L233.1 773.6M233.1 773.6 l0.9 -6.3M231.1 774.0 l0.9 -6.3M229.2 774.4 l0.9 -6.3M232.2 776.8 L246.6 772.7M246.6 772.7 l0.5 -6.4M244.7 773.2 l0.5 -6.4M246.0 776.8 L260.7 774.1M260.7 774.1 l1.1 -6.3M259.8 776.8 L272.5 784.7M272.5 784.7 l5.0 -4.0M270.8 783.6 l2.2 -1.6M273.6 776.8 L288.5 778.4M288.5 778.4 l2.8 -5.7M286.5 778.2 l2.8 -5.7M284.5 778.0 l2.8 -5.7M287.3 776.8 L301.3 771.4M301.3 771.4 l-0.1 -6.4M299.5 772.1 l-0.1 -6.4M297.6 772.8 l-0.1 -6.4M295.7 773.6 l0.0 -2.7M301.1 776.8 L315.3 781.8M315.3 781.8 l4.1 -4.9M313.4 781.1 l4.1 -4.9M311.5 780.5 l1.8 -2.0M314.9 776.8 L325.4 787.5M324.1 786.2 l2.5 -1.0M328.7 776.8 L343.3 780.1M343.3 780.1 l3.5 -5.4M341.4 779.6 l3.5 -5.4M339.4 779.2 l3.5 -5.4M337.5 778.8 l1.5 -2.2M342.5 776.8 L353.3 787.2M353.3 787.2 l5.7 -2.8M351.9 785.8 l5.7 -2.8M350.4 784.4 l2.4 -1.1M356.3 776.8 L371.1 774.5M371.1 774.5 l1.2 -6.3M369.1 774.8 l1.2 -6.3M367.1 775.1 l0.6 -2.6M370.0 776.8 L384.9 774.4M384.9 774.4 l1.2 -6.3M382.9 774.7 l1.2 -6.3M380.9 775.0 l0.6 -2.6M383.8 776.8 L398.1 772.2M398.1 772.2 l0.2 -6.4M396.2 772.8 l0.2 -6.4M394.3 773.4 l0.2 -2.7M397.6 776.8 L412.6 776.8M412.6 776.8 l2.2 -6.0M410.6 776.8 l2.2 -6.0M408.6 776.8 l1.0 -2.5M411.4 776.8 L426.4 776.2M426.4 776.2 l2.0 -6.1M424.4 776.3 l2.0 -6.1M422.4 776.4 l2.0 -6.1M420.4 776.5 l0.9 -2.5M425.2 776.8 L440.1 775.3M440.1 775.3 l1.6 -6.2M438.1 775.5 l0.7 -2.6M439.0 776.8 L453.9 776.0M453.9 776.0 l1.9 -6.1M452.0 776.1 l0.9 -2.6M452.8 776.8 L467.1 772.5M467.1 772.5 l0.4 -6.4M465.2 773.1 l0.4 -6.4M463.3 773.6 l0.4 -6.4M466.5 776.8 L480.5 771.4M480.5 771.4 l-0.1 -6.4M478.7 772.1 l-0.1 -6.4M476.8 772.8 l-0.1 -6.4M480.3 776.8 L494.6 781.4M494.6 781.4 l3.9 -5.0M492.7 780.8 l3.9 -5.0M490.8 780.2 l3.9 -5.0M488.9 779.6 l3.9 -5.0M487.0 779.0 l1.7 -2.1M494.1 776.8 L508.8 773.6M508.8 773.6 l0.9 -6.3M506.8 774.0 l0.9 -6.3M504.9 774.5 l0.9 -6.3M507.9 776.8 L519.1 786.8M519.1 786.8 l5.6 -3.0M517.6 785.5 l5.6 -3.0M516.1 784.1 l2.4 -1.2M521.7 776.8 L536.1 772.6M536.1 772.6 l0.4 -6.4M534.2 773.2 l0.4 -6.4M532.2 773.7 l0.4 -6.4M530.3 774.3 l0.3 -2.7M535.5 776.8 L550.4 778.1M550.4 778.1 l2.7 -5.8M548.4 778.0 l2.7 -5.8M546.4 777.8 l1.2 -2.4M549.2 776.8 L563.4 771.9M563.4 771.9 l0.1 -6.4M561.5 772.6 l0.1 -6.4M559.7 773.2 l0.1 -6.4M557.8 773.9 l0.1 -2.7M563.0 776.8 L577.1 782.1M577.1 782.1 l4.2 -4.9M575.2 781.4 l4.2 -4.9M573.3 780.7 l4.2 -4.9M576.8 776.8 L587.4 787.5M587.4 787.5 l5.8 -2.7M586.0 786.1 l5.8 -2.7M584.6 784.6 l2.5 -1.0M590.6 776.8 L601.6 787.0M601.6 787.0 l5.7 -2.9M600.1 785.7 l5.7 -2.9M598.7 784.3 l5.7 -2.9M604.4 776.8 L616.6 785.5M616.6 785.5 l5.3 -3.6M618.2 776.8 L629.3 786.9M629.3 786.9 l5.7 -3.0M632.0 776.8 L646.2 781.6M646.2 781.6 l4.0 -5.0M644.3 780.9 l1.7 -2.1M645.7 776.8 L660.6 778.5M660.6 778.5 l2.9 -5.7M659.5 776.8 L673.7 771.8M673.7 771.8 l0.1 -6.4M671.8 772.5 l0.1 -2.7M673.3 776.8 L687.5 772.0M687.5 772.0 l0.2 -6.4M687.1 776.8 L702.1 776.9M702.1 776.9 l2.2 -6.0M700.9 776.8 L715.4 780.7M713.6 780.2 l1.6 -2.2M714.7 776.8 L728.9 772.1M727.2 772.6 l0.2 -2.7M728.5 776.8 L743.4 777.5M743.4 777.5 l2.5 -5.9M742.2 776.8 L757.0 779.6M757.0 779.6 l3.3 -5.5M756.0 776.8 L770.9 775.0M770.9 775.0 l1.5 -6.2M768.9 775.2 l0.7 -2.6M769.8 776.8 L784.8 775.9M784.8 775.9 l1.8 -6.1M782.8 776.0 l0.9 -2.6M783.6 776.8 L798.3 773.9M798.3 773.9 l1.0 -6.3M796.3 774.2 l0.5 -2.6M797.4 776.8 L810.6 783.8M810.6 783.8 l4.7 -4.3M811.2 776.8 L825.8 780.2M825.8 780.2 l3.5 -5.3M824.9 776.8 L838.7 782.8M838.7 782.8 l4.4 -4.6M838.7 776.8 L853.0 781.5M851.3 781.0 l1.7 -2.1M53.0 793.9 L67.5 790.0M67.5 790.0 l0.6 -6.4M65.6 790.5 l0.6 -6.4M63.6 791.0 l0.6 -6.4M66.8 793.9 L76.7 805.1M76.7 805.1 l6.0 -2.3M75.4 803.6 l6.0 -2.3M74.0 802.1 l6.0 -2.3M80.6 793.9 L95.6 793.8M95.6 793.8 l2.2 -6.0M93.6 793.8 l2.2 -6.0M91.6 793.8 l2.2 -6.0M94.4 793.9 L108.4 788.7M108.4 788.7 l-0.0 -6.4M106.6 789.4 l-0.0 -6.4M104.7 790.1 l0.1 -2.7M108.1 793.9 L120.0 803.0M120.0 803.0 l5.4 -3.4M121.9 793.9 L133.3 803.6M133.3 803.6 l5.6 -3.1M131.8 802.3 l5.6 -3.1M135.7 793.9 L145.4 805.3M145.4 805.3 l6.0 -2.2M149.5 793.9 L161.9 802.3M161.9 802.3 l5.2 -3.7M160.2 801.2 l2.2 -1.5M163.3 793.9 L174.7 803.6M174.7 803.6 l5.6 -3.1M173.1 802.3 l2.4 -1.2M177.1 793.9 L191.8 791.2M191.8 791.2 l1.1 -6.3M189.9 791.6 l1.1 -6.3M187.9 791.9 l0.5 -2.6M190.8 793.9 L202.5 803.3M202.5 803.3 l5.5 -3.3M200.9 802.1 l5.5 -3.3M199.4 800.8 l2.4 -1.3M204.6 793.9 L219.2 790.2M219.2 790.2 l0.7 -6.4M217.2 790.7 l0.7 -6.4M218.4 793.9 L230.4 802.9M230.4 802.9 l5.4 -3.5M228.8 801.7 l5.4 -3.5M227.2 800.5 l2.3 -1.4M232.2 793.9 L246.8 790.2M246.8 790.2 l0.7 -6.4M244.8 790.7 l0.7 -6.4M242.9 791.2 l0.7 -6.4M246.0 793.9 L260.8 791.3M260.8 791.3 l1.2 -6.3M258.8 791.7 l1.2 -6.3M259.8 793.9 L273.5 787.8M273.5 787.8 l-0.4 -6.4M271.7 788.6 l-0.4 -6.4M269.8 789.4 l-0.4 -6.4M273.6 793.9 L284.3 804.3M284.3 804.3 l5.8 -2.8M282.9 802.9 l5.8 -2.8M281.5 801.5 l5.8 -2.8M280.0 800.1 l2.5 -1.1M287.3 793.9 L300.9 800.3M300.9 800.3 l4.6 -4.5M299.1 799.4 l4.6 -4.5M297.3 798.6 l4.6 -4.5M295.5 797.7 l2.0 -1.8M301.1 793.9 L316.1 792.5M316.1 792.5 l1.6 -6.2M314.1 792.7 l0.8 -2.6M314.9 793.9 L329.9 793.6M329.9 793.6 l2.1 -6.0M327.9 793.6 l2.1 -6.0M325.9 793.7 l2.1 -6.0M323.9 793.7 l1.0 -2.5M328.7 793.9 L343.6 795.3M343.6 795.3 l2.8 -5.8M341.6 795.1 l2.8 -5.8M339.6 794.9 l2.8 -5.8M342.5 793.9 L356.5 799.2M356.5 799.2 l4.2 -4.8M354.6 798.4 l4.2 -4.8M352.8 797.7 l4.2 -4.8M356.3 793.9 L370.1 799.7M370.1 799.7 l4.4 -4.7M368.2 798.9 l4.4 -4.7M366.4 798.1 l1.9 -1.9M370.0 793.9 L385.0 795.1M385.0 795.1 l2.7 -5.8M383.0 794.9 l2.7 -5.8M381.0 794.8 l2.7 -5.8M379.0 794.6 l2.7 -5.8M377.0 794.4 l1.2 -2.4M383.8 793.9 L398.6 796.3M398.6 796.3 l3.2 -5.6M396.7 796.0 l3.2 -5.6M394.7 795.7 l1.4 -2.3M397.6 793.9 L412.5 796.0M412.5 796.0 l3.0 -5.6M410.5 795.7 l3.0 -5.6M408.5 795.4 l3.0 -5.6M406.5 795.1 l1.3 -2.3M411.4 793.9 L426.4 795.0M426.4 795.0 l2.6 -5.8M424.4 794.8 l1.2 -2.4M425.2 793.9 L440.1 792.5M440.1 792.5 l1.6 -6.2M439.0 793.9 L453.2 798.6M453.2 798.6 l4.0 -5.0M452.8 793.9 L465.6 801.6M464.1 800.6 l2.1 -1.6M466.5 793.9 L481.5 794.9M481.5 794.9 l2.6 -5.8M480.3 793.9 L495.3 794.6M495.3 794.6 l2.5 -5.9M493.3 794.5 l1.1 -2.4M494.1 793.9 L507.4 800.9M507.4 800.9 l4.8 -4.3M507.9 793.9 L521.0 801.2M521.0 801.2 l4.9 -4.2M519.2 800.2 l4.9 -4.2M521.7 793.9 L533.5 803.0M533.5 803.0 l5.4 -3.4M532.0 801.8 l2.3 -1.4M535.5 793.9 L549.4 799.5M549.4 799.5 l4.3 -4.7M547.5 798.8 l1.9 -1.9M549.2 793.9 L564.0 790.9M564.0 790.9 l1.0 -6.3M563.0 793.9 L578.0 792.8M576.2 793.0 l0.8 -2.6M576.8 793.9 L589.1 802.4M589.1 802.4 l5.2 -3.7M587.5 801.3 l2.2 -1.5M590.6 793.9 L605.0 789.6M605.0 789.6 l0.4 -6.4M604.4 793.9 L614.9 804.6M614.9 804.6 l5.8 -2.6M618.2 793.9 L633.2 794.0M633.2 794.0 l2.3 -6.0M631.2 794.0 l1.0 -2.5M632.0 793.9 L646.8 795.8M646.8 795.8 l3.0 -5.7M645.7 793.9 L660.7 795.4M658.9 795.2 l1.3 -2.4M659.5 793.9 L673.5 799.4M673.5 799.4 l4.2 -4.8M671.6 798.6 l1.8 -2.0M673.3 793.9 L687.9 790.5M687.9 790.5 l0.8 -6.3M686.0 791.0 l0.4 -2.7M687.1 793.9 L697.5 804.7M697.5 804.7 l5.9 -2.6M700.9 793.9 L713.9 801.2M713.9 801.2 l4.9 -4.1M714.7 793.9 L729.5 791.4M727.7 791.7 l0.6 -2.6M728.5 793.9 L742.2 787.8M740.5 788.5 l-0.1 -2.7M742.2 793.9 L757.2 792.4M757.2 792.4 l1.6 -6.2M756.0 793.9 L770.5 790.0M770.5 790.0 l0.6 -6.4M768.6 790.5 l0.6 -6.4M769.8 793.9 L784.6 791.3M784.6 791.3 l1.1 -6.3M782.6 791.6 l1.1 -6.3M783.6 793.9 L798.6 793.8M798.6 793.8 l2.2 -6.0M797.4 793.9 L807.2 805.2M807.2 805.2 l6.0 -2.3M805.9 803.7 l2.5 -0.9M811.2 793.9 L822.9 803.2M821.5 802.1 l2.3 -1.3M824.9 793.9 L839.7 791.1M839.7 791.1 l1.1 -6.3M837.7 791.5 l1.1 -6.3M835.8 791.9 l1.1 -6.3M838.7 793.9 L852.2 787.3M852.2 787.3 l-0.6 -6.4M850.4 788.2 l-0.6 -6.4M848.6 789.1 l-0.6 -6.4M53.0 810.9 L66.9 805.4M66.9 805.4 l-0.2 -6.4M65.1 806.1 l-0.2 -6.4M63.2 806.8 l-0.2 -6.4M66.8 810.9 L80.6 805.0M80.6 805.0 l-0.4 -6.4M78.7 805.7 l-0.1 -2.7M80.6 810.9 L91.9 820.7M91.9 820.7 l5.6 -3.1M90.4 819.4 l2.4 -1.2M94.4 810.9 L108.7 806.5M107.0 807.0 l0.2 -2.7M108.1 810.9 L120.8 819.0M119.2 818.0 l2.2 -1.6M121.9 810.9 L136.8 812.8M136.8 812.8 l2.9 -5.7M135.7 810.9 L149.5 816.8M149.5 816.8 l4.4 -4.7M147.7 816.0 l1.9 -1.9M149.5 810.9 L164.4 809.6M164.4 809.6 l1.7 -6.2M162.4 809.8 l1.7 -6.2M163.3 810.9 L174.2 821.2M174.2 821.2 l5.7 -2.8M172.7 819.8 l2.4 -1.1M177.1 810.9 L192.0 809.7M192.0 809.7 l1.7 -6.2M190.0 809.9 l0.8 -2.6M190.8 810.9 L204.1 803.8M204.1 803.8 l-0.9 -6.3M202.3 804.8 l-0.3 -2.7M204.6 810.9 L218.9 815.5M218.9 815.5 l3.9 -5.0M217.0 814.9 l3.9 -5.0M215.1 814.3 l3.9 -5.0M218.4 810.9 L232.6 806.1M232.6 806.1 l0.1 -6.4M230.7 806.7 l0.1 -6.4M228.8 807.4 l0.1 -6.4M226.9 808.0 l0.1 -2.7M232.2 810.9 L246.1 816.5M246.1 816.5 l4.3 -4.7M244.3 815.8 l4.3 -4.7M246.0 810.9 L259.3 804.0M259.3 804.0 l-0.8 -6.3M257.5 805.0 l-0.8 -6.3M255.8 805.9 l-0.3 -2.7M259.8 810.9 L272.3 819.1M272.3 819.1 l5.1 -3.8M270.6 818.0 l5.1 -3.8M269.0 816.9 l5.1 -3.8M273.6 810.9 L287.1 804.5M287.1 804.5 l-0.6 -6.4M285.3 805.4 l-0.6 -6.4M283.5 806.2 l-0.6 -6.4M287.3 810.9 L301.0 817.2M301.0 817.2 l4.5 -4.5M299.1 816.4 l4.5 -4.5M297.3 815.5 l4.5 -4.5M295.5 814.7 l2.0 -1.9M301.1 810.9 L316.1 810.6M316.1 810.6 l2.1 -6.0M314.1 810.6 l2.1 -6.0M312.1 810.7 l2.1 -6.0M314.9 810.9 L329.4 814.8M329.4 814.8 l3.7 -5.2M327.5 814.3 l3.7 -5.2M325.5 813.8 l3.7 -5.2M328.7 810.9 L342.7 805.5M342.7 805.5 l-0.1 -6.4M340.8 806.2 l-0.1 -6.4M339.0 806.9 l-0.1 -6.4M342.5 810.9 L352.2 822.3M352.2 822.3 l6.0 -2.2M350.9 820.8 l6.0 -2.2M349.6 819.3 l6.0 -2.2M356.3 810.9 L370.4 815.8M370.4 815.8 l4.0 -4.9M368.5 815.2 l4.0 -4.9M366.7 814.5 l4.0 -4.9M364.8 813.9 l1.8 -2.0M370.0 810.9 L380.8 821.4M380.8 821.4 l5.8 -2.7M379.3 820.0 l5.8 -2.7M377.9 818.6 l5.8 -2.7M376.5 817.2 l2.5 -1.1M383.8 810.9 L395.5 820.4M395.5 820.4 l5.5 -3.3M397.6 810.9 L411.0 817.7M409.4 816.9 l2.0 -1.8M411.4 810.9 L424.7 803.9M424.7 803.9 l-0.9 -6.3M425.2 810.9 L440.1 809.2M438.3 809.4 l0.7 -2.6M439.0 810.9 L450.9 820.0M449.4 818.9 l2.3 -1.4M452.8 810.9 L467.7 811.5M465.9 811.4 l1.1 -2.5M466.5 810.9 L480.7 806.0M480.7 806.0 l0.1 -6.4M480.3 810.9 L494.7 806.7M493.0 807.2 l0.3 -2.7M494.1 810.9 L507.2 818.2M507.2 818.2 l4.8 -4.2M507.9 810.9 L522.7 808.6M520.9 808.8 l0.6 -2.6M521.7 810.9 L534.2 819.2M532.7 818.2 l2.2 -1.5M535.5 810.9 L550.2 808.2M548.4 808.5 l0.5 -2.6M549.2 810.9 L562.9 817.2M561.2 816.5 l2.0 -1.8M563.0 810.9 L577.9 812.5M576.2 812.3 l1.3 -2.4M576.8 810.9 L591.8 812.1M591.8 812.1 l2.7 -5.8M590.6 810.9 L605.6 811.9M605.6 811.9 l2.6 -5.8M603.6 811.7 l1.2 -2.4M604.4 810.9 L618.8 815.0M618.8 815.0 l3.8 -5.2M616.9 814.5 l3.8 -5.2M618.2 810.9 L628.9 821.4M628.9 821.4 l5.8 -2.7M627.4 820.0 l2.5 -1.1M632.0 810.9 L645.8 816.6M645.8 816.6 l4.3 -4.7M645.7 810.9 L660.6 809.0M660.6 809.0 l1.4 -6.2M659.5 810.9 L673.3 816.9M671.6 816.2 l1.9 -1.9M673.3 810.9 L688.1 813.4M686.3 813.1 l1.4 -2.3M687.1 810.9 L700.6 817.4M699.0 816.6 l2.0 -1.8M700.9 810.9 L714.7 805.1M713.0 805.8 l-0.1 -2.7M714.7 810.9 L726.3 820.4M724.9 819.2 l2.4 -1.3M728.5 810.9 L741.9 817.6M740.2 816.8 l2.0 -1.8M742.2 810.9 L755.3 803.6M755.3 803.6 l-1.0 -6.3M753.6 804.5 l-0.4 -2.7M756.0 810.9 L771.0 810.9M771.0 810.9 l2.2 -6.0M769.8 810.9 L784.8 809.7M784.8 809.7 l1.7 -6.2M782.8 809.9 l0.8 -2.6M783.6 810.9 L794.3 821.4M794.3 821.4 l5.8 -2.7M792.9 820.0 l2.5 -1.1M797.4 810.9 L811.2 816.8M811.2 816.8 l4.4 -4.7M809.3 816.0 l1.9 -1.9M811.2 810.9 L824.3 803.7M824.3 803.7 l-1.0 -6.3M824.9 810.9 L839.4 814.8M839.4 814.8 l3.7 -5.2M837.5 814.3 l3.7 -5.2M835.6 813.7 l3.7 -5.2M838.7 810.9 L850.7 820.0M850.7 820.0 l5.4 -3.5M849.1 818.8 l5.4 -3.5M847.5 817.5 l5.4 -3.5M53.0 828.0 L67.1 822.8M67.1 822.8 l0.0 -6.4M65.2 823.5 l0.1 -2.7M66.8 828.0 L81.7 829.7M81.7 829.7 l2.9 -5.7M79.7 829.5 l1.3 -2.4M80.6 828.0 L95.0 832.0M95.0 832.0 l3.7 -5.2M93.1 831.4 l3.7 -5.2M94.4 828.0 L108.9 824.2M108.9 824.2 l0.6 -6.4M106.9 824.7 l0.6 -6.4M108.1 828.0 L123.1 828.0M123.1 828.0 l2.2 -6.0M121.1 828.0 l1.0 -2.5M121.9 828.0 L136.9 826.9M136.9 826.9 l1.8 -6.1M134.9 827.1 l0.8 -2.6M135.7 828.0 L149.9 832.7M149.9 832.7 l4.0 -5.0M148.0 832.1 l4.0 -5.0M146.1 831.4 l1.7 -2.1M149.5 828.0 L160.8 837.8M160.8 837.8 l5.6 -3.1M159.3 836.5 l5.6 -3.1M157.8 835.2 l2.4 -1.2M163.3 828.0 L177.3 833.2M177.3 833.2 l4.1 -4.9M175.5 832.5 l1.8 -2.0M177.1 828.0 L191.7 824.5M191.7 824.5 l0.7 -6.3M189.7 824.9 l0.7 -6.3M190.8 828.0 L202.3 837.7M202.3 837.7 l5.6 -3.2M200.8 836.4 l5.6 -3.2M199.2 835.1 l5.6 -3.2M204.6 828.0 L218.0 821.1M218.0 821.1 l-0.8 -6.3M216.2 822.0 l-0.8 -6.3M214.4 823.0 l-0.8 -6.3M218.4 828.0 L232.6 823.1M232.6 823.1 l0.2 -6.4M230.7 823.8 l0.2 -6.4M228.8 824.4 l0.1 -2.7M232.2 828.0 L243.4 837.9M243.4 837.9 l5.6 -3.0M246.0 828.0 L260.4 832.0M258.7 831.5 l1.6 -2.1M259.8 828.0 L272.8 820.5M272.8 820.5 l-1.1 -6.3M271.1 821.5 l-0.4 -2.7M273.6 828.0 L286.8 835.1M286.8 835.1 l4.8 -4.2M285.0 834.1 l2.1 -1.7M287.3 828.0 L297.2 839.2M297.2 839.2 l6.0 -2.3M295.9 837.7 l2.5 -0.9M301.1 828.0 L313.0 837.1M313.0 837.1 l5.4 -3.4M311.4 835.9 l2.3 -1.4M314.9 828.0 L329.5 831.2M329.5 831.2 l3.5 -5.4M327.6 830.8 l1.5 -2.2M328.7 828.0 L342.1 834.6M342.1 834.6 l4.6 -4.4M340.3 833.7 l4.6 -4.4M342.5 828.0 L357.4 827.0M357.4 827.0 l1.8 -6.1M355.5 827.1 l1.8 -6.1M356.3 828.0 L370.9 824.8M370.9 824.8 l0.9 -6.3M369.0 825.2 l0.4 -2.7M370.0 828.0 L384.2 832.9M384.2 832.9 l4.1 -4.9M382.3 832.2 l1.8 -2.0M383.8 828.0 L393.5 839.4M393.5 839.4 l6.0 -2.2M392.2 837.9 l2.6 -0.9M397.6 828.0 L412.1 824.2M412.1 824.2 l0.6 -6.4M410.2 824.7 l0.3 -2.7M411.4 828.0 L426.2 825.7M426.2 825.7 l1.3 -6.3M424.3 826.0 l1.3 -6.3M425.2 828.0 L439.6 823.9M439.6 823.9 l0.5 -6.4M439.0 828.0 L451.5 836.3M451.5 836.3 l5.2 -3.8M449.8 835.2 l2.2 -1.5M452.8 828.0 L467.0 823.3M467.0 823.3 l0.2 -6.4M465.1 823.9 l0.2 -2.7M466.5 828.0 L481.0 831.9M481.0 831.9 l3.7 -5.2M480.3 828.0 L495.3 829.2M493.5 829.1 l1.2 -2.4M494.1 828.0 L505.7 837.4M505.7 837.4 l5.5 -3.3M507.9 828.0 L519.1 838.0M519.1 838.0 l5.6 -3.0M517.6 836.6 l2.4 -1.2M521.7 828.0 L536.5 830.2M536.5 830.2 l3.1 -5.6M535.5 828.0 L549.3 833.7M547.7 833.0 l1.9 -1.9M549.2 828.0 L562.7 834.6M561.1 833.8 l2.0 -1.8M563.0 828.0 L577.1 833.1M575.4 832.5 l1.8 -2.0M576.8 828.0 L587.8 838.2M586.5 837.0 l2.4 -1.1M590.6 828.0 L605.4 830.6M603.6 830.3 l1.4 -2.3M604.4 828.0 L619.1 824.9M617.3 825.2 l0.5 -2.7M618.2 828.0 L628.2 839.1M627.0 837.8 l2.5 -0.9M632.0 828.0 L643.1 837.9M643.1 837.9 l5.6 -3.0M645.7 828.0 L659.7 833.5M658.0 832.8 l1.9 -2.0M659.5 828.0 L673.6 822.6M671.9 823.3 l0.1 -2.7M673.3 828.0 L688.2 829.7M688.2 829.7 l2.9 -5.7M687.1 828.0 L701.6 824.2M701.6 824.2 l0.6 -6.4M699.7 824.7 l0.3 -2.7M700.9 828.0 L715.4 824.3M715.4 824.3 l0.7 -6.4M714.7 828.0 L728.9 823.1M728.9 823.1 l0.1 -6.4M727.0 823.7 l0.1 -2.7M728.5 828.0 L739.1 838.6M739.1 838.6 l5.8 -2.7M737.6 837.1 l5.8 -2.7M742.2 828.0 L754.8 836.2M754.8 836.2 l5.1 -3.8M753.1 835.1 l2.2 -1.5M756.0 828.0 L769.5 821.4M769.5 821.4 l-0.6 -6.4M767.7 822.3 l-0.6 -6.4M769.8 828.0 L780.9 838.1M779.6 836.9 l2.4 -1.2M783.6 828.0 L797.6 833.3M797.6 833.3 l4.2 -4.8M797.4 828.0 L811.7 823.4M810.0 824.0 l0.2 -2.7M811.2 828.0 L826.1 829.5M826.1 829.5 l2.8 -5.7M824.9 828.0 L836.5 837.5M835.1 836.4 l2.4 -1.3M838.7 828.0 L853.5 830.4M853.5 830.4 l3.1 -5.6M851.6 830.0 l1.4 -2.3M53.0 845.0 L63.3 855.9M63.3 855.9 l5.9 -2.5M66.8 845.0 L79.8 837.5M79.8 837.5 l-1.1 -6.3M78.1 838.5 l-0.4 -2.7M80.6 845.0 L95.0 841.0M95.0 841.0 l0.5 -6.4M94.4 845.0 L105.5 855.1M105.5 855.1 l5.7 -3.0M108.1 845.0 L122.9 847.7M122.9 847.7 l3.2 -5.5M121.9 845.0 L135.7 850.8M134.1 850.1 l1.9 -1.9M135.7 845.0 L150.4 848.0M148.6 847.6 l1.5 -2.3M149.5 845.0 L164.3 847.1M164.3 847.1 l3.0 -5.6M162.4 846.8 l1.3 -2.3M163.3 845.0 L177.2 839.4M177.2 839.4 l-0.2 -6.4M177.1 845.0 L191.9 847.1M191.9 847.1 l3.0 -5.6M190.8 845.0 L203.8 852.5M203.8 852.5 l4.9 -4.1M204.6 845.0 L219.6 845.4M217.8 845.4 l1.1 -2.5M218.4 845.0 L233.0 848.4M233.0 848.4 l3.5 -5.3M231.1 847.9 l1.5 -2.2M232.2 845.0 L243.8 854.5M243.8 854.5 l5.5 -3.3M246.0 845.0 L261.0 844.3M261.0 844.3 l1.9 -6.1M259.8 845.0 L273.0 838.0M273.0 838.0 l-0.8 -6.3M271.3 838.9 l-0.8 -6.3M273.6 845.0 L288.0 849.2M288.0 849.2 l3.8 -5.2M286.0 848.6 l1.7 -2.1M287.3 845.0 L301.4 850.1M301.4 850.1 l4.1 -4.9M299.6 849.4 l1.8 -2.0M301.1 845.0 L315.9 847.4M315.9 847.4 l3.1 -5.6M314.9 845.0 L329.9 845.1M329.9 845.1 l2.2 -6.0M328.7 845.0 L341.7 837.5M341.7 837.5 l-1.1 -6.3M340.0 838.5 l-0.4 -2.7M342.5 845.0 L352.4 856.3M352.4 856.3 l6.0 -2.3M351.1 854.8 l2.5 -0.9M356.3 845.0 L371.3 844.9M371.3 844.9 l2.2 -6.0M370.0 845.0 L381.6 854.6M381.6 854.6 l5.5 -3.2M380.0 853.3 l5.5 -3.2M383.8 845.0 L398.5 841.8M398.5 841.8 l0.9 -6.3M396.5 842.3 l0.9 -6.3M397.6 845.0 L412.2 848.3M412.2 848.3 l3.5 -5.4M410.3 847.9 l1.5 -2.2M411.4 845.0 L424.0 853.1M424.0 853.1 l5.1 -3.8M422.3 852.1 l2.2 -1.6M425.2 845.0 L439.5 840.4M439.5 840.4 l0.3 -6.4M437.6 841.0 l0.2 -2.7M439.0 845.0 L452.9 839.5M452.9 839.5 l-0.1 -6.4M451.1 840.3 l-0.1 -6.4M452.8 845.0 L467.7 844.4M467.7 844.4 l2.0 -6.1M465.7 844.5 l0.9 -2.5M466.5 845.0 L480.0 851.6M480.0 851.6 l4.6 -4.4M480.3 845.0 L493.5 852.2M491.9 851.4 l2.1 -1.7M494.1 845.0 L507.4 851.9M507.4 851.9 l4.7 -4.3M507.9 845.0 L521.4 851.5M519.8 850.7 l2.0 -1.8M521.7 845.0 L536.5 843.0M536.5 843.0 l1.4 -6.2M535.5 845.0 L548.6 837.7M547.0 838.6 l-0.3 -2.7M549.2 845.0 L562.6 851.8M561.0 851.0 l2.0 -1.8M563.0 845.0 L573.5 855.8M573.5 855.8 l5.8 -2.6M576.8 845.0 L590.4 838.7M588.8 839.4 l-0.1 -2.7M590.6 845.0 L604.5 839.3M602.8 839.9 l-0.0 -2.7M604.4 845.0 L619.2 842.5M619.2 842.5 l1.2 -6.3M618.2 845.0 L632.8 848.4M632.8 848.4 l3.5 -5.3M632.0 845.0 L644.5 853.2M644.5 853.2 l5.1 -3.8M645.7 845.0 L659.1 851.8M657.5 850.9 l2.0 -1.8M659.5 845.0 L673.0 838.4M671.4 839.2 l-0.2 -2.7M673.3 845.0 L687.5 840.2M685.8 840.8 l0.2 -2.7M687.1 845.0 L702.1 844.6M702.1 844.6 l2.0 -6.1M700.1 844.7 l0.9 -2.5M700.9 845.0 L715.7 843.0M715.7 843.0 l1.4 -6.2M713.8 843.2 l0.6 -2.6M714.7 845.0 L727.6 852.6M727.6 852.6 l4.9 -4.1M725.9 851.6 l4.9 -4.1M728.5 845.0 L742.5 850.3M740.8 849.7 l1.8 -2.0M742.2 845.0 L756.2 839.6M756.2 839.6 l-0.1 -6.4M754.4 840.3 l0.0 -2.7M756.0 845.0 L770.8 847.4M770.8 847.4 l3.1 -5.6M768.9 847.0 l1.4 -2.3M769.8 845.0 L780.9 855.0M780.9 855.0 l5.7 -3.0M779.5 853.7 l2.4 -1.2M783.6 845.0 L794.6 855.2M794.6 855.2 l5.7 -2.9M793.2 853.8 l5.7 -2.9M797.4 845.0 L811.2 839.2M811.2 839.2 l-0.3 -6.4M811.2 845.0 L823.4 853.6M823.4 853.6 l5.2 -3.7M821.8 852.5 l2.3 -1.5M824.9 845.0 L838.0 837.6M838.0 837.6 l-1.0 -6.3M836.3 838.6 l-0.4 -2.7M838.7 845.0 L848.6 856.3M848.6 856.3 l6.0 -2.3M847.3 854.8 l2.5 -0.9" stroke="#000" stroke-width="0.8" fill="none"/>
<g class="n" font-size="7.6" fill="#1e3cff" stroke="#1e3cff" stroke-width="0.35" text-anchor="middle"><text x="53.0" y="370.2">−17</text><text x="66.8" y="370.2">−15</text><text x="80.6" y="370.2">−14</text><text x="94.4" y="370.2">−17</text><text x="108.1" y="370.2">−16</text><text x="121.9" y="370.2">−18</text><text x="135.7" y="370.2">−16</text><text x="149.5" y="370.2">−18</text><text x="163.3" y="370.2">−18</text><text x="177.1" y="370.2">−15</text><text x="190.8" y="370.2">−14</text><text x="204.6" y="370.2">−16</text><text x="218.4" y="370.2">−18</text><text x="232.2" y="370.2">−17</text><text x="246.0" y="370.2">−14</text><text x="259.8" y="370.2">−17</text><text x="273.6" y="370.2">−16</text><text x="287.3" y="370.2">−15</text><text x="301.1" y="370.2">−14</text><text x="314.9" y="370.2">−17</text><text x="328.7" y="370.2">−17</text><text x="342.5" y="370.2">−18</text><text x="356.3" y="370.2">−14</text><text x="370.0" y="370.2">−18</text><text x="383.8" y="370.2">−14</text><text x="397.6" y="370.2">−15</text><text x="411.4" y="370.2">−17</text><text x="425.2" y="370.2">−14</text><text x="439.0" y="370.2">−18</text><text x="452.8" y="370.2">−14</text><text x="466.5" y="370.2">−18</text><text x="480.3" y="370.2">−17</text><text x="494.1" y="370.2">−14</text><text x="507.9" y="370.2">−14</text><text x="521.7" y="370.2">−16</text><text x="535.5" y="370.2">−14</text><text x="549.2" y="370.2">−15</text><text x="563.0" y="370.2">−16</text><text x="576.8" y="370.2">−16</text><text x="590.6" y="370.2">−14</text><text x="604.4" y="370.2">−15</text><text x="618.2" y="370.2">−15</text><text x="632.0" y="370.2">−14</text><text x="645.7" y="370.2">−18</text><text x="659.5" y="370.2">−18</text><text x="673.3" y="370.2">−16</text><text x="687.1" y="370.2">−18</text><text x="700.9" y="370.2">−17</text><text x="714.7" y="370.2">−14</text><text x="728.5" y="370.2">−17</text><text x="742.2" y="370.2">−18</text><text x="756.0" y="370.2">−18</text><text x="769.8" y="370.2">−15</text><text x="783.6" y="370.2">−14</text><text x="797.4" y="370.2">−15</text><text x="811.2" y="370.2">−16</text><text x="824.9" y="370.2">−18</text><text x="838.7" y="370.2">−14</text><text x="53.0" y="387.3">−17</text><text x="66.8" y="387.3">−17</text><text x="80.6" y="387.3">−16</text><text x="94.4" y="387.3">−15</text><text x="108.1" y="387.3">−16</text><text x="121.9" y="387.3">−18</text><text x="135.7" y="387.3">−14</text><text x="149.5" y="387.3">−16</text><text x="163.3" y="387.3">−14</text><text x="177.1" y="387.3">−14</text><text x="190.8" y="387.3">−18</text><text x="204.6" y="387.3">−14</text><text x="218.4" y="387.3">−15</text><text x="232.2" y="387.3">−17</text><text x="246.0" y="387.3">−16</text><text x="259.8" y="387.3">−17</text><text x="273.6" y="387.3">−18</text><text x="287.3" y="387.3">−16</text><text x="301.1" y="387.3">−15</text><text x="314.9" y="387.3">−18</text><text x="328.7" y="387.3">−17</text><text x="342.5" y="387.3">−16</text><text x="356.3" y="387.3">−15</text><text x="370.0" y="387.3">−15</text><text x="383.8" y="387.3">−18</text><text x="397.6" y="387.3">−18</text><text x="411.4" y="387.3">−17</text><text x="425.2" y="387.3">−17</text><text x="439.0" y="387.3">−18</text><text x="452.8" y="387.3">−18</text><text x="466.5" y="387.3">−17</text><text x="480.3" y="387.3">−18</text><text x="494.1" y="387.3">−15</text><text x="507.9" y="387.3">−18</text><text x="521.7" y="387.3">−15</text><text x="535.5" y="387.3">−15</text><text x="549.2" y="387.3">−17</text><text x="563.0" y="387.3">−18</text><text x="576.8" y="387.3">−18</text><text x="590.6" y="387.3">−17</text><text x="604.4" y="387.3">−15</text><text x="618.2" y="387.3">−15</text><text x="632.0" y="387.3">−15</text><text x="645.7" y="387.3">−15</text><text x="659.5" y="387.3">−16</text><text x="673.3" y="387.3">−18</text><text x="687.1" y="387.3">−18</text><text x="700.9" y="387.3">−14</text><text x="714.7" y="387.3">−18</text><text x="728.5" y="387.3">−15</text><text x="742.2" y="387.3">−14</text><text x="756.0" y="387.3">−17</text><text x="769.8" y="387.3">−16</text><text x="783.6" y="387.3">−16</text><text x="797.4" y="387.3">−14</text><text x="811.2" y="387.3">−14</text><text x="824.9" y="387.3">−14</text><text x="838.7" y="387.3">−15</text><text x="53.0" y="404.3">−14</text><text x="66.8" y="404.3">−14</text><text x="80.6" y="404.3">−14</text><text x="94.4" y="404.3">−12</text><text x="108.1" y="404.3">−16</text><text x="121.9" y="404.3">−12</text><text x="135.7" y="404.3">−12</text><text x="149.5" y="404.3">−15</text><text x="163.3" y="404.3">−15</text><text x="177.1" y="404.3">−15</text><text x="190.8" y="404.3">−16</text><text x="204.6" y="404.3">−15</text><text x="218.4" y="404.3">−13</text><text x="232.2" y="404.3">−12</text><text x="246.0" y="404.3">−15</text><text x="259.8" y="404.3">−13</text><text x="273.6" y="404.3">−12</text><text x="287.3" y="404.3">−13</text><text x="301.1" y="404.3">−13</text><text x="314.9" y="404.3">−15</text><text x="328.7" y="404.3">−14</text><text x="342.5" y="404.3">−15</text><text x="356.3" y="404.3">−14</text><text x="370.0" y="404.3">−15</text><text x="383.8" y="404.3">−16</text><text x="397.6" y="404.3">−14</text><text x="411.4" y="404.3">−16</text><text x="425.2" y="404.3">−12</text><text x="439.0" y="404.3">−12</text><text x="452.8" y="404.3">−15</text><text x="466.5" y="404.3">−13</text><text x="480.3" y="404.3">−12</text><text x="494.1" y="404.3">−14</text><text x="507.9" y="404.3">−14</text><text x="521.7" y="404.3">−13</text><text x="535.5" y="404.3">−13</text><text x="549.2" y="404.3">−12</text><text x="563.0" y="404.3">−12</text><text x="576.8" y="404.3">−13</text><text x="590.6" y="404.3">−13</text><text x="604.4" y="404.3">−13</text><text x="618.2" y="404.3">−16</text><text x="632.0" y="404.3">−15</text><text x="645.7" y="404.3">−16</text><text x="659.5" y="404.3">−15</text><text x="673.3" y="404.3">−12</text><text x="687.1" y="404.3">−13</text><text x="700.9" y="404.3">−12</text><text x="714.7" y="404.3">−16</text><text x="728.5" y="404.3">−12</text><text x="742.2" y="404.3">−16</text><text x="756.0" y="404.3">−15</text><text x="769.8" y="404.3">−16</text><text x="783.6" y="404.3">−14</text><text x="797.4" y="404.3">−15</text><text x="811.2" y="404.3">−15</text><text x="824.9" y="404.3">−12</text><text x="838.7" y="404.3">−12</text><text x="53.0" y="421.4">−6</text><text x="66.8" y="421.4">−7</text><text x="80.6" y="421.4">−7</text><text x="94.4" y="421.4">−7</text><text x="108.1" y="421.4">−8</text><text x="121.9" y="421.4">−7</text><text x="135.7" y="421.4">−8</text><text x="149.5" y="421.4">−9</text><text x="163.3" y="421.4">−7</text><text x="177.1" y="421.4">−7</text><text x="190.8" y="421.4">−10</text><text x="204.6" y="421.4">−6</text><text x="218.4" y="421.4">−6</text><text x="232.2" y="421.4">−7</text><text x="246.0" y="421.4">−9</text><text x="259.8" y="421.4">−8</text><text x="273.6" y="421.4">−10</text><text x="287.3" y="421.4">−6</text><text x="301.1" y="421.4">−8</text><text x="314.9" y="421.4">−8</text><text x="328.7" y="421.4">−8</text><text x="342.5" y="421.4">−8</text><text x="356.3" y="421.4">−9</text><text x="370.0" y="421.4">−9</text><text x="383.8" y="421.4">−10</text><text x="397.6" y="421.4">−9</text><text x="411.4" y="421.4">−10</text><text x="425.2" y="421.4">−8</text><text x="439.0" y="421.4">−10</text><text x="452.8" y="421.4">−10</text><text x="466.5" y="421.4">−9</text><text x="480.3" y="421.4">−10</text><text x="494.1" y="421.4">−8</text><text x="507.9" y="421.4">−9</text><text x="521.7" y="421.4">−7</text><text x="535.5" y="421.4">−8</text><text x="549.2" y="421.4">−7</text><text x="563.0" y="421.4">−6</text><text x="576.8" y="421.4">−9</text><text x="590.6" y="421.4">−9</text><text x="604.4" y="421.4">−8</text><text x="618.2" y="421.4">−10</text><text x="632.0" y="421.4">−10</text><text x="645.7" y="421.4">−10</text><text x="659.5" y="421.4">−6</text><text x="673.3" y="421.4">−8</text><text x="687.1" y="421.4">−10</text><text x="700.9" y="421.4">−7</text><text x="714.7" y="421.4">−9</text><text x="728.5" y="421.4">−9</text><text x="742.2" y="421.4">−7</text><text x="756.0" y="421.4">−7</text><text x="769.8" y="421.4">−8</text><text x="783.6" y="421.4">−8</text><text x="797.4" y="421.4">−7</text><text x="811.2" y="421.4">−10</text><text x="824.9" y="421.4">−10</text><text x="838.7" y="421.4">−10</text><text x="53.0" y="438.4">−2</text><text x="66.8" y="438.4">−2</text><text x="80.6" y="438.4">−1</text><text x="94.4" y="438.4">−1</text><text x="108.1" y="438.4">−5</text><text x="121.9" y="438.4">−1</text><text x="135.7" y="438.4">−4</text><text x="149.5" y="438.4">−2</text><text x="163.3" y="438.4">−1</text><text x="177.1" y="438.4">−5</text><text x="190.8" y="438.4">−4</text><text x="204.6" y="438.4">−1</text><text x="218.4" y="438.4">−3</text><text x="232.2" y="438.4">−2</text><text x="246.0" y="438.4">−5</text><text x="259.8" y="438.4">−5</text><text x="273.6" y="438.4">−3</text><text x="287.3" y="438.4">−2</text><text x="301.1" y="438.4">−2</text><text x="314.9" y="438.4">−2</text><text x="328.7" y="438.4">−1</text><text x="342.5" y="438.4">−4</text><text x="356.3" y="438.4">−2</text><text x="370.0" y="438.4">−5</text><text x="383.8" y="438.4">−2</text><text x="397.6" y="438.4">−2</text><text x="411.4" y="438.4">−1</text><text x="425.2" y="438.4">−3</text><text x="439.0" y="438.4">−4</text><text x="452.8" y="438.4">−1</text><text x="466.5" y="438.4">−3</text><text x="480.3" y="438.4">−5</text><text x="494.1" y="438.4">−2</text><text x="507.9" y="438.4">−3</text><text x="521.7" y="438.4">−1</text><text x="535.5" y="438.4">−5</text><text x="549.2" y="438.4">−3</text><text x="563.0" y="438.4">−2</text><text x="576.8" y="438.4">−5</text><text x="590.6" y="438.4">−2</text><text x="604.4" y="438.4">−3</text><text x="618.2" y="438.4">−4</text><text x="632.0" y="438.4">−2</text><text x="645.7" y="438.4">−1</text><text x="659.5" y="438.4">−3</text><text x="673.3" y="438.4">−1</text><text x="687.1" y="438.4">−1</text><text x="700.9" y="438.4">−4</text><text x="714.7" y="438.4">−4</text><text x="728.5" y="438.4">−3</text><text x="742.2" y="438.4">−3</text><text x="756.0" y="438.4">−5</text><text x="769.8" y="438.4">−2</text><text x="783.6" y="438.4">−2</text><text x="797.4" y="438.4">−4</text><text x="811.2" y="438.4">−4</text><text x="824.9" y="438.4">−1</text><text x="838.7" y="438.4">−4</text><text x="53.0" y="455.5">3</text><text x="66.8" y="455.5">2</text><text x="80.6" y="455.5">6</text><text x="94.4" y="455.5">5</text><text x="108.1" y="455.5">6</text><text x="121.9" y="455.5">2</text><text x="135.7" y="455.5">2</text><text x="149.5" y="455.5">5</text><text x="163.3" y="455.5">5</text><text x="177.1" y="455.5">5</text><text x="190.8" y="455.5">3</text><text x="204.6" y="455.5">3</text><text x="218.4" y="455.5">2</text><text x="232.2" y="455.5">2</text><text x="246.0" y="455.5">6</text><text x="259.8" y="455.5">4</text><text x="273.6" y="455.5">3</text><text x="287.3" y="455.5">5</text><text x="301.1" y="455.5">4</text><text x="314.9" y="455.5">6</text><text x="328.7" y="455.5">6</text><text x="342.5" y="455.5">3</text><text x="356.3" y="455.5">3</text><text x="370.0" y="455.5">2</text><text x="383.8" y="455.5">6</text><text x="397.6" y="455.5">6</text><text x="411.4" y="455.5">2</text><text x="425.2" y="455.5">6</text><text x="439.0" y="455.5">6</text><text x="452.8" y="455.5">6</text><text x="466.5" y="455.5">4</text><text x="480.3" y="455.5">4</text><text x="494.1" y="455.5">6</text><text x="507.9" y="455.5">4</text><text x="521.7" y="455.5">2</text><text x="535.5" y="455.5">5</text><text x="549.2" y="455.5">6</text><text x="563.0" y="455.5">6</text><text x="576.8" y="455.5">2</text><text x="590.6" y="455.5">2</text><text x="604.4" y="455.5">2</text><text x="618.2" y="455.5">6</text><text x="632.0" y="455.5">2</text><text x="645.7" y="455.5">6</text><text x="659.5" y="455.5">4</text><text x="673.3" y="455.5">6</text><text x="687.1" y="455.5">3</text><text x="700.9" y="455.5">4</text><text x="714.7" y="455.5">4</text><text x="728.5" y="455.5">4</text><text x="742.2" y="455.5">6</text><text x="756.0" y="455.5">6</text><text x="769.8" y="455.5">6</text><text x="783.6" y="455.5">2</text><text x="797.4" y="455.5">2</text><text x="811.2" y="455.5">5</text><text x="824.9" y="455.5">4</text><text x="838.7" y="455.5">4</text><text x="53.0" y="472.5">6</text><text x="66.8" y="472.5">6</text><text x="80.6" y="472.5">8</text><text x="94.4" y="472.5">5</text><text x="108.1" y="472.5">6</text><text x="121.9" y="472.5">5</text><text x="135.7" y="472.5">6</text><text x="149.5" y="472.5">7</text><text x="163.3" y="472.5">6</text><text x="177.1" y="472.5">4</text><text x="190.8" y="472.5">8</text><text x="204.6" y="472.5">8</text><text x="218.4" y="472.5">4</text><text x="232.2" y="472.5">6</text><text x="246.0" y="472.5">8</text><text x="259.8" y="472.5">5</text><text x="273.6" y="472.5">5</text><text x="287.3" y="472.5">4</text><text x="301.1" y="472.5">4</text><text x="314.9" y="472.5">4</text><text x="328.7" y="472.5">4</text><text x="342.5" y="472.5">8</text><text x="356.3" y="472.5">8</text><text x="370.0" y="472.5">7</text><text x="383.8" y="472.5">8</text><text x="397.6" y="472.5">8</text><text x="411.4" y="472.5">4</text><text x="425.2" y="472.5">4</text><text x="439.0" y="472.5">5</text><text x="452.8" y="472.5">4</text><text x="466.5" y="472.5">5</text><text x="480.3" y="472.5">8</text><text x="494.1" y="472.5">4</text><text x="507.9" y="472.5">8</text><text x="521.7" y="472.5">4</text><text x="535.5" y="472.5">7</text><text x="549.2" y="472.5">5</text><text x="563.0" y="472.5">5</text><text x="576.8" y="472.5">5</text><text x="590.6" y="472.5">6</text><text x="604.4" y="472.5">4</text><text x="618.2" y="472.5">8</text><text x="632.0" y="472.5">8</text><text x="645.7" y="472.5">5</text><text x="659.5" y="472.5">5</text><text x="673.3" y="472.5">8</text><text x="687.1" y="472.5">7</text><text x="700.9" y="472.5">6</text><text x="714.7" y="472.5">4</text><text x="728.5" y="472.5">8</text><text x="742.2" y="472.5">5</text><text x="756.0" y="472.5">5</text><text x="769.8" y="472.5">5</text><text x="783.6" y="472.5">5</text><text x="797.4" y="472.5">8</text><text x="811.2" y="472.5">5</text><text x="824.9" y="472.5">5</text><text x="838.7" y="472.5">7</text><text x="53.0" y="489.6">12</text><text x="66.8" y="489.6">11</text><text x="80.6" y="489.6">11</text><text x="94.4" y="489.6">11</text><text x="108.1" y="489.6">11</text><text x="121.9" y="489.6">11</text><text x="135.7" y="489.6">13</text><text x="149.5" y="489.6">13</text><text x="163.3" y="489.6">9</text><text x="177.1" y="489.6">12</text><text x="190.8" y="489.6">11</text><text x="204.6" y="489.6">11</text><text x="218.4" y="489.6">9</text><text x="232.2" y="489.6">10</text><text x="246.0" y="489.6">13</text><text x="259.8" y="489.6">12</text><text x="273.6" y="489.6">13</text><text x="287.3" y="489.6">11</text><text x="301.1" y="489.6">10</text><text x="314.9" y="489.6">12</text><text x="328.7" y="489.6">10</text><text x="342.5" y="489.6">12</text><text x="356.3" y="489.6">11</text><text x="370.0" y="489.6">10</text><text x="383.8" y="489.6">12</text><text x="397.6" y="489.6">9</text><text x="411.4" y="489.6">9</text><text x="425.2" y="489.6">11</text><text x="439.0" y="489.6">11</text><text x="452.8" y="489.6">10</text><text x="466.5" y="489.6">11</text><text x="480.3" y="489.6">10</text><text x="494.1" y="489.6">12</text><text x="507.9" y="489.6">10</text><text x="521.7" y="489.6">12</text><text x="535.5" y="489.6">12</text><text x="549.2" y="489.6">11</text><text x="563.0" y="489.6">12</text><text x="576.8" y="489.6">11</text><text x="590.6" y="489.6">13</text><text x="604.4" y="489.6">12</text><text x="618.2" y="489.6">11</text><text x="632.0" y="489.6">11</text><text x="645.7" y="489.6">9</text><text x="659.5" y="489.6">10</text><text x="673.3" y="489.6">13</text><text x="687.1" y="489.6">12</text><text x="700.9" y="489.6">9</text><text x="714.7" y="489.6">12</text><text x="728.5" y="489.6">10</text><text x="742.2" y="489.6">9</text><text x="756.0" y="489.6">9</text><text x="769.8" y="489.6">12</text><text x="783.6" y="489.6">11</text><text x="797.4" y="489.6">12</text><text x="811.2" y="489.6">12</text><text x="824.9" y="489.6">9</text><text x="838.7" y="489.6">10</text><text x="53.0" y="506.6">15</text><text x="66.8" y="506.6">17</text><text x="80.6" y="506.6">15</text><text x="94.4" y="506.6">15</text><text x="108.1" y="506.6">15</text><text x="121.9" y="506.6">16</text><text x="135.7" y="506.6">16</text><text x="149.5" y="506.6">16</text><text x="163.3" y="506.6">18</text><text x="177.1" y="506.6">17</text><text x="190.8" y="506.6">18</text><text x="204.6" y="506.6">16</text><text x="218.4" y="506.6">18</text><text x="232.2" y="506.6">14</text><text x="246.0" y="506.6">16</text><text x="259.8" y="506.6">16</text><text x="273.6" y="506.6">17</text><text x="287.3" y="506.6">14</text><text x="301.1" y="506.6">16</text><text x="314.9" y="506.6">14</text><text x="328.7" y="506.6">16</text><text x="342.5" y="506.6">18</text><text x="356.3" y="506.6">14</text><text x="370.0" y="506.6">17</text><text x="383.8" y="506.6">17</text><text x="397.6" y="506.6">14</text><text x="411.4" y="506.6">18</text><text x="425.2" y="506.6">15</text><text x="439.0" y="506.6">16</text><text x="452.8" y="506.6">15</text><text x="466.5" y="506.6">18</text><text x="480.3" y="506.6">17</text><text x="494.1" y="506.6">17</text><text x="507.9" y="506.6">17</text><text x="521.7" y="506.6">16</text><text x="535.5" y="506.6">16</text><text x="549.2" y="506.6">14</text><text x="563.0" y="506.6">14</text><text x="576.8" y="506.6">18</text><text x="590.6" y="506.6">18</text><text x="604.4" y="506.6">18</text><text x="618.2" y="506.6">17</text><text x="632.0" y="506.6">15</text><text x="645.7" y="506.6">18</text><text x="659.5" y="506.6">17</text><text x="673.3" y="506.6">16</text><text x="687.1" y="506.6">16</text><text x="700.9" y="506.6">16</text><text x="714.7" y="506.6">17</text><text x="728.5" y="506.6">18</text><text x="742.2" y="506.6">14</text><text x="756.0" y="506.6">16</text><text x="769.8" y="506.6">14</text><text x="783.6" y="506.6">14</text><text x="797.4" y="506.6">17</text><text x="811.2" y="506.6">16</text><text x="824.9" y="506.6">14</text><text x="838.7" y="506.6">15</text><text x="53.0" y="523.7">18</text><text x="66.8" y="523.7">19</text><text x="80.6" y="523.7">22</text><text x="94.4" y="523.7">21</text><text x="108.1" y="523.7">19</text><text x="121.9" y="523.7">19</text><text x="135.7" y="523.7">22</text><text x="149.5" y="523.7">19</text><text x="163.3" y="523.7">22</text><text x="177.1" y="523.7">20</text><text x="190.8" y="523.7">19</text><text x="204.6" y="523.7">19</text><text x="218.4" y="523.7">19</text><text x="232.2" y="523.7">18</text><text x="246.0" y="523.7">21</text><text x="259.8" y="523.7">18</text><text x="273.6" y="523.7">22</text><text x="287.3" y="523.7">19</text><text x="301.1" y="523.7">19</text><text x="314.9" y="523.7">19</text><text x="328.7" y="523.7">20</text><text x="342.5" y="523.7">18</text><text x="356.3" y="523.7">18</text><text x="370.0" y="523.7">22</text><text x="383.8" y="523.7">19</text><text x="397.6" y="523.7">21</text><text x="411.4" y="523.7">20</text><text x="425.2" y="523.7">18</text><text x="439.0" y="523.7">22</text><text x="452.8" y="523.7">18</text><text x="466.5" y="523.7">19</text><text x="480.3" y="523.7">22</text><text x="494.1" y="523.7">18</text><text x="507.9" y="523.7">21</text><text x="521.7" y="523.7">20</text><text x="535.5" y="523.7">21</text><text x="549.2" y="523.7">21</text><text x="563.0" y="523.7">18</text><text x="576.8" y="523.7">18</text><text x="590.6" y="523.7">20</text><text x="604.4" y="523.7">22</text><text x="618.2" y="523.7">20</text><text x="632.0" y="523.7">21</text><text x="645.7" y="523.7">21</text><text x="659.5" y="523.7">20</text><text x="673.3" y="523.7">19</text><text x="687.1" y="523.7">18</text><text x="700.9" y="523.7">19</text><text x="714.7" y="523.7">20</text><text x="728.5" y="523.7">19</text><text x="742.2" y="523.7">19</text><text x="756.0" y="523.7">18</text><text x="769.8" y="523.7">20</text><text x="783.6" y="523.7">20</text><text x="797.4" y="523.7">21</text><text x="811.2" y="523.7">19</text><text x="824.9" y="523.7">20</text><text x="838.7" y="523.7">20</text><text x="53.0" y="540.7">24</text><text x="66.8" y="540.7">24</text><text x="80.6" y="540.7">22</text><text x="94.4" y="540.7">22</text><text x="108.1" y="540.7">25</text><text x="121.9" y="540.7">21</text><text x="135.7" y="540.7">22</text><text x="149.5" y="540.7">24</text><text x="163.3" y="540.7">23</text><text x="177.1" y="540.7">25</text><text x="190.8" y="540.7">21</text><text x="204.6" y="540.7">23</text><text x="218.4" y="540.7">21</text><text x="232.2" y="540.7">23</text><text x="246.0" y="540.7">21</text><text x="259.8" y="540.7">21</text><text x="273.6" y="540.7">22</text><text x="287.3" y="540.7">23</text><text x="301.1" y="540.7">22</text><text x="314.9" y="540.7">24</text><text x="328.7" y="540.7">21</text><text x="342.5" y="540.7">23</text><text x="356.3" y="540.7">25</text><text x="370.0" y="540.7">22</text><text x="383.8" y="540.7">21</text><text x="397.6" y="540.7">21</text><text x="411.4" y="540.7">24</text><text x="425.2" y="540.7">22</text><text x="439.0" y="540.7">25</text><text x="452.8" y="540.7">24</text><text x="466.5" y="540.7">22</text><text x="480.3" y="540.7">25</text><text x="494.1" y="540.7">22</text><text x="507.9" y="540.7">25</text><text x="521.7" y="540.7">21</text><text x="535.5" y="540.7">23</text><text x="549.2" y="540.7">24</text><text x="563.0" y="540.7">21</text><text x="576.8" y="540.7">25</text><text x="590.6" y="540.7">22</text><text x="604.4" y="540.7">24</text><text x="618.2" y="540.7">22</text><text x="632.0" y="540.7">24</text><text x="645.7" y="540.7">24</text><text x="659.5" y="540.7">23</text><text x="673.3" y="540.7">22</text><text x="687.1" y="540.7">21</text><text x="700.9" y="540.7">22</text><text x="714.7" y="540.7">22</text><text x="728.5" y="540.7">24</text><text x="742.2" y="540.7">21</text><text x="756.0" y="540.7">23</text><text x="769.8" y="540.7">25</text><text x="783.6" y="540.7">22</text><text x="797.4" y="540.7">25</text><text x="811.2" y="540.7">24</text><text x="824.9" y="540.7">21</text><text x="838.7" y="540.7">25</text><text x="53.0" y="557.8">26</text><text x="66.8" y="557.8">25</text><text x="80.6" y="557.8">24</text><text x="94.4" y="557.8">27</text><text x="108.1" y="557.8">25</text><text x="121.9" y="557.8">24</text><text x="135.7" y="557.8">23</text><text x="149.5" y="557.8">24</text><text x="163.3" y="557.8">26</text><text x="177.1" y="557.8">23</text><text x="190.8" y="557.8">23</text><text x="204.6" y="557.8">26</text><text x="218.4" y="557.8">23</text><text x="232.2" y="557.8">27</text><text x="246.0" y="557.8">23</text><text x="259.8" y="557.8">26</text><text x="273.6" y="557.8">23</text><text x="287.3" y="557.8">25</text><text x="301.1" y="557.8">27</text><text x="314.9" y="557.8">23</text><text x="328.7" y="557.8">25</text><text x="342.5" y="557.8">24</text><text x="356.3" y="557.8">27</text><text x="370.0" y="557.8">24</text><text x="383.8" y="557.8">24</text><text x="397.6" y="557.8">23</text><text x="411.4" y="557.8">26</text><text x="425.2" y="557.8">27</text><text x="439.0" y="557.8">27</text><text x="452.8" y="557.8">25</text><text x="466.5" y="557.8">25</text><text x="480.3" y="557.8">25</text><text x="494.1" y="557.8">27</text><text x="507.9" y="557.8">25</text><text x="521.7" y="557.8">24</text><text x="535.5" y="557.8">27</text><text x="549.2" y="557.8">27</text><text x="563.0" y="557.8">23</text><text x="576.8" y="557.8">27</text><text x="590.6" y="557.8">26</text><text x="604.4" y="557.8">27</text><text x="618.2" y="557.8">23</text><text x="632.0" y="557.8">23</text><text x="645.7" y="557.8">27</text><text x="659.5" y="557.8">27</text><text x="673.3" y="557.8">24</text><text x="687.1" y="557.8">27</text><text x="700.9" y="557.8">26</text><text x="714.7" y="557.8">24</text><text x="728.5" y="557.8">24</text><text x="742.2" y="557.8">25</text><text x="756.0" y="557.8">27</text><text x="769.8" y="557.8">23</text><text x="783.6" y="557.8">26</text><text x="797.4" y="557.8">27</text><text x="811.2" y="557.8">26</text><text x="824.9" y="557.8">25</text><text x="838.7" y="557.8">26</text><text x="53.0" y="574.8">27</text><text x="66.8" y="574.8">27</text><text x="80.6" y="574.8">29</text><text x="94.4" y="574.8">25</text><text x="108.1" y="574.8">26</text><text x="121.9" y="574.8">29</text><text x="135.7" y="574.8">28</text><text x="149.5" y="574.8">25</text><text x="163.3" y="574.8">26</text><text x="177.1" y="574.8">28</text><text x="190.8" y="574.8">26</text><text x="204.6" y="574.8">25</text><text x="218.4" y="574.8">27</text><text x="232.2" y="574.8">26</text><text x="246.0" y="574.8">25</text><text x="259.8" y="574.8">29</text><text x="273.6" y="574.8">25</text><text x="287.3" y="574.8">25</text><text x="301.1" y="574.8">29</text><text x="314.9" y="574.8">26</text><text x="328.7" y="574.8">27</text><text x="342.5" y="574.8">25</text><text x="356.3" y="574.8">29</text><text x="370.0" y="574.8">29</text><text x="383.8" y="574.8">29</text><text x="397.6" y="574.8">28</text><text x="411.4" y="574.8">25</text><text x="425.2" y="574.8">29</text><text x="439.0" y="574.8">26</text><text x="452.8" y="574.8">25</text><text x="466.5" y="574.8">26</text><text x="480.3" y="574.8">26</text><text x="494.1" y="574.8">25</text><text x="507.9" y="574.8">26</text><text x="521.7" y="574.8">28</text><text x="535.5" y="574.8">29</text><text x="549.2" y="574.8">29</text><text x="563.0" y="574.8">26</text><text x="576.8" y="574.8">25</text><text x="590.6" y="574.8">25</text><text x="604.4" y="574.8">29</text><text x="618.2" y="574.8">28</text><text x="632.0" y="574.8">26</text><text x="645.7" y="574.8">25</text><text x="659.5" y="574.8">29</text><text x="673.3" y="574.8">29</text><text x="687.1" y="574.8">29</text><text x="700.9" y="574.8">29</text><text x="714.7" y="574.8">29</text><text x="728.5" y="574.8">26</text><text x="742.2" y="574.8">25</text><text x="756.0" y="574.8">26</text><text x="769.8" y="574.8">27</text><text x="783.6" y="574.8">28</text><text x="797.4" y="574.8">26</text><text x="811.2" y="574.8">27</text><text x="824.9" y="574.8">29</text><text x="838.7" y="574.8">25</text><text x="53.0" y="591.9">26</text><text x="66.8" y="591.9">25</text><text x="80.6" y="591.9">26</text><text x="94.4" y="591.9">25</text><text x="108.1" y="591.9">29</text><text x="121.9" y="591.9">26</text><text x="135.7" y="591.9">29</text><text x="149.5" y="591.9">25</text><text x="163.3" y="591.9">29</text><text x="177.1" y="591.9">29</text><text x="190.8" y="591.9">27</text><text x="204.6" y="591.9">29</text><text x="218.4" y="591.9">26</text><text x="232.2" y="591.9">25</text><text x="246.0" y="591.9">27</text><text x="259.8" y="591.9">25</text><text x="273.6" y="591.9">26</text><text x="287.3" y="591.9">25</text><text x="301.1" y="591.9">29</text><text x="314.9" y="591.9">29</text><text x="328.7" y="591.9">26</text><text x="342.5" y="591.9">25</text><text x="356.3" y="591.9">25</text><text x="370.0" y="591.9">29</text><text x="383.8" y="591.9">26</text><text x="397.6" y="591.9">25</text><text x="411.4" y="591.9">29</text><text x="425.2" y="591.9">28</text><text x="439.0" y="591.9">27</text><text x="452.8" y="591.9">26</text><text x="466.5" y="591.9">25</text><text x="480.3" y="591.9">26</text><text x="494.1" y="591.9">27</text><text x="507.9" y="591.9">27</text><text x="521.7" y="591.9">26</text><text x="535.5" y="591.9">26</text><text x="549.2" y="591.9">26</text><text x="563.0" y="591.9">28</text><text x="576.8" y="591.9">27</text><text x="590.6" y="591.9">25</text><text x="604.4" y="591.9">26</text><text x="618.2" y="591.9">26</text><text x="632.0" y="591.9">28</text><text x="645.7" y="591.9">27</text><text x="659.5" y="591.9">26</text><text x="673.3" y="591.9">25</text><text x="687.1" y="591.9">28</text><text x="700.9" y="591.9">26</text><text x="714.7" y="591.9">25</text><text x="728.5" y="591.9">27</text><text x="742.2" y="591.9">27</text><text x="756.0" y="591.9">28</text><text x="769.8" y="591.9">25</text><text x="783.6" y="591.9">28</text><text x="797.4" y="591.9">28</text><text x="811.2" y="591.9">26</text><text x="824.9" y="591.9">26</text><text x="838.7" y="591.9">27</text><text x="53.0" y="608.9">26</text><text x="66.8" y="608.9">28</text><text x="80.6" y="608.9">27</text><text x="94.4" y="608.9">28</text><text x="108.1" y="608.9">25</text><text x="121.9" y="608.9">29</text><text x="135.7" y="608.9">29</text><text x="149.5" y="608.9">26</text><text x="163.3" y="608.9">25</text><text x="177.1" y="608.9">27</text><text x="190.8" y="608.9">29</text><text x="204.6" y="608.9">28</text><text x="218.4" y="608.9">27</text><text x="232.2" y="608.9">26</text><text x="246.0" y="608.9">26</text><text x="259.8" y="608.9">26</text><text x="273.6" y="608.9">28</text><text x="287.3" y="608.9">28</text><text x="301.1" y="608.9">27</text><text x="314.9" y="608.9">27</text><text x="328.7" y="608.9">26</text><text x="342.5" y="608.9">25</text><text x="356.3" y="608.9">25</text><text x="370.0" y="608.9">29</text><text x="383.8" y="608.9">26</text><text x="397.6" y="608.9">28</text><text x="411.4" y="608.9">27</text><text x="425.2" y="608.9">25</text><text x="439.0" y="608.9">26</text><text x="452.8" y="608.9">27</text><text x="466.5" y="608.9">27</text><text x="480.3" y="608.9">28</text><text x="494.1" y="608.9">25</text><text x="507.9" y="608.9">28</text><text x="521.7" y="608.9">25</text><text x="535.5" y="608.9">26</text><text x="549.2" y="608.9">27</text><text x="563.0" y="608.9">27</text><text x="576.8" y="608.9">26</text><text x="590.6" y="608.9">25</text><text x="604.4" y="608.9">27</text><text x="618.2" y="608.9">25</text><text x="632.0" y="608.9">26</text><text x="645.7" y="608.9">28</text><text x="659.5" y="608.9">28</text><text x="673.3" y="608.9">29</text><text x="687.1" y="608.9">28</text><text x="700.9" y="608.9">28</text><text x="714.7" y="608.9">28</text><text x="728.5" y="608.9">26</text><text x="742.2" y="608.9">28</text><text x="756.0" y="608.9">26</text><text x="769.8" y="608.9">29</text><text x="783.6" y="608.9">29</text><text x="797.4" y="608.9">26</text><text x="811.2" y="608.9">27</text><text x="824.9" y="608.9">29</text><text x="838.7" y="608.9">27</text><text x="53.0" y="626.0">29</text><text x="66.8" y="626.0">26</text><text x="80.6" y="626.0">27</text><text x="94.4" y="626.0">29</text><text x="108.1" y="626.0">28</text><text x="121.9" y="626.0">27</text><text x="135.7" y="626.0">25</text><text x="149.5" y="626.0">28</text><text x="163.3" y="626.0">25</text><text x="177.1" y="626.0">29</text><text x="190.8" y="626.0">27</text><text x="204.6" y="626.0">28</text><text x="218.4" y="626.0">26</text><text x="232.2" y="626.0">25</text><text x="246.0" y="626.0">29</text><text x="259.8" y="626.0">29</text><text x="273.6" y="626.0">28</text><text x="287.3" y="626.0">29</text><text x="301.1" y="626.0">27</text><text x="314.9" y="626.0">25</text><text x="328.7" y="626.0">27</text><text x="342.5" y="626.0">28</text><text x="356.3" y="626.0">25</text><text x="370.0" y="626.0">28</text><text x="383.8" y="626.0">29</text><text x="397.6" y="626.0">28</text><text x="411.4" y="626.0">28</text><text x="425.2" y="626.0">27</text><text x="439.0" y="626.0">26</text><text x="452.8" y="626.0">29</text><text x="466.5" y="626.0">29</text><text x="480.3" y="626.0">25</text><text x="494.1" y="626.0">27</text><text x="507.9" y="626.0">28</text><text x="521.7" y="626.0">26</text><text x="535.5" y="626.0">25</text><text x="549.2" y="626.0">29</text><text x="563.0" y="626.0">25</text><text x="576.8" y="626.0">25</text><text x="590.6" y="626.0">26</text><text x="604.4" y="626.0">26</text><text x="618.2" y="626.0">26</text><text x="632.0" y="626.0">26</text><text x="645.7" y="626.0">26</text><text x="659.5" y="626.0">28</text><text x="673.3" y="626.0">25</text><text x="687.1" y="626.0">27</text><text x="700.9" y="626.0">25</text><text x="714.7" y="626.0">26</text><text x="728.5" y="626.0">25</text><text x="742.2" y="626.0">25</text><text x="756.0" y="626.0">25</text><text x="769.8" y="626.0">25</text><text x="783.6" y="626.0">29</text><text x="797.4" y="626.0">27</text><text x="811.2" y="626.0">29</text><text x="824.9" y="626.0">28</text><text x="838.7" y="626.0">27</text><text x="53.0" y="643.0">26</text><text x="66.8" y="643.0">29</text><text x="80.6" y="643.0">25</text><text x="94.4" y="643.0">25</text><text x="108.1" y="643.0">27</text><text x="121.9" y="643.0">29</text><text x="135.7" y="643.0">29</text><text x="149.5" y="643.0">26</text><text x="163.3" y="643.0">26</text><text x="177.1" y="643.0">25</text><text x="190.8" y="643.0">27</text><text x="204.6" y="643.0">27</text><text x="218.4" y="643.0">28</text><text x="232.2" y="643.0">26</text><text x="246.0" y="643.0">28</text><text x="259.8" y="643.0">28</text><text x="273.6" y="643.0">29</text><text x="287.3" y="643.0">25</text><text x="301.1" y="643.0">28</text><text x="314.9" y="643.0">28</text><text x="328.7" y="643.0">28</text><text x="342.5" y="643.0">29</text><text x="356.3" y="643.0">29</text><text x="370.0" y="643.0">25</text><text x="383.8" y="643.0">27</text><text x="397.6" y="643.0">26</text><text x="411.4" y="643.0">26</text><text x="425.2" y="643.0">28</text><text x="439.0" y="643.0">26</text><text x="452.8" y="643.0">25</text><text x="466.5" y="643.0">29</text><text x="480.3" y="643.0">28</text><text x="494.1" y="643.0">27</text><text x="507.9" y="643.0">25</text><text x="521.7" y="643.0">26</text><text x="535.5" y="643.0">25</text><text x="549.2" y="643.0">26</text><text x="563.0" y="643.0">25</text><text x="576.8" y="643.0">29</text><text x="590.6" y="643.0">27</text><text x="604.4" y="643.0">27</text><text x="618.2" y="643.0">25</text><text x="632.0" y="643.0">28</text><text x="645.7" y="643.0">28</text><text x="659.5" y="643.0">26</text><text x="673.3" y="643.0">28</text><text x="687.1" y="643.0">26</text><text x="700.9" y="643.0">28</text><text x="714.7" y="643.0">27</text><text x="728.5" y="643.0">27</text><text x="742.2" y="643.0">28</text><text x="756.0" y="643.0">29</text><text x="769.8" y="643.0">27</text><text x="783.6" y="643.0">26</text><text x="797.4" y="643.0">26</text><text x="811.2" y="643.0">27</text><text x="824.9" y="643.0">28</text><text x="838.7" y="643.0">27</text><text x="53.0" y="660.1">28</text><text x="66.8" y="660.1">28</text><text x="80.6" y="660.1">25</text><text x="94.4" y="660.1">26</text><text x="108.1" y="660.1">26</text><text x="121.9" y="660.1">26</text><text x="135.7" y="660.1">27</text><text x="149.5" y="660.1">25</text><text x="163.3" y="660.1">25</text><text x="177.1" y="660.1">28</text><text x="190.8" y="660.1">27</text><text x="204.6" y="660.1">25</text><text x="218.4" y="660.1">28</text><text x="232.2" y="660.1">28</text><text x="246.0" y="660.1">25</text><text x="259.8" y="660.1">27</text><text x="273.6" y="660.1">26</text><text x="287.3" y="660.1">28</text><text x="301.1" y="660.1">25</text><text x="314.9" y="660.1">26</text><text x="328.7" y="660.1">29</text><text x="342.5" y="660.1">26</text><text x="356.3" y="660.1">28</text><text x="370.0" y="660.1">26</text><text x="383.8" y="660.1">28</text><text x="397.6" y="660.1">28</text><text x="411.4" y="660.1">27</text><text x="425.2" y="660.1">29</text><text x="439.0" y="660.1">27</text><text x="452.8" y="660.1">25</text><text x="466.5" y="660.1">27</text><text x="480.3" y="660.1">27</text><text x="494.1" y="660.1">28</text><text x="507.9" y="660.1">29</text><text x="521.7" y="660.1">29</text><text x="535.5" y="660.1">27</text><text x="549.2" y="660.1">27</text><text x="563.0" y="660.1">28</text><text x="576.8" y="660.1">29</text><text x="590.6" y="660.1">26</text><text x="604.4" y="660.1">29</text><text x="618.2" y="660.1">26</text><text x="632.0" y="660.1">26</text><text x="645.7" y="660.1">25</text><text x="659.5" y="660.1">28</text><text x="673.3" y="660.1">27</text><text x="687.1" y="660.1">25</text><text x="700.9" y="660.1">27</text><text x="714.7" y="660.1">29</text><text x="728.5" y="660.1">27</text><text x="742.2" y="660.1">27</text><text x="756.0" y="660.1">26</text><text x="769.8" y="660.1">29</text><text x="783.6" y="660.1">25</text><text x="797.4" y="660.1">25</text><text x="811.2" y="660.1">26</text><text x="824.9" y="660.1">29</text><text x="838.7" y="660.1">28</text><text x="53.0" y="677.1">24</text><text x="66.8" y="677.1">22</text><text x="80.6" y="677.1">23</text><text x="94.4" y="677.1">22</text><text x="108.1" y="677.1">22</text><text x="121.9" y="677.1">21</text><text x="135.7" y="677.1">21</text><text x="149.5" y="677.1">23</text><text x="163.3" y="677.1">22</text><text x="177.1" y="677.1">22</text><text x="190.8" y="677.1">24</text><text x="204.6" y="677.1">23</text><text x="218.4" y="677.1">21</text><text x="232.2" y="677.1">21</text><text x="246.0" y="677.1">24</text><text x="259.8" y="677.1">25</text><text x="273.6" y="677.1">21</text><text x="287.3" y="677.1">23</text><text x="301.1" y="677.1">23</text><text x="314.9" y="677.1">24</text><text x="328.7" y="677.1">25</text><text x="342.5" y="677.1">24</text><text x="356.3" y="677.1">25</text><text x="370.0" y="677.1">23</text><text x="383.8" y="677.1">22</text><text x="397.6" y="677.1">22</text><text x="411.4" y="677.1">21</text><text x="425.2" y="677.1">23</text><text x="439.0" y="677.1">22</text><text x="452.8" y="677.1">21</text><text x="466.5" y="677.1">24</text><text x="480.3" y="677.1">21</text><text x="494.1" y="677.1">24</text><text x="507.9" y="677.1">25</text><text x="521.7" y="677.1">21</text><text x="535.5" y="677.1">24</text><text x="549.2" y="677.1">21</text><text x="563.0" y="677.1">21</text><text x="576.8" y="677.1">24</text><text x="590.6" y="677.1">25</text><text x="604.4" y="677.1">23</text><text x="618.2" y="677.1">22</text><text x="632.0" y="677.1">21</text><text x="645.7" y="677.1">22</text><text x="659.5" y="677.1">24</text><text x="673.3" y="677.1">24</text><text x="687.1" y="677.1">25</text><text x="700.9" y="677.1">21</text><text x="714.7" y="677.1">22</text><text x="728.5" y="677.1">23</text><text x="742.2" y="677.1">24</text><text x="756.0" y="677.1">21</text><text x="769.8" y="677.1">25</text><text x="783.6" y="677.1">23</text><text x="797.4" y="677.1">22</text><text x="811.2" y="677.1">21</text><text x="824.9" y="677.1">21</text><text x="838.7" y="677.1">21</text><text x="53.0" y="694.2">18</text><text x="66.8" y="694.2">21</text><text x="80.6" y="694.2">19</text><text x="94.4" y="694.2">21</text><text x="108.1" y="694.2">21</text><text x="121.9" y="694.2">19</text><text x="135.7" y="694.2">18</text><text x="149.5" y="694.2">22</text><text x="163.3" y="694.2">18</text><text x="177.1" y="694.2">19</text><text x="190.8" y="694.2">19</text><text x="204.6" y="694.2">22</text><text x="218.4" y="694.2">20</text><text x="232.2" y="694.2">21</text><text x="246.0" y="694.2">18</text><text x="259.8" y="694.2">22</text><text x="273.6" y="694.2">19</text><text x="287.3" y="694.2">22</text><text x="301.1" y="694.2">18</text><text x="314.9" y="694.2">22</text><text x="328.7" y="694.2">20</text><text x="342.5" y="694.2">22</text><text x="356.3" y="694.2">20</text><text x="370.0" y="694.2">21</text><text x="383.8" y="694.2">20</text><text x="397.6" y="694.2">20</text><text x="411.4" y="694.2">20</text><text x="425.2" y="694.2">21</text><text x="439.0" y="694.2">20</text><text x="452.8" y="694.2">21</text><text x="466.5" y="694.2">22</text><text x="480.3" y="694.2">22</text><text x="494.1" y="694.2">20</text><text x="507.9" y="694.2">18</text><text x="521.7" y="694.2">18</text><text x="535.5" y="694.2">22</text><text x="549.2" y="694.2">18</text><text x="563.0" y="694.2">18</text><text x="576.8" y="694.2">19</text><text x="590.6" y="694.2">20</text><text x="604.4" y="694.2">18</text><text x="618.2" y="694.2">19</text><text x="632.0" y="694.2">18</text><text x="645.7" y="694.2">18</text><text x="659.5" y="694.2">18</text><text x="673.3" y="694.2">20</text><text x="687.1" y="694.2">22</text><text x="700.9" y="694.2">18</text><text x="714.7" y="694.2">22</text><text x="728.5" y="694.2">20</text><text x="742.2" y="694.2">20</text><text x="756.0" y="694.2">21</text><text x="769.8" y="694.2">19</text><text x="783.6" y="694.2">19</text><text x="797.4" y="694.2">19</text><text x="811.2" y="694.2">22</text><text x="824.9" y="694.2">21</text><text x="838.7" y="694.2">20</text><text x="53.0" y="711.2">13</text><text x="66.8" y="711.2">15</text><text x="80.6" y="711.2">17</text><text x="94.4" y="711.2">14</text><text x="108.1" y="711.2">16</text><text x="121.9" y="711.2">15</text><text x="135.7" y="711.2">17</text><text x="149.5" y="711.2">15</text><text x="163.3" y="711.2">15</text><text x="177.1" y="711.2">13</text><text x="190.8" y="711.2">16</text><text x="204.6" y="711.2">16</text><text x="218.4" y="711.2">13</text><text x="232.2" y="711.2">14</text><text x="246.0" y="711.2">16</text><text x="259.8" y="711.2">13</text><text x="273.6" y="711.2">14</text><text x="287.3" y="711.2">14</text><text x="301.1" y="711.2">14</text><text x="314.9" y="711.2">15</text><text x="328.7" y="711.2">13</text><text x="342.5" y="711.2">15</text><text x="356.3" y="711.2">14</text><text x="370.0" y="711.2">14</text><text x="383.8" y="711.2">14</text><text x="397.6" y="711.2">17</text><text x="411.4" y="711.2">14</text><text x="425.2" y="711.2">17</text><text x="439.0" y="711.2">16</text><text x="452.8" y="711.2">17</text><text x="466.5" y="711.2">15</text><text x="480.3" y="711.2">14</text><text x="494.1" y="711.2">17</text><text x="507.9" y="711.2">14</text><text x="521.7" y="711.2">17</text><text x="535.5" y="711.2">17</text><text x="549.2" y="711.2">16</text><text x="563.0" y="711.2">16</text><text x="576.8" y="711.2">13</text><text x="590.6" y="711.2">17</text><text x="604.4" y="711.2">17</text><text x="618.2" y="711.2">14</text><text x="632.0" y="711.2">13</text><text x="645.7" y="711.2">14</text><text x="659.5" y="711.2">13</text><text x="673.3" y="711.2">16</text><text x="687.1" y="711.2">13</text><text x="700.9" y="711.2">13</text><text x="714.7" y="711.2">17</text><text x="728.5" y="711.2">15</text><text x="742.2" y="711.2">15</text><text x="756.0" y="711.2">13</text><text x="769.8" y="711.2">13</text><text x="783.6" y="711.2">14</text><text x="797.4" y="711.2">17</text><text x="811.2" y="711.2">16</text><text x="824.9" y="711.2">13</text><text x="838.7" y="711.2">16</text><text x="53.0" y="728.3">13</text><text x="66.8" y="728.3">13</text><text x="80.6" y="728.3">11</text><text x="94.4" y="728.3">12</text><text x="108.1" y="728.3">13</text><text x="121.9" y="728.3">9</text><text x="135.7" y="728.3">10</text><text x="149.5" y="728.3">13</text><text x="163.3" y="728.3">11</text><text x="177.1" y="728.3">10</text><text x="190.8" y="728.3">13</text><text x="204.6" y="728.3">9</text><text x="218.4" y="728.3">12</text><text x="232.2" y="728.3">10</text><text x="246.0" y="728.3">13</text><text x="259.8" y="728.3">10</text><text x="273.6" y="728.3">9</text><text x="287.3" y="728.3">9</text><text x="301.1" y="728.3">12</text><text x="314.9" y="728.3">10</text><text x="328.7" y="728.3">11</text><text x="342.5" y="728.3">13</text><text x="356.3" y="728.3">12</text><text x="370.0" y="728.3">11</text><text x="383.8" y="728.3">13</text><text x="397.6" y="728.3">13</text><text x="411.4" y="728.3">11</text><text x="425.2" y="728.3">11</text><text x="439.0" y="728.3">13</text><text x="452.8" y="728.3">9</text><text x="466.5" y="728.3">9</text><text x="480.3" y="728.3">9</text><text x="494.1" y="728.3">13</text><text x="507.9" y="728.3">11</text><text x="521.7" y="728.3">9</text><text x="535.5" y="728.3">9</text><text x="549.2" y="728.3">11</text><text x="563.0" y="728.3">13</text><text x="576.8" y="728.3">11</text><text x="590.6" y="728.3">13</text><text x="604.4" y="728.3">12</text><text x="618.2" y="728.3">10</text><text x="632.0" y="728.3">12</text><text x="645.7" y="728.3">11</text><text x="659.5" y="728.3">11</text><text x="673.3" y="728.3">10</text><text x="687.1" y="728.3">10</text><text x="700.9" y="728.3">9</text><text x="714.7" y="728.3">10</text><text x="728.5" y="728.3">11</text><text x="742.2" y="728.3">9</text><text x="756.0" y="728.3">11</text><text x="769.8" y="728.3">9</text><text x="783.6" y="728.3">12</text><text x="797.4" y="728.3">9</text><text x="811.2" y="728.3">13</text><text x="824.9" y="728.3">9</text><text x="838.7" y="728.3">11</text><text x="53.0" y="745.3">8</text><text x="66.8" y="745.3">5</text><text x="80.6" y="745.3">5</text><text x="94.4" y="745.3">7</text><text x="108.1" y="745.3">7</text><text x="121.9" y="745.3">8</text><text x="135.7" y="745.3">4</text><text x="149.5" y="745.3">7</text><text x="163.3" y="745.3">7</text><text x="177.1" y="745.3">7</text><text x="190.8" y="745.3">4</text><text x="204.6" y="745.3">7</text><text x="218.4" y="745.3">6</text><text x="232.2" y="745.3">6</text><text x="246.0" y="745.3">6</text><text x="259.8" y="745.3">6</text><text x="273.6" y="745.3">5</text><text x="287.3" y="745.3">8</text><text x="301.1" y="745.3">7</text><text x="314.9" y="745.3">8</text><text x="328.7" y="745.3">7</text><text x="342.5" y="745.3">7</text><text x="356.3" y="745.3">8</text><text x="370.0" y="745.3">6</text><text x="383.8" y="745.3">5</text><text x="397.6" y="745.3">7</text><text x="411.4" y="745.3">8</text><text x="425.2" y="745.3">5</text><text x="439.0" y="745.3">8</text><text x="452.8" y="745.3">6</text><text x="466.5" y="745.3">8</text><text x="480.3" y="745.3">5</text><text x="494.1" y="745.3">5</text><text x="507.9" y="745.3">7</text><text x="521.7" y="745.3">7</text><text x="535.5" y="745.3">7</text><text x="549.2" y="745.3">4</text><text x="563.0" y="745.3">6</text><text x="576.8" y="745.3">8</text><text x="590.6" y="745.3">6</text><text x="604.4" y="745.3">7</text><text x="618.2" y="745.3">7</text><text x="632.0" y="745.3">8</text><text x="645.7" y="745.3">8</text><text x="659.5" y="745.3">7</text><text x="673.3" y="745.3">8</text><text x="687.1" y="745.3">8</text><text x="700.9" y="745.3">7</text><text x="714.7" y="745.3">7</text><text x="728.5" y="745.3">6</text><text x="742.2" y="745.3">7</text><text x="756.0" y="745.3">4</text><text x="769.8" y="745.3">7</text><text x="783.6" y="745.3">4</text><text x="797.4" y="745.3">4</text><text x="811.2" y="745.3">7</text><text x="824.9" y="745.3">6</text><text x="838.7" y="745.3">8</text><text x="53.0" y="762.4">3</text><text x="66.8" y="762.4">3</text><text x="80.6" y="762.4">−1</text><text x="94.4" y="762.4">1</text><text x="108.1" y="762.4">3</text><text x="121.9" y="762.4">−1</text><text x="135.7" y="762.4">1</text><text x="149.5" y="762.4">0</text><text x="163.3" y="762.4">0</text><text x="177.1" y="762.4">−1</text><text x="190.8" y="762.4">1</text><text x="204.6" y="762.4">1</text><text x="218.4" y="762.4">3</text><text x="232.2" y="762.4">2</text><text x="246.0" y="762.4">0</text><text x="259.8" y="762.4">3</text><text x="273.6" y="762.4">1</text><text x="287.3" y="762.4">0</text><text x="301.1" y="762.4">−1</text><text x="314.9" y="762.4">1</text><text x="328.7" y="762.4">2</text><text x="342.5" y="762.4">2</text><text x="356.3" y="762.4">−1</text><text x="370.0" y="762.4">3</text><text x="383.8" y="762.4">1</text><text x="397.6" y="762.4">1</text><text x="411.4" y="762.4">−1</text><text x="425.2" y="762.4">0</text><text x="439.0" y="762.4">1</text><text x="452.8" y="762.4">1</text><text x="466.5" y="762.4">2</text><text x="480.3" y="762.4">3</text><text x="494.1" y="762.4">2</text><text x="507.9" y="762.4">0</text><text x="521.7" y="762.4">−1</text><text x="535.5" y="762.4">2</text><text x="549.2" y="762.4">−1</text><text x="563.0" y="762.4">1</text><text x="576.8" y="762.4">−1</text><text x="590.6" y="762.4">0</text><text x="604.4" y="762.4">0</text><text x="618.2" y="762.4">2</text><text x="632.0" y="762.4">0</text><text x="645.7" y="762.4">1</text><text x="659.5" y="762.4">1</text><text x="673.3" y="762.4">1</text><text x="687.1" y="762.4">3</text><text x="700.9" y="762.4">3</text><text x="714.7" y="762.4">2</text><text x="728.5" y="762.4">1</text><text x="742.2" y="762.4">1</text><text x="756.0" y="762.4">2</text><text x="769.8" y="762.4">0</text><text x="783.6" y="762.4">−1</text><text x="797.4" y="762.4">3</text><text x="811.2" y="762.4">0</text><text x="824.9" y="762.4">1</text><text x="838.7" y="762.4">3</text><text x="53.0" y="779.4">−5</text><text x="66.8" y="779.4">−4</text><text x="80.6" y="779.4">−8</text><text x="94.4" y="779.4">−8</text><text x="108.1" y="779.4">−7</text><text x="121.9" y="779.4">−5</text><text x="135.7" y="779.4">−6</text><text x="149.5" y="779.4">−7</text><text x="163.3" y="779.4">−7</text><text x="177.1" y="779.4">−6</text><text x="190.8" y="779.4">−8</text><text x="204.6" y="779.4">−8</text><text x="218.4" y="779.4">−8</text><text x="232.2" y="779.4">−6</text><text x="246.0" y="779.4">−4</text><text x="259.8" y="779.4">−7</text><text x="273.6" y="779.4">−4</text><text x="287.3" y="779.4">−8</text><text x="301.1" y="779.4">−7</text><text x="314.9" y="779.4">−4</text><text x="328.7" y="779.4">−4</text><text x="342.5" y="779.4">−4</text><text x="356.3" y="779.4">−7</text><text x="370.0" y="779.4">−5</text><text x="383.8" y="779.4">−8</text><text x="397.6" y="779.4">−5</text><text x="411.4" y="779.4">−7</text><text x="425.2" y="779.4">−6</text><text x="439.0" y="779.4">−6</text><text x="452.8" y="779.4">−5</text><text x="466.5" y="779.4">−4</text><text x="480.3" y="779.4">−5</text><text x="494.1" y="779.4">−7</text><text x="507.9" y="779.4">−5</text><text x="521.7" y="779.4">−4</text><text x="535.5" y="779.4">−4</text><text x="549.2" y="779.4">−8</text><text x="563.0" y="779.4">−8</text><text x="576.8" y="779.4">−4</text><text x="590.6" y="779.4">−6</text><text x="604.4" y="779.4">−5</text><text x="618.2" y="779.4">−6</text><text x="632.0" y="779.4">−7</text><text x="645.7" y="779.4">−5</text><text x="659.5" y="779.4">−5</text><text x="673.3" y="779.4">−6</text><text x="687.1" y="779.4">−7</text><text x="700.9" y="779.4">−6</text><text x="714.7" y="779.4">−4</text><text x="728.5" y="779.4">−8</text><text x="742.2" y="779.4">−8</text><text x="756.0" y="779.4">−6</text><text x="769.8" y="779.4">−4</text><text x="783.6" y="779.4">−6</text><text x="797.4" y="779.4">−7</text><text x="811.2" y="779.4">−8</text><text x="824.9" y="779.4">−8</text><text x="838.7" y="779.4">−5</text><text x="53.0" y="796.5">−26</text><text x="66.8" y="796.5">−26</text><text x="80.6" y="796.5">−23</text><text x="94.4" y="796.5">−26</text><text x="108.1" y="796.5">−27</text><text x="121.9" y="796.5">−26</text><text x="135.7" y="796.5">−24</text><text x="149.5" y="796.5">−27</text><text x="163.3" y="796.5">−24</text><text x="177.1" y="796.5">−26</text><text x="190.8" y="796.5">−24</text><text x="204.6" y="796.5">−27</text><text x="218.4" y="796.5">−23</text><text x="232.2" y="796.5">−26</text><text x="246.0" y="796.5">−25</text><text x="259.8" y="796.5">−23</text><text x="273.6" y="796.5">−25</text><text x="287.3" y="796.5">−26</text><text x="301.1" y="796.5">−24</text><text x="314.9" y="796.5">−26</text><text x="328.7" y="796.5">−24</text><text x="342.5" y="796.5">−23</text><text x="356.3" y="796.5">−26</text><text x="370.0" y="796.5">−23</text><text x="383.8" y="796.5">−27</text><text x="397.6" y="796.5">−27</text><text x="411.4" y="796.5">−26</text><text x="425.2" y="796.5">−27</text><text x="439.0" y="796.5">−26</text><text x="452.8" y="796.5">−26</text><text x="466.5" y="796.5">−23</text><text x="480.3" y="796.5">−25</text><text x="494.1" y="796.5">−27</text><text x="507.9" y="796.5">−23</text><text x="521.7" y="796.5">−25</text><text x="535.5" y="796.5">−24</text><text x="549.2" y="796.5">−24</text><text x="563.0" y="796.5">−27</text><text x="576.8" y="796.5">−24</text><text x="590.6" y="796.5">−23</text><text x="604.4" y="796.5">−23</text><text x="618.2" y="796.5">−23</text><text x="632.0" y="796.5">−24</text><text x="645.7" y="796.5">−25</text><text x="659.5" y="796.5">−25</text><text x="673.3" y="796.5">−26</text><text x="687.1" y="796.5">−25</text><text x="700.9" y="796.5">−27</text><text x="714.7" y="796.5">−27</text><text x="728.5" y="796.5">−24</text><text x="742.2" y="796.5">−24</text><text x="756.0" y="796.5">−23</text><text x="769.8" y="796.5">−24</text><text x="783.6" y="796.5">−24</text><text x="797.4" y="796.5">−26</text><text x="811.2" y="796.5">−26</text><text x="824.9" y="796.5">−24</text><text x="838.7" y="796.5">−26</text><text x="53.0" y="813.5">−42</text><text x="66.8" y="813.5">−42</text><text x="80.6" y="813.5">−40</text><text x="94.4" y="813.5">−40</text><text x="108.1" y="813.5">−38</text><text x="121.9" y="813.5">−39</text><text x="135.7" y="813.5">−41</text><text x="149.5" y="813.5">−38</text><text x="163.3" y="813.5">−40</text><text x="177.1" y="813.5">−41</text><text x="190.8" y="813.5">−39</text><text x="204.6" y="813.5">−41</text><text x="218.4" y="813.5">−38</text><text x="232.2" y="813.5">−40</text><text x="246.0" y="813.5">−40</text><text x="259.8" y="813.5">−40</text><text x="273.6" y="813.5">−40</text><text x="287.3" y="813.5">−41</text><text x="301.1" y="813.5">−40</text><text x="314.9" y="813.5">−41</text><text x="328.7" y="813.5">−38</text><text x="342.5" y="813.5">−40</text><text x="356.3" y="813.5">−40</text><text x="370.0" y="813.5">−38</text><text x="383.8" y="813.5">−39</text><text x="397.6" y="813.5">−39</text><text x="411.4" y="813.5">−41</text><text x="425.2" y="813.5">−41</text><text x="439.0" y="813.5">−40</text><text x="452.8" y="813.5">−42</text><text x="466.5" y="813.5">−41</text><text x="480.3" y="813.5">−42</text><text x="494.1" y="813.5">−38</text><text x="507.9" y="813.5">−38</text><text x="521.7" y="813.5">−38</text><text x="535.5" y="813.5">−40</text><text x="549.2" y="813.5">−40</text><text x="563.0" y="813.5">−40</text><text x="576.8" y="813.5">−40</text><text x="590.6" y="813.5">−39</text><text x="604.4" y="813.5">−38</text><text x="618.2" y="813.5">−38</text><text x="632.0" y="813.5">−39</text><text x="645.7" y="813.5">−42</text><text x="659.5" y="813.5">−42</text><text x="673.3" y="813.5">−40</text><text x="687.1" y="813.5">−41</text><text x="700.9" y="813.5">−42</text><text x="714.7" y="813.5">−42</text><text x="728.5" y="813.5">−40</text><text x="742.2" y="813.5">−40</text><text x="756.0" y="813.5">−42</text><text x="769.8" y="813.5">−38</text><text x="783.6" y="813.5">−38</text><text x="797.4" y="813.5">−40</text><text x="811.2" y="813.5">−41</text><text x="824.9" y="813.5">−38</text><text x="838.7" y="813.5">−40</text><text x="53.0" y="830.6">−37</text><text x="66.8" y="830.6">−39</text><text x="80.6" y="830.6">−36</text><text x="94.4" y="830.6">−36</text><text x="108.1" y="830.6">−39</text><text x="121.9" y="830.6">−39</text><text x="135.7" y="830.6">−40</text><text x="149.5" y="830.6">−38</text><text x="163.3" y="830.6">−37</text><text x="177.1" y="830.6">−38</text><text x="190.8" y="830.6">−37</text><text x="204.6" y="830.6">−40</text><text x="218.4" y="830.6">−36</text><text x="232.2" y="830.6">−37</text><text x="246.0" y="830.6">−40</text><text x="259.8" y="830.6">−40</text><text x="273.6" y="830.6">−37</text><text x="287.3" y="830.6">−40</text><text x="301.1" y="830.6">−40</text><text x="314.9" y="830.6">−36</text><text x="328.7" y="830.6">−39</text><text x="342.5" y="830.6">−36</text><text x="356.3" y="830.6">−38</text><text x="370.0" y="830.6">−36</text><text x="383.8" y="830.6">−38</text><text x="397.6" y="830.6">−37</text><text x="411.4" y="830.6">−38</text><text x="425.2" y="830.6">−39</text><text x="439.0" y="830.6">−39</text><text x="452.8" y="830.6">−40</text><text x="466.5" y="830.6">−40</text><text x="480.3" y="830.6">−40</text><text x="494.1" y="830.6">−36</text><text x="507.9" y="830.6">−37</text><text x="521.7" y="830.6">−38</text><text x="535.5" y="830.6">−40</text><text x="549.2" y="830.6">−36</text><text x="563.0" y="830.6">−36</text><text x="576.8" y="830.6">−39</text><text x="590.6" y="830.6">−37</text><text x="604.4" y="830.6">−37</text><text x="618.2" y="830.6">−40</text><text x="632.0" y="830.6">−39</text><text x="645.7" y="830.6">−39</text><text x="659.5" y="830.6">−37</text><text x="673.3" y="830.6">−40</text><text x="687.1" y="830.6">−37</text><text x="700.9" y="830.6">−40</text><text x="714.7" y="830.6">−40</text><text x="728.5" y="830.6">−37</text><text x="742.2" y="830.6">−36</text><text x="756.0" y="830.6">−36</text><text x="769.8" y="830.6">−39</text><text x="783.6" y="830.6">−40</text><text x="797.4" y="830.6">−38</text><text x="811.2" y="830.6">−38</text><text x="824.9" y="830.6">−40</text><text x="838.7" y="830.6">−36</text><text x="53.0" y="847.6">−43</text><text x="66.8" y="847.6">−44</text><text x="80.6" y="847.6">−46</text><text x="94.4" y="847.6">−45</text><text x="108.1" y="847.6">−44</text><text x="121.9" y="847.6">−47</text><text x="135.7" y="847.6">−44</text><text x="149.5" y="847.6">−47</text><text x="163.3" y="847.6">−47</text><text x="177.1" y="847.6">−47</text><text x="190.8" y="847.6">−45</text><text x="204.6" y="847.6">−45</text><text x="218.4" y="847.6">−44</text><text x="232.2" y="847.6">−44</text><text x="246.0" y="847.6">−46</text><text x="259.8" y="847.6">−47</text><text x="273.6" y="847.6">−45</text><text x="287.3" y="847.6">−45</text><text x="301.1" y="847.6">−46</text><text x="314.9" y="847.6">−45</text><text x="328.7" y="847.6">−46</text><text x="342.5" y="847.6">−47</text><text x="356.3" y="847.6">−44</text><text x="370.0" y="847.6">−45</text><text x="383.8" y="847.6">−45</text><text x="397.6" y="847.6">−44</text><text x="411.4" y="847.6">−45</text><text x="425.2" y="847.6">−45</text><text x="439.0" y="847.6">−45</text><text x="452.8" y="847.6">−46</text><text x="466.5" y="847.6">−47</text><text x="480.3" y="847.6">−46</text><text x="494.1" y="847.6">−45</text><text x="507.9" y="847.6">−44</text><text x="521.7" y="847.6">−47</text><text x="535.5" y="847.6">−44</text><text x="549.2" y="847.6">−43</text><text x="563.0" y="847.6">−46</text><text x="576.8" y="847.6">−45</text><text x="590.6" y="847.6">−47</text><text x="604.4" y="847.6">−44</text><text x="618.2" y="847.6">−44</text><text x="632.0" y="847.6">−45</text><text x="645.7" y="847.6">−45</text><text x="659.5" y="847.6">−45</text><text x="673.3" y="847.6">−44</text><text x="687.1" y="847.6">−43</text><text x="700.9" y="847.6">−43</text><text x="714.7" y="847.6">−45</text><text x="728.5" y="847.6">−45</text><text x="742.2" y="847.6">−46</text><text x="756.0" y="847.6">−47</text><text x="769.8" y="847.6">−46</text><text x="783.6" y="847.6">−47</text><text x="797.4" y="847.6">−44</text><text x="811.2" y="847.6">−46</text><text x="824.9" y="847.6">−45</text><text x="838.7" y="847.6">−45</text></g>
<g font-size="5.6" font-weight="bold" fill="#000"><text x="119.2" y="434.9">ANC</text><text x="176.5" y="422.3">DLN</text><text x="280.2" y="495.7">WAS</text><text x="236.1" y="465.7">WNP</text><text x="286.8" y="490.8">NYK</text><text x="256.8" y="487.5">CHI</text><text x="180.0" y="498.7">SFO</text><text x="189.3" y="509.1">LAX</text><text x="218.4" y="493.5">DEN</text><text x="236.5" y="512.3">DAL</text><text x="273.1" y="531.4">MIA</text><text x="239.6" y="520.5">HOU</text><text x="263.9" y="509.9">ATL</text><text x="244.2" y="479.1">MSP</text><text x="180.3" y="472.0">SEA</text><text x="101.7" y="543.7">HON</text><text x="231.4" y="548.9">MEX</text><text x="268.3" y="538.8">HAV</text><text x="287.7" y="477.7">MTR</text><text x="280.2" y="634.5">LMA</text><text x="299.8" y="646.8">LPZ</text><text x="344.4" y="644.9">BRS</text><text x="354.7" y="664.3">RDJ</text><text x="365.1" y="637.3">SLVD</text><text x="321.2" y="696.2">BNA</text><text x="294.3" y="692.9">STG</text><text x="302.4" y="573.2">CRC</text><text x="286.8" y="589.0">BOT</text><text x="276.9" y="602.3">QTO</text><text x="274.7" y="577.2">PNC</text><text x="449.8" y="461.3">LND</text><text x="455.1" y="468.4">PRS</text><text x="477.6" y="487.5">ROM</text><text x="532.9" y="449.6">MCW</text><text x="456.6" y="501.4">ALG</text><text x="479.1" y="512.1">TRP</text><text x="518.8" y="520.0">CRO</text><text x="553.0" y="534.4">RYD</text><text x="572.0" y="532.8">DUB</text><text x="597.8" y="533.9">KRC</text><text x="610.8" y="550.0">MUM</text><text x="620.3" y="523.8">DHI</text><text x="638.1" y="526.2">KTM</text><text x="626.2" y="583.0">CLM</text><text x="612.1" y="590.3">MLD</text><text x="602.6" y="507.7">KBL</text><text x="613.9" y="515.9">LHR</text><text x="563.4" y="504.4">TRN</text><text x="514.0" y="490.0">IST</text><text x="531.2" y="605.3">NBO</text><text x="536.7" y="620.3">DRS</text><text x="558.7" y="635.4">ANN</text><text x="554.8" y="653.4">ATN</text><text x="512.4" y="643.8">LSK</text><text x="518.4" y="650.4">HRR</text><text x="490.6" y="694.3">CPT</text><text x="483.7" y="613.5">KIN</text><text x="457.5" y="584.1">LOS</text><text x="411.6" y="561.7">DKR</text><text x="535.4" y="577.2">ADD</text><text x="521.7" y="559.2">KRT</text><text x="671.7" y="564.2">BKK</text><text x="678.9" y="598.3">SNG</text><text x="701.9" y="541.0">HKG</text><text x="718.0" y="516.7">SHG</text><text x="758.1" y="504.4">TKY</text><text x="706.7" y="493.0">BJG</text><text x="718.0" y="533.6">TWN</text><text x="716.9" y="562.0">MNL</text><text x="769.4" y="565.0">GUM</text><text x="683.3" y="544.5">HNO</text><text x="681.4" y="570.2">PNH</text><text x="662.2" y="556.0">RNG</text><text x="685.6" y="618.7">JKT</text><text x="738.5" y="635.6">DRW</text><text x="705.6" y="688.8">PTH</text><text x="783.5" y="694.3">SYD</text><text x="835.5" y="714.5">WLT</text><text x="650.9" y="521.1">LSA</text><text x="685.8" y="471.1">ULN</text><text x="740.9" y="484.2">VLD</text><text x="736.1" y="432.7">YKT</text><text x="319.9" y="742.8">Falkland</text></g>
</g>
<rect x="53.0" y="354.0" width="794.0" height="491.0" fill="none" stroke="#000" stroke-width="2"/>
<path d="M48.0 354.0H53.0M48.0 435.8H53.0M48.0 517.7H53.0M48.0 599.5H53.0M48.0 681.3H53.0M48.0 763.2H53.0M48.0 845.0H53.0M53.0 845.0V850.0M185.3 845.0V850.0M317.7 845.0V850.0M450.0 845.0V850.0M582.3 845.0V850.0M714.7 845.0V850.0M847.0 845.0V850.0" stroke="#000" stroke-width="1.6" fill="none"/>
<text x="14.70" y="360.60" font-size="17.60" fill="#000" textLength="29.19" lengthAdjust="spacingAndGlyphs">90N</text>
<text x="14.70" y="442.43" font-size="17.60" fill="#000" textLength="29.19" lengthAdjust="spacingAndGlyphs">60N</text>
<text x="14.70" y="524.27" font-size="17.60" fill="#000" textLength="29.19" lengthAdjust="spacingAndGlyphs">30N</text>
<text x="23.80" y="606.10" font-size="17.60" fill="#000" textLength="20.10" lengthAdjust="spacingAndGlyphs">EQ</text>
<text x="14.70" y="687.93" font-size="17.60" fill="#000" textLength="29.19" lengthAdjust="spacingAndGlyphs">30S</text>
<text x="14.70" y="769.77" font-size="17.60" fill="#000" textLength="29.19" lengthAdjust="spacingAndGlyphs">60S</text>
<text x="14.70" y="851.60" font-size="17.60" fill="#000" textLength="29.19" lengthAdjust="spacingAndGlyphs">90S</text>
<text x="39.50" y="866.80" font-size="17.80" fill="#000" textLength="28.08" lengthAdjust="spacingAndGlyphs">180</text>
<text x="166.90" y="866.80" font-size="17.80" fill="#000" textLength="38.36" lengthAdjust="spacingAndGlyphs">120W</text>
<text x="302.70" y="866.80" font-size="17.80" fill="#000" textLength="30.62" lengthAdjust="spacingAndGlyphs">60W</text>
<text x="445.10" y="866.80" font-size="17.80" fill="#000" textLength="9.82" lengthAdjust="spacingAndGlyphs">0</text>
<text x="568.00" y="866.80" font-size="17.80" fill="#000" textLength="28.49" lengthAdjust="spacingAndGlyphs">60E</text>
<text x="697.10" y="866.80" font-size="17.80" fill="#000" textLength="36.81" lengthAdjust="spacingAndGlyphs">120E</text>
<text x="832.90" y="866.80" font-size="17.80" fill="#000" textLength="28.37" lengthAdjust="spacingAndGlyphs">180</text>
<text x="338.30" y="282.50" font-size="29.70" fill="#8200dc" textLength="65.86" lengthAdjust="spacingAndGlyphs">NCEP</text>
<text x="424.10" y="282.50" font-size="29.70" fill="#8200dc" textLength="47.62" lengthAdjust="spacingAndGlyphs">GFS</text>
<text x="488.80" y="282.50" font-size="29.70" fill="#8200dc" textLength="126.76" lengthAdjust="spacingAndGlyphs">GUIDANCE</text>
<text x="146.20" y="315.60" font-size="30.20" fill="#f00082" textLength="146.51" lengthAdjust="spacingAndGlyphs">UPPERWINDS</text>
<text x="307.10" y="315.60" font-size="30.20" fill="#f00082" textLength="57.23" lengthAdjust="spacingAndGlyphs">(Kts)</text>
<text x="378.10" y="315.60" font-size="30.20" fill="#f00082" textLength="18.56" lengthAdjust="spacingAndGlyphs">&amp;</text>
<text x="410.10" y="315.60" font-size="30.20" fill="#f00082" textLength="174.18" lengthAdjust="spacingAndGlyphs">TEMPERATURES</text>
<text x="600.30" y="315.60" font-size="30.20" fill="#f00082" textLength="51.84" lengthAdjust="spacingAndGlyphs">(Deg</text>
<text x="665.10" y="315.60" font-size="30.20" fill="#f00082" textLength="25.01" lengthAdjust="spacingAndGlyphs">C)</text>
<text x="704.70" y="315.60" font-size="30.20" fill="#f00082" textLength="23.77" lengthAdjust="spacingAndGlyphs">at</text>
<text x="742.10" y="315.60" font-size="30.20" fill="#f00082" textLength="64.24" lengthAdjust="spacingAndGlyphs">120m</text>
<text x="192.40" y="345.80" font-size="22.50" fill="#1e3cff" textLength="60.22" lengthAdjust="spacingAndGlyphs">VALID</text>
<text x="267.40" y="345.80" font-size="22.50" fill="#1e3cff" textLength="43.45" lengthAdjust="spacingAndGlyphs">For:</text>
<text x="327.40" y="345.80" font-size="22.50" fill="#1e3cff" textLength="138.46" lengthAdjust="spacingAndGlyphs">16APR2026</text>
<text x="471.40" y="345.80" font-size="22.50" fill="#1e3cff" textLength="22.77" lengthAdjust="spacingAndGlyphs">at</text>
<text x="509.10" y="345.80" font-size="22.50" fill="#1e3cff" textLength="58.49" lengthAdjust="spacingAndGlyphs">0530</text>
<text x="580.80" y="345.80" font-size="22.50" fill="#1e3cff" textLength="33.42" lengthAdjust="spacingAndGlyphs">IST</text>
<text x="627.40" y="345.80" font-size="22.50" fill="#1e3cff" textLength="73.43" lengthAdjust="spacingAndGlyphs">/0000</text>
<text x="715.80" y="345.80" font-size="22.50" fill="#1e3cff" textLength="43.40" lengthAdjust="spacingAndGlyphs">UTC</text>
<rect x="32" y="873" width="84" height="22" fill="#2040f0"/>
<circle cx="42.3" cy="883.6" r="8.0" fill="none" stroke="#fff" stroke-width="2.3"/>
<text x="42.3" y="888.3" font-size="12.00" fill="#fff" text-anchor="middle">C</text>
<text x="57.5" y="888.4" font-size="13.00" fill="#dde0ff" text-anchor="start" textLength="54.0" lengthAdjust="spacingAndGlyphs">WEACLIM</text>
<text x="274.90" y="891.80" font-size="22.60" fill="#3c5aff" textLength="69.49" lengthAdjust="spacingAndGlyphs" stroke="#fff" stroke-width="0.5">INITIAL</text>
<text x="360.10" y="891.80" font-size="22.60" fill="#3c5aff" textLength="318.15" lengthAdjust="spacingAndGlyphs" stroke="#fff" stroke-width="0.5">CONDITIONS:00Z10APR2026</text>
<path d="M327.1 916.3L370.1 904.8L370.1 927.9Z" fill="#fff" stroke="#000" stroke-width="1.2"/>
<rect x="370.1" y="904.8" width="42.3" height="23.1" fill="#ffa000" stroke="#000" stroke-width="1.2"/>
<rect x="412.4" y="904.8" width="42.2" height="23.1" fill="#ff6400" stroke="#000" stroke-width="1.2"/>
<rect x="454.6" y="904.8" width="42.6" height="23.1" fill="#ff3200" stroke="#000" stroke-width="1.2"/>
<rect x="497.2" y="904.8" width="42.1" height="23.1" fill="#e11400" stroke="#000" stroke-width="1.2"/>
<rect x="539.3" y="904.8" width="42.3" height="23.1" fill="#c00000" stroke="#000" stroke-width="1.2"/>
<path d="M581.6 904.8L625.6 916.3L581.6 927.9Z" fill="#a50000" stroke="#000" stroke-width="1.2"/>
<text x="359.10" y="947.90" font-size="21.80" fill="#000" textLength="23.15" lengthAdjust="spacingAndGlyphs">10</text>
<text x="400.90" y="947.90" font-size="21.80" fill="#000" textLength="23.15" lengthAdjust="spacingAndGlyphs">20</text>
<text x="442.70" y="947.90" font-size="21.80" fill="#000" textLength="24.95" lengthAdjust="spacingAndGlyphs">40</text>
<text x="485.50" y="947.90" font-size="21.80" fill="#000" textLength="23.65" lengthAdjust="spacingAndGlyphs">60</text>
<text x="526.90" y="947.90" font-size="21.80" fill="#000" textLength="25.85" lengthAdjust="spacingAndGlyphs">80</text>
<text x="565.10" y="947.90" font-size="21.80" fill="#000" textLength="35.57" lengthAdjust="spacingAndGlyphs">100</text>
</svg></body></html>
